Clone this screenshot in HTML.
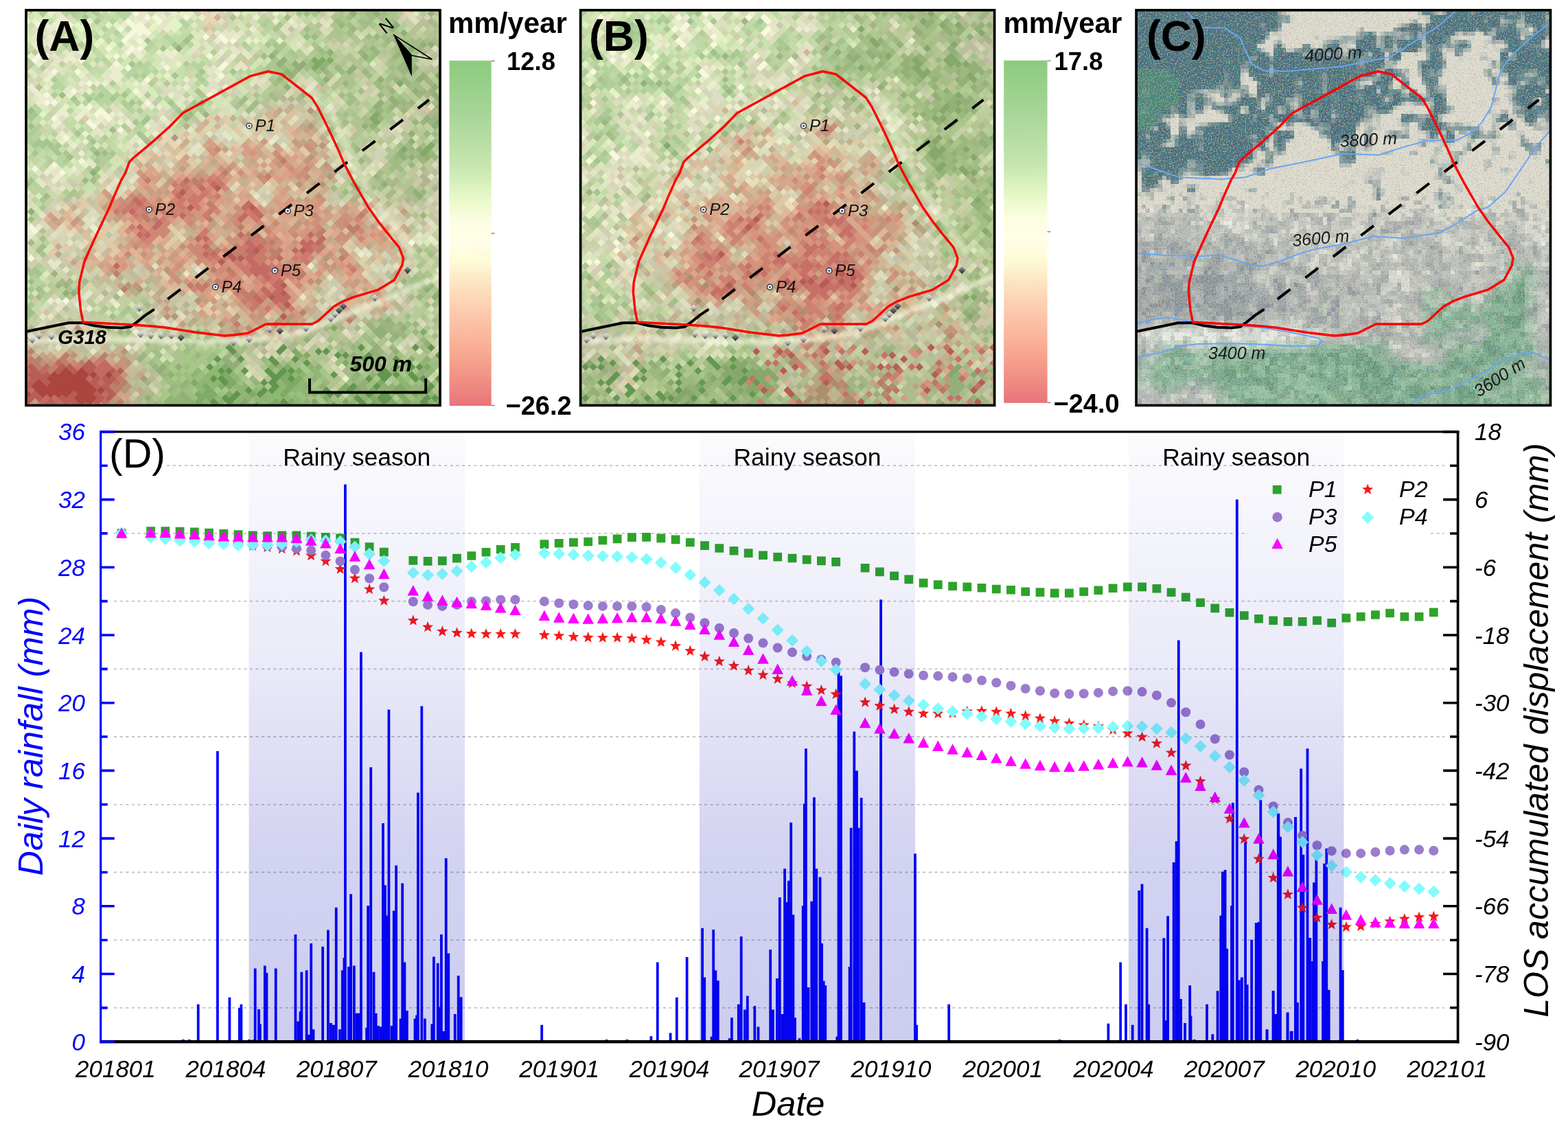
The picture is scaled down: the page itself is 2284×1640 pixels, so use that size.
<!DOCTYPE html><html><head><meta charset="utf-8"><title>Figure</title><style>html,body{margin:0;padding:0;background:#fff}svg{display:block}</style></head><body>
<svg xmlns="http://www.w3.org/2000/svg" width="2284" height="1640" viewBox="0 0 2284 1640">
<rect width="2284" height="1640" fill="#fff"/>
<defs>
<clipPath id="clipA"><rect x="39.9" y="16.6" width="599.3" height="571.9"/></clipPath>
<filter id="blurA" x="-40.1" y="-63.4" width="759.3" height="731.9" filterUnits="userSpaceOnUse"><feGaussianBlur stdDeviation="22"/></filter>
<clipPath id="clipB"><rect x="847.4" y="16.6" width="599.3" height="571.9"/></clipPath>
<filter id="blurB" x="767.4" y="-63.4" width="759.3" height="731.9" filterUnits="userSpaceOnUse"><feGaussianBlur stdDeviation="22"/></filter>
<clipPath id="clipC"><rect x="1657.1" y="16.6" width="601.4" height="571.9"/></clipPath>
<filter id="blurC" x="1577.1" y="-63.4" width="761.4" height="731.9" filterUnits="userSpaceOnUse"><feGaussianBlur stdDeviation="22"/></filter>
<filter id="grain" x="0" y="0" width="1" height="1" color-interpolation-filters="sRGB"><feTurbulence type="fractalNoise" baseFrequency="0.55" numOctaves="1" seed="7" result="n"/><feColorMatrix in="n" type="matrix" values="0 0 0 0 0.30  0 0 0 0 0.28  0 0 0 0 0.48  -12 0 0 0 4.7" result="a"/><feColorMatrix in="n" type="matrix" values="0 0 0 0 0.78  0 0 0 0 0.70  0 0 0 0 0.52  0 -12 0 0 4.9" result="b"/><feMerge><feMergeNode in="a"/><feMergeNode in="b"/></feMerge></filter>
<filter id="hlb" x="-0.1" y="-0.5" width="1.2" height="2"><feGaussianBlur stdDeviation="2.5"/></filter>
<filter id="grain2" x="0" y="0" width="1" height="1" color-interpolation-filters="sRGB"><feTurbulence type="fractalNoise" baseFrequency="0.5" numOctaves="1" seed="3" result="n"/><feColorMatrix in="n" type="matrix" values="0 0 0 0 0.36  0 0 0 0 0.30  0 0 0 0 0.55  -9 0 0 0 3.9" result="a"/><feColorMatrix in="n" type="matrix" values="0 0 0 0 0.80  0 0 0 0 0.72  0 0 0 0 0.55  0 -9 0 0 3.9" result="b"/><feColorMatrix in="n" type="matrix" values="0 0 0 0 0.30  0 0 0 0 0.62  0 0 0 0 0.60  0 0 -7 0 3.6" result="c"/><feMerge><feMergeNode in="c"/><feMergeNode in="a"/><feMergeNode in="b"/></feMerge></filter>
<linearGradient id="rc0" x1="0" y1="0" x2="0" y2="1"><stop offset="0" stop-color="#f0f0f0"/><stop offset="0.5" stop-color="#b8b8b8"/><stop offset="1" stop-color="#404040"/></linearGradient>
<linearGradient id="rc1" x1="0" y1="0" x2="0" y2="1"><stop offset="0" stop-color="#a0a0a0"/><stop offset="1" stop-color="#202020"/></linearGradient>
<linearGradient id="cbar" x1="0" y1="0" x2="0" y2="1"><stop offset="0" stop-color="#8ccb7e"/><stop offset="0.15" stop-color="#a6d597"/><stop offset="0.3" stop-color="#c5e6ae"/><stop offset="0.4" stop-color="#e8f8c8"/><stop offset="0.46" stop-color="#fcfde0"/><stop offset="0.52" stop-color="#fffee8"/><stop offset="0.58" stop-color="#fefbd8"/><stop offset="0.65" stop-color="#fde3c0"/><stop offset="0.75" stop-color="#fcc4a8"/><stop offset="0.85" stop-color="#f8a890"/><stop offset="0.95" stop-color="#ee8680"/><stop offset="1" stop-color="#e8747a"/></linearGradient>
</defs>
<g clip-path="url(#clipA)"><g filter="url(#blurA)">
<rect x="-20.6" y="-41" width="60.9" height="58.2" fill="#c3dcaa"/>
<rect x="39.4" y="-41" width="60.9" height="58.2" fill="#c3dcaa"/>
<rect x="99.3" y="-41" width="60.9" height="58.2" fill="#c8e1af"/>
<rect x="159.2" y="-41" width="60.9" height="58.2" fill="#d2e8b9"/>
<rect x="219.1" y="-41" width="60.9" height="58.2" fill="#dcebbe"/>
<rect x="279.1" y="-41" width="60.9" height="58.2" fill="#e1e1be"/>
<rect x="339" y="-41" width="60.9" height="58.2" fill="#c8daaa"/>
<rect x="398.9" y="-41" width="60.9" height="58.2" fill="#bed4a0"/>
<rect x="458.9" y="-41" width="60.9" height="58.2" fill="#afc891"/>
<rect x="518.8" y="-41" width="60.9" height="58.2" fill="#aac38c"/>
<rect x="578.7" y="-41" width="60.9" height="58.2" fill="#b4c396"/>
<rect x="638.6" y="-41" width="60.9" height="58.2" fill="#b4c396"/>
<rect x="-20.6" y="16.1" width="60.9" height="58.2" fill="#c3dcaa"/>
<rect x="39.4" y="16.1" width="60.9" height="58.2" fill="#c3dcaa"/>
<rect x="99.3" y="16.1" width="60.9" height="58.2" fill="#c8e1af"/>
<rect x="159.2" y="16.1" width="60.9" height="58.2" fill="#d2e8b9"/>
<rect x="219.1" y="16.1" width="60.9" height="58.2" fill="#dcebbe"/>
<rect x="279.1" y="16.1" width="60.9" height="58.2" fill="#e1e1be"/>
<rect x="339" y="16.1" width="60.9" height="58.2" fill="#c8daaa"/>
<rect x="398.9" y="16.1" width="60.9" height="58.2" fill="#bed4a0"/>
<rect x="458.9" y="16.1" width="60.9" height="58.2" fill="#afc891"/>
<rect x="518.8" y="16.1" width="60.9" height="58.2" fill="#aac38c"/>
<rect x="578.7" y="16.1" width="60.9" height="58.2" fill="#b4c396"/>
<rect x="638.6" y="16.1" width="60.9" height="58.2" fill="#b4c396"/>
<rect x="-20.6" y="73.3" width="60.9" height="58.2" fill="#c8dcaf"/>
<rect x="39.4" y="73.3" width="60.9" height="58.2" fill="#c8dcaf"/>
<rect x="99.3" y="73.3" width="60.9" height="58.2" fill="#cde1b4"/>
<rect x="159.2" y="73.3" width="60.9" height="58.2" fill="#cde4b4"/>
<rect x="219.1" y="73.3" width="60.9" height="58.2" fill="#c8deaf"/>
<rect x="279.1" y="73.3" width="60.9" height="58.2" fill="#cddeb4"/>
<rect x="339" y="73.3" width="60.9" height="58.2" fill="#c3d7a5"/>
<rect x="398.9" y="73.3" width="60.9" height="58.2" fill="#afc891"/>
<rect x="458.9" y="73.3" width="60.9" height="58.2" fill="#aac38c"/>
<rect x="518.8" y="73.3" width="60.9" height="58.2" fill="#a5c087"/>
<rect x="578.7" y="73.3" width="60.9" height="58.2" fill="#aac08c"/>
<rect x="638.6" y="73.3" width="60.9" height="58.2" fill="#aac08c"/>
<rect x="-20.6" y="130.5" width="60.9" height="58.2" fill="#cddeb2"/>
<rect x="39.4" y="130.5" width="60.9" height="58.2" fill="#cddeb2"/>
<rect x="99.3" y="130.5" width="60.9" height="58.2" fill="#d2e4b9"/>
<rect x="159.2" y="130.5" width="60.9" height="58.2" fill="#c8deaf"/>
<rect x="219.1" y="130.5" width="60.9" height="58.2" fill="#cddeb4"/>
<rect x="279.1" y="130.5" width="60.9" height="58.2" fill="#d2deb2"/>
<rect x="339" y="130.5" width="60.9" height="58.2" fill="#cdd2aa"/>
<rect x="398.9" y="130.5" width="60.9" height="58.2" fill="#cdc8a5"/>
<rect x="458.9" y="130.5" width="60.9" height="58.2" fill="#c3d2a0"/>
<rect x="518.8" y="130.5" width="60.9" height="58.2" fill="#a0bc82"/>
<rect x="578.7" y="130.5" width="60.9" height="58.2" fill="#a5be87"/>
<rect x="638.6" y="130.5" width="60.9" height="58.2" fill="#a5be87"/>
<rect x="-20.6" y="187.7" width="60.9" height="58.2" fill="#cddeb2"/>
<rect x="39.4" y="187.7" width="60.9" height="58.2" fill="#cddeb2"/>
<rect x="99.3" y="187.7" width="60.9" height="58.2" fill="#c8dcac"/>
<rect x="159.2" y="187.7" width="60.9" height="58.2" fill="#cddcb2"/>
<rect x="219.1" y="187.7" width="60.9" height="58.2" fill="#d7d7b4"/>
<rect x="279.1" y="187.7" width="60.9" height="58.2" fill="#d7b496"/>
<rect x="339" y="187.7" width="60.9" height="58.2" fill="#d7af91"/>
<rect x="398.9" y="187.7" width="60.9" height="58.2" fill="#d7aa8c"/>
<rect x="458.9" y="187.7" width="60.9" height="58.2" fill="#c8d2a5"/>
<rect x="518.8" y="187.7" width="60.9" height="58.2" fill="#aac38c"/>
<rect x="578.7" y="187.7" width="60.9" height="58.2" fill="#aac08c"/>
<rect x="638.6" y="187.7" width="60.9" height="58.2" fill="#aac08c"/>
<rect x="-20.6" y="244.9" width="60.9" height="58.2" fill="#d2deb4"/>
<rect x="39.4" y="244.9" width="60.9" height="58.2" fill="#d2deb4"/>
<rect x="99.3" y="244.9" width="60.9" height="58.2" fill="#cddcaf"/>
<rect x="159.2" y="244.9" width="60.9" height="58.2" fill="#dcc8a5"/>
<rect x="219.1" y="244.9" width="60.9" height="58.2" fill="#d7a082"/>
<rect x="279.1" y="244.9" width="60.9" height="58.2" fill="#d28c78"/>
<rect x="339" y="244.9" width="60.9" height="58.2" fill="#d7a087"/>
<rect x="398.9" y="244.9" width="60.9" height="58.2" fill="#d2967d"/>
<rect x="458.9" y="244.9" width="60.9" height="58.2" fill="#c8c8a0"/>
<rect x="518.8" y="244.9" width="60.9" height="58.2" fill="#b9c896"/>
<rect x="578.7" y="244.9" width="60.9" height="58.2" fill="#b9c396"/>
<rect x="638.6" y="244.9" width="60.9" height="58.2" fill="#b9c396"/>
<rect x="-20.6" y="302.1" width="60.9" height="58.2" fill="#d7e1b9"/>
<rect x="39.4" y="302.1" width="60.9" height="58.2" fill="#d7e1b9"/>
<rect x="99.3" y="302.1" width="60.9" height="58.2" fill="#d7c8a5"/>
<rect x="159.2" y="302.1" width="60.9" height="58.2" fill="#d7af91"/>
<rect x="219.1" y="302.1" width="60.9" height="58.2" fill="#d2967d"/>
<rect x="279.1" y="302.1" width="60.9" height="58.2" fill="#cd8c78"/>
<rect x="339" y="302.1" width="60.9" height="58.2" fill="#d7a087"/>
<rect x="398.9" y="302.1" width="60.9" height="58.2" fill="#d4a087"/>
<rect x="458.9" y="302.1" width="60.9" height="58.2" fill="#d29682"/>
<rect x="518.8" y="302.1" width="60.9" height="58.2" fill="#d7b99b"/>
<rect x="578.7" y="302.1" width="60.9" height="58.2" fill="#cdd2aa"/>
<rect x="638.6" y="302.1" width="60.9" height="58.2" fill="#cdd2aa"/>
<rect x="-20.6" y="359.3" width="60.9" height="58.2" fill="#cddaaf"/>
<rect x="39.4" y="359.3" width="60.9" height="58.2" fill="#cddaaf"/>
<rect x="99.3" y="359.3" width="60.9" height="58.2" fill="#d2cdaa"/>
<rect x="159.2" y="359.3" width="60.9" height="58.2" fill="#d4aa8c"/>
<rect x="219.1" y="359.3" width="60.9" height="58.2" fill="#d7af91"/>
<rect x="279.1" y="359.3" width="60.9" height="58.2" fill="#d2967d"/>
<rect x="339" y="359.3" width="60.9" height="58.2" fill="#cd7869"/>
<rect x="398.9" y="359.3" width="60.9" height="58.2" fill="#d28c78"/>
<rect x="458.9" y="359.3" width="60.9" height="58.2" fill="#d7af91"/>
<rect x="518.8" y="359.3" width="60.9" height="58.2" fill="#d7b99b"/>
<rect x="578.7" y="359.3" width="60.9" height="58.2" fill="#c3d2a0"/>
<rect x="638.6" y="359.3" width="60.9" height="58.2" fill="#c3d2a0"/>
<rect x="-20.6" y="416.5" width="60.9" height="58.2" fill="#c3d7a5"/>
<rect x="39.4" y="416.5" width="60.9" height="58.2" fill="#c3d7a5"/>
<rect x="99.3" y="416.5" width="60.9" height="58.2" fill="#bed2a0"/>
<rect x="159.2" y="416.5" width="60.9" height="58.2" fill="#afcd96"/>
<rect x="219.1" y="416.5" width="60.9" height="58.2" fill="#cdc3a0"/>
<rect x="279.1" y="416.5" width="60.9" height="58.2" fill="#d7aa8c"/>
<rect x="339" y="416.5" width="60.9" height="58.2" fill="#d28c78"/>
<rect x="398.9" y="416.5" width="60.9" height="58.2" fill="#d4a087"/>
<rect x="458.9" y="416.5" width="60.9" height="58.2" fill="#c8be9b"/>
<rect x="518.8" y="416.5" width="60.9" height="58.2" fill="#cdc3a0"/>
<rect x="578.7" y="416.5" width="60.9" height="58.2" fill="#b9cd96"/>
<rect x="638.6" y="416.5" width="60.9" height="58.2" fill="#b9cd96"/>
<rect x="-20.6" y="473.7" width="60.9" height="58.2" fill="#c8bea0"/>
<rect x="39.4" y="473.7" width="60.9" height="58.2" fill="#c8bea0"/>
<rect x="99.3" y="473.7" width="60.9" height="58.2" fill="#cdbea0"/>
<rect x="159.2" y="473.7" width="60.9" height="58.2" fill="#c8d2a5"/>
<rect x="219.1" y="473.7" width="60.9" height="58.2" fill="#b9cd9b"/>
<rect x="279.1" y="473.7" width="60.9" height="58.2" fill="#b9cd96"/>
<rect x="339" y="473.7" width="60.9" height="58.2" fill="#b9c89b"/>
<rect x="398.9" y="473.7" width="60.9" height="58.2" fill="#afc391"/>
<rect x="458.9" y="473.7" width="60.9" height="58.2" fill="#b4c896"/>
<rect x="518.8" y="473.7" width="60.9" height="58.2" fill="#afc391"/>
<rect x="578.7" y="473.7" width="60.9" height="58.2" fill="#b4c896"/>
<rect x="638.6" y="473.7" width="60.9" height="58.2" fill="#b4c896"/>
<rect x="-20.6" y="530.9" width="60.9" height="58.2" fill="#be645a"/>
<rect x="39.4" y="530.9" width="60.9" height="58.2" fill="#be645a"/>
<rect x="99.3" y="530.9" width="60.9" height="58.2" fill="#c86e5f"/>
<rect x="159.2" y="530.9" width="60.9" height="58.2" fill="#c3b491"/>
<rect x="219.1" y="530.9" width="60.9" height="58.2" fill="#96be78"/>
<rect x="279.1" y="530.9" width="60.9" height="58.2" fill="#8cb96e"/>
<rect x="339" y="530.9" width="60.9" height="58.2" fill="#96b978"/>
<rect x="398.9" y="530.9" width="60.9" height="58.2" fill="#8cb46e"/>
<rect x="458.9" y="530.9" width="60.9" height="58.2" fill="#a5be82"/>
<rect x="518.8" y="530.9" width="60.9" height="58.2" fill="#96b978"/>
<rect x="578.7" y="530.9" width="60.9" height="58.2" fill="#91b473"/>
<rect x="638.6" y="530.9" width="60.9" height="58.2" fill="#91b473"/>
<rect x="-20.6" y="588" width="60.9" height="58.2" fill="#be645a"/>
<rect x="39.4" y="588" width="60.9" height="58.2" fill="#be645a"/>
<rect x="99.3" y="588" width="60.9" height="58.2" fill="#c86e5f"/>
<rect x="159.2" y="588" width="60.9" height="58.2" fill="#c3b491"/>
<rect x="219.1" y="588" width="60.9" height="58.2" fill="#96be78"/>
<rect x="279.1" y="588" width="60.9" height="58.2" fill="#8cb96e"/>
<rect x="339" y="588" width="60.9" height="58.2" fill="#96b978"/>
<rect x="398.9" y="588" width="60.9" height="58.2" fill="#8cb46e"/>
<rect x="458.9" y="588" width="60.9" height="58.2" fill="#a5be82"/>
<rect x="518.8" y="588" width="60.9" height="58.2" fill="#96b978"/>
<rect x="578.7" y="588" width="60.9" height="58.2" fill="#91b473"/>
<rect x="638.6" y="588" width="60.9" height="58.2" fill="#91b473"/>
</g></g>
<g clip-path="url(#clipB)"><g filter="url(#blurB)">
<rect x="787" y="-41" width="60.9" height="58.2" fill="#c3dcaa"/>
<rect x="846.9" y="-41" width="60.9" height="58.2" fill="#c3dcaa"/>
<rect x="906.8" y="-41" width="60.9" height="58.2" fill="#cde4b4"/>
<rect x="966.8" y="-41" width="60.9" height="58.2" fill="#d2e6b9"/>
<rect x="1026.7" y="-41" width="60.9" height="58.2" fill="#d2e4b4"/>
<rect x="1086.6" y="-41" width="60.9" height="58.2" fill="#cddeb2"/>
<rect x="1146.5" y="-41" width="60.9" height="58.2" fill="#c3d7a5"/>
<rect x="1206.5" y="-41" width="60.9" height="58.2" fill="#afc894"/>
<rect x="1266.4" y="-41" width="60.9" height="58.2" fill="#aac38c"/>
<rect x="1326.3" y="-41" width="60.9" height="58.2" fill="#afc391"/>
<rect x="1386.3" y="-41" width="60.9" height="58.2" fill="#b9c39b"/>
<rect x="1446.2" y="-41" width="60.9" height="58.2" fill="#b9c39b"/>
<rect x="787" y="16.1" width="60.9" height="58.2" fill="#c3dcaa"/>
<rect x="846.9" y="16.1" width="60.9" height="58.2" fill="#c3dcaa"/>
<rect x="906.8" y="16.1" width="60.9" height="58.2" fill="#cde4b4"/>
<rect x="966.8" y="16.1" width="60.9" height="58.2" fill="#d2e6b9"/>
<rect x="1026.7" y="16.1" width="60.9" height="58.2" fill="#d2e4b4"/>
<rect x="1086.6" y="16.1" width="60.9" height="58.2" fill="#cddeb2"/>
<rect x="1146.5" y="16.1" width="60.9" height="58.2" fill="#c3d7a5"/>
<rect x="1206.5" y="16.1" width="60.9" height="58.2" fill="#afc894"/>
<rect x="1266.4" y="16.1" width="60.9" height="58.2" fill="#aac38c"/>
<rect x="1326.3" y="16.1" width="60.9" height="58.2" fill="#afc391"/>
<rect x="1386.3" y="16.1" width="60.9" height="58.2" fill="#b9c39b"/>
<rect x="1446.2" y="16.1" width="60.9" height="58.2" fill="#b9c39b"/>
<rect x="787" y="73.3" width="60.9" height="58.2" fill="#c3daa8"/>
<rect x="846.9" y="73.3" width="60.9" height="58.2" fill="#c3daa8"/>
<rect x="906.8" y="73.3" width="60.9" height="58.2" fill="#cde1b2"/>
<rect x="966.8" y="73.3" width="60.9" height="58.2" fill="#d2e4b6"/>
<rect x="1026.7" y="73.3" width="60.9" height="58.2" fill="#cddeb2"/>
<rect x="1086.6" y="73.3" width="60.9" height="58.2" fill="#c8daac"/>
<rect x="1146.5" y="73.3" width="60.9" height="58.2" fill="#c3d4a5"/>
<rect x="1206.5" y="73.3" width="60.9" height="58.2" fill="#aac38e"/>
<rect x="1266.4" y="73.3" width="60.9" height="58.2" fill="#a0be82"/>
<rect x="1326.3" y="73.3" width="60.9" height="58.2" fill="#a5be87"/>
<rect x="1386.3" y="73.3" width="60.9" height="58.2" fill="#afc091"/>
<rect x="1446.2" y="73.3" width="60.9" height="58.2" fill="#afc091"/>
<rect x="787" y="130.5" width="60.9" height="58.2" fill="#c3d7a8"/>
<rect x="846.9" y="130.5" width="60.9" height="58.2" fill="#c3d7a8"/>
<rect x="906.8" y="130.5" width="60.9" height="58.2" fill="#d2deb4"/>
<rect x="966.8" y="130.5" width="60.9" height="58.2" fill="#cddcb2"/>
<rect x="1026.7" y="130.5" width="60.9" height="58.2" fill="#cddaaf"/>
<rect x="1086.6" y="130.5" width="60.9" height="58.2" fill="#cddaaf"/>
<rect x="1146.5" y="130.5" width="60.9" height="58.2" fill="#cdd2aa"/>
<rect x="1206.5" y="130.5" width="60.9" height="58.2" fill="#c3cda0"/>
<rect x="1266.4" y="130.5" width="60.9" height="58.2" fill="#b9cd96"/>
<rect x="1326.3" y="130.5" width="60.9" height="58.2" fill="#a0bc80"/>
<rect x="1386.3" y="130.5" width="60.9" height="58.2" fill="#a0bc80"/>
<rect x="1446.2" y="130.5" width="60.9" height="58.2" fill="#a0bc80"/>
<rect x="787" y="187.7" width="60.9" height="58.2" fill="#c8daac"/>
<rect x="846.9" y="187.7" width="60.9" height="58.2" fill="#c8daac"/>
<rect x="906.8" y="187.7" width="60.9" height="58.2" fill="#cddcaf"/>
<rect x="966.8" y="187.7" width="60.9" height="58.2" fill="#d2dcb2"/>
<rect x="1026.7" y="187.7" width="60.9" height="58.2" fill="#d7d4b2"/>
<rect x="1086.6" y="187.7" width="60.9" height="58.2" fill="#dccdaa"/>
<rect x="1146.5" y="187.7" width="60.9" height="58.2" fill="#d7c8a5"/>
<rect x="1206.5" y="187.7" width="60.9" height="58.2" fill="#d2c3a0"/>
<rect x="1266.4" y="187.7" width="60.9" height="58.2" fill="#c3d4a0"/>
<rect x="1326.3" y="187.7" width="60.9" height="58.2" fill="#a5be82"/>
<rect x="1386.3" y="187.7" width="60.9" height="58.2" fill="#a5be84"/>
<rect x="1446.2" y="187.7" width="60.9" height="58.2" fill="#a5be84"/>
<rect x="787" y="244.9" width="60.9" height="58.2" fill="#cddaaf"/>
<rect x="846.9" y="244.9" width="60.9" height="58.2" fill="#cddaaf"/>
<rect x="906.8" y="244.9" width="60.9" height="58.2" fill="#d0daaf"/>
<rect x="966.8" y="244.9" width="60.9" height="58.2" fill="#d7d2af"/>
<rect x="1026.7" y="244.9" width="60.9" height="58.2" fill="#dabea0"/>
<rect x="1086.6" y="244.9" width="60.9" height="58.2" fill="#d7b496"/>
<rect x="1146.5" y="244.9" width="60.9" height="58.2" fill="#d7aa8c"/>
<rect x="1206.5" y="244.9" width="60.9" height="58.2" fill="#d4a58c"/>
<rect x="1266.4" y="244.9" width="60.9" height="58.2" fill="#c8cda5"/>
<rect x="1326.3" y="244.9" width="60.9" height="58.2" fill="#afc38c"/>
<rect x="1386.3" y="244.9" width="60.9" height="58.2" fill="#afc38c"/>
<rect x="1446.2" y="244.9" width="60.9" height="58.2" fill="#afc38c"/>
<rect x="787" y="302.1" width="60.9" height="58.2" fill="#d4deb4"/>
<rect x="846.9" y="302.1" width="60.9" height="58.2" fill="#d4deb4"/>
<rect x="906.8" y="302.1" width="60.9" height="58.2" fill="#d7d2ac"/>
<rect x="966.8" y="302.1" width="60.9" height="58.2" fill="#d7c3a0"/>
<rect x="1026.7" y="302.1" width="60.9" height="58.2" fill="#d2a082"/>
<rect x="1086.6" y="302.1" width="60.9" height="58.2" fill="#d4a087"/>
<rect x="1146.5" y="302.1" width="60.9" height="58.2" fill="#d49682"/>
<rect x="1206.5" y="302.1" width="60.9" height="58.2" fill="#d49b84"/>
<rect x="1266.4" y="302.1" width="60.9" height="58.2" fill="#d2b496"/>
<rect x="1326.3" y="302.1" width="60.9" height="58.2" fill="#c3cda0"/>
<rect x="1386.3" y="302.1" width="60.9" height="58.2" fill="#b9cd96"/>
<rect x="1446.2" y="302.1" width="60.9" height="58.2" fill="#b9cd96"/>
<rect x="787" y="359.3" width="60.9" height="58.2" fill="#c8d7aa"/>
<rect x="846.9" y="359.3" width="60.9" height="58.2" fill="#c8d7aa"/>
<rect x="906.8" y="359.3" width="60.9" height="58.2" fill="#cdcda8"/>
<rect x="966.8" y="359.3" width="60.9" height="58.2" fill="#d4af91"/>
<rect x="1026.7" y="359.3" width="60.9" height="58.2" fill="#d2a087"/>
<rect x="1086.6" y="359.3" width="60.9" height="58.2" fill="#d29682"/>
<rect x="1146.5" y="359.3" width="60.9" height="58.2" fill="#cd7d6e"/>
<rect x="1206.5" y="359.3" width="60.9" height="58.2" fill="#d2917d"/>
<rect x="1266.4" y="359.3" width="60.9" height="58.2" fill="#d2b99b"/>
<rect x="1326.3" y="359.3" width="60.9" height="58.2" fill="#c8c8a0"/>
<rect x="1386.3" y="359.3" width="60.9" height="58.2" fill="#becd9b"/>
<rect x="1446.2" y="359.3" width="60.9" height="58.2" fill="#becd9b"/>
<rect x="787" y="416.5" width="60.9" height="58.2" fill="#c3d4a5"/>
<rect x="846.9" y="416.5" width="60.9" height="58.2" fill="#c3d4a5"/>
<rect x="906.8" y="416.5" width="60.9" height="58.2" fill="#c3d2a0"/>
<rect x="966.8" y="416.5" width="60.9" height="58.2" fill="#cdbe9b"/>
<rect x="1026.7" y="416.5" width="60.9" height="58.2" fill="#cdb99b"/>
<rect x="1086.6" y="416.5" width="60.9" height="58.2" fill="#cdaa91"/>
<rect x="1146.5" y="416.5" width="60.9" height="58.2" fill="#d08c78"/>
<rect x="1206.5" y="416.5" width="60.9" height="58.2" fill="#d2a087"/>
<rect x="1266.4" y="416.5" width="60.9" height="58.2" fill="#cdb996"/>
<rect x="1326.3" y="416.5" width="60.9" height="58.2" fill="#c8c8a0"/>
<rect x="1386.3" y="416.5" width="60.9" height="58.2" fill="#c3c89b"/>
<rect x="1446.2" y="416.5" width="60.9" height="58.2" fill="#c3c89b"/>
<rect x="787" y="473.7" width="60.9" height="58.2" fill="#bec3a0"/>
<rect x="846.9" y="473.7" width="60.9" height="58.2" fill="#bec3a0"/>
<rect x="906.8" y="473.7" width="60.9" height="58.2" fill="#c8c3a0"/>
<rect x="966.8" y="473.7" width="60.9" height="58.2" fill="#c3d2a0"/>
<rect x="1026.7" y="473.7" width="60.9" height="58.2" fill="#b4cd96"/>
<rect x="1086.6" y="473.7" width="60.9" height="58.2" fill="#b9c896"/>
<rect x="1146.5" y="473.7" width="60.9" height="58.2" fill="#c8af91"/>
<rect x="1206.5" y="473.7" width="60.9" height="58.2" fill="#c3be96"/>
<rect x="1266.4" y="473.7" width="60.9" height="58.2" fill="#b4c391"/>
<rect x="1326.3" y="473.7" width="60.9" height="58.2" fill="#c3be96"/>
<rect x="1386.3" y="473.7" width="60.9" height="58.2" fill="#c3c396"/>
<rect x="1446.2" y="473.7" width="60.9" height="58.2" fill="#c3c396"/>
<rect x="787" y="530.9" width="60.9" height="58.2" fill="#afbe8c"/>
<rect x="846.9" y="530.9" width="60.9" height="58.2" fill="#afbe8c"/>
<rect x="906.8" y="530.9" width="60.9" height="58.2" fill="#a0be7d"/>
<rect x="966.8" y="530.9" width="60.9" height="58.2" fill="#96b973"/>
<rect x="1026.7" y="530.9" width="60.9" height="58.2" fill="#96b473"/>
<rect x="1086.6" y="530.9" width="60.9" height="58.2" fill="#96b673"/>
<rect x="1146.5" y="530.9" width="60.9" height="58.2" fill="#b4b487"/>
<rect x="1206.5" y="530.9" width="60.9" height="58.2" fill="#afaf82"/>
<rect x="1266.4" y="530.9" width="60.9" height="58.2" fill="#b4b284"/>
<rect x="1326.3" y="530.9" width="60.9" height="58.2" fill="#b4b487"/>
<rect x="1386.3" y="530.9" width="60.9" height="58.2" fill="#afb98c"/>
<rect x="1446.2" y="530.9" width="60.9" height="58.2" fill="#afb98c"/>
<rect x="787" y="588" width="60.9" height="58.2" fill="#afbe8c"/>
<rect x="846.9" y="588" width="60.9" height="58.2" fill="#afbe8c"/>
<rect x="906.8" y="588" width="60.9" height="58.2" fill="#a0be7d"/>
<rect x="966.8" y="588" width="60.9" height="58.2" fill="#96b973"/>
<rect x="1026.7" y="588" width="60.9" height="58.2" fill="#96b473"/>
<rect x="1086.6" y="588" width="60.9" height="58.2" fill="#96b673"/>
<rect x="1146.5" y="588" width="60.9" height="58.2" fill="#b4b487"/>
<rect x="1206.5" y="588" width="60.9" height="58.2" fill="#afaf82"/>
<rect x="1266.4" y="588" width="60.9" height="58.2" fill="#b4b284"/>
<rect x="1326.3" y="588" width="60.9" height="58.2" fill="#b4b487"/>
<rect x="1386.3" y="588" width="60.9" height="58.2" fill="#afb98c"/>
<rect x="1446.2" y="588" width="60.9" height="58.2" fill="#afb98c"/>
</g></g>
<g clip-path="url(#clipC)"><g filter="url(#blurC)">
<rect x="1596.5" y="-41" width="61.1" height="58.2" fill="#5f8282"/>
<rect x="1656.6" y="-41" width="61.1" height="58.2" fill="#5f8282"/>
<rect x="1716.7" y="-41" width="61.1" height="58.2" fill="#6e8c87"/>
<rect x="1776.9" y="-41" width="61.1" height="58.2" fill="#6e8c8c"/>
<rect x="1837" y="-41" width="61.1" height="58.2" fill="#829691"/>
<rect x="1897.2" y="-41" width="61.1" height="58.2" fill="#d2d0c3"/>
<rect x="1957.3" y="-41" width="61.1" height="58.2" fill="#d7d4c8"/>
<rect x="2017.4" y="-41" width="61.1" height="58.2" fill="#b4b9af"/>
<rect x="2077.6" y="-41" width="61.1" height="58.2" fill="#78918c"/>
<rect x="2137.7" y="-41" width="61.1" height="58.2" fill="#8c9b96"/>
<rect x="2197.9" y="-41" width="61.1" height="58.2" fill="#96a096"/>
<rect x="2258" y="-41" width="61.1" height="58.2" fill="#96a096"/>
<rect x="1596.5" y="16.1" width="61.1" height="58.2" fill="#5f8282"/>
<rect x="1656.6" y="16.1" width="61.1" height="58.2" fill="#5f8282"/>
<rect x="1716.7" y="16.1" width="61.1" height="58.2" fill="#6e8c87"/>
<rect x="1776.9" y="16.1" width="61.1" height="58.2" fill="#6e8c8c"/>
<rect x="1837" y="16.1" width="61.1" height="58.2" fill="#829691"/>
<rect x="1897.2" y="16.1" width="61.1" height="58.2" fill="#d2d0c3"/>
<rect x="1957.3" y="16.1" width="61.1" height="58.2" fill="#d7d4c8"/>
<rect x="2017.4" y="16.1" width="61.1" height="58.2" fill="#b4b9af"/>
<rect x="2077.6" y="16.1" width="61.1" height="58.2" fill="#78918c"/>
<rect x="2137.7" y="16.1" width="61.1" height="58.2" fill="#8c9b96"/>
<rect x="2197.9" y="16.1" width="61.1" height="58.2" fill="#96a096"/>
<rect x="2258" y="16.1" width="61.1" height="58.2" fill="#96a096"/>
<rect x="1596.5" y="73.3" width="61.1" height="58.2" fill="#648782"/>
<rect x="1656.6" y="73.3" width="61.1" height="58.2" fill="#648782"/>
<rect x="1716.7" y="73.3" width="61.1" height="58.2" fill="#6e8c87"/>
<rect x="1776.9" y="73.3" width="61.1" height="58.2" fill="#7d918c"/>
<rect x="1837" y="73.3" width="61.1" height="58.2" fill="#96a59b"/>
<rect x="1897.2" y="73.3" width="61.1" height="58.2" fill="#8c9b96"/>
<rect x="1957.3" y="73.3" width="61.1" height="58.2" fill="#789187"/>
<rect x="2017.4" y="73.3" width="61.1" height="58.2" fill="#96a59b"/>
<rect x="2077.6" y="73.3" width="61.1" height="58.2" fill="#c8c8bc"/>
<rect x="2137.7" y="73.3" width="61.1" height="58.2" fill="#c8c8be"/>
<rect x="2197.9" y="73.3" width="61.1" height="58.2" fill="#8c9b96"/>
<rect x="2258" y="73.3" width="61.1" height="58.2" fill="#8c9b96"/>
<rect x="1596.5" y="130.5" width="61.1" height="58.2" fill="#5f8c7d"/>
<rect x="1656.6" y="130.5" width="61.1" height="58.2" fill="#5f8c7d"/>
<rect x="1716.7" y="130.5" width="61.1" height="58.2" fill="#96a59b"/>
<rect x="1776.9" y="130.5" width="61.1" height="58.2" fill="#789187"/>
<rect x="1837" y="130.5" width="61.1" height="58.2" fill="#7d948c"/>
<rect x="1897.2" y="130.5" width="61.1" height="58.2" fill="#78918c"/>
<rect x="1957.3" y="130.5" width="61.1" height="58.2" fill="#6e8c87"/>
<rect x="2017.4" y="130.5" width="61.1" height="58.2" fill="#8c9b94"/>
<rect x="2077.6" y="130.5" width="61.1" height="58.2" fill="#d7d4c8"/>
<rect x="2137.7" y="130.5" width="61.1" height="58.2" fill="#b4b9af"/>
<rect x="2197.9" y="130.5" width="61.1" height="58.2" fill="#829691"/>
<rect x="2258" y="130.5" width="61.1" height="58.2" fill="#829691"/>
<rect x="1596.5" y="187.7" width="61.1" height="58.2" fill="#789187"/>
<rect x="1656.6" y="187.7" width="61.1" height="58.2" fill="#789187"/>
<rect x="1716.7" y="187.7" width="61.1" height="58.2" fill="#6e8c82"/>
<rect x="1776.9" y="187.7" width="61.1" height="58.2" fill="#789187"/>
<rect x="1837" y="187.7" width="61.1" height="58.2" fill="#8c9b91"/>
<rect x="1897.2" y="187.7" width="61.1" height="58.2" fill="#bec3b4"/>
<rect x="1957.3" y="187.7" width="61.1" height="58.2" fill="#bec3b4"/>
<rect x="2017.4" y="187.7" width="61.1" height="58.2" fill="#b9beb4"/>
<rect x="2077.6" y="187.7" width="61.1" height="58.2" fill="#c8c8be"/>
<rect x="2137.7" y="187.7" width="61.1" height="58.2" fill="#bec0b6"/>
<rect x="2197.9" y="187.7" width="61.1" height="58.2" fill="#aab4aa"/>
<rect x="2258" y="187.7" width="61.1" height="58.2" fill="#aab4aa"/>
<rect x="1596.5" y="244.9" width="61.1" height="58.2" fill="#bec3b4"/>
<rect x="1656.6" y="244.9" width="61.1" height="58.2" fill="#bec3b4"/>
<rect x="1716.7" y="244.9" width="61.1" height="58.2" fill="#b4b9aa"/>
<rect x="1776.9" y="244.9" width="61.1" height="58.2" fill="#bebeaf"/>
<rect x="1837" y="244.9" width="61.1" height="58.2" fill="#d2d0be"/>
<rect x="1897.2" y="244.9" width="61.1" height="58.2" fill="#d7d4c3"/>
<rect x="1957.3" y="244.9" width="61.1" height="58.2" fill="#c8c8be"/>
<rect x="2017.4" y="244.9" width="61.1" height="58.2" fill="#c8c8be"/>
<rect x="2077.6" y="244.9" width="61.1" height="58.2" fill="#c3c6bc"/>
<rect x="2137.7" y="244.9" width="61.1" height="58.2" fill="#cdcdc3"/>
<rect x="2197.9" y="244.9" width="61.1" height="58.2" fill="#c3c6bc"/>
<rect x="2258" y="244.9" width="61.1" height="58.2" fill="#c3c6bc"/>
<rect x="1596.5" y="302.1" width="61.1" height="58.2" fill="#b4b9af"/>
<rect x="1656.6" y="302.1" width="61.1" height="58.2" fill="#b4b9af"/>
<rect x="1716.7" y="302.1" width="61.1" height="58.2" fill="#c3c3b9"/>
<rect x="1776.9" y="302.1" width="61.1" height="58.2" fill="#bebeb4"/>
<rect x="1837" y="302.1" width="61.1" height="58.2" fill="#cdcdc3"/>
<rect x="1897.2" y="302.1" width="61.1" height="58.2" fill="#cdcdc3"/>
<rect x="1957.3" y="302.1" width="61.1" height="58.2" fill="#cdcdc3"/>
<rect x="2017.4" y="302.1" width="61.1" height="58.2" fill="#c8c8be"/>
<rect x="2077.6" y="302.1" width="61.1" height="58.2" fill="#cdcdc3"/>
<rect x="2137.7" y="302.1" width="61.1" height="58.2" fill="#c8cac0"/>
<rect x="2197.9" y="302.1" width="61.1" height="58.2" fill="#c8cdc3"/>
<rect x="2258" y="302.1" width="61.1" height="58.2" fill="#c8cdc3"/>
<rect x="1596.5" y="359.3" width="61.1" height="58.2" fill="#afb4af"/>
<rect x="1656.6" y="359.3" width="61.1" height="58.2" fill="#afb4af"/>
<rect x="1716.7" y="359.3" width="61.1" height="58.2" fill="#b9bcb4"/>
<rect x="1776.9" y="359.3" width="61.1" height="58.2" fill="#b9b9b2"/>
<rect x="1837" y="359.3" width="61.1" height="58.2" fill="#c3c3bc"/>
<rect x="1897.2" y="359.3" width="61.1" height="58.2" fill="#c8c8be"/>
<rect x="1957.3" y="359.3" width="61.1" height="58.2" fill="#c8c8be"/>
<rect x="2017.4" y="359.3" width="61.1" height="58.2" fill="#cdcdc3"/>
<rect x="2077.6" y="359.3" width="61.1" height="58.2" fill="#c3c6be"/>
<rect x="2137.7" y="359.3" width="61.1" height="58.2" fill="#c8c8c0"/>
<rect x="2197.9" y="359.3" width="61.1" height="58.2" fill="#c3cdc3"/>
<rect x="2258" y="359.3" width="61.1" height="58.2" fill="#c3cdc3"/>
<rect x="1596.5" y="416.5" width="61.1" height="58.2" fill="#a0a5aa"/>
<rect x="1656.6" y="416.5" width="61.1" height="58.2" fill="#a0a5aa"/>
<rect x="1716.7" y="416.5" width="61.1" height="58.2" fill="#a5aaaa"/>
<rect x="1776.9" y="416.5" width="61.1" height="58.2" fill="#aaacac"/>
<rect x="1837" y="416.5" width="61.1" height="58.2" fill="#afb2af"/>
<rect x="1897.2" y="416.5" width="61.1" height="58.2" fill="#b4b6b2"/>
<rect x="1957.3" y="416.5" width="61.1" height="58.2" fill="#c3c6bc"/>
<rect x="2017.4" y="416.5" width="61.1" height="58.2" fill="#cdcdc3"/>
<rect x="2077.6" y="416.5" width="61.1" height="58.2" fill="#b9c8b4"/>
<rect x="2137.7" y="416.5" width="61.1" height="58.2" fill="#afc3af"/>
<rect x="2197.9" y="416.5" width="61.1" height="58.2" fill="#96afa0"/>
<rect x="2258" y="416.5" width="61.1" height="58.2" fill="#96afa0"/>
<rect x="1596.5" y="473.7" width="61.1" height="58.2" fill="#c8cdc8"/>
<rect x="1656.6" y="473.7" width="61.1" height="58.2" fill="#c8cdc8"/>
<rect x="1716.7" y="473.7" width="61.1" height="58.2" fill="#d7dad4"/>
<rect x="1776.9" y="473.7" width="61.1" height="58.2" fill="#dcded7"/>
<rect x="1837" y="473.7" width="61.1" height="58.2" fill="#cdd4c8"/>
<rect x="1897.2" y="473.7" width="61.1" height="58.2" fill="#c8d2c3"/>
<rect x="1957.3" y="473.7" width="61.1" height="58.2" fill="#afc3aa"/>
<rect x="2017.4" y="473.7" width="61.1" height="58.2" fill="#c8cdc3"/>
<rect x="2077.6" y="473.7" width="61.1" height="58.2" fill="#bec8b9"/>
<rect x="2137.7" y="473.7" width="61.1" height="58.2" fill="#8caf96"/>
<rect x="2197.9" y="473.7" width="61.1" height="58.2" fill="#a5beaa"/>
<rect x="2258" y="473.7" width="61.1" height="58.2" fill="#a5beaa"/>
<rect x="1596.5" y="530.9" width="61.1" height="58.2" fill="#b4c8af"/>
<rect x="1656.6" y="530.9" width="61.1" height="58.2" fill="#b4c8af"/>
<rect x="1716.7" y="530.9" width="61.1" height="58.2" fill="#a5c3a5"/>
<rect x="1776.9" y="530.9" width="61.1" height="58.2" fill="#aac6a8"/>
<rect x="1837" y="530.9" width="61.1" height="58.2" fill="#a0c3a0"/>
<rect x="1897.2" y="530.9" width="61.1" height="58.2" fill="#96be96"/>
<rect x="1957.3" y="530.9" width="61.1" height="58.2" fill="#8cb496"/>
<rect x="2017.4" y="530.9" width="61.1" height="58.2" fill="#8cb496"/>
<rect x="2077.6" y="530.9" width="61.1" height="58.2" fill="#96b99b"/>
<rect x="2137.7" y="530.9" width="61.1" height="58.2" fill="#91b496"/>
<rect x="2197.9" y="530.9" width="61.1" height="58.2" fill="#a0bea5"/>
<rect x="2258" y="530.9" width="61.1" height="58.2" fill="#a0bea5"/>
<rect x="1596.5" y="588" width="61.1" height="58.2" fill="#b4c8af"/>
<rect x="1656.6" y="588" width="61.1" height="58.2" fill="#b4c8af"/>
<rect x="1716.7" y="588" width="61.1" height="58.2" fill="#a5c3a5"/>
<rect x="1776.9" y="588" width="61.1" height="58.2" fill="#aac6a8"/>
<rect x="1837" y="588" width="61.1" height="58.2" fill="#a0c3a0"/>
<rect x="1897.2" y="588" width="61.1" height="58.2" fill="#96be96"/>
<rect x="1957.3" y="588" width="61.1" height="58.2" fill="#8cb496"/>
<rect x="2017.4" y="588" width="61.1" height="58.2" fill="#8cb496"/>
<rect x="2077.6" y="588" width="61.1" height="58.2" fill="#96b99b"/>
<rect x="2137.7" y="588" width="61.1" height="58.2" fill="#91b496"/>
<rect x="2197.9" y="588" width="61.1" height="58.2" fill="#a0bea5"/>
<rect x="2258" y="588" width="61.1" height="58.2" fill="#a0bea5"/>
</g></g>
<g clip-path="url(#clipA)"><g transform="translate(339.5 302.6) rotate(45) scale(8)">
<path fill="#d3d4b7" d="M-2 -50h1v1h-1zM0 -50h1v1h-1zM-3 -47h1v1h-1zM7 -47h1v1h-1zM5 -45h1v1h-1zM4 -44h1v1h-1zM0 -37h1v1h-1zM22 -31h1v1h-1zM-21 -30h1v1h-1zM-15 -30h1v1h-1zM-22 -29h1v1h-1zM24 -29h1v1h-1zM-20 -27h1v1h-1zM11 -27h1v1h-1zM11 -26h2v1h-2zM-1 -25h1v1h-1zM-27 -24h1v1h-1zM3 -24h1v1h-1zM13 -24h1v1h-1zM23 -24h1v1h-1zM6 -21h1v1h-1zM10 -21h1v1h-1zM32 -21h1v1h-1zM-8 -20h1v1h-1zM23 -20h1v1h-1zM-12 -19h1v1h-1zM22 -19h1v1h-1zM-13 -18h1v1h-1zM-6 -18h1v1h-1zM19 -18h1v1h-1zM36 -18h1v1h-1zM-21 -17h1v1h-1zM-19 -17h1v1h-1zM-15 -16h1v1h-1zM-4 -16h1v1h-1zM-25 -15h1v1h-1zM-18 -15h1v1h-1zM-32 -14h1v1h-1zM25 -14h1v1h-1zM28 -13h1v1h-1zM26 -12h1v1h-1zM35 -11h1v1h-1zM23 -10h1v1h-1zM26 -9h1v1h-1zM-20 -8h1v1h-1zM-9 -8h1v1h-1zM1 -7h1v1h-1zM33 -7h1v1h-1zM40 -7h1v1h-1zM1 -6h1v1h-1zM-21 -5h1v1h-1zM39 -5h1v1h-1zM-21 -4h1v1h-1zM31 -4h1v1h-1zM-17 -3h1v1h-1zM30 -3h1v1h-1zM-45 -2h1v1h-1zM-20 -2h1v1h-1zM23 -1h1v1h-1zM-18 1h1v1h-1zM23 1h1v1h-1zM-15 2h1v1h-1zM-45 3h1v1h-1zM-19 3h1v1h-1zM-43 4h1v1h-1zM-43 5h1v1h-1zM-25 5h1v1h-1zM-21 6h1v1h-1zM27 6h1v1h-1zM-43 7h1v1h-1zM-18 8h1v1h-1zM-43 9h1v1h-1zM-18 9h1v1h-1zM-17 10h1v1h-1zM-32 11h1v1h-1zM2 12h1v1h-1zM25 12h1v1h-1zM-41 13h1v1h-1zM-35 13h1v1h-1zM-40 14h1v1h-1zM-24 15h1v1h-1zM-23 17h1v1h-1zM-19 18h1v1h-1zM-15 18h1v1h-1zM-28 19h1v1h-1zM-22 19h1v1h-1zM-16 19h1v1h-1zM-12 19h1v1h-1zM-12 21h1v1h-1zM-24 22h1v1h-1zM-12 22h1v1h-1zM7 23h1v1h-1zM4 24h1v1h-1zM-18 25h1v1h-1zM6 25h1v1h-1zM-19 26h1v1h-1zM4 26h1v1h-1zM-17 27h1v1h-1zM-11 27h1v1h-1zM1 27h1v1h-1zM2 28h1v1h-1zM-25 29h1v1h-1zM-17 29h1v1h-1zM-15 30h1v1h-1zM-9 30h1v1h-1zM-9 31h2v1h-2zM7 32h1v1h-1zM2 33h1v1h-1zM-12 34h1v1h-1zM-2 34h1v1h-1zM-11 35h1v1h-1zM0 35h1v1h-1zM-2 36h1v1h-1zM-8 37h1v1h-1zM-3 37h1v1h-1zM-10 38h1v1h-1zM-7 40h1v1h-1zM-6 41h1v1h-1zM-9 42h1v1h-1z"/>
<path fill="#bfa787" d="M0 -21h1v1h-1zM2 -21h1v1h-1zM-2 -20h1v1h-1zM25 -20h1v1h-1zM-7 -19h1v1h-1zM0 -18h1v1h-1zM8 -18h1v1h-1zM6 -17h2v1h-2zM14 -17h1v1h-1zM19 -15h1v1h-1zM-3 -14h1v1h-1zM12 -13h1v1h-1zM22 -13h1v1h-1zM29 -13h1v1h-1zM-4 -11h1v1h-1zM7 -10h1v1h-1zM-4 -9h1v1h-1zM16 -9h1v1h-1zM10 -8h1v1h-1zM-9 -7h1v1h-1zM27 -7h1v1h-1zM32 -7h1v1h-1zM-3 -6h1v1h-1zM21 -6h1v1h-1zM26 -5h1v1h-1zM-9 -4h1v1h-1zM-3 -2h1v1h-1zM28 -2h1v1h-1zM28 -1h1v1h-1zM22 3h1v1h-1zM23 5h1v1h-1zM-15 10h1v1h-1zM18 10h1v1h-1zM20 10h1v1h-1zM18 11h1v1h-1zM-5 14h1v1h-1zM-17 15h1v1h-1zM1 15h1v1h-1zM17 15h1v1h-1zM16 16h1v1h-1zM4 17h1v1h-1zM14 17h1v1h-1zM-3 18h1v1h-1zM1 19h1v1h-1zM9 19h1v1h-1zM1 20h1v1h-1zM3 20h1v1h-1zM2 21h1v1h-1zM-3 23h1v1h-1zM-21 24h1v1h-1zM-8 24h1v1h-1zM-5 24h1v1h-1zM-14 27h1v1h-1zM-17 28h1v1h-1zM4 33h1v1h-1zM9 33h1v1h-1zM-4 35h1v1h-1zM11 35h1v1h-1zM0 38h1v1h-1zM11 38h1v1h-1zM-3 39h1v1h-1zM-10 43h1v1h-1zM-6 43h1v1h-1zM-10 44h1v1h-1z"/>
<path fill="#9db481" d="M2 -52h1v1h-1zM0 -51h1v1h-1zM8 -46h1v1h-1zM3 -45h1v1h-1zM1 -44h1v1h-1zM10 -44h1v1h-1zM-1 -43h3v1h-3zM-2 -42h1v1h-1zM1 -42h1v1h-1zM8 -42h2v1h-2zM-4 -41h1v1h-1zM1 -41h1v1h-1zM3 -41h1v1h-1zM10 -41h1v1h-1zM13 -41h1v1h-1zM-12 -40h1v1h-1zM3 -40h2v1h-2zM9 -40h1v1h-1zM-8 -39h1v1h-1zM-3 -39h2v1h-2zM5 -39h2v1h-2zM9 -39h1v1h-1zM11 -39h1v1h-1zM14 -39h1v1h-1zM-10 -38h1v1h-1zM4 -38h1v1h-1zM14 -38h1v1h-1zM-4 -37h1v1h-1zM9 -37h1v1h-1zM14 -37h1v1h-1zM5 -36h1v1h-1zM8 -36h1v1h-1zM13 -36h1v1h-1zM-1 -35h1v1h-1zM9 -35h1v1h-1zM12 -35h1v1h-1zM15 -35h1v1h-1zM4 -34h1v1h-1zM7 -34h1v1h-1zM18 -33h2v1h-2zM-5 -32h1v1h-1zM6 -32h1v1h-1zM-2 -31h1v1h-1zM7 -31h1v1h-1zM15 -31h1v1h-1zM17 -31h2v1h-2zM-6 -30h1v1h-1zM17 -29h1v1h-1zM14 -28h1v1h-1zM22 -27h1v1h-1zM-10 -26h1v1h-1zM-6 -24h1v1h-1zM8 -24h1v1h-1zM25 -24h1v1h-1zM30 -24h1v1h-1zM-11 -23h1v1h-1zM2 -23h1v1h-1zM10 -23h1v1h-1zM14 -23h1v1h-1zM15 -21h1v1h-1zM15 -20h2v1h-2zM34 -17h1v1h-1zM31 -13h1v1h-1zM33 -13h1v1h-1zM35 -13h1v1h-1zM42 -12h1v1h-1zM32 -11h1v1h-1zM-16 -9h1v1h-1zM38 -9h1v1h-1zM39 -8h1v1h-1zM41 -8h1v1h-1zM46 -8h1v1h-1zM36 -7h1v1h-1zM46 -7h1v1h-1zM-18 -6h1v1h-1zM35 -6h1v1h-1zM37 -6h2v1h-2zM33 -5h4v1h-4zM37 -4h1v1h-1zM46 -4h1v1h-1zM32 -3h2v1h-2zM38 -3h1v1h-1zM35 -1h1v1h-1zM37 -1h1v1h-1zM46 -1h1v1h-1zM-52 0h1v1h-1zM38 0h1v1h-1zM37 1h1v1h-1zM33 2h1v1h-1zM38 2h1v1h-1zM27 3h1v1h-1zM35 3h1v1h-1zM32 4h1v1h-1zM38 6h1v1h-1zM-25 10h1v1h-1zM28 10h1v1h-1zM34 10h1v1h-1zM21 13h1v1h-1zM20 14h1v1h-1zM23 15h1v1h-1zM17 17h1v1h-1zM13 19h1v1h-1zM15 19h1v1h-1zM18 19h1v1h-1zM24 19h1v1h-1zM11 20h1v1h-1zM12 21h1v1h-1zM10 22h1v1h-1zM14 23h1v1h-1zM6 28h1v1h-1zM2 29h1v1h-1zM1 30h1v1h-1zM7 30h1v1h-1zM10 30h1v1h-1zM12 30h1v1h-1zM15 30h1v1h-1zM-15 31h1v1h-1zM-12 31h1v1h-1zM-1 31h1v1h-1zM7 31h1v1h-1zM15 31h1v1h-1zM-13 32h1v1h-1zM11 33h1v1h-1zM14 36h1v1h-1z"/>
<path fill="#c0d09f" d="M1 -51h1v1h-1zM1 -47h1v1h-1zM5 -43h1v1h-1zM8 -43h1v1h-1zM11 -43h1v1h-1zM-1 -42h1v1h-1zM11 -42h1v1h-1zM11 -40h1v1h-1zM0 -39h1v1h-1zM10 -39h1v1h-1zM15 -39h1v1h-1zM-5 -38h1v1h-1zM7 -38h1v1h-1zM10 -37h1v1h-1zM-5 -36h1v1h-1zM-2 -36h1v1h-1zM1 -36h1v1h-1zM11 -36h1v1h-1zM14 -36h2v1h-2zM-7 -35h1v1h-1zM1 -35h1v1h-1zM13 -35h1v1h-1zM-4 -34h1v1h-1zM-2 -34h1v1h-1zM9 -34h1v1h-1zM12 -34h1v1h-1zM-1 -33h1v1h-1zM4 -33h1v1h-1zM12 -33h1v1h-1zM3 -32h2v1h-2zM-18 -31h1v1h-1zM9 -31h1v1h-1zM-1 -30h1v1h-1zM3 -30h1v1h-1zM8 -30h1v1h-1zM-21 -29h1v1h-1zM-19 -29h1v1h-1zM-17 -29h1v1h-1zM-6 -29h1v1h-1zM-11 -28h1v1h-1zM8 -28h2v1h-2zM22 -28h1v1h-1zM-19 -27h1v1h-1zM3 -27h1v1h-1zM7 -27h1v1h-1zM18 -27h1v1h-1zM23 -27h1v1h-1zM-24 -26h1v1h-1zM-22 -26h1v1h-1zM10 -26h1v1h-1zM-9 -25h1v1h-1zM-3 -25h1v1h-1zM-17 -24h1v1h-1zM-7 -23h1v1h-1zM0 -23h1v1h-1zM9 -23h1v1h-1zM11 -23h1v1h-1zM17 -23h1v1h-1zM19 -23h1v1h-1zM23 -23h1v1h-1zM25 -23h1v1h-1zM29 -23h2v1h-2zM-17 -22h1v1h-1zM17 -22h1v1h-1zM-19 -21h1v1h-1zM16 -21h1v1h-1zM26 -21h1v1h-1zM-19 -20h1v1h-1zM12 -20h1v1h-1zM29 -20h1v1h-1zM-17 -19h1v1h-1zM-9 -19h1v1h-1zM31 -19h1v1h-1zM-11 -18h1v1h-1zM33 -18h2v1h-2zM-13 -17h1v1h-1zM37 -17h1v1h-1zM34 -16h1v1h-1zM-12 -15h1v1h-1zM-16 -14h1v1h-1zM39 -14h1v1h-1zM34 -13h1v1h-1zM41 -13h1v1h-1zM-21 -12h1v1h-1zM38 -12h1v1h-1zM36 -10h1v1h-1zM-21 -9h1v1h-1zM37 -9h1v1h-1zM42 -9h1v1h-1zM-27 -7h1v1h-1zM44 -7h1v1h-1zM-17 -6h1v1h-1zM-20 -5h1v1h-1zM-24 -4h1v1h-1zM-18 -4h1v1h-1zM36 -4h1v1h-1zM-35 -3h1v1h-1zM35 -2h1v1h-1zM37 -2h1v1h-1zM39 0h1v1h-1zM-34 2h1v1h-1zM-23 2h1v1h-1zM-41 3h1v1h-1zM-29 3h1v1h-1zM-31 8h1v1h-1zM-26 8h1v1h-1zM32 8h2v1h-2zM36 8h1v1h-1zM-44 9h1v1h-1zM-19 9h1v1h-1zM-31 10h1v1h-1zM-39 12h1v1h-1zM-30 13h1v1h-1zM-21 14h1v1h-1zM-23 16h1v1h-1zM-33 17h1v1h-1zM-33 19h1v1h-1zM11 19h1v1h-1zM17 19h1v1h-1zM17 20h1v1h-1zM-27 21h1v1h-1zM14 21h1v1h-1zM-25 22h1v1h-1zM-1 22h1v1h-1zM-29 23h2v1h-2zM-25 23h1v1h-1zM-27 24h1v1h-1zM-2 25h1v1h-1zM-28 26h1v1h-1zM-3 26h2v1h-2zM-2 27h1v1h-1zM0 28h2v1h-2zM-7 29h1v1h-1zM1 29h1v1h-1zM3 29h1v1h-1zM-11 30h1v1h-1zM-3 30h1v1h-1zM-4 31h1v1h-1zM-2 31h1v1h-1zM-15 32h2v1h-2zM-12 32h1v1h-1zM-20 33h1v1h-1zM-12 33h1v1h-1zM-20 34h1v1h-1zM-8 34h1v1h-1zM-16 35h1v1h-1zM-12 40h1v1h-1z"/>
<path fill="#d3e4b5" d="M5 -47h1v1h-1zM-6 -39h1v1h-1zM-14 -35h1v1h-1zM-11 -35h1v1h-1zM14 -33h1v1h-1zM-13 -31h1v1h-1zM-4 -31h1v1h-1zM-14 -30h1v1h-1zM-11 -30h1v1h-1zM-14 -29h2v1h-2zM-23 -28h1v1h-1zM-2 -28h1v1h-1zM-21 -27h1v1h-1zM-18 -27h1v1h-1zM-19 -26h1v1h-1zM-22 -25h1v1h-1zM4 -25h1v1h-1zM-18 -24h1v1h-1zM-15 -24h1v1h-1zM12 -24h1v1h-1zM28 -24h1v1h-1zM-16 -23h1v1h-1zM-16 -22h1v1h-1zM-13 -22h1v1h-1zM-16 -21h1v1h-1zM28 -21h1v1h-1zM-15 -20h1v1h-1zM35 -19h1v1h-1zM-22 -17h1v1h-1zM-18 -17h1v1h-1zM-15 -17h2v1h-2zM-36 -16h1v1h-1zM-30 -16h1v1h-1zM-12 -16h1v1h-1zM31 -16h1v1h-1zM-31 -15h1v1h-1zM-24 -15h1v1h-1zM-26 -14h2v1h-2zM-15 -14h1v1h-1zM-39 -13h1v1h-1zM-33 -13h1v1h-1zM-29 -13h1v1h-1zM-16 -13h1v1h-1zM-14 -13h1v1h-1zM38 -13h1v1h-1zM-22 -12h1v1h-1zM-17 -12h3v1h-3zM-39 -10h1v1h-1zM-30 -10h2v1h-2zM-26 -10h1v1h-1zM-24 -10h1v1h-1zM-21 -10h1v1h-1zM-29 -9h1v1h-1zM-22 -9h1v1h-1zM44 -9h1v1h-1zM-31 -8h1v1h-1zM-23 -8h1v1h-1zM-17 -8h1v1h-1zM-38 -7h1v1h-1zM-32 -7h1v1h-1zM-22 -7h1v1h-1zM-41 -6h1v1h-1zM-36 -6h2v1h-2zM-33 -6h1v1h-1zM47 -6h1v1h-1zM-33 -5h1v1h-1zM-45 -4h1v1h-1zM-42 -4h1v1h-1zM-40 -4h1v1h-1zM-38 -4h2v1h-2zM-35 -4h1v1h-1zM-30 -4h1v1h-1zM-48 -2h1v1h-1zM-42 -2h1v1h-1zM-38 -2h1v1h-1zM-30 -2h1v1h-1zM-28 -2h1v1h-1zM31 -2h1v1h-1zM-44 -1h1v1h-1zM-39 -1h1v1h-1zM-30 -1h1v1h-1zM-28 -1h1v1h-1zM-34 0h1v1h-1zM-32 0h1v1h-1zM-51 1h1v1h-1zM-44 1h1v1h-1zM-28 1h1v1h-1zM-50 3h2v1h-2zM-40 3h1v1h-1zM-37 4h1v1h-1zM-32 4h1v1h-1zM-27 6h1v1h-1zM-22 6h1v1h-1zM-36 7h1v1h-1zM-34 7h1v1h-1zM-41 8h1v1h-1zM-39 8h1v1h-1zM-33 8h1v1h-1zM-25 8h1v1h-1zM-21 8h1v1h-1zM-22 9h2v1h-2zM-21 10h1v1h-1zM-40 12h1v1h-1zM-35 12h1v1h-1zM-22 12h1v1h-1zM-33 14h1v1h-1zM-26 14h2v1h-2zM-34 15h1v1h-1zM-38 16h1v1h-1zM-26 17h1v1h-1zM-24 18h1v1h-1zM-18 18h1v1h-1zM-34 19h1v1h-1zM-32 20h1v1h-1zM-26 25h2v1h-2zM-1 25h1v1h-1zM1 25h1v1h-1zM10 25h1v1h-1zM9 27h1v1h-1zM-19 28h1v1h-1zM10 28h1v1h-1zM-19 29h1v1h-1zM-12 29h1v1h-1zM-3 29h1v1h-1zM0 29h1v1h-1zM0 30h1v1h-1zM-19 31h1v1h-1zM-16 33h1v1h-1zM-14 34h1v1h-1zM-15 36h1v1h-1zM-12 36h1v1h-1z"/>
<path fill="#bc7f6c" d="M17 -16h1v1h-1zM18 -14h1v1h-1zM0 -13h1v1h-1zM17 -13h2v1h-2zM14 -9h1v1h-1zM14 -8h1v1h-1zM20 -8h1v1h-1zM16 -7h1v1h-1zM16 -6h1v1h-1zM-6 -4h1v1h-1zM-5 -2h1v1h-1zM9 -1h1v1h-1zM11 -1h1v1h-1zM15 -1h1v1h-1zM17 -1h1v1h-1zM29 -1h1v1h-1zM6 0h1v1h-1zM8 0h1v1h-1zM10 0h2v1h-2zM17 0h1v1h-1zM-9 1h2v1h-2zM3 1h1v1h-1zM5 1h2v1h-2zM-4 2h1v1h-1zM10 2h1v1h-1zM-10 3h1v1h-1zM-3 3h1v1h-1zM-2 4h1v1h-1zM5 4h1v1h-1zM7 4h1v1h-1zM22 4h1v1h-1zM6 5h1v1h-1zM19 6h1v1h-1zM3 7h1v1h-1zM2 8h1v1h-1zM7 8h1v1h-1zM13 8h1v1h-1zM12 9h2v1h-2zM15 9h1v1h-1zM20 9h1v1h-1zM5 10h1v1h-1zM-9 11h1v1h-1zM7 11h1v1h-1zM-14 12h1v1h-1zM-11 12h2v1h-2zM6 13h1v1h-1zM-14 14h1v1h-1zM5 14h1v1h-1zM15 14h1v1h-1zM4 15h1v1h-1zM-7 23h1v1h-1zM-4 24h1v1h-1zM2 35h1v1h-1zM2 36h1v1h-1zM7 36h2v1h-2zM8 37h1v1h-1zM7 38h2v1h-2zM0 39h1v1h-1zM10 39h1v1h-1zM-3 40h1v1h-1zM10 40h1v1h-1zM-3 41h2v1h-2zM9 41h1v1h-1zM-8 44h1v1h-1zM-6 44h1v1h-1zM-3 44h1v1h-1zM-7 45h3v1h-3zM-7 46h1v1h-1zM0 50h1v1h-1z"/>
<path fill="#dadabd" d="M7 -46h1v1h-1zM7 -45h1v1h-1zM-13 -38h1v1h-1zM-12 -35h1v1h-1zM-16 -33h1v1h-1zM1 -33h1v1h-1zM9 -33h2v1h-2zM-15 -32h1v1h-1zM20 -32h1v1h-1zM-14 -31h1v1h-1zM10 -31h1v1h-1zM12 -31h1v1h-1zM23 -31h1v1h-1zM-12 -30h1v1h-1zM9 -29h1v1h-1zM25 -29h1v1h-1zM0 -28h1v1h-1zM-22 -27h1v1h-1zM-7 -27h1v1h-1zM24 -27h1v1h-1zM26 -27h2v1h-2zM-7 -26h1v1h-1zM-24 -25h1v1h-1zM-20 -25h1v1h-1zM26 -24h1v1h-1zM-24 -23h1v1h-1zM-18 -23h1v1h-1zM12 -23h1v1h-1zM28 -23h1v1h-1zM-20 -22h1v1h-1zM-8 -22h1v1h-1zM3 -22h1v1h-1zM12 -22h1v1h-1zM24 -22h1v1h-1zM26 -22h1v1h-1zM-22 -21h1v1h-1zM5 -21h1v1h-1zM21 -21h1v1h-1zM24 -21h1v1h-1zM-23 -20h1v1h-1zM-12 -20h1v1h-1zM34 -20h1v1h-1zM-24 -19h1v1h-1zM-6 -19h1v1h-1zM7 -19h1v1h-1zM16 -19h1v1h-1zM20 -19h1v1h-1zM-26 -18h1v1h-1zM9 -18h1v1h-1zM35 -18h1v1h-1zM-34 -17h1v1h-1zM-17 -17h1v1h-1zM-10 -17h1v1h-1zM-25 -16h1v1h-1zM-18 -16h2v1h-2zM-16 -15h1v1h-1zM-1 -15h1v1h-1zM13 -15h1v1h-1zM30 -15h1v1h-1zM-27 -14h1v1h-1zM-35 -13h1v1h-1zM27 -13h1v1h-1zM-14 -12h2v1h-2zM27 -12h1v1h-1zM-22 -11h1v1h-1zM25 -11h2v1h-2zM30 -11h1v1h-1zM-20 -10h1v1h-1zM-11 -10h1v1h-1zM-8 -10h1v1h-1zM33 -10h1v1h-1zM39 -10h1v1h-1zM-12 -9h1v1h-1zM-12 -8h2v1h-2zM-25 -7h2v1h-2zM2 -7h1v1h-1zM-24 -6h1v1h-1zM-16 -6h1v1h-1zM40 -6h1v1h-1zM-15 -5h1v1h-1zM-46 -4h1v1h-1zM-22 -4h1v1h-1zM-22 -3h1v1h-1zM-19 -3h1v1h-1zM-14 -3h1v1h-1zM-3 -3h1v1h-1zM25 -3h1v1h-1zM37 -3h1v1h-1zM-21 -2h1v1h-1zM-19 -2h2v1h-2zM23 -2h1v1h-1zM25 -1h1v1h-1zM-46 0h1v1h-1zM-25 0h1v1h-1zM24 0h1v1h-1zM-36 1h1v1h-1zM31 1h1v1h-1zM-47 2h1v1h-1zM-42 2h1v1h-1zM-40 2h1v1h-1zM-17 2h1v1h-1zM-44 3h1v1h-1zM-39 3h1v1h-1zM-27 3h1v1h-1zM-45 4h1v1h-1zM-36 4h1v1h-1zM-35 5h1v1h-1zM-31 5h1v1h-1zM-27 5h1v1h-1zM-19 7h1v1h-1zM-36 8h1v1h-1zM-22 8h1v1h-1zM27 8h1v1h-1zM-42 9h1v1h-1zM-43 10h1v1h-1zM-37 10h1v1h-1zM-41 11h1v1h-1zM-21 11h1v1h-1zM23 11h1v1h-1zM-41 12h1v1h-1zM-33 12h1v1h-1zM-17 12h1v1h-1zM23 12h1v1h-1zM22 13h1v1h-1zM23 14h1v1h-1zM-21 16h1v1h-1zM-21 17h1v1h-1zM-25 18h1v1h-1zM-17 18h1v1h-1zM-18 19h1v1h-1zM-27 20h1v1h-1zM-25 20h1v1h-1zM-20 20h1v1h-1zM6 20h1v1h-1zM-13 21h1v1h-1zM-30 24h1v1h-1zM-28 24h1v1h-1zM-16 24h1v1h-1zM-27 25h1v1h-1zM-20 25h1v1h-1zM-23 26h2v1h-2zM-15 26h1v1h-1zM-20 27h1v1h-1zM4 27h1v1h-1zM4 28h1v1h-1zM-22 29h1v1h-1zM-6 29h1v1h-1zM-5 30h1v1h-1zM-1 30h1v1h-1zM-22 31h1v1h-1zM-9 32h1v1h-1zM-1 33h1v1h-1zM-5 34h1v1h-1zM-6 35h1v1h-1zM-3 35h1v1h-1zM-7 36h2v1h-2zM-12 37h1v1h-1zM-4 38h1v1h-1zM-10 39h1v1h-1z"/>
<path fill="#d7c19e" d="M12 -38h1v1h-1zM-29 -23h1v1h-1zM-2 -22h1v1h-1zM-18 -21h1v1h-1zM-5 -21h1v1h-1zM1 -21h1v1h-1zM-27 -20h1v1h-1zM-5 -20h1v1h-1zM2 -20h1v1h-1zM-8 -19h1v1h-1zM-5 -19h1v1h-1zM-3 -19h1v1h-1zM21 -18h1v1h-1zM27 -18h1v1h-1zM-4 -17h3v1h-3zM23 -17h1v1h-1zM-1 -16h1v1h-1zM-7 -15h1v1h-1zM28 -15h1v1h-1zM-7 -14h1v1h-1zM10 -14h1v1h-1zM29 -14h1v1h-1zM-7 -13h1v1h-1zM13 -13h1v1h-1zM24 -13h2v1h-2zM-6 -12h1v1h-1zM17 -12h1v1h-1zM6 -10h1v1h-1zM22 -10h1v1h-1zM29 -10h1v1h-1zM-7 -9h1v1h-1zM-2 -9h1v1h-1zM1 -9h2v1h-2zM-7 -8h1v1h-1zM7 -8h1v1h-1zM-7 -7h1v1h-1zM3 -7h1v1h-1zM30 -7h2v1h-2zM19 -6h1v1h-1zM28 -6h1v1h-1zM32 -5h1v1h-1zM-16 -4h1v1h-1zM20 -4h1v1h-1zM28 -4h2v1h-2zM-2 -3h1v1h-1zM-12 -2h1v1h-1zM21 -2h1v1h-1zM-15 -1h1v1h-1zM7 -1h1v1h-1zM-17 0h3v1h-3zM-11 0h1v1h-1zM-14 1h1v1h-1zM20 1h1v1h-1zM-16 2h1v1h-1zM21 2h1v1h-1zM-18 3h1v1h-1zM-15 3h2v1h-2zM0 3h1v1h-1zM20 3h2v1h-2zM2 5h1v1h-1zM-17 6h1v1h-1zM2 6h1v1h-1zM-16 9h1v1h-1zM-3 11h1v1h-1zM22 11h1v1h-1zM-3 12h1v1h-1zM4 12h1v1h-1zM11 12h1v1h-1zM13 12h1v1h-1zM1 13h2v1h-2zM-19 15h1v1h-1zM-19 16h1v1h-1zM-4 16h1v1h-1zM12 16h1v1h-1zM-18 17h2v1h-2zM-14 17h1v1h-1zM3 17h1v1h-1zM0 18h1v1h-1zM2 18h1v1h-1zM12 18h1v1h-1zM-21 19h1v1h-1zM-11 19h1v1h-1zM-6 19h1v1h-1zM2 19h1v1h-1zM-3 20h1v1h-1zM-21 21h1v1h-1zM-14 21h1v1h-1zM9 21h1v1h-1zM-16 22h2v1h-2zM-13 26h1v1h-1zM-13 27h1v1h-1zM-11 37h1v1h-1zM-4 40h1v1h-1zM-4 41h1v1h-1z"/>
<path fill="#adc48f" d="M1 -52h1v1h-1zM3 -50h1v1h-1zM3 -49h1v1h-1zM3 -48h1v1h-1zM-4 -46h1v1h-1zM8 -45h1v1h-1zM-2 -44h1v1h-1zM8 -44h1v1h-1zM-9 -43h1v1h-1zM-3 -43h1v1h-1zM7 -43h1v1h-1zM-9 -42h2v1h-2zM3 -42h1v1h-1zM0 -41h1v1h-1zM6 -41h1v1h-1zM-7 -40h1v1h-1zM-4 -40h1v1h-1zM2 -40h1v1h-1zM5 -40h2v1h-2zM-10 -39h1v1h-1zM-4 -39h1v1h-1zM1 -39h1v1h-1zM3 -39h2v1h-2zM-12 -38h1v1h-1zM-7 -38h1v1h-1zM-9 -37h1v1h-1zM7 -37h2v1h-2zM16 -37h1v1h-1zM-10 -36h2v1h-2zM-3 -36h1v1h-1zM3 -36h1v1h-1zM6 -36h1v1h-1zM17 -36h2v1h-2zM-10 -35h1v1h-1zM-5 -35h2v1h-2zM5 -35h1v1h-1zM15 -34h1v1h-1zM-5 -33h1v1h-1zM8 -33h1v1h-1zM-11 -32h1v1h-1zM-6 -32h1v1h-1zM-3 -32h3v1h-3zM8 -32h2v1h-2zM-1 -31h1v1h-1zM-18 -30h1v1h-1zM-3 -30h1v1h-1zM2 -30h1v1h-1zM5 -30h1v1h-1zM-18 -29h1v1h-1zM-10 -29h1v1h-1zM-3 -29h1v1h-1zM13 -29h1v1h-1zM16 -29h1v1h-1zM-15 -28h1v1h-1zM-13 -28h2v1h-2zM-6 -28h1v1h-1zM3 -28h3v1h-3zM7 -28h1v1h-1zM12 -28h2v1h-2zM-15 -27h1v1h-1zM5 -27h1v1h-1zM13 -27h1v1h-1zM17 -27h1v1h-1zM-17 -26h1v1h-1zM-12 -26h1v1h-1zM-2 -26h1v1h-1zM14 -26h1v1h-1zM23 -26h1v1h-1zM-25 -25h1v1h-1zM0 -25h1v1h-1zM2 -25h1v1h-1zM15 -25h1v1h-1zM18 -25h1v1h-1zM-13 -24h1v1h-1zM1 -24h1v1h-1zM10 -24h1v1h-1zM3 -23h1v1h-1zM7 -23h2v1h-2zM-12 -22h1v1h-1zM5 -22h1v1h-1zM9 -22h1v1h-1zM14 -22h2v1h-2zM-9 -21h1v1h-1zM30 -20h1v1h-1zM-12 -18h1v1h-1zM31 -17h1v1h-1zM33 -17h1v1h-1zM32 -16h1v1h-1zM36 -16h1v1h-1zM39 -15h1v1h-1zM33 -14h1v1h-1zM36 -14h1v1h-1zM33 -12h1v1h-1zM-20 -11h2v1h-2zM38 -11h1v1h-1zM40 -10h1v1h-1zM-17 -9h1v1h-1zM34 -7h1v1h-1zM41 -7h1v1h-1zM33 -6h1v1h-1zM42 -5h1v1h-1zM49 -5h1v1h-1zM33 -4h1v1h-1zM36 -3h1v1h-1zM49 -3h1v1h-1zM34 -2h1v1h-1zM36 -2h1v1h-1zM41 -2h1v1h-1zM45 -1h1v1h-1zM33 0h1v1h-1zM35 1h1v1h-1zM-21 2h1v1h-1zM29 3h1v1h-1zM32 3h1v1h-1zM30 7h1v1h-1zM-23 8h1v1h-1zM30 8h1v1h-1zM29 9h1v1h-1zM33 9h2v1h-2zM35 10h1v1h-1zM38 10h1v1h-1zM-22 13h1v1h-1zM-31 15h1v1h-1zM-23 18h1v1h-1zM16 18h1v1h-1zM-23 19h1v1h-1zM14 19h1v1h-1zM11 22h1v1h-1zM14 22h1v1h-1zM0 23h1v1h-1zM11 25h1v1h-1zM7 26h1v1h-1zM9 26h1v1h-1zM11 26h3v1h-3zM-1 27h1v1h-1zM8 27h1v1h-1zM7 28h1v1h-1zM12 28h1v1h-1zM7 29h1v1h-1zM10 29h1v1h-1zM10 31h1v1h-1zM13 31h1v1h-1zM-10 32h1v1h-1zM1 32h2v1h-2zM14 34h1v1h-1zM-14 35h1v1h-1zM-15 37h1v1h-1zM-14 38h1v1h-1z"/>
<path fill="#8eb871" d="M9 -45h1v1h-1zM-7 -31h1v1h-1zM-11 -24h1v1h-1zM35 -16h1v1h-1zM44 -5h1v1h-1zM46 -5h1v1h-1zM51 -3h1v1h-1zM47 -2h1v1h-1zM47 -1h1v1h-1zM43 0h2v1h-2zM46 0h1v1h-1zM48 0h1v1h-1zM48 1h1v1h-1zM48 2h1v1h-1zM43 3h2v1h-2zM42 4h1v1h-1zM42 5h1v1h-1zM37 6h1v1h-1zM40 7h1v1h-1zM40 9h1v1h-1zM31 10h2v1h-2zM40 10h1v1h-1zM30 12h1v1h-1zM35 12h1v1h-1zM37 12h1v1h-1zM29 13h1v1h-1zM31 13h1v1h-1zM37 13h1v1h-1zM31 14h3v1h-3zM36 14h1v1h-1zM31 15h1v1h-1zM28 16h2v1h-2zM32 16h3v1h-3zM29 17h1v1h-1zM31 17h1v1h-1zM33 17h1v1h-1zM29 18h2v1h-2zM25 19h1v1h-1zM28 19h2v1h-2zM26 20h1v1h-1zM29 20h1v1h-1zM21 21h2v1h-2zM27 21h2v1h-2zM18 22h1v1h-1zM23 22h3v1h-3zM18 23h2v1h-2zM25 23h1v1h-1zM27 23h1v1h-1zM18 24h1v1h-1zM20 24h1v1h-1zM25 24h1v1h-1zM16 25h1v1h-1zM18 25h3v1h-3zM16 26h1v1h-1zM18 26h1v1h-1zM22 26h1v1h-1zM18 27h2v1h-2zM16 28h1v1h-1zM21 28h2v1h-2zM16 29h1v1h-1zM20 30h1v1h-1zM17 31h3v1h-3zM16 32h2v1h-2zM16 33h1v1h-1z"/>
<path fill="#bbc99a" d="M2 -51h1v1h-1zM2 -49h1v1h-1zM-4 -47h1v1h-1zM2 -47h1v1h-1zM1 -46h1v1h-1zM5 -46h1v1h-1zM-4 -43h1v1h-1zM-10 -42h1v1h-1zM-5 -42h2v1h-2zM12 -42h1v1h-1zM8 -41h2v1h-2zM-11 -40h1v1h-1zM-8 -40h1v1h-1zM0 -40h1v1h-1zM-1 -39h1v1h-1zM8 -38h2v1h-2zM-14 -37h1v1h-1zM-6 -37h1v1h-1zM4 -37h1v1h-1zM-14 -34h1v1h-1zM-10 -34h1v1h-1zM-7 -34h2v1h-2zM14 -34h1v1h-1zM18 -34h1v1h-1zM-19 -33h1v1h-1zM-6 -33h1v1h-1zM-4 -33h1v1h-1zM15 -33h1v1h-1zM-14 -32h1v1h-1zM19 -32h1v1h-1zM-6 -31h1v1h-1zM0 -31h1v1h-1zM3 -31h1v1h-1zM13 -31h1v1h-1zM19 -31h1v1h-1zM-2 -30h1v1h-1zM11 -30h1v1h-1zM-16 -29h1v1h-1zM-11 -29h1v1h-1zM2 -29h1v1h-1zM11 -29h1v1h-1zM18 -29h1v1h-1zM19 -28h1v1h-1zM23 -28h1v1h-1zM8 -27h2v1h-2zM-5 -26h1v1h-1zM16 -26h1v1h-1zM28 -26h1v1h-1zM-2 -25h1v1h-1zM8 -25h1v1h-1zM26 -25h1v1h-1zM28 -25h1v1h-1zM0 -24h1v1h-1zM15 -24h1v1h-1zM18 -24h1v1h-1zM-20 -23h1v1h-1zM-17 -23h1v1h-1zM5 -23h1v1h-1zM-10 -22h1v1h-1zM10 -22h1v1h-1zM19 -22h1v1h-1zM11 -21h1v1h-1zM13 -21h1v1h-1zM30 -21h1v1h-1zM33 -21h1v1h-1zM13 -20h2v1h-2zM32 -20h2v1h-2zM14 -19h1v1h-1zM33 -19h1v1h-1zM11 -18h1v1h-1zM11 -17h1v1h-1zM28 -17h1v1h-1zM-14 -14h1v1h-1zM39 -13h1v1h-1zM32 -12h1v1h-1zM37 -11h1v1h-1zM39 -11h1v1h-1zM35 -9h1v1h-1zM-25 -8h1v1h-1zM36 -8h1v1h-1zM38 -8h1v1h-1zM-17 -7h1v1h-1zM35 -7h1v1h-1zM41 -5h1v1h-1zM41 -4h1v1h-1zM49 -4h1v1h-1zM33 -2h1v1h-1zM34 0h1v1h-1zM27 1h1v1h-1zM30 2h1v1h-1zM-46 5h1v1h-1zM25 6h1v1h-1zM-20 7h1v1h-1zM-45 8h1v1h-1zM31 8h1v1h-1zM24 9h1v1h-1zM27 9h1v1h-1zM36 9h1v1h-1zM-23 10h1v1h-1zM26 12h1v1h-1zM25 13h1v1h-1zM-36 14h1v1h-1zM19 14h1v1h-1zM21 16h1v1h-1zM23 16h1v1h-1zM-30 17h1v1h-1zM-22 17h1v1h-1zM21 18h1v1h-1zM9 23h1v1h-1zM-1 24h1v1h-1zM1 24h2v1h-2zM8 26h1v1h-1zM10 26h1v1h-1zM-9 27h1v1h-1zM-11 28h1v1h-1zM-13 29h1v1h-1zM-7 30h2v1h-2zM-4 30h1v1h-1zM8 30h1v1h-1zM-5 31h1v1h-1zM1 31h2v1h-2zM9 31h1v1h-1zM14 31h1v1h-1zM-18 32h1v1h-1zM13 32h1v1h-1zM-13 33h1v1h-1zM-6 33h1v1h-1zM14 33h1v1h-1zM-17 34h1v1h-1zM-13 34h1v1h-1zM-13 35h1v1h-1zM-8 36h1v1h-1zM-12 39h1v1h-1z"/>
<path fill="#a4bd88" d="M2 -50h1v1h-1zM5 -49h1v1h-1zM5 -48h1v1h-1zM3 -47h1v1h-1zM2 -46h1v1h-1zM-4 -45h1v1h-1zM1 -45h2v1h-2zM4 -45h1v1h-1zM-5 -44h1v1h-1zM0 -44h1v1h-1zM3 -44h1v1h-1zM-7 -43h1v1h-1zM-2 -43h1v1h-1zM4 -43h1v1h-1zM-7 -42h1v1h-1zM-3 -42h1v1h-1zM0 -42h1v1h-1zM2 -42h1v1h-1zM4 -42h1v1h-1zM-11 -41h1v1h-1zM-8 -41h2v1h-2zM-2 -41h1v1h-1zM1 -40h1v1h-1zM8 -40h1v1h-1zM12 -40h1v1h-1zM-9 -39h1v1h-1zM7 -39h1v1h-1zM-8 -38h1v1h-1zM-4 -38h1v1h-1zM3 -38h1v1h-1zM3 -37h1v1h-1zM4 -36h1v1h-1zM-16 -35h1v1h-1zM0 -35h1v1h-1zM8 -35h1v1h-1zM-14 -33h1v1h-1zM16 -33h1v1h-1zM-18 -32h1v1h-1zM-10 -32h1v1h-1zM1 -32h1v1h-1zM5 -31h1v1h-1zM16 -31h1v1h-1zM-5 -30h1v1h-1zM0 -30h2v1h-2zM13 -30h1v1h-1zM15 -30h1v1h-1zM19 -30h1v1h-1zM24 -30h1v1h-1zM-7 -29h1v1h-1zM-1 -29h1v1h-1zM5 -29h2v1h-2zM8 -29h1v1h-1zM-9 -28h1v1h-1zM-5 -28h1v1h-1zM15 -28h1v1h-1zM2 -27h1v1h-1zM14 -27h1v1h-1zM1 -26h1v1h-1zM15 -26h1v1h-1zM20 -26h1v1h-1zM3 -25h1v1h-1zM20 -25h1v1h-1zM22 -25h1v1h-1zM-16 -24h1v1h-1zM2 -24h1v1h-1zM7 -24h1v1h-1zM14 -24h1v1h-1zM16 -24h1v1h-1zM15 -23h1v1h-1zM-11 -22h1v1h-1zM16 -22h1v1h-1zM14 -21h1v1h-1zM-9 -20h1v1h-1zM31 -20h1v1h-1zM29 -19h1v1h-1zM-11 -17h1v1h-1zM-28 -16h1v1h-1zM-13 -16h1v1h-1zM-11 -16h1v1h-1zM33 -16h1v1h-1zM-13 -15h1v1h-1zM-11 -15h1v1h-1zM32 -15h1v1h-1zM32 -14h1v1h-1zM34 -14h2v1h-2zM38 -14h1v1h-1zM37 -13h1v1h-1zM40 -12h1v1h-1zM43 -11h1v1h-1zM42 -10h1v1h-1zM36 -9h1v1h-1zM-45 -7h1v1h-1zM45 -7h1v1h-1zM-19 -6h1v1h-1zM36 -6h1v1h-1zM40 -3h1v1h-1zM39 -2h1v1h-1zM33 -1h1v1h-1zM38 -1h1v1h-1zM33 1h1v1h-1zM32 2h1v1h-1zM34 2h1v1h-1zM37 3h2v1h-2zM29 4h1v1h-1zM-26 5h1v1h-1zM30 5h1v1h-1zM33 5h1v1h-1zM35 5h1v1h-1zM-48 6h1v1h-1zM33 6h1v1h-1zM-37 7h1v1h-1zM-24 9h1v1h-1zM30 9h1v1h-1zM28 11h1v1h-1zM37 11h1v1h-1zM26 13h1v1h-1zM-28 14h1v1h-1zM-22 14h1v1h-1zM34 14h1v1h-1zM-37 15h1v1h-1zM19 16h1v1h-1zM18 17h2v1h-2zM22 20h1v1h-1zM-26 22h1v1h-1zM27 22h1v1h-1zM10 23h1v1h-1zM12 23h1v1h-1zM10 24h1v1h-1zM14 24h1v1h-1zM7 25h1v1h-1zM-25 27h1v1h-1zM7 27h1v1h-1zM-21 28h1v1h-1zM8 28h2v1h-2zM-20 29h1v1h-1zM-2 29h1v1h-1zM-20 30h1v1h-1zM-10 30h1v1h-1zM16 30h1v1h-1zM-13 31h1v1h-1zM-19 34h1v1h-1zM15 34h1v1h-1zM-17 35h1v1h-1zM-15 35h1v1h-1zM-14 36h1v1h-1zM-14 39h2v1h-2zM-11 41h1v1h-1z"/>
<path fill="#b1cd97" d="M-1 -50h1v1h-1zM-2 -46h1v1h-1zM-2 -45h1v1h-1zM-4 -44h1v1h-1zM-5 -43h1v1h-1zM9 -43h1v1h-1zM-9 -41h1v1h-1zM-3 -41h1v1h-1zM-1 -41h1v1h-1zM-2 -40h1v1h-1zM-9 -38h1v1h-1zM-8 -37h1v1h-1zM-16 -36h1v1h-1zM0 -36h1v1h-1zM14 -35h1v1h-1zM18 -35h1v1h-1zM-13 -34h1v1h-1zM-13 -33h1v1h-1zM-9 -33h1v1h-1zM-5 -31h1v1h-1zM4 -31h1v1h-1zM8 -31h1v1h-1zM-10 -30h1v1h-1zM17 -30h1v1h-1zM-20 -29h1v1h-1zM-12 -29h1v1h-1zM0 -29h1v1h-1zM3 -29h1v1h-1zM-20 -28h1v1h-1zM-8 -28h2v1h-2zM16 -28h1v1h-1zM-25 -27h1v1h-1zM-17 -27h1v1h-1zM-13 -27h2v1h-2zM-9 -27h1v1h-1zM-3 -27h1v1h-1zM1 -27h1v1h-1zM7 -26h1v1h-1zM18 -26h1v1h-1zM7 -25h1v1h-1zM-10 -24h1v1h-1zM5 -24h2v1h-2zM-13 -23h2v1h-2zM6 -23h1v1h-1zM-11 -21h1v1h-1zM-11 -20h1v1h-1zM-11 -19h1v1h-1zM-23 -18h1v1h-1zM29 -18h2v1h-2zM-28 -15h1v1h-1zM-14 -15h1v1h-1zM36 -15h1v1h-1zM-25 -13h1v1h-1zM-22 -13h2v1h-2zM36 -13h1v1h-1zM37 -12h1v1h-1zM36 -11h1v1h-1zM37 -10h1v1h-1zM41 -9h1v1h-1zM-43 -8h1v1h-1zM-19 -8h2v1h-2zM-31 -7h1v1h-1zM-46 -6h1v1h-1zM-29 -6h1v1h-1zM-27 -6h1v1h-1zM-21 -6h1v1h-1zM-47 -5h2v1h-2zM-30 -5h1v1h-1zM-18 -5h1v1h-1zM38 -5h1v1h-1zM-48 -4h1v1h-1zM-26 -4h1v1h-1zM-50 -2h1v1h-1zM-41 -2h1v1h-1zM-26 -2h1v1h-1zM-50 -1h1v1h-1zM-32 -1h1v1h-1zM-25 -1h1v1h-1zM-30 0h1v1h-1zM-28 0h2v1h-2zM-53 1h1v1h-1zM-32 3h1v1h-1zM-25 3h1v1h-1zM45 3h1v1h-1zM-34 4h1v1h-1zM37 4h1v1h-1zM-47 6h1v1h-1zM-43 6h1v1h-1zM-40 6h1v1h-1zM-34 6h1v1h-1zM-46 7h2v1h-2zM-26 7h1v1h-1zM-38 8h1v1h-1zM-28 9h1v1h-1zM-25 9h1v1h-1zM-23 9h1v1h-1zM-24 10h1v1h-1zM-23 11h1v1h-1zM-24 13h1v1h-1zM-36 15h1v1h-1zM-28 15h1v1h-1zM-36 16h1v1h-1zM-36 17h2v1h-2zM-24 19h1v1h-1zM16 19h1v1h-1zM19 19h1v1h-1zM14 20h2v1h-2zM24 20h1v1h-1zM13 21h1v1h-1zM13 22h1v1h-1zM17 22h1v1h-1zM0 26h1v1h-1zM6 27h1v1h-1zM-3 28h1v1h-1zM-1 28h1v1h-1zM-14 33h1v1h-1zM-11 33h1v1h-1zM-15 34h1v1h-1zM-14 40h1v1h-1z"/>
<path fill="#9cbe80" d="M-6 -45h1v1h-1zM-8 -44h1v1h-1zM-8 -43h1v1h-1zM-10 -40h1v1h-1zM-5 -40h1v1h-1zM7 -40h1v1h-1zM2 -39h1v1h-1zM-11 -38h1v1h-1zM-2 -38h1v1h-1zM-2 -37h1v1h-1zM7 -36h1v1h-1zM2 -35h2v1h-2zM17 -35h1v1h-1zM-12 -33h1v1h-1zM7 -33h1v1h-1zM-13 -32h1v1h-1zM-9 -32h1v1h-1zM-4 -32h1v1h-1zM14 -31h1v1h-1zM-9 -29h1v1h-1zM1 -29h1v1h-1zM15 -27h1v1h-1zM-15 -26h1v1h-1zM-3 -26h1v1h-1zM-12 -25h1v1h-1zM12 -17h1v1h-1zM33 -15h1v1h-1zM38 -15h1v1h-1zM-44 -8h1v1h-1zM37 -8h1v1h-1zM-18 -7h1v1h-1zM42 -7h1v1h-1zM45 -6h2v1h-2zM48 -4h1v1h-1zM50 -3h1v1h-1zM42 -2h1v1h-1zM46 -2h1v1h-1zM34 -1h1v1h-1zM40 -1h1v1h-1zM42 -1h1v1h-1zM44 -1h1v1h-1zM51 -1h1v1h-1zM40 0h1v1h-1zM46 1h2v1h-2zM35 2h1v1h-1zM37 2h1v1h-1zM39 2h1v1h-1zM36 3h1v1h-1zM46 3h1v1h-1zM34 4h2v1h-2zM40 4h1v1h-1zM36 5h1v1h-1zM38 5h1v1h-1zM40 5h1v1h-1zM36 6h1v1h-1zM37 7h1v1h-1zM42 7h1v1h-1zM39 9h1v1h-1zM33 10h1v1h-1zM31 11h1v1h-1zM38 11h1v1h-1zM-23 12h1v1h-1zM27 12h2v1h-2zM31 12h2v1h-2zM34 12h1v1h-1zM-39 13h1v1h-1zM33 13h1v1h-1zM-23 15h1v1h-1zM24 15h1v1h-1zM26 15h1v1h-1zM32 15h2v1h-2zM31 16h1v1h-1zM26 19h1v1h-1zM16 21h1v1h-1zM18 21h1v1h-1zM23 21h1v1h-1zM29 21h1v1h-1zM16 22h1v1h-1zM23 23h1v1h-1zM12 24h1v1h-1zM17 25h1v1h-1zM22 25h1v1h-1zM14 26h1v1h-1zM17 26h1v1h-1zM15 27h2v1h-2zM11 28h1v1h-1zM14 28h1v1h-1zM17 28h1v1h-1zM12 29h1v1h-1zM15 29h1v1h-1zM17 29h3v1h-3zM9 30h1v1h-1zM13 30h2v1h-2zM16 31h1v1h-1zM-13 40h1v1h-1z"/>
<path fill="#cea98c" d="M0 -20h1v1h-1zM24 -20h1v1h-1zM-2 -19h1v1h-1zM5 -19h1v1h-1zM-7 -18h1v1h-1zM5 -16h1v1h-1zM15 -16h1v1h-1zM18 -16h1v1h-1zM25 -16h1v1h-1zM3 -15h1v1h-1zM7 -15h1v1h-1zM9 -15h1v1h-1zM15 -15h1v1h-1zM1 -14h1v1h-1zM-5 -12h1v1h-1zM6 -12h1v1h-1zM-3 -11h1v1h-1zM0 -11h1v1h-1zM-5 -9h1v1h-1zM-3 -9h1v1h-1zM9 -9h1v1h-1zM17 -9h1v1h-1zM24 -9h1v1h-1zM-4 -8h1v1h-1zM16 -8h1v1h-1zM29 -7h1v1h-1zM22 -6h1v1h-1zM-12 -5h1v1h-1zM4 -5h1v1h-1zM8 -5h2v1h-2zM-8 -4h1v1h-1zM5 -4h1v1h-1zM18 -4h1v1h-1zM-3 -1h1v1h-1zM-12 0h1v1h-1zM-10 0h1v1h-1zM-2 0h1v1h-1zM22 1h1v1h-1zM23 2h1v1h-1zM2 3h1v1h-1zM23 3h1v1h-1zM21 4h1v1h-1zM-17 5h1v1h-1zM-18 6h1v1h-1zM-11 7h1v1h-1zM-2 7h1v1h-1zM19 7h1v1h-1zM-4 8h1v1h-1zM-13 9h1v1h-1zM-6 9h1v1h-1zM15 11h1v1h-1zM17 12h1v1h-1zM1 14h1v1h-1zM6 15h1v1h-1zM-16 16h2v1h-2zM11 16h1v1h-1zM-15 17h1v1h-1zM-10 17h1v1h-1zM10 17h1v1h-1zM7 19h1v1h-1zM-21 20h1v1h-1zM-6 20h1v1h-1zM4 22h1v1h-1zM-21 23h1v1h-1zM-10 23h1v1h-1zM-18 27h1v1h-1zM3 35h1v1h-1zM10 38h1v1h-1zM11 39h1v1h-1zM-5 42h1v1h-1zM-9 45h1v1h-1z"/>
<path fill="#c5c3a2" d="M6 -43h1v1h-1zM11 -37h2v1h-2zM-9 -35h1v1h-1zM-1 -34h1v1h-1zM1 -34h1v1h-1zM-16 -31h1v1h-1zM20 -31h1v1h-1zM22 -29h1v1h-1zM-4 -28h1v1h-1zM18 -28h1v1h-1zM-5 -27h1v1h-1zM25 -27h1v1h-1zM-5 -25h1v1h-1zM23 -25h2v1h-2zM27 -25h1v1h-1zM29 -25h1v1h-1zM-1 -24h1v1h-1zM-5 -22h2v1h-2zM0 -22h1v1h-1zM-13 -19h1v1h-1zM3 -19h1v1h-1zM6 -19h1v1h-1zM10 -19h1v1h-1zM21 -19h1v1h-1zM-4 -18h1v1h-1zM26 -17h1v1h-1zM-9 -16h1v1h-1zM9 -16h1v1h-1zM11 -16h1v1h-1zM-9 -15h1v1h-1zM-6 -15h1v1h-1zM10 -15h1v1h-1zM11 -14h1v1h-1zM27 -14h1v1h-1zM-11 -13h1v1h-1zM23 -13h1v1h-1zM19 -12h1v1h-1zM24 -11h1v1h-1zM5 -10h1v1h-1zM28 -9h1v1h-1zM35 -8h1v1h-1zM-16 -7h1v1h-1zM-12 -7h1v1h-1zM-13 -6h1v1h-1zM40 -5h1v1h-1zM28 -3h1v1h-1zM25 -2h1v1h-1zM30 -2h1v1h-1zM38 -2h1v1h-1zM22 -1h1v1h-1zM26 -1h1v1h-1zM30 0h1v1h-1zM25 2h1v1h-1zM-24 3h1v1h-1zM-16 3h1v1h-1zM28 4h1v1h-1zM19 8h1v1h-1zM22 8h1v1h-1zM-20 9h1v1h-1zM23 10h1v1h-1zM5 12h1v1h-1zM15 13h1v1h-1zM21 14h1v1h-1zM-5 15h1v1h-1zM18 15h2v1h-2zM3 16h1v1h-1zM22 16h1v1h-1zM-20 17h2v1h-2zM-16 18h1v1h-1zM4 18h1v1h-1zM-19 19h1v1h-1zM-13 19h1v1h-1zM-4 19h1v1h-1zM4 19h1v1h-1zM6 19h1v1h-1zM-22 20h1v1h-1zM-1 20h2v1h-2zM2 20h1v1h-1zM4 20h1v1h-1zM8 20h1v1h-1zM-16 21h1v1h-1zM-6 22h3v1h-3zM0 22h1v1h-1zM-1 23h1v1h-1zM2 23h1v1h-1zM4 23h1v1h-1zM-2 24h1v1h-1zM-6 25h2v1h-2zM-12 26h1v1h-1zM-5 26h1v1h-1zM2 26h1v1h-1zM5 26h1v1h-1zM-8 27h1v1h-1zM-14 28h1v1h-1zM-15 29h1v1h-1zM-11 29h1v1h-1zM-1 29h1v1h-1zM6 30h1v1h-1zM0 31h1v1h-1zM8 32h1v1h-1zM12 32h1v1h-1zM7 33h1v1h-1zM-1 34h2v1h-2zM4 34h1v1h-1zM1 35h1v1h-1zM-5 36h1v1h-1zM-3 36h1v1h-1zM0 37h1v1h-1zM11 37h1v1h-1zM-6 38h1v1h-1zM-1 38h1v1h-1zM-5 39h1v1h-1zM-8 40h1v1h-1zM-6 40h1v1h-1zM-11 42h1v1h-1zM-7 42h1v1h-1z"/>
<path fill="#d9d7b2" d="M-4 -48h1v1h-1zM5 -37h1v1h-1zM-11 -36h1v1h-1zM-7 -36h1v1h-1zM10 -35h1v1h-1zM-4 -30h1v1h-1zM19 -29h1v1h-1zM-1 -28h1v1h-1zM-8 -26h1v1h-1zM9 -26h1v1h-1zM-8 -25h1v1h-1zM-4 -25h1v1h-1zM5 -25h1v1h-1zM12 -25h1v1h-1zM-8 -23h1v1h-1zM-26 -22h1v1h-1zM1 -22h1v1h-1zM8 -22h1v1h-1zM-12 -21h1v1h-1zM7 -21h1v1h-1zM7 -20h1v1h-1zM20 -20h1v1h-1zM5 -18h1v1h-1zM-5 -17h1v1h-1zM5 -17h1v1h-1zM24 -17h1v1h-1zM36 -17h1v1h-1zM-8 -16h1v1h-1zM29 -16h1v1h-1zM37 -14h1v1h-1zM-4 -13h1v1h-1zM-10 -12h1v1h-1zM-8 -11h1v1h-1zM23 -11h1v1h-1zM29 -11h1v1h-1zM30 -10h1v1h-1zM-14 -9h1v1h-1zM-14 -8h1v1h-1zM34 -8h1v1h-1zM-14 -7h1v1h-1zM-5 -7h1v1h-1zM-14 -5h1v1h-1zM0 -5h1v1h-1zM2 -5h1v1h-1zM-17 -4h1v1h-1zM-11 -2h1v1h-1zM-17 -1h1v1h-1zM-14 -1h1v1h-1zM22 0h1v1h-1zM24 1h1v1h-1zM-16 4h1v1h-1zM30 4h1v1h-1zM-18 5h1v1h-1zM27 7h1v1h-1zM33 7h1v1h-1zM35 7h1v1h-1zM-20 8h2v1h-2zM-4 10h1v1h-1zM-20 11h1v1h-1zM10 12h1v1h-1zM22 12h1v1h-1zM-18 13h1v1h-1zM12 13h1v1h-1zM9 15h1v1h-1zM5 16h1v1h-1zM-13 17h1v1h-1zM8 17h1v1h-1zM-13 18h1v1h-1zM23 18h1v1h-1zM25 18h1v1h-1zM-28 20h1v1h-1zM0 21h1v1h-1zM8 23h1v1h-1zM-19 24h1v1h-1zM-7 24h1v1h-1zM5 24h1v1h-1zM-19 25h1v1h-1zM-18 26h1v1h-1zM-6 26h1v1h-1zM-9 28h1v1h-1zM5 29h1v1h-1zM-7 31h1v1h-1zM-3 33h1v1h-1zM13 33h1v1h-1zM-10 36h1v1h-1zM-11 43h1v1h-1z"/>
<path fill="#cf796e" d="M0 -9h1v1h-1zM23 -8h1v1h-1zM15 -6h1v1h-1zM15 -4h1v1h-1zM15 -3h2v1h-2zM-6 -2h1v1h-1zM2 -2h3v1h-3zM14 -2h1v1h-1zM-7 -1h1v1h-1zM-8 0h1v1h-1zM-4 0h1v1h-1zM7 0h1v1h-1zM-6 1h1v1h-1zM7 1h1v1h-1zM9 1h1v1h-1zM11 1h1v1h-1zM14 1h2v1h-2zM-6 2h1v1h-1zM-3 2h1v1h-1zM9 2h1v1h-1zM12 2h1v1h-1zM14 2h1v1h-1zM-9 3h1v1h-1zM-7 3h2v1h-2zM6 3h1v1h-1zM9 3h2v1h-2zM13 3h2v1h-2zM-11 4h1v1h-1zM-7 4h3v1h-3zM-3 4h1v1h-1zM6 4h1v1h-1zM14 4h1v1h-1zM-10 5h1v1h-1zM-8 5h1v1h-1zM5 5h1v1h-1zM9 5h1v1h-1zM13 5h1v1h-1zM20 5h1v1h-1zM-8 6h2v1h-2zM-1 6h1v1h-1zM7 6h4v1h-4zM18 6h1v1h-1zM-15 7h1v1h-1zM-9 7h1v1h-1zM-1 7h1v1h-1zM5 7h1v1h-1zM15 7h1v1h-1zM-8 8h2v1h-2zM4 8h1v1h-1zM8 8h1v1h-1zM17 8h1v1h-1zM-9 9h1v1h-1zM3 9h1v1h-1zM11 9h1v1h-1zM14 9h1v1h-1zM-13 10h1v1h-1zM-11 10h1v1h-1zM-8 10h1v1h-1zM8 10h1v1h-1zM11 10h1v1h-1zM13 10h1v1h-1zM15 10h1v1h-1zM-12 11h2v1h-2zM-13 12h1v1h-1zM-14 13h1v1h-1zM-12 13h1v1h-1zM-9 14h1v1h-1zM6 14h1v1h-1zM-15 15h1v1h-1zM-11 15h1v1h-1zM-8 15h1v1h-1zM2 37h1v1h-1zM0 40h1v1h-1zM-3 43h1v1h-1zM7 43h1v1h-1zM-7 47h1v1h-1z"/>
<path fill="#b65e56" d="M14 -4h1v1h-1zM2 -3h1v1h-1zM-5 -1h1v1h-1zM8 2h1v1h-1zM13 2h1v1h-1zM16 3h1v1h-1zM-9 4h1v1h-1zM17 4h1v1h-1zM-6 5h1v1h-1zM7 5h1v1h-1zM19 5h1v1h-1zM5 6h2v1h-2zM16 6h1v1h-1zM20 7h1v1h-1zM5 8h1v1h-1zM6 35h1v1h-1zM5 36h1v1h-1zM6 37h1v1h-1zM1 38h2v1h-2zM5 38h2v1h-2zM1 39h2v1h-2zM4 39h1v1h-1zM6 39h3v1h-3zM4 40h2v1h-2zM8 40h1v1h-1zM-1 41h2v1h-2zM6 41h2v1h-2zM-2 42h1v1h-1zM7 42h1v1h-1zM-2 43h1v1h-1zM3 44h1v1h-1zM6 44h1v1h-1zM-3 45h1v1h-1zM3 45h3v1h-3zM-6 46h5v1h-5zM2 46h2v1h-2zM-5 47h2v1h-2zM-6 48h1v1h-1zM-4 48h1v1h-1zM1 48h2v1h-2zM-5 49h2v1h-2zM-2 49h2v1h-2zM1 49h1v1h-1zM-4 50h1v1h-1zM-2 50h1v1h-1zM-3 51h2v1h-2z"/>
<path fill="#f6f7dc" d="M-22 -22h1v1h-1zM-24 -21h2v1h-2zM-31 -19h1v1h-1zM-26 -19h1v1h-1zM27 -19h1v1h-1zM-20 -18h1v1h-1zM-23 -17h1v1h-1zM-20 -17h1v1h-1zM-19 -16h1v1h-1zM-35 -15h2v1h-2zM-36 -14h1v1h-1zM40 -14h1v1h-1zM-38 -13h1v1h-1zM-36 -12h3v1h-3zM-18 -12h1v1h-1zM-38 -11h4v1h-4zM-42 -10h1v1h-1zM-36 -10h1v1h-1zM-34 -10h1v1h-1zM-27 -10h1v1h-1zM-38 -9h1v1h-1zM-36 -9h1v1h-1zM-33 -9h1v1h-1zM-36 -8h1v1h-1zM-34 -8h1v1h-1zM-34 -7h1v1h-1zM-28 -6h1v1h-1zM-37 -5h1v1h-1zM-35 -5h1v1h-1zM-32 -5h1v1h-1zM-34 -4h1v1h-1zM-45 -3h1v1h-1zM-28 -3h1v1h-1zM-25 -3h1v1h-1zM-46 -1h1v1h-1zM-39 0h1v1h-1zM-49 1h1v1h-1zM-45 1h1v1h-1zM-51 2h1v1h-1zM-38 2h1v1h-1zM-35 2h1v1h-1zM-46 4h1v1h-1zM-30 4h3v1h-3zM-25 4h1v1h-1zM-45 5h1v1h-1zM-41 5h1v1h-1zM-36 5h1v1h-1zM-32 5h1v1h-1zM-30 5h1v1h-1zM-45 6h1v1h-1zM-30 7h2v1h-2zM-39 9h1v1h-1zM-37 9h1v1h-1zM-38 10h1v1h-1zM-35 11h1v1h-1zM-31 12h1v1h-1zM-26 13h1v1h-1zM-29 17h1v1h-1zM-27 17h1v1h-1zM-31 20h1v1h-1zM-32 22h1v1h-1zM-29 25h1v1h-1zM-24 28h2v1h-2zM-20 32h1v1h-1zM-10 33h1v1h-1z"/>
<path fill="#a5c693" d="M-14 -23h1v1h-1zM-18 -18h1v1h-1zM12 -16h1v1h-1zM-29 -14h1v1h-1zM-22 -14h1v1h-1zM-13 -14h1v1h-1zM-30 -12h1v1h-1zM-33 -11h1v1h-1zM-25 -10h1v1h-1zM-19 -9h2v1h-2zM-42 -7h1v1h-1zM-19 -7h1v1h-1zM-44 -6h1v1h-1zM-32 -6h1v1h-1zM-22 -6h1v1h-1zM-20 -6h1v1h-1zM-29 -1h1v1h-1zM-27 -1h1v1h-1zM-23 -1h1v1h-1zM-43 0h1v1h-1zM-23 0h1v1h-1zM-30 1h1v1h-1zM-24 1h1v1h-1zM-32 2h1v1h-1zM-22 2h1v1h-1zM-51 3h1v1h-1zM-33 4h1v1h-1zM-35 6h1v1h-1zM-27 9h1v1h-1zM-30 10h1v1h-1zM-26 10h1v1h-1zM-24 11h1v1h-1zM-38 13h1v1h-1zM-39 14h2v1h-2zM-31 14h1v1h-1zM-29 14h1v1h-1zM-33 15h2v1h-2zM-30 15h1v1h-1zM-34 16h2v1h-2zM-34 17h1v1h-1zM-33 18h1v1h-1zM-35 19h1v1h-1zM-30 22h1v1h-1zM-26 23h1v1h-1zM-25 24h1v1h-1zM-1 26h1v1h-1zM-19 30h1v1h-1zM2 30h1v1h-1zM-11 31h1v1h-1zM-18 33h2v1h-2zM-18 34h1v1h-1zM-16 36h1v1h-1z"/>
<path fill="#e9d6b2" d="M-3 -48h1v1h-1zM-29 -22h3v1h-3zM-28 -21h1v1h-1zM-26 -20h1v1h-1zM-4 -19h1v1h-1zM23 -19h1v1h-1zM21 -17h1v1h-1zM-9 -14h1v1h-1zM5 -11h1v1h-1zM-12 -10h1v1h-1zM25 -9h1v1h-1zM1 -8h1v1h-1zM-15 -4h1v1h-1zM-12 -4h1v1h-1zM-3 -4h1v1h-1zM-20 -1h1v1h-1zM-18 -1h1v1h-1zM-16 -1h1v1h-1zM-18 0h1v1h-1zM-14 0h1v1h-1zM-16 1h1v1h-1zM-19 5h1v1h-1zM-16 10h1v1h-1zM-3 10h1v1h-1zM9 13h1v1h-1zM-22 21h1v1h-1zM-17 21h1v1h-1zM-15 21h1v1h-1zM-18 23h1v1h-1zM-15 23h1v1h-1zM-12 23h1v1h-1zM3 23h1v1h-1zM-20 24h1v1h-1z"/>
<path fill="#c26a63" d="M15 -8h1v1h-1zM13 -7h1v1h-1zM15 -7h1v1h-1zM14 -6h1v1h-1zM13 -5h3v1h-3zM1 -3h1v1h-1zM3 -3h2v1h-2zM13 -3h1v1h-1zM1 -2h1v1h-1zM-6 -1h1v1h-1zM2 -1h1v1h-1zM2 0h1v1h-1zM12 0h1v1h-1zM-7 1h1v1h-1zM8 1h1v1h-1zM-10 2h1v1h-1zM4 2h1v1h-1zM6 2h2v1h-2zM7 3h2v1h-2zM11 3h2v1h-2zM15 3h1v1h-1zM8 4h6v1h-6zM15 4h2v1h-2zM18 4h1v1h-1zM-9 5h1v1h-1zM10 5h2v1h-2zM16 5h3v1h-3zM14 6h2v1h-2zM17 6h1v1h-1zM-6 7h1v1h-1zM0 7h1v1h-1zM-1 8h1v1h-1zM1 8h1v1h-1zM3 8h1v1h-1zM14 8h2v1h-2zM2 9h1v1h-1zM-14 11h2v1h-2zM-8 11h1v1h-1zM-8 12h1v1h-1zM-13 13h1v1h-1zM-10 14h1v1h-1zM-8 14h1v1h-1zM-9 15h1v1h-1zM-8 22h1v1h-1zM3 36h2v1h-2zM6 36h1v1h-1zM3 37h2v1h-2zM7 37h1v1h-1zM3 38h2v1h-2zM5 39h1v1h-1zM3 40h1v1h-1zM7 40h1v1h-1zM8 41h1v1h-1zM-3 42h1v1h-1zM-4 44h1v1h-1zM-4 45h1v1h-1zM4 46h1v1h-1zM-6 47h1v1h-1zM1 47h3v1h-3zM-5 48h1v1h-1zM0 48h1v1h-1zM-3 49h1v1h-1zM0 49h1v1h-1zM-2 52h1v1h-1z"/>
<path fill="#ac4540" d="M5 37h1v1h-1zM3 39h1v1h-1zM1 40h2v1h-2zM6 40h1v1h-1zM1 41h5v1h-5zM-1 42h8v1h-8zM-1 43h8v1h-8zM-2 44h5v1h-5zM4 44h2v1h-2zM-2 45h5v1h-5zM-1 46h3v1h-3zM-3 47h4v1h-4zM-3 48h3v1h-3zM-3 50h1v1h-1z"/>
<path fill="#82aa67" d="M1 -53h1v1h-1zM2 -44h1v1h-1zM9 -44h1v1h-1zM5 -38h1v1h-1zM15 -38h1v1h-1zM17 -34h1v1h-1zM17 -33h1v1h-1zM-7 -32h1v1h-1zM17 -32h1v1h-1zM-8 -31h1v1h-1zM6 -31h1v1h-1zM-9 -30h2v1h-2zM6 -30h2v1h-2zM14 -30h1v1h-1zM-8 -29h1v1h-1zM40 -9h1v1h-1zM45 -5h1v1h-1zM42 -3h1v1h-1zM47 -3h1v1h-1zM51 -2h2v1h-2zM47 0h1v1h-1zM44 1h2v1h-2zM28 2h1v1h-1zM44 2h4v1h-4zM41 3h1v1h-1zM47 3h1v1h-1zM45 4h2v1h-2zM34 5h1v1h-1zM41 5h1v1h-1zM42 6h3v1h-3zM39 7h1v1h-1zM37 8h1v1h-1zM28 9h1v1h-1zM37 9h1v1h-1zM26 10h2v1h-2zM39 10h1v1h-1zM29 12h1v1h-1zM36 12h1v1h-1zM27 13h1v1h-1zM30 13h1v1h-1zM28 14h1v1h-1zM30 14h1v1h-1zM35 14h1v1h-1zM28 15h3v1h-3zM30 16h1v1h-1zM30 17h1v1h-1zM32 17h1v1h-1zM30 19h2v1h-2zM30 20h1v1h-1zM19 21h1v1h-1zM26 21h1v1h-1zM20 22h3v1h-3zM22 23h1v1h-1zM26 23h1v1h-1zM21 24h1v1h-1zM23 24h1v1h-1zM26 24h1v1h-1zM25 25h1v1h-1zM19 26h3v1h-3zM17 27h1v1h-1zM20 27h2v1h-2zM19 28h2v1h-2zM20 29h2v1h-2zM18 32h1v1h-1zM17 33h1v1h-1z"/>
<path fill="#cfceb1" d="M3 -51h1v1h-1zM-1 -49h1v1h-1zM-3 -46h1v1h-1zM2 -32h1v1h-1zM-21 -31h1v1h-1zM-20 -30h1v1h-1zM10 -30h1v1h-1zM24 -28h2v1h-2zM0 -27h1v1h-1zM0 -26h1v1h-1zM13 -26h1v1h-1zM24 -26h1v1h-1zM27 -26h1v1h-1zM-26 -25h1v1h-1zM11 -25h1v1h-1zM-26 -24h1v1h-1zM-8 -24h1v1h-1zM24 -24h1v1h-1zM29 -24h1v1h-1zM-25 -23h1v1h-1zM-4 -23h1v1h-1zM22 -23h1v1h-1zM-21 -22h1v1h-1zM-6 -22h1v1h-1zM-30 -21h1v1h-1zM-4 -21h1v1h-1zM8 -21h1v1h-1zM17 -21h1v1h-1zM-25 -20h1v1h-1zM8 -20h2v1h-2zM22 -20h1v1h-1zM15 -19h1v1h-1zM-21 -18h1v1h-1zM-16 -16h1v1h-1zM-3 -16h2v1h-2zM13 -16h1v1h-1zM-15 -15h1v1h-1zM-3 -15h1v1h-1zM26 -14h1v1h-1zM-24 -13h1v1h-1zM11 -13h1v1h-1zM14 -11h1v1h-1zM27 -11h2v1h-2zM40 -11h1v1h-1zM-9 -9h1v1h-1zM45 -9h1v1h-1zM-10 -8h1v1h-1zM-6 -8h1v1h-1zM44 -8h1v1h-1zM3 -6h1v1h-1zM-13 -5h1v1h-1zM-20 -4h1v1h-1zM-14 -4h1v1h-1zM23 -4h1v1h-1zM22 -3h1v1h-1zM-22 -2h1v1h-1zM-19 1h1v1h-1zM-17 1h1v1h-1zM25 1h1v1h-1zM-21 4h1v1h-1zM24 5h1v1h-1zM27 5h1v1h-1zM-28 6h1v1h-1zM24 7h1v1h-1zM-36 11h1v1h-1zM-28 12h1v1h-1zM23 13h1v1h-1zM6 16h1v1h-1zM-25 17h1v1h-1zM6 17h1v1h-1zM23 17h1v1h-1zM-12 18h1v1h-1zM7 18h1v1h-1zM-15 19h1v1h-1zM5 19h1v1h-1zM-29 20h1v1h-1zM-5 20h1v1h-1zM-24 21h1v1h-1zM-24 23h1v1h-1zM-17 23h2v1h-2zM-5 23h1v1h-1zM-16 25h1v1h-1zM-24 26h1v1h-1zM-21 26h1v1h-1zM-16 26h1v1h-1zM-10 26h1v1h-1zM-21 27h1v1h-1zM5 27h1v1h-1zM-7 28h1v1h-1zM-13 30h1v1h-1zM-18 31h1v1h-1zM-16 31h1v1h-1zM-19 32h1v1h-1zM-3 32h1v1h-1zM-21 33h1v1h-1zM-19 33h1v1h-1zM-8 33h2v1h-2zM-5 33h2v1h-2zM12 33h1v1h-1zM-9 35h1v1h-1zM-1 35h1v1h-1zM-11 36h1v1h-1zM-1 36h1v1h-1zM11 36h1v1h-1zM-6 37h1v1h-1zM-4 37h1v1h-1zM-11 39h1v1h-1zM-4 39h1v1h-1z"/>
<path fill="#e5e6c9" d="M-2 -49h1v1h-1zM-15 -33h1v1h-1zM-20 -32h1v1h-1zM-16 -32h1v1h-1zM10 -32h1v1h-1zM-13 -30h1v1h-1zM-24 -28h1v1h-1zM-27 -25h1v1h-1zM-22 -24h1v1h-1zM-23 -23h1v1h-1zM-30 -22h1v1h-1zM-24 -22h2v1h-2zM-19 -22h2v1h-2zM30 -22h1v1h-1zM-25 -21h1v1h-1zM-21 -21h2v1h-2zM9 -21h1v1h-1zM27 -21h1v1h-1zM-22 -20h1v1h-1zM-18 -20h2v1h-2zM28 -20h1v1h-1zM-29 -19h1v1h-1zM-20 -19h1v1h-1zM-18 -19h1v1h-1zM34 -19h1v1h-1zM-27 -18h1v1h-1zM-24 -18h1v1h-1zM-22 -18h1v1h-1zM20 -18h1v1h-1zM-33 -17h1v1h-1zM-35 -16h1v1h-1zM-26 -16h1v1h-1zM-21 -16h1v1h-1zM-33 -15h1v1h-1zM-21 -15h1v1h-1zM-4 -15h1v1h-1zM-2 -15h1v1h-1zM-37 -14h1v1h-1zM-20 -14h1v1h-1zM-37 -13h1v1h-1zM-38 -12h1v1h-1zM-27 -12h1v1h-1zM23 -12h1v1h-1zM-34 -11h1v1h-1zM-29 -11h1v1h-1zM-34 -9h1v1h-1zM-32 -9h1v1h-1zM-25 -9h1v1h-1zM-23 -9h1v1h-1zM-20 -9h1v1h-1zM-11 -9h2v1h-2zM-21 -8h1v1h-1zM-35 -7h1v1h-1zM-21 -7h1v1h-1zM-13 -7h1v1h-1zM-27 -5h1v1h-1zM-16 -5h1v1h-1zM1 -5h1v1h-1zM-27 -4h1v1h-1zM-13 -4h1v1h-1zM21 -4h1v1h-1zM-48 -3h1v1h-1zM-20 -3h1v1h-1zM-13 -3h1v1h-1zM-31 -2h1v1h-1zM-25 -2h1v1h-1zM-34 -1h2v1h-2zM-41 0h1v1h-1zM-48 1h1v1h-1zM-42 1h1v1h-1zM-37 1h1v1h-1zM-46 2h1v1h-1zM-44 2h1v1h-1zM-36 2h1v1h-1zM-24 2h1v1h-1zM-18 2h1v1h-1zM20 2h1v1h-1zM-48 3h3v1h-3zM-43 3h2v1h-2zM-22 3h1v1h-1zM-20 3h1v1h-1zM-42 4h1v1h-1zM-35 4h1v1h-1zM-22 4h1v1h-1zM-20 4h1v1h-1zM-44 5h1v1h-1zM-37 5h1v1h-1zM-28 5h1v1h-1zM-42 6h1v1h-1zM-37 6h1v1h-1zM-31 6h1v1h-1zM-40 7h1v1h-1zM-28 7h2v1h-2zM-44 8h1v1h-1zM-17 9h1v1h-1zM-40 11h1v1h-1zM-38 11h1v1h-1zM-19 11h1v1h-1zM-30 12h1v1h-1zM-25 12h2v1h-2zM3 12h1v1h-1zM-32 13h1v1h-1zM-19 13h1v1h-1zM2 14h1v1h-1zM-26 16h1v1h-1zM-28 17h1v1h-1zM-28 18h1v1h-1zM-25 19h1v1h-1zM-17 19h1v1h-1zM-32 21h1v1h-1zM-28 21h1v1h-1zM5 23h1v1h-1zM-29 24h1v1h-1zM-24 25h1v1h-1zM-17 25h1v1h-1zM-4 27h1v1h-1zM-25 28h1v1h-1zM-16 29h1v1h-1zM-14 29h1v1h-1zM-8 29h1v1h-1zM-23 30h1v1h-1zM-17 30h2v1h-2zM-8 30h1v1h-1zM-23 31h1v1h-1zM-21 32h1v1h-1zM-8 32h2v1h-2zM-10 35h1v1h-1zM0 36h1v1h-1zM-10 37h1v1h-1zM-11 38h1v1h-1zM-5 40h1v1h-1z"/>
<path fill="#e1b496" d="M-3 -18h1v1h-1zM2 -15h1v1h-1zM-1 -14h1v1h-1zM8 -14h1v1h-1zM-4 -12h1v1h-1zM-2 -12h1v1h-1zM11 -12h1v1h-1zM-6 -11h1v1h-1zM6 -11h1v1h-1zM10 -10h1v1h-1zM15 -10h1v1h-1zM15 -9h1v1h-1zM-8 -8h1v1h-1zM8 -8h1v1h-1zM17 -8h1v1h-1zM32 -8h1v1h-1zM-4 -7h2v1h-2zM-1 -7h1v1h-1zM9 -6h1v1h-1zM23 -6h1v1h-1zM26 -6h1v1h-1zM-8 -5h1v1h-1zM-4 -5h1v1h-1zM-1 -5h1v1h-1zM12 -5h1v1h-1zM-2 -4h1v1h-1zM2 -4h1v1h-1zM27 -4h1v1h-1zM-10 -3h1v1h-1zM-4 -3h1v1h-1zM5 -3h1v1h-1zM9 -3h1v1h-1zM27 -3h1v1h-1zM17 -2h1v1h-1zM6 -1h1v1h-1zM20 0h1v1h-1zM-11 1h1v1h-1zM-2 1h1v1h-1zM16 2h4v1h-4zM-17 3h1v1h-1zM3 3h1v1h-1zM20 4h1v1h-1zM-11 5h1v1h-1zM-2 5h1v1h-1zM3 5h1v1h-1zM-10 7h1v1h-1zM10 7h1v1h-1zM-5 8h1v1h-1zM18 8h1v1h-1zM-16 11h1v1h-1zM-1 12h1v1h-1zM1 12h1v1h-1zM-6 13h1v1h-1zM4 13h1v1h-1zM8 13h1v1h-1zM-6 14h1v1h-1zM-3 14h1v1h-1zM3 14h1v1h-1zM-18 15h1v1h-1zM-12 15h1v1h-1zM-4 15h1v1h-1zM-12 16h1v1h-1zM-2 16h1v1h-1zM4 16h1v1h-1zM-12 17h2v1h-2zM-4 17h1v1h-1zM2 17h1v1h-1zM-8 18h3v1h-3zM-2 18h1v1h-1zM1 18h1v1h-1zM-9 20h1v1h-1zM-21 22h2v1h-2zM-18 22h1v1h-1zM-9 22h1v1h-1zM-19 23h1v1h-1zM-23 25h1v1h-1zM-12 25h1v1h-1z"/>
<path fill="#ececd2" d="M-21 -26h1v1h-1zM-22 -23h1v1h-1zM29 -22h1v1h-1zM-29 -21h1v1h-1zM-24 -20h1v1h-1zM-20 -20h1v1h-1zM-22 -19h1v1h-1zM-34 -18h2v1h-2zM-35 -17h1v1h-1zM-34 -16h1v1h-1zM-32 -15h1v1h-1zM-19 -15h1v1h-1zM-17 -15h1v1h-1zM-4 -14h1v1h-1zM-36 -13h1v1h-1zM-28 -13h1v1h-1zM-18 -13h2v1h-2zM-37 -12h1v1h-1zM-28 -12h1v1h-1zM-30 -11h1v1h-1zM-23 -11h1v1h-1zM22 -11h1v1h-1zM-38 -10h1v1h-1zM-35 -10h1v1h-1zM-28 -10h1v1h-1zM-22 -10h1v1h-1zM-33 -8h1v1h-1zM-23 -7h1v1h-1zM-28 -5h1v1h-1zM-23 -4h1v1h-1zM-49 -3h1v1h-1zM-47 -3h2v1h-2zM-34 -3h3v1h-3zM-24 -3h1v1h-1zM-21 -3h1v1h-1zM17 -3h1v1h-1zM-47 -2h2v1h-2zM-33 -2h2v1h-2zM-48 0h2v1h-2zM-20 0h1v1h-1zM-46 1h1v1h-1zM-34 1h1v1h-1zM-48 2h1v1h-1zM-45 2h1v1h-1zM-41 2h1v1h-1zM-27 2h1v1h-1zM-25 2h1v1h-1zM-36 3h1v1h-1zM-28 3h1v1h-1zM-47 4h1v1h-1zM-44 4h1v1h-1zM-29 5h1v1h-1zM-46 6h1v1h-1zM-44 6h1v1h-1zM-41 6h1v1h-1zM-29 6h1v1h-1zM-32 7h1v1h-1zM-40 8h1v1h-1zM-32 8h1v1h-1zM-38 9h1v1h-1zM-35 9h2v1h-2zM-42 10h4v1h-4zM-35 10h1v1h-1zM-28 10h1v1h-1zM-39 11h1v1h-1zM-34 11h1v1h-1zM-42 12h1v1h-1zM-34 12h1v1h-1zM-32 12h1v1h-1zM-29 12h1v1h-1zM-27 12h1v1h-1zM-26 15h1v1h-1zM-29 18h1v1h-1zM-27 18h1v1h-1zM-29 19h1v1h-1zM-27 19h1v1h-1zM-16 20h2v1h-2zM-23 27h1v1h-1zM-3 27h1v1h-1zM3 28h1v1h-1zM-24 29h2v1h-2zM-24 30h1v1h-1zM-6 31h1v1h-1zM4 31h1v1h-1zM-11 34h1v1h-1zM-12 35h1v1h-1zM-17 37h1v1h-1z"/>
<path fill="#d39f85" d="M22 -18h1v1h-1zM22 -17h1v1h-1zM7 -16h1v1h-1zM16 -15h1v1h-1zM23 -15h1v1h-1zM-2 -14h1v1h-1zM0 -14h1v1h-1zM3 -14h1v1h-1zM14 -14h1v1h-1zM20 -14h1v1h-1zM5 -13h1v1h-1zM3 -12h1v1h-1zM9 -12h1v1h-1zM13 -12h1v1h-1zM-5 -11h1v1h-1zM9 -11h1v1h-1zM11 -11h1v1h-1zM13 -11h1v1h-1zM15 -11h1v1h-1zM-7 -10h2v1h-2zM-2 -10h1v1h-1zM2 -10h1v1h-1zM4 -10h1v1h-1zM13 -10h1v1h-1zM-6 -9h1v1h-1zM-1 -9h1v1h-1zM4 -9h1v1h-1zM8 -9h1v1h-1zM-2 -8h1v1h-1zM12 -8h1v1h-1zM26 -8h1v1h-1zM30 -8h1v1h-1zM4 -7h3v1h-3zM8 -7h1v1h-1zM14 -7h1v1h-1zM19 -7h2v1h-2zM-12 -6h2v1h-2zM6 -6h1v1h-1zM11 -6h1v1h-1zM24 -6h1v1h-1zM16 -5h1v1h-1zM24 -5h1v1h-1zM-5 -4h1v1h-1zM0 -4h1v1h-1zM6 -4h1v1h-1zM9 -4h1v1h-1zM13 -4h1v1h-1zM19 -4h1v1h-1zM12 -2h1v1h-1zM-13 -1h1v1h-1zM-2 -1h1v1h-1zM3 -1h1v1h-1zM13 -1h1v1h-1zM-3 0h1v1h-1zM3 0h1v1h-1zM5 0h1v1h-1zM13 0h1v1h-1zM-10 1h1v1h-1zM19 1h1v1h-1zM2 2h1v1h-1zM18 3h2v1h-2zM-14 5h1v1h-1zM-15 6h2v1h-2zM-12 6h1v1h-1zM-2 6h1v1h-1zM0 6h1v1h-1zM3 6h1v1h-1zM20 6h1v1h-1zM9 7h1v1h-1zM12 7h1v1h-1zM-15 8h1v1h-1zM-12 8h1v1h-1zM21 8h1v1h-1zM-12 9h1v1h-1zM-1 9h1v1h-1zM16 10h1v1h-1zM5 11h1v1h-1zM12 11h1v1h-1zM14 11h1v1h-1zM7 12h1v1h-1zM5 13h1v1h-1zM7 13h1v1h-1zM-19 14h1v1h-1zM-4 14h1v1h-1zM-1 14h1v1h-1zM4 14h1v1h-1zM7 14h1v1h-1zM16 14h1v1h-1zM-13 15h1v1h-1zM-3 15h1v1h-1zM10 15h1v1h-1zM-9 16h1v1h-1zM-5 16h1v1h-1zM-5 17h1v1h-1zM1 17h1v1h-1zM9 17h1v1h-1zM-9 18h1v1h-1zM-4 18h1v1h-1zM-10 19h1v1h-1zM-8 20h1v1h-1zM-9 21h2v1h-2zM-7 22h1v1h-1zM-9 23h1v1h-1zM-23 24h1v1h-1zM-10 24h1v1h-1zM4 35h1v1h-1zM10 37h1v1h-1zM9 38h1v1h-1z"/>
<path fill="#c9dead" d="M-5 -41h1v1h-1zM-14 -38h1v1h-1zM10 -38h1v1h-1zM6 -37h1v1h-1zM16 -35h1v1h-1zM-18 -34h1v1h-1zM-10 -33h1v1h-1zM-19 -31h1v1h-1zM-15 -31h1v1h-1zM-15 -29h1v1h-1zM-4 -29h1v1h-1zM-23 -26h1v1h-1zM4 -26h1v1h-1zM-18 -25h1v1h-1zM-24 -24h1v1h-1zM-21 -24h1v1h-1zM-19 -24h1v1h-1zM-21 -23h1v1h-1zM-15 -23h1v1h-1zM-29 -20h2v1h-2zM-21 -20h1v1h-1zM-28 -19h1v1h-1zM-16 -19h1v1h-1zM-29 -18h1v1h-1zM-19 -18h1v1h-1zM-15 -18h1v1h-1zM-14 -16h1v1h-1zM-36 -15h1v1h-1zM-27 -15h1v1h-1zM-21 -14h1v1h-1zM-32 -13h1v1h-1zM-23 -13h1v1h-1zM-12 -13h1v1h-1zM-31 -12h1v1h-1zM-25 -12h1v1h-1zM39 -12h1v1h-1zM-25 -11h2v1h-2zM-21 -11h1v1h-1zM-41 -10h1v1h-1zM-23 -10h1v1h-1zM-16 -10h1v1h-1zM41 -10h1v1h-1zM-31 -9h2v1h-2zM-27 -9h1v1h-1zM-41 -8h1v1h-1zM-26 -8h1v1h-1zM-43 -7h1v1h-1zM-41 -7h1v1h-1zM-37 -7h1v1h-1zM-42 -6h1v1h-1zM-26 -6h1v1h-1zM-44 -5h1v1h-1zM47 -4h1v1h-1zM-44 -3h1v1h-1zM-31 -3h1v1h-1zM-35 -2h1v1h-1zM-24 -2h2v1h-2zM-51 -1h1v1h-1zM-38 -1h1v1h-1zM-31 -1h1v1h-1zM-26 -1h1v1h-1zM-45 0h2v1h-2zM-35 0h1v1h-1zM-24 0h1v1h-1zM-29 1h1v1h-1zM-27 1h1v1h-1zM-25 1h1v1h-1zM-50 2h1v1h-1zM-38 3h2v1h-2zM-30 3h1v1h-1zM-39 4h1v1h-1zM-26 4h1v1h-1zM-48 5h1v1h-1zM-38 5h1v1h-1zM-23 5h1v1h-1zM-24 6h1v1h-1zM-44 7h1v1h-1zM-38 7h1v1h-1zM-35 7h1v1h-1zM-23 7h1v1h-1zM-46 8h1v1h-1zM-30 8h1v1h-1zM-27 8h1v1h-1zM-36 9h1v1h-1zM-33 9h1v1h-1zM-29 10h1v1h-1zM-30 11h1v1h-1zM-28 11h1v1h-1zM-26 11h1v1h-1zM-26 12h1v1h-1zM-18 12h1v1h-1zM-40 13h1v1h-1zM-30 14h1v1h-1zM-22 15h2v1h-2zM-30 16h1v1h-1zM-25 16h1v1h-1zM-22 16h1v1h-1zM-37 17h1v1h-1zM-31 18h1v1h-1zM22 18h1v1h-1zM-31 19h1v1h-1zM-33 20h1v1h-1zM-31 21h1v1h-1zM-25 21h1v1h-1zM11 27h1v1h-1zM-26 28h1v1h-1zM-2 28h1v1h-1zM8 29h1v1h-1zM-21 31h1v1h-1zM-18 35h1v1h-1zM-17 36h1v1h-1zM-16 37h1v1h-1zM-6 39h1v1h-1z"/>
<path fill="#d8ab8f" d="M-27 -23h1v1h-1zM-2 -18h1v1h-1zM25 -17h1v1h-1zM0 -16h1v1h-1zM2 -16h1v1h-1zM6 -16h1v1h-1zM14 -16h1v1h-1zM16 -16h1v1h-1zM24 -16h1v1h-1zM20 -15h1v1h-1zM24 -15h1v1h-1zM2 -14h1v1h-1zM21 -14h1v1h-1zM14 -13h1v1h-1zM1 -12h1v1h-1zM14 -12h1v1h-1zM20 -12h1v1h-1zM1 -11h1v1h-1zM3 -11h1v1h-1zM12 -11h1v1h-1zM16 -11h1v1h-1zM-14 -10h1v1h-1zM8 -10h1v1h-1zM16 -10h1v1h-1zM3 -9h1v1h-1zM5 -9h1v1h-1zM18 -9h1v1h-1zM22 -9h1v1h-1zM-15 -8h1v1h-1zM-3 -8h1v1h-1zM5 -8h1v1h-1zM24 -8h2v1h-2zM27 -8h2v1h-2zM-2 -7h1v1h-1zM11 -7h1v1h-1zM17 -7h1v1h-1zM24 -7h1v1h-1zM-5 -6h1v1h-1zM-2 -6h1v1h-1zM5 -6h1v1h-1zM8 -6h1v1h-1zM-7 -5h1v1h-1zM7 -5h1v1h-1zM21 -5h1v1h-1zM-10 -4h1v1h-1zM-1 -4h1v1h-1zM1 -4h1v1h-1zM11 -4h1v1h-1zM0 -3h1v1h-1zM6 -3h1v1h-1zM10 -3h1v1h-1zM-15 -2h1v1h-1zM-9 -2h1v1h-1zM-2 -2h1v1h-1zM0 -2h1v1h-1zM16 -2h1v1h-1zM18 -2h2v1h-2zM-4 -1h1v1h-1zM-1 -1h1v1h-1zM-1 0h2v1h-2zM4 0h1v1h-1zM-12 2h1v1h-1zM-1 2h1v1h-1zM-12 3h1v1h-1zM-2 3h1v1h-1zM1 4h1v1h-1zM-15 5h1v1h-1zM1 5h1v1h-1zM-14 7h2v1h-2zM11 7h1v1h-1zM-6 8h1v1h-1zM-15 9h2v1h-2zM-2 10h1v1h-1zM-1 11h1v1h-1zM1 11h1v1h-1zM11 11h1v1h-1zM-5 12h1v1h-1zM8 12h1v1h-1zM12 12h1v1h-1zM-5 13h1v1h-1zM-3 13h1v1h-1zM12 14h2v1h-2zM-1 15h1v1h-1zM-10 16h1v1h-1zM-2 17h1v1h-1zM-5 18h1v1h-1zM-9 19h1v1h-1zM-7 20h1v1h-1zM-3 21h1v1h-1zM-10 22h1v1h-1zM-12 24h1v1h-1zM-9 24h1v1h-1zM-21 25h1v1h-1z"/>
<path fill="#acb68c" d="M1 -50h1v1h-1zM4 -48h1v1h-1zM-6 -44h1v1h-1zM10 -40h1v1h-1zM13 -39h1v1h-1zM13 -38h1v1h-1zM9 -36h1v1h-1zM16 -36h1v1h-1zM19 -35h1v1h-1zM20 -29h2v1h-2zM23 -29h1v1h-1zM21 -28h1v1h-1zM16 -27h1v1h-1zM3 -26h1v1h-1zM17 -25h1v1h-1zM17 -24h1v1h-1zM21 -24h1v1h-1zM-6 -23h1v1h-1zM18 -23h1v1h-1zM-7 -22h1v1h-1zM18 -22h1v1h-1zM-10 -20h1v1h-1zM14 -18h1v1h-1zM10 -16h1v1h-1zM34 -12h1v1h-1zM43 -7h1v1h-1zM-17 -5h1v1h-1zM32 -4h1v1h-1zM31 -1h1v1h-1zM39 -1h1v1h-1zM28 1h2v1h-2zM-20 2h1v1h-1zM27 2h1v1h-1zM31 3h1v1h-1zM26 4h1v1h-1zM26 6h1v1h-1zM35 6h1v1h-1zM22 7h1v1h-1zM25 9h1v1h-1zM25 10h1v1h-1zM16 17h1v1h-1zM12 19h1v1h-1zM9 20h1v1h-1zM-30 23h1v1h-1zM-6 23h1v1h-1zM-2 23h1v1h-1zM1 23h1v1h-1zM3 25h1v1h-1zM-4 26h1v1h-1zM-10 28h1v1h-1zM-22 30h1v1h-1zM-12 30h1v1h-1zM13 34h1v1h-1zM12 35h1v1h-1zM14 35h1v1h-1zM12 36h1v1h-1z"/>
<path fill="#ccc9aa" d="M-3 -49h1v1h-1zM-2 -47h2v1h-2zM6 -47h1v1h-1zM11 -38h1v1h-1zM10 -34h2v1h-2zM2 -33h1v1h-1zM11 -33h1v1h-1zM21 -32h1v1h-1zM22 -30h1v1h-1zM10 -29h1v1h-1zM20 -28h1v1h-1zM26 -28h1v1h-1zM20 -27h1v1h-1zM5 -26h1v1h-1zM25 -26h2v1h-2zM-7 -25h1v1h-1zM-7 -24h1v1h-1zM21 -23h1v1h-1zM-3 -22h1v1h-1zM27 -22h1v1h-1zM-26 -21h1v1h-1zM-17 -21h1v1h-1zM-7 -21h1v1h-1zM-3 -21h1v1h-1zM22 -21h2v1h-2zM-7 -20h1v1h-1zM-3 -20h1v1h-1zM6 -20h1v1h-1zM26 -20h1v1h-1zM8 -19h2v1h-2zM19 -19h1v1h-1zM25 -18h2v1h-2zM28 -18h1v1h-1zM-9 -17h1v1h-1zM19 -17h1v1h-1zM29 -17h1v1h-1zM30 -16h1v1h-1zM-5 -15h1v1h-1zM11 -15h2v1h-2zM-17 -14h1v1h-1zM12 -14h1v1h-1zM-11 -11h1v1h-1zM7 -11h1v1h-1zM20 -11h1v1h-1zM33 -11h1v1h-1zM-13 -10h1v1h-1zM26 -10h2v1h-2zM34 -10h2v1h-2zM33 -8h1v1h-1zM28 -7h1v1h-1zM2 -6h1v1h-1zM-11 -4h1v1h-1zM17 -4h1v1h-1zM22 -4h1v1h-1zM24 -4h1v1h-1zM18 -3h1v1h-1zM21 -3h1v1h-1zM24 -3h1v1h-1zM22 -2h1v1h-1zM24 -2h1v1h-1zM30 -1h1v1h-1zM21 0h1v1h-1zM29 0h1v1h-1zM31 0h1v1h-1zM-20 1h1v1h-1zM26 1h1v1h-1zM32 1h1v1h-1zM-19 2h1v1h-1zM-19 4h1v1h-1zM24 4h1v1h-1zM-20 5h1v1h-1zM-13 5h1v1h-1zM28 6h1v1h-1zM31 6h1v1h-1zM-20 10h1v1h-1zM25 11h1v1h-1zM-20 12h1v1h-1zM20 12h1v1h-1zM3 13h1v1h-1zM-20 15h1v1h-1zM17 16h1v1h-1zM-24 17h1v1h-1zM-16 17h1v1h-1zM5 17h1v1h-1zM7 17h1v1h-1zM12 17h1v1h-1zM22 17h1v1h-1zM5 18h1v1h-1zM-5 19h1v1h-1zM-3 19h1v1h-1zM3 19h1v1h-1zM8 19h1v1h-1zM-4 20h1v1h-1zM3 22h1v1h-1zM6 22h1v1h-1zM-24 24h1v1h-1zM-17 24h1v1h-1zM-15 25h2v1h-2zM-3 25h1v1h-1zM9 25h1v1h-1zM-16 27h1v1h-1zM-12 27h1v1h-1zM-7 27h1v1h-1zM-5 27h1v1h-1zM3 27h1v1h-1zM-16 28h2v1h-2zM-13 28h1v1h-1zM-5 28h1v1h-1zM4 29h1v1h-1zM-18 30h1v1h-1zM-3 31h1v1h-1zM-5 32h2v1h-2zM-1 32h1v1h-1zM10 32h1v1h-1zM-6 34h1v1h-1zM-3 34h1v1h-1zM-2 35h1v1h-1zM-14 37h1v1h-1zM-9 37h1v1h-1zM-9 38h1v1h-1zM-7 39h1v1h-1zM-11 40h1v1h-1zM-13 41h2v1h-2zM-10 41h1v1h-1zM-5 41h1v1h-1zM-12 42h1v1h-1zM-6 42h1v1h-1zM-9 43h1v1h-1zM-7 43h1v1h-1z"/>
<path fill="#c8d2a5" d="M6 -48h1v1h-1zM6 -45h1v1h-1zM5 -44h2v1h-2zM-6 -41h1v1h-1zM1 -38h1v1h-1zM-7 -37h1v1h-1zM-14 -36h1v1h-1zM-6 -36h1v1h-1zM-4 -36h1v1h-1zM12 -36h1v1h-1zM-8 -35h1v1h-1zM-6 -35h1v1h-1zM-15 -34h1v1h-1zM-11 -34h1v1h-1zM-9 -34h2v1h-2zM0 -34h1v1h-1zM2 -34h1v1h-1zM5 -34h1v1h-1zM0 -33h1v1h-1zM20 -33h1v1h-1zM-12 -31h1v1h-1zM9 -30h1v1h-1zM18 -30h1v1h-1zM-2 -29h1v1h-1zM4 -29h1v1h-1zM-3 -28h1v1h-1zM1 -28h1v1h-1zM17 -28h1v1h-1zM-2 -27h1v1h-1zM-21 -25h1v1h-1zM1 -25h1v1h-1zM9 -25h1v1h-1zM16 -25h1v1h-1zM-23 -24h1v1h-1zM-5 -24h2v1h-2zM19 -24h1v1h-1zM13 -22h1v1h-1zM20 -22h1v1h-1zM25 -22h1v1h-1zM-31 -21h1v1h-1zM18 -21h1v1h-1zM18 -20h1v1h-1zM-15 -19h1v1h-1zM12 -18h1v1h-1zM32 -18h1v1h-1zM13 -17h1v1h-1zM32 -17h1v1h-1zM35 -17h1v1h-1zM-10 -16h1v1h-1zM35 -12h2v1h-2zM42 -11h1v1h-1zM32 -10h1v1h-1zM44 -10h1v1h-1zM43 -9h1v1h-1zM39 -7h1v1h-1zM47 -5h1v1h-1zM32 -2h1v1h-1zM-45 -1h1v1h-1zM32 0h1v1h-1zM29 5h1v1h-1zM31 5h1v1h-1zM29 6h1v1h-1zM-25 7h1v1h-1zM32 7h1v1h-1zM22 9h1v1h-1zM-19 10h1v1h-1zM36 10h1v1h-1zM-27 11h1v1h-1zM-22 11h1v1h-1zM-18 11h1v1h-1zM-35 14h1v1h-1zM-24 14h1v1h-1zM20 17h2v1h-2zM24 17h2v1h-2zM14 18h1v1h-1zM-32 19h1v1h-1zM-30 19h1v1h-1zM-34 20h1v1h-1zM-24 20h1v1h-1zM11 21h1v1h-1zM1 22h1v1h-1zM0 24h1v1h-1zM6 24h1v1h-1zM0 25h1v1h-1zM-7 26h1v1h-1zM-10 27h1v1h-1zM10 27h1v1h-1zM-22 28h1v1h-1zM-12 28h1v1h-1zM6 29h1v1h-1zM-21 30h1v1h-1zM-2 30h1v1h-1zM3 30h1v1h-1zM-17 31h1v1h-1zM-14 31h1v1h-1zM5 31h1v1h-1zM12 31h1v1h-1zM-6 32h1v1h-1zM0 32h1v1h-1zM-7 34h1v1h-1zM-18 36h1v1h-1zM-8 38h1v1h-1z"/>
<path fill="#cfb796" d="M21 -22h1v1h-1zM4 -20h1v1h-1zM-1 -19h2v1h-2zM18 -19h1v1h-1zM24 -19h1v1h-1zM-8 -18h1v1h-1zM-5 -18h1v1h-1zM-1 -18h1v1h-1zM4 -18h1v1h-1zM24 -18h1v1h-1zM-8 -17h2v1h-2zM18 -17h1v1h-1zM-6 -16h1v1h-1zM1 -16h1v1h-1zM8 -16h1v1h-1zM19 -16h1v1h-1zM5 -15h2v1h-2zM25 -15h3v1h-3zM13 -14h1v1h-1zM23 -14h1v1h-1zM30 -14h1v1h-1zM6 -13h3v1h-3zM-3 -12h1v1h-1zM8 -12h1v1h-1zM21 -12h1v1h-1zM24 -12h1v1h-1zM30 -12h1v1h-1zM3 -10h1v1h-1zM21 -10h1v1h-1zM28 -10h1v1h-1zM-13 -9h1v1h-1zM29 -9h2v1h-2zM3 -8h1v1h-1zM19 -8h1v1h-1zM-15 -7h1v1h-1zM-10 -7h1v1h-1zM-6 -7h1v1h-1zM0 -7h1v1h-1zM9 -7h1v1h-1zM26 -7h1v1h-1zM-15 -6h1v1h-1zM0 -6h1v1h-1zM-9 -5h1v1h-1zM17 -5h1v1h-1zM22 -5h2v1h-2zM25 -5h1v1h-1zM27 -5h2v1h-2zM-4 -4h1v1h-1zM25 -4h1v1h-1zM-8 -3h1v1h-1zM26 -3h1v1h-1zM-10 -2h1v1h-1zM-8 -2h1v1h-1zM20 -1h1v1h-1zM27 -1h1v1h-1zM19 0h1v1h-1zM-1 1h1v1h-1zM21 1h1v1h-1zM-13 2h1v1h-1zM22 2h1v1h-1zM-1 3h1v1h-1zM-17 4h1v1h-1zM23 4h1v1h-1zM0 5h1v1h-1zM-19 6h1v1h-1zM-3 6h1v1h-1zM23 6h1v1h-1zM-5 9h1v1h-1zM19 9h1v1h-1zM21 9h1v1h-1zM21 10h1v1h-1zM-5 11h1v1h-1zM4 11h1v1h-1zM19 11h1v1h-1zM9 12h1v1h-1zM14 12h3v1h-3zM18 12h1v1h-1zM10 13h1v1h-1zM16 13h1v1h-1zM10 14h2v1h-2zM17 14h1v1h-1zM-2 15h1v1h-1zM2 15h1v1h-1zM12 15h1v1h-1zM-18 16h1v1h-1zM-7 17h1v1h-1zM-11 18h2v1h-2zM3 18h1v1h-1zM10 18h1v1h-1zM0 19h1v1h-1zM-19 20h1v1h-1zM-11 21h1v1h-1zM-6 21h1v1h-1zM3 21h1v1h-1zM5 21h1v1h-1zM-17 22h1v1h-1zM-11 22h1v1h-1zM-14 23h2v1h-2zM-11 24h1v1h-1zM-6 24h1v1h-1zM-11 25h1v1h-1zM-8 25h1v1h-1zM-11 26h1v1h-1zM2 27h1v1h-1zM1 34h1v1h-1zM7 34h2v1h-2zM-2 38h1v1h-1zM-1 39h1v1h-1z"/>
<path fill="#dbeabd" d="M-1 -37h1v1h-1zM-12 -36h1v1h-1zM-19 -32h1v1h-1zM-11 -31h1v1h-1zM12 -30h1v1h-1zM-23 -29h1v1h-1zM-24 -27h1v1h-1zM-20 -26h1v1h-1zM-18 -26h1v1h-1zM-1 -26h1v1h-1zM-6 -25h1v1h-1zM13 -23h1v1h-1zM4 -22h1v1h-1zM4 -21h1v1h-1zM29 -21h1v1h-1zM-32 -20h1v1h-1zM-30 -20h1v1h-1zM11 -20h1v1h-1zM-27 -19h1v1h-1zM-14 -19h1v1h-1zM-32 -18h1v1h-1zM-28 -18h1v1h-1zM-25 -18h1v1h-1zM-27 -17h2v1h-2zM-24 -17h1v1h-1zM-33 -16h1v1h-1zM-37 -15h1v1h-1zM-26 -15h1v1h-1zM-38 -14h1v1h-1zM-35 -14h1v1h-1zM-33 -14h1v1h-1zM-27 -13h1v1h-1zM-33 -12h1v1h-1zM-20 -12h1v1h-1zM-27 -11h2v1h-2zM-37 -9h1v1h-1zM-35 -9h1v1h-1zM-28 -9h1v1h-1zM-27 -8h1v1h-1zM-28 -7h1v1h-1zM-20 -7h1v1h-1zM-40 -6h1v1h-1zM-42 -5h1v1h-1zM-38 -5h1v1h-1zM-36 -5h1v1h-1zM-26 -5h2v1h-2zM-23 -5h2v1h-2zM-28 -4h1v1h-1zM-19 -4h1v1h-1zM-43 -3h2v1h-2zM-30 -3h2v1h-2zM-26 -3h1v1h-1zM-44 -2h1v1h-1zM-39 -2h1v1h-1zM-34 -2h1v1h-1zM-49 -1h1v1h-1zM-37 -1h1v1h-1zM-51 0h2v1h-2zM-31 0h1v1h-1zM-47 1h1v1h-1zM-38 1h1v1h-1zM-35 1h1v1h-1zM-21 1h1v1h-1zM-49 4h2v1h-2zM-41 4h1v1h-1zM-31 4h1v1h-1zM-27 4h1v1h-1zM-24 4h1v1h-1zM-49 5h1v1h-1zM-34 5h1v1h-1zM-30 6h1v1h-1zM-26 6h1v1h-1zM-23 6h1v1h-1zM34 6h1v1h-1zM-33 7h1v1h-1zM-43 8h1v1h-1zM-37 8h1v1h-1zM-28 8h1v1h-1zM-45 9h1v1h-1zM-40 9h1v1h-1zM-31 9h1v1h-1zM-26 9h1v1h-1zM-44 10h1v1h-1zM-37 11h1v1h-1zM-31 11h1v1h-1zM-29 11h1v1h-1zM-36 13h1v1h-1zM-27 14h1v1h-1zM-27 16h1v1h-1zM23 19h1v1h-1zM-30 20h1v1h-1zM-29 21h1v1h-1zM-31 23h1v1h-1zM-27 23h1v1h-1zM-27 26h1v1h-1zM-27 27h2v1h-2zM-16 32h1v1h-1z"/>
<path fill="#dea187" d="M4 -17h1v1h-1zM21 -16h1v1h-1zM1 -15h1v1h-1zM22 -15h1v1h-1zM17 -14h1v1h-1zM21 -13h1v1h-1zM2 -12h1v1h-1zM-1 -11h1v1h-1zM2 -11h1v1h-1zM-4 -10h1v1h-1zM1 -10h1v1h-1zM7 -9h1v1h-1zM11 -9h1v1h-1zM21 -9h1v1h-1zM4 -8h1v1h-1zM9 -8h1v1h-1zM18 -8h1v1h-1zM21 -8h1v1h-1zM22 -7h1v1h-1zM7 -6h1v1h-1zM17 -6h1v1h-1zM8 -4h1v1h-1zM10 -4h1v1h-1zM-7 -3h1v1h-1zM-1 -3h1v1h-1zM8 -3h1v1h-1zM11 -3h1v1h-1zM11 -2h1v1h-1zM13 -2h1v1h-1zM4 -1h1v1h-1zM12 -1h1v1h-1zM18 -1h1v1h-1zM-13 0h1v1h-1zM18 0h1v1h-1zM-3 1h1v1h-1zM4 1h1v1h-1zM12 1h1v1h-1zM-11 2h1v1h-1zM-5 2h1v1h-1zM0 2h1v1h-1zM-4 3h1v1h-1zM-16 5h1v1h-1zM4 5h1v1h-1zM-16 6h1v1h-1zM-10 6h1v1h-1zM1 6h1v1h-1zM11 6h1v1h-1zM4 7h1v1h-1zM18 7h1v1h-1zM-16 8h1v1h-1zM-10 8h2v1h-2zM11 8h2v1h-2zM5 9h1v1h-1zM-9 10h1v1h-1zM6 11h1v1h-1zM-2 12h1v1h-1zM0 12h1v1h-1zM-1 13h1v1h-1zM-13 14h1v1h-1zM-11 14h1v1h-1zM8 14h1v1h-1zM-6 16h1v1h-1zM8 16h1v1h-1z"/>
<path fill="#62964e" d="M43 -8h1v1h-1zM45 -8h1v1h-1zM47 -7h1v1h-1zM41 -6h1v1h-1zM48 -6h1v1h-1zM48 -5h1v1h-1zM44 -4h1v1h-1zM50 -4h1v1h-1zM43 -3h1v1h-1zM46 -3h1v1h-1zM48 -3h1v1h-1zM40 -2h1v1h-1zM44 -2h2v1h-2zM48 -2h1v1h-1zM50 -2h1v1h-1zM41 -1h1v1h-1zM49 -1h1v1h-1zM42 0h1v1h-1zM49 0h2v1h-2zM34 1h1v1h-1zM36 1h1v1h-1zM40 1h2v1h-2zM36 2h1v1h-1zM40 2h2v1h-2zM33 4h1v1h-1zM36 4h1v1h-1zM39 4h1v1h-1zM41 4h1v1h-1zM43 4h2v1h-2zM32 5h1v1h-1zM43 5h2v1h-2zM30 6h1v1h-1zM41 6h1v1h-1zM29 7h1v1h-1zM38 7h1v1h-1zM43 7h1v1h-1zM34 8h1v1h-1zM38 8h1v1h-1zM40 8h3v1h-3zM29 10h1v1h-1zM37 10h1v1h-1zM24 11h1v1h-1zM27 11h1v1h-1zM35 11h2v1h-2zM24 12h1v1h-1zM38 12h1v1h-1zM28 13h1v1h-1zM24 14h2v1h-2zM27 14h1v1h-1zM29 14h1v1h-1zM27 15h1v1h-1zM25 16h3v1h-3zM27 17h2v1h-2zM17 18h2v1h-2zM20 18h1v1h-1zM26 18h1v1h-1zM28 18h1v1h-1zM31 18h2v1h-2zM22 19h1v1h-1zM27 19h1v1h-1zM27 20h1v1h-1zM17 21h1v1h-1zM20 21h1v1h-1zM25 21h1v1h-1zM19 22h1v1h-1zM28 22h1v1h-1zM17 23h1v1h-1zM20 23h2v1h-2zM24 23h1v1h-1zM19 24h1v1h-1zM24 24h1v1h-1zM23 25h2v1h-2zM22 27h2v1h-2z"/>
<path fill="#bab592" d="M21 -25h1v1h-1zM-2 -23h1v1h-1zM23 -22h1v1h-1zM-8 -21h1v1h-1zM-6 -21h1v1h-1zM-2 -21h1v1h-1zM19 -21h1v1h-1zM27 -17h1v1h-1zM28 -16h1v1h-1zM-10 -13h1v1h-1zM29 -12h1v1h-1zM32 -9h3v1h-3zM-2 -5h1v1h-1zM31 -5h1v1h-1zM31 -3h1v1h-1zM21 -1h1v1h-1zM28 0h1v1h-1zM25 3h1v1h-1zM26 5h1v1h-1zM24 8h1v1h-1zM19 10h1v1h-1zM21 12h1v1h-1zM22 14h1v1h-1zM14 16h1v1h-1zM15 17h1v1h-1zM6 18h1v1h-1zM-2 19h1v1h-1zM-2 20h1v1h-1zM5 20h1v1h-1zM-1 21h1v1h-1zM10 21h1v1h-1zM9 22h1v1h-1zM-6 27h1v1h-1zM6 31h1v1h-1zM5 32h1v1h-1zM9 32h1v1h-1zM11 32h1v1h-1zM9 34h1v1h-1zM12 34h1v1h-1zM8 35h1v1h-1zM10 35h1v1h-1zM-4 36h1v1h-1zM10 36h1v1h-1zM12 37h2v1h-2z"/>
<path fill="#b6d49f" d="M-6 -46h1v1h-1zM-6 -43h1v1h-1zM-9 -40h1v1h-1zM14 -40h1v1h-1zM2 -37h1v1h-1zM-17 -35h1v1h-1zM16 -34h1v1h-1zM-11 -33h1v1h-1zM-12 -32h1v1h-1zM0 -32h1v1h-1zM-21 -28h1v1h-1zM-19 -28h1v1h-1zM-14 -28h1v1h-1zM-14 -27h1v1h-1zM-8 -27h1v1h-1zM-19 -23h1v1h-1zM-15 -22h1v1h-1zM-15 -21h1v1h-1zM-16 -20h1v1h-1zM-31 -18h2v1h-2zM-16 -18h1v1h-1zM-27 -16h1v1h-1zM-23 -15h1v1h-1zM-31 -14h2v1h-2zM-24 -14h2v1h-2zM-20 -13h1v1h-1zM-40 -12h2v1h-2zM-41 -11h3v1h-3zM-32 -11h1v1h-1zM-18 -11h2v1h-2zM-32 -10h1v1h-1zM-40 -9h1v1h-1zM39 -9h1v1h-1zM-42 -8h1v1h-1zM-38 -8h1v1h-1zM-30 -8h1v1h-1zM-28 -8h1v1h-1zM-40 -7h1v1h-1zM-36 -7h1v1h-1zM-30 -7h2v1h-2zM-45 -6h1v1h-1zM-38 -6h1v1h-1zM-31 -6h1v1h-1zM-23 -6h1v1h-1zM-45 -5h1v1h-1zM-40 -5h1v1h-1zM-31 -5h1v1h-1zM-24 -5h1v1h-1zM-47 -4h1v1h-1zM-31 -4h1v1h-1zM38 -4h1v1h-1zM43 -4h1v1h-1zM-39 -3h1v1h-1zM-36 -3h1v1h-1zM-43 -2h1v1h-1zM-37 -2h1v1h-1zM-29 -2h1v1h-1zM-43 -1h2v1h-2zM-42 0h1v1h-1zM-38 0h2v1h-2zM-26 0h1v1h-1zM35 0h1v1h-1zM-33 1h3v1h-3zM-23 1h1v1h-1zM-31 2h2v1h-2zM42 2h1v1h-1zM-33 3h1v1h-1zM-31 3h1v1h-1zM-33 5h1v1h-1zM-39 6h2v1h-2zM-39 7h1v1h-1zM-34 8h1v1h-1zM-24 8h1v1h-1zM-30 9h1v1h-1zM-27 10h1v1h-1zM-22 10h1v1h-1zM-43 11h1v1h-1zM-25 11h1v1h-1zM-38 12h1v1h-1zM-33 13h1v1h-1zM-32 14h1v1h-1zM-39 15h2v1h-2zM-35 15h1v1h-1zM-29 15h1v1h-1zM-37 16h1v1h-1zM-35 16h1v1h-1zM-32 16h1v1h-1zM-29 16h2v1h-2zM-31 17h1v1h-1zM-36 18h1v1h-1zM-30 18h1v1h-1zM-29 22h3v1h-3zM11 24h1v1h-1zM16 24h1v1h-1zM-25 26h1v1h-1zM-20 28h1v1h-1zM-5 29h1v1h-1zM-17 32h1v1h-1zM-16 34h1v1h-1zM-19 35h1v1h-1zM-13 36h1v1h-1z"/>
<path fill="#c6b08f" d="M-1 -22h1v1h-1zM3 -21h1v1h-1zM-6 -20h1v1h-1zM4 -19h1v1h-1zM16 -18h2v1h-2zM9 -17h1v1h-1zM15 -17h1v1h-1zM20 -17h1v1h-1zM-8 -15h1v1h-1zM6 -14h1v1h-1zM9 -14h1v1h-1zM22 -14h1v1h-1zM24 -14h1v1h-1zM-12 -12h1v1h-1zM4 -12h1v1h-1zM-7 -11h1v1h-1zM14 -10h1v1h-1zM-5 -8h1v1h-1zM4 -6h1v1h-1zM29 -6h1v1h-1zM31 -6h2v1h-2zM-3 -5h1v1h-1zM-15 -3h1v1h-1zM-9 -3h1v1h-1zM20 -3h1v1h-1zM26 -2h1v1h-1zM-10 -1h1v1h-1zM-19 0h1v1h-1zM-13 1h1v1h-1zM-14 4h2v1h-2zM0 4h1v1h-1zM2 4h1v1h-1zM23 7h1v1h-1zM-3 8h2v1h-2zM20 11h1v1h-1zM14 15h1v1h-1zM15 16h1v1h-1zM-1 18h1v1h-1zM8 18h2v1h-2zM11 18h1v1h-1zM-1 19h1v1h-1zM-18 21h1v1h-1zM1 21h1v1h-1zM-14 24h2v1h-2zM-3 24h1v1h-1zM-22 25h1v1h-1zM3 32h1v1h-1zM6 32h1v1h-1zM3 33h1v1h-1zM1 36h1v1h-1zM-9 40h1v1h-1zM-9 44h1v1h-1zM-7 44h1v1h-1z"/>
<path fill="#a6c788" d="M-5 -46h1v1h-1zM-5 -45h1v1h-1zM0 -45h1v1h-1zM3 -43h1v1h-1zM10 -43h1v1h-1zM-6 -42h1v1h-1zM2 -41h1v1h-1zM-11 -39h1v1h-1zM-3 -38h1v1h-1zM-10 -37h1v1h-1zM-15 -36h1v1h-1zM-17 -34h1v1h-1zM6 -34h1v1h-1zM-7 -33h1v1h-1zM6 -33h1v1h-1zM-8 -32h1v1h-1zM7 -32h1v1h-1zM-9 -31h1v1h-1zM-16 -27h1v1h-1zM-11 -26h1v1h-1zM2 -26h1v1h-1zM-14 -25h1v1h-1zM-12 -24h1v1h-1zM-10 -23h1v1h-1zM31 -23h1v1h-1zM-28 -17h1v1h-1zM38 -7h1v1h-1zM43 -6h1v1h-1zM43 -5h1v1h-1zM41 -3h1v1h-1zM44 -3h1v1h-1zM43 -1h1v1h-1zM43 1h1v1h-1zM40 3h1v1h-1zM38 4h1v1h-1zM32 9h1v1h-1zM41 9h1v1h-1zM29 11h2v1h-2zM33 11h1v1h-1zM39 11h1v1h-1zM33 12h1v1h-1zM35 13h2v1h-2zM35 15h1v1h-1zM24 16h1v1h-1zM27 18h1v1h-1zM21 19h1v1h-1zM16 20h1v1h-1zM21 20h1v1h-1zM23 20h1v1h-1zM25 20h1v1h-1zM15 21h1v1h-1zM15 22h1v1h-1zM13 23h1v1h-1zM15 23h2v1h-2zM13 24h1v1h-1zM15 24h1v1h-1zM17 24h1v1h-1zM22 24h1v1h-1zM12 25h4v1h-4zM21 25h1v1h-1zM15 26h1v1h-1zM24 26h1v1h-1zM12 27h1v1h-1zM14 27h1v1h-1zM13 28h1v1h-1zM15 28h1v1h-1zM18 28h1v1h-1zM9 29h1v1h-1zM14 29h1v1h-1zM14 32h2v1h-2zM15 33h1v1h-1zM16 34h1v1h-1zM-15 39h1v1h-1z"/>
<path fill="#cfd6ac" d="M-1 -51h1v1h-1zM1 -48h1v1h-1zM-6 -40h1v1h-1zM-13 -39h1v1h-1zM-7 -39h1v1h-1zM-1 -38h2v1h-2zM6 -38h1v1h-1zM-13 -37h1v1h-1zM-5 -37h1v1h-1zM1 -37h1v1h-1zM10 -36h1v1h-1zM3 -34h1v1h-1zM8 -34h1v1h-1zM-18 -33h1v1h-1zM3 -33h1v1h-1zM15 -32h1v1h-1zM2 -31h1v1h-1zM11 -31h1v1h-1zM4 -30h1v1h-1zM12 -29h1v1h-1zM-23 -27h1v1h-1zM-1 -27h1v1h-1zM10 -27h1v1h-1zM12 -27h1v1h-1zM-9 -26h1v1h-1zM10 -25h1v1h-1zM25 -25h1v1h-1zM-25 -24h1v1h-1zM-9 -24h1v1h-1zM4 -24h1v1h-1zM9 -24h1v1h-1zM-25 -22h1v1h-1zM7 -22h1v1h-1zM31 -22h1v1h-1zM-14 -21h1v1h-1zM20 -21h1v1h-1zM-25 -19h1v1h-1zM-23 -19h1v1h-1zM-21 -19h1v1h-1zM-19 -19h1v1h-1zM30 -19h1v1h-1zM32 -19h1v1h-1zM-14 -18h1v1h-1zM15 -18h1v1h-1zM-25 -17h1v1h-1zM-16 -17h1v1h-1zM-12 -17h1v1h-1zM10 -17h1v1h-1zM30 -17h1v1h-1zM-24 -16h1v1h-1zM29 -15h1v1h-1zM31 -15h1v1h-1zM-12 -14h1v1h-1zM-10 -14h1v1h-1zM-6 -14h1v1h-1zM-8 -13h1v1h-1zM-23 -12h1v1h-1zM-11 -12h1v1h-1zM-15 -11h1v1h-1zM-12 -11h1v1h-1zM-15 -10h1v1h-1zM38 -10h1v1h-1zM43 -10h1v1h-1zM39 -6h1v1h-1zM30 -4h1v1h-1zM40 -4h1v1h-1zM29 -3h1v1h-1zM-41 -1h1v1h-1zM24 -1h1v1h-1zM-26 1h1v1h-1zM25 4h1v1h-1zM-47 5h1v1h-1zM-21 7h1v1h-1zM34 7h1v1h-1zM-42 8h1v1h-1zM26 9h1v1h-1zM38 9h1v1h-1zM-36 10h1v1h-1zM-18 10h1v1h-1zM26 11h1v1h-1zM19 12h1v1h-1zM-27 13h1v1h-1zM24 13h1v1h-1zM-34 14h1v1h-1zM-20 14h1v1h-1zM21 15h1v1h-1zM-24 16h1v1h-1zM-20 16h1v1h-1zM13 17h1v1h-1zM13 18h1v1h-1zM24 18h1v1h-1zM-26 19h1v1h-1zM10 20h1v1h-1zM12 20h1v1h-1zM-26 21h1v1h-1zM-23 21h1v1h-1zM-2 21h1v1h-1zM9 24h1v1h-1zM-10 25h1v1h-1zM8 25h1v1h-1zM3 26h1v1h-1zM-24 27h1v1h-1zM0 27h1v1h-1zM-8 28h1v1h-1zM-4 28h1v1h-1zM5 28h1v1h-1zM-9 29h1v1h-1zM-14 30h1v1h-1zM-20 31h1v1h-1zM-15 33h1v1h-1zM-9 33h1v1h-1zM0 33h1v1h-1zM-8 35h1v1h-1zM-12 38h1v1h-1zM-8 39h1v1h-1z"/>
<path fill="#93af78" d="M4 -50h1v1h-1zM4 -47h1v1h-1zM3 -46h1v1h-1zM-3 -45h1v1h-1zM-1 -45h1v1h-1zM-7 -44h1v1h-1zM-3 -44h1v1h-1zM2 -43h1v1h-1zM5 -42h1v1h-1zM7 -42h1v1h-1zM10 -42h1v1h-1zM-10 -41h1v1h-1zM4 -41h2v1h-2zM7 -41h1v1h-1zM11 -41h2v1h-2zM13 -40h1v1h-1zM8 -39h1v1h-1zM16 -38h1v1h-1zM-15 -37h1v1h-1zM-3 -37h1v1h-1zM13 -37h1v1h-1zM15 -37h1v1h-1zM2 -36h1v1h-1zM6 -35h2v1h-2zM-3 -34h1v1h-1zM-8 -33h1v1h-1zM-3 -33h1v1h-1zM5 -33h1v1h-1zM13 -33h1v1h-1zM21 -33h1v1h-1zM5 -32h1v1h-1zM14 -32h1v1h-1zM16 -32h1v1h-1zM18 -32h1v1h-1zM-7 -30h1v1h-1zM16 -30h1v1h-1zM-5 -29h1v1h-1zM7 -29h1v1h-1zM14 -29h2v1h-2zM-10 -28h1v1h-1zM6 -28h1v1h-1zM-11 -27h2v1h-2zM-13 -26h1v1h-1zM21 -26h2v1h-2zM-15 -25h1v1h-1zM-13 -25h1v1h-1zM-11 -25h2v1h-2zM-9 -23h1v1h-1zM16 -23h1v1h-1zM12 -19h2v1h-2zM37 -16h2v1h-2zM34 -15h2v1h-2zM37 -15h1v1h-1zM-28 -14h1v1h-1zM-18 -10h1v1h-1zM42 -8h1v1h-1zM37 -7h1v1h-1zM34 -6h1v1h-1zM44 -6h1v1h-1zM37 -5h1v1h-1zM34 -4h2v1h-2zM42 -4h1v1h-1zM45 -4h1v1h-1zM34 -3h2v1h-2zM39 -3h1v1h-1zM45 -3h1v1h-1zM43 -2h1v1h-1zM49 -2h1v1h-1zM36 -1h1v1h-1zM48 -1h1v1h-1zM50 -1h1v1h-1zM36 0h2v1h-2zM41 0h1v1h-1zM45 0h1v1h-1zM38 1h2v1h-2zM49 1h1v1h-1zM43 2h1v1h-1zM34 3h1v1h-1zM39 3h1v1h-1zM42 3h1v1h-1zM37 5h1v1h-1zM39 5h1v1h-1zM45 5h1v1h-1zM39 6h2v1h-2zM26 7h1v1h-1zM41 7h1v1h-1zM39 8h1v1h-1zM31 9h1v1h-1zM30 10h1v1h-1zM32 11h1v1h-1zM34 11h1v1h-1zM-23 13h1v1h-1zM32 13h1v1h-1zM34 13h1v1h-1zM26 14h1v1h-1zM25 15h1v1h-1zM34 15h1v1h-1zM19 18h1v1h-1zM20 19h1v1h-1zM13 20h1v1h-1zM18 20h3v1h-3zM28 20h1v1h-1zM24 21h1v1h-1zM12 22h1v1h-1zM26 22h1v1h-1zM11 23h1v1h-1zM-26 26h1v1h-1zM23 26h1v1h-1zM13 27h1v1h-1zM11 29h1v1h-1zM13 29h1v1h-1zM11 30h1v1h-1zM17 30h3v1h-3zM-10 31h1v1h-1zM-11 32h1v1h-1zM13 35h1v1h-1zM15 35h1v1h-1z"/>
<path fill="#da937c" d="M22 -16h1v1h-1zM18 -15h1v1h-1zM21 -15h1v1h-1zM1 -13h1v1h-1zM3 -13h1v1h-1zM19 -13h1v1h-1zM10 -12h1v1h-1zM10 -11h1v1h-1zM-5 -10h1v1h-1zM6 -8h1v1h-1zM7 -7h1v1h-1zM12 -7h1v1h-1zM21 -7h1v1h-1zM23 -7h1v1h-1zM12 -6h1v1h-1zM-11 -5h2v1h-2zM3 -4h1v1h-1zM-5 -3h1v1h-1zM19 -3h1v1h-1zM8 -2h1v1h-1zM-7 0h1v1h-1zM-5 0h1v1h-1zM17 1h1v1h-1zM-8 2h2v1h-2zM11 2h1v1h-1zM-11 3h1v1h-1zM-5 3h1v1h-1zM5 3h1v1h-1zM17 3h1v1h-1zM-4 4h1v1h-1zM19 4h1v1h-1zM-7 5h1v1h-1zM-5 5h1v1h-1zM-3 5h1v1h-1zM14 5h1v1h-1zM21 5h1v1h-1zM13 6h1v1h-1zM6 7h3v1h-3zM13 7h1v1h-1zM-14 8h1v1h-1zM0 8h1v1h-1zM16 8h1v1h-1zM-11 9h1v1h-1zM-7 9h1v1h-1zM7 9h1v1h-1zM9 9h2v1h-2zM4 10h1v1h-1zM7 10h1v1h-1zM10 10h1v1h-1zM-10 11h1v1h-1zM-10 13h2v1h-2zM0 13h1v1h-1zM-16 14h1v1h-1zM-12 14h1v1h-1zM-16 15h1v1h-1zM-10 15h1v1h-1zM0 15h1v1h-1zM3 15h1v1h-1zM-7 16h1v1h-1zM-7 21h1v1h-1zM-1 51h1v1h-1z"/>
<path fill="#bdbd9d" d="M0 -49h1v1h-1zM4 -46h1v1h-1zM6 -46h1v1h-1zM7 -44h1v1h-1zM-1 -40h1v1h-1zM21 -31h1v1h-1zM20 -30h1v1h-1zM-4 -26h1v1h-1zM11 -24h1v1h-1zM22 -24h1v1h-1zM-5 -23h1v1h-1zM20 -23h1v1h-1zM26 -23h1v1h-1zM6 -22h1v1h-1zM25 -21h1v1h-1zM19 -20h1v1h-1zM28 -19h1v1h-1zM-9 -18h1v1h-1zM13 -18h1v1h-1zM26 -16h1v1h-1zM26 -13h1v1h-1zM30 -13h1v1h-1zM28 -12h1v1h-1zM31 -11h1v1h-1zM34 -11h1v1h-1zM31 -9h1v1h-1zM30 -6h1v1h-1zM-11 -3h1v1h-1zM23 0h1v1h-1zM25 0h3v1h-3zM24 2h1v1h-1zM26 2h1v1h-1zM24 3h1v1h-1zM26 3h1v1h-1zM27 4h1v1h-1zM25 5h1v1h-1zM24 6h1v1h-1zM-3 9h1v1h-1zM23 9h1v1h-1zM24 10h1v1h-1zM19 13h1v1h-1zM20 15h1v1h-1zM11 17h1v1h-1zM-7 19h1v1h-1zM-23 20h1v1h-1zM-5 21h2v1h-2zM-22 22h1v1h-1zM-14 22h1v1h-1zM2 22h1v1h-1zM8 22h1v1h-1zM3 24h1v1h-1zM-7 25h1v1h-1zM2 25h1v1h-1zM5 25h1v1h-1zM-14 26h1v1h-1zM-9 26h2v1h-2zM4 30h1v1h-1zM11 31h1v1h-1zM-2 33h1v1h-1zM1 33h1v1h-1zM8 33h1v1h-1zM-9 34h1v1h-1zM2 34h1v1h-1zM-7 35h1v1h-1zM9 35h1v1h-1zM-7 37h1v1h-1zM-5 37h1v1h-1zM-2 37h2v1h-2zM-7 38h1v1h-1zM-5 38h1v1h-1zM-3 38h1v1h-1zM12 38h1v1h-1zM-9 39h1v1h-1zM-9 41h3v1h-3zM-8 42h1v1h-1zM-8 43h1v1h-1z"/>
<path fill="#e6f3c8" d="M-17 -32h1v1h-1zM-20 -31h1v1h-1zM-22 -30h1v1h-1zM-19 -30h1v1h-1zM-22 -28h1v1h-1zM-16 -28h1v1h-1zM-25 -26h1v1h-1zM-19 -25h1v1h-1zM-20 -24h1v1h-1zM-31 -20h1v1h-1zM-32 -19h1v1h-1zM-32 -17h2v1h-2zM-32 -16h2v1h-2zM-20 -16h1v1h-1zM-34 -14h1v1h-1zM-34 -13h1v1h-1zM-29 -12h1v1h-1zM-26 -12h1v1h-1zM-33 -10h1v1h-1zM-43 -9h1v1h-1zM-39 -9h1v1h-1zM-26 -9h1v1h-1zM-40 -8h1v1h-1zM-35 -8h1v1h-1zM-32 -8h1v1h-1zM-43 -6h1v1h-1zM-37 -6h1v1h-1zM-34 -6h1v1h-1zM-43 -5h1v1h-1zM-39 -5h1v1h-1zM-44 -4h2v1h-2zM-39 -4h1v1h-1zM-36 -4h1v1h-1zM-33 -4h1v1h-1zM-29 -4h1v1h-1zM-41 -3h1v1h-1zM-27 -3h1v1h-1zM-49 -2h1v1h-1zM-47 -1h1v1h-1zM-40 -1h1v1h-1zM-49 0h1v1h-1zM-33 0h1v1h-1zM-22 0h1v1h-1zM-50 1h1v1h-1zM-41 1h2v1h-2zM-37 2h1v1h-1zM-34 3h1v1h-1zM-26 3h1v1h-1zM-21 3h1v1h-1zM-36 6h1v1h-1zM-33 6h2v1h-2zM-41 7h1v1h-1zM36 7h1v1h-1zM-35 8h1v1h-1zM-29 9h1v1h-1zM-37 12h1v1h-1zM-31 13h1v1h-1zM-25 13h1v1h-1zM-4 25h1v1h-1z"/>
<path fill="#c1daa8" d="M-1 -46h1v1h-1zM-15 -35h1v1h-1zM-16 -34h1v1h-1zM19 -34h1v1h-1zM1 -31h1v1h-1zM-18 -28h2v1h-2zM-16 -26h1v1h-1zM-14 -26h1v1h-1zM-17 -25h2v1h-2zM4 -23h1v1h-1zM32 -22h1v1h-1zM-33 -19h1v1h-1zM-30 -19h1v1h-1zM-17 -18h1v1h-1zM-30 -17h2v1h-2zM-29 -16h1v1h-1zM-23 -16h2v1h-2zM-30 -15h2v1h-2zM-31 -13h2v1h-2zM-32 -12h1v1h-1zM-24 -12h1v1h-1zM-31 -11h1v1h-1zM-40 -10h1v1h-1zM-37 -10h1v1h-1zM-31 -10h1v1h-1zM-19 -10h1v1h-1zM-17 -10h1v1h-1zM-42 -9h2v1h-2zM-24 -9h1v1h-1zM-39 -8h1v1h-1zM-37 -8h1v1h-1zM-29 -8h1v1h-1zM-44 -7h1v1h-1zM-39 -7h1v1h-1zM-33 -7h1v1h-1zM-39 -6h1v1h-1zM-30 -6h1v1h-1zM-25 -6h1v1h-1zM-41 -5h1v1h-1zM-34 -5h1v1h-1zM-29 -5h1v1h-1zM-19 -5h1v1h-1zM-41 -4h1v1h-1zM-32 -4h1v1h-1zM-40 -3h1v1h-1zM-38 -3h2v1h-2zM-23 -3h1v1h-1zM-18 -3h1v1h-1zM-40 -2h1v1h-1zM-27 -2h1v1h-1zM-48 -1h1v1h-1zM-36 -1h2v1h-2zM-24 -1h1v1h-1zM-36 0h1v1h-1zM-29 0h1v1h-1zM-52 1h1v1h-1zM-43 1h1v1h-1zM-22 1h1v1h-1zM-52 2h1v1h-1zM-43 2h1v1h-1zM-39 2h1v1h-1zM-33 2h1v1h-1zM-23 3h1v1h-1zM-23 4h1v1h-1zM-40 5h2v1h-2zM-25 6h1v1h-1zM-47 7h1v1h-1zM-24 7h1v1h-1zM-22 7h1v1h-1zM-29 8h1v1h-1zM-32 9h1v1h-1zM-33 10h2v1h-2zM-36 12h1v1h-1zM-37 13h1v1h-1zM-34 13h1v1h-1zM-28 13h1v1h-1zM-37 14h1v1h-1zM-23 14h1v1h-1zM-27 15h1v1h-1zM-31 16h1v1h-1zM18 16h1v1h-1zM-32 17h1v1h-1zM-35 18h2v1h-2zM-32 18h1v1h-1zM-30 21h1v1h-1zM-31 22h1v1h-1zM-26 24h1v1h-1zM-21 29h1v1h-1zM-13 37h1v1h-1zM-16 38h2v1h-2zM-13 38h1v1h-1z"/>
<path fill="#b59778" d="M-3 -23h1v1h-1zM-1 -21h1v1h-1zM3 -20h1v1h-1zM17 -20h1v1h-1zM3 -17h1v1h-1zM8 -17h1v1h-1zM8 -15h1v1h-1zM5 -12h1v1h-1zM19 -9h1v1h-1zM-1 -8h1v1h-1zM18 -6h1v1h-1zM26 -4h1v1h-1zM-17 -2h1v1h-1zM20 -2h1v1h-1zM29 -2h1v1h-1zM21 6h1v1h-1zM21 7h1v1h-1zM20 8h1v1h-1zM23 8h1v1h-1zM22 10h1v1h-1zM-2 11h1v1h-1zM21 11h1v1h-1zM14 13h1v1h-1zM17 13h1v1h-1zM16 15h1v1h-1zM-1 16h1v1h-1zM7 16h1v1h-1zM13 16h1v1h-1zM6 21h1v1h-1zM-2 22h1v1h-1zM5 22h1v1h-1zM-4 23h1v1h-1zM4 32h1v1h-1zM6 33h1v1h-1zM10 33h1v1h-1zM-5 35h1v1h-1zM9 36h1v1h-1zM9 37h1v1h-1zM-2 39h1v1h-1zM9 40h1v1h-1zM-4 43h1v1h-1zM-5 44h1v1h-1z"/>
<path fill="#e0caa7" d="M27 -23h1v1h-1zM-27 -21h1v1h-1zM1 -20h1v1h-1zM5 -20h1v1h-1zM21 -20h1v1h-1zM25 -19h2v1h-2zM23 -18h1v1h-1zM-6 -17h1v1h-1zM1 -17h2v1h-2zM16 -17h1v1h-1zM-7 -16h1v1h-1zM-5 -16h1v1h-1zM27 -16h1v1h-1zM0 -15h1v1h-1zM-8 -14h1v1h-1zM-5 -14h1v1h-1zM-9 -13h1v1h-1zM-3 -13h1v1h-1zM-7 -12h1v1h-1zM7 -12h1v1h-1zM25 -12h1v1h-1zM-13 -11h1v1h-1zM-10 -11h2v1h-2zM-2 -11h1v1h-1zM4 -11h1v1h-1zM19 -11h1v1h-1zM-3 -10h1v1h-1zM-1 -10h1v1h-1zM19 -10h2v1h-2zM24 -10h2v1h-2zM-15 -9h1v1h-1zM-8 -9h1v1h-1zM10 -9h1v1h-1zM27 -9h1v1h-1zM-13 -8h1v1h-1zM2 -8h1v1h-1zM-11 -7h1v1h-1zM-14 -6h1v1h-1zM-9 -6h3v1h-3zM-1 -6h1v1h-1zM27 -6h1v1h-1zM-5 -5h1v1h-1zM6 -5h1v1h-1zM29 -5h2v1h-2zM-16 -3h1v1h-1zM-14 -2h1v1h-1zM-1 -2h1v1h-1zM-12 -1h2v1h-2zM-15 1h1v1h-1zM-13 3h1v1h-1zM-18 4h1v1h-1zM-15 4h1v1h-1zM-13 6h1v1h-1zM-31 7h1v1h-1zM-18 7h1v1h-1zM-4 9h1v1h-1zM18 9h1v1h-1zM-6 10h2v1h-2zM-4 11h1v1h-1zM3 11h1v1h-1zM10 11h1v1h-1zM-16 12h1v1h-1zM-4 12h1v1h-1zM-20 13h1v1h-1zM-17 13h1v1h-1zM-4 13h1v1h-1zM13 13h1v1h-1zM11 15h1v1h-1zM-13 16h1v1h-1zM9 16h2v1h-2zM-1 17h2v1h-2zM-21 18h2v1h-2zM-14 18h1v1h-1zM-20 19h1v1h-1zM-14 19h1v1h-1zM-14 20h5v1h-5zM-20 21h1v1h-1zM-10 21h1v1h-1zM7 21h1v1h-1zM-13 22h1v1h-1zM-23 23h2v1h-2zM-20 23h1v1h-1zM-11 23h1v1h-1zM-9 25h1v1h-1zM-17 26h1v1h-1zM-19 27h1v1h-1zM-15 27h1v1h-1zM-18 28h1v1h-1zM-18 29h1v1h-1zM-4 34h1v1h-1z"/>
<path fill="#e0e0c2" d="M-2 -48h2v1h-2zM12 -39h1v1h-1zM-12 -37h1v1h-1zM-13 -36h1v1h-1zM-17 -33h1v1h-1zM11 -32h1v1h-1zM22 -32h1v1h-1zM-17 -31h1v1h-1zM-17 -30h2v1h-2zM21 -30h1v1h-1zM11 -28h1v1h-1zM-6 -27h1v1h-1zM-26 -26h1v1h-1zM-6 -26h1v1h-1zM-23 -25h1v1h-1zM13 -25h1v1h-1zM-28 -24h1v1h-1zM-3 -24h1v1h-1zM27 -24h1v1h-1zM-28 -23h1v1h-1zM-26 -23h1v1h-1zM1 -23h1v1h-1zM28 -22h1v1h-1zM-13 -21h1v1h-1zM-14 -20h2v1h-2zM-4 -20h1v1h-1zM27 -20h1v1h-1zM10 -18h1v1h-1zM18 -18h1v1h-1zM-22 -15h1v1h-1zM-20 -15h1v1h-1zM-10 -15h1v1h-1zM-19 -14h2v1h-2zM-11 -14h1v1h-1zM28 -14h1v1h-1zM-26 -13h1v1h-1zM-19 -13h1v1h-1zM-15 -13h1v1h-1zM-13 -13h1v1h-1zM-6 -13h1v1h-1zM-19 -12h1v1h-1zM-9 -12h2v1h-2zM22 -12h1v1h-1zM31 -12h1v1h-1zM-28 -11h1v1h-1zM-16 -11h1v1h-1zM-14 -11h1v1h-1zM21 -11h1v1h-1zM-10 -10h2v1h-2zM-24 -8h1v1h-1zM-22 -8h1v1h-1zM-16 -8h1v1h-1zM-26 -7h1v1h-1zM-8 -7h1v1h-1zM42 -6h1v1h-1zM3 -5h1v1h-1zM-25 -4h1v1h-1zM39 -4h1v1h-1zM-12 -3h1v1h-1zM23 -3h1v1h-1zM-36 -2h1v1h-1zM-16 -2h1v1h-1zM-13 -2h1v1h-1zM-22 -1h2v1h-2zM-19 -1h1v1h-1zM32 -1h1v1h-1zM-40 0h1v1h-1zM-21 0h1v1h-1zM-39 1h1v1h-1zM30 1h1v1h-1zM-49 2h1v1h-1zM-29 2h2v1h-2zM-26 2h1v1h-1zM-14 2h1v1h-1zM-35 3h1v1h-1zM-40 4h1v1h-1zM-38 4h1v1h-1zM-42 5h1v1h-1zM-24 5h1v1h-1zM-22 5h2v1h-2zM28 5h1v1h-1zM-20 6h1v1h-1zM32 6h1v1h-1zM-42 7h1v1h-1zM-17 8h1v1h-1zM-34 10h1v1h-1zM-42 11h1v1h-1zM-33 11h1v1h-1zM-17 11h1v1h-1zM-21 12h1v1h-1zM-19 12h1v1h-1zM-29 13h1v1h-1zM-21 13h1v1h-1zM-25 15h1v1h-1zM22 15h1v1h-1zM-3 17h1v1h-1zM-26 18h1v1h-1zM-26 20h1v1h-1zM-18 20h2v1h-2zM7 20h1v1h-1zM-33 21h1v1h-1zM-23 22h1v1h-1zM7 22h1v1h-1zM6 23h1v1h-1zM-18 24h1v1h-1zM-15 24h1v1h-1zM-28 25h1v1h-1zM-20 26h1v1h-1zM6 26h1v1h-1zM-6 28h1v1h-1zM5 30h1v1h-1zM-22 32h1v1h-1zM-10 34h1v1h-1zM-10 40h1v1h-1zM-10 42h1v1h-1z"/>
<path fill="#c79d82" d="M22 -22h1v1h-1zM-1 -20h1v1h-1zM1 -19h2v1h-2zM17 -19h1v1h-1zM3 -18h1v1h-1zM7 -18h1v1h-1zM-1 -17h2v1h-2zM4 -16h1v1h-1zM20 -16h1v1h-1zM23 -16h1v1h-1zM14 -15h1v1h-1zM7 -14h1v1h-1zM-5 -13h1v1h-1zM-1 -12h1v1h-1zM12 -12h1v1h-1zM8 -11h1v1h-1zM0 -10h1v1h-1zM18 -10h1v1h-1zM6 -9h1v1h-1zM23 -9h1v1h-1zM29 -8h1v1h-1zM31 -8h1v1h-1zM25 -7h1v1h-1zM-6 -6h1v1h-1zM25 -6h1v1h-1zM5 -5h1v1h-1zM18 -5h1v1h-1zM20 -5h1v1h-1zM4 -4h1v1h-1zM7 -3h1v1h-1zM12 -3h1v1h-1zM27 -2h1v1h-1zM-9 -1h2v1h-2zM5 -1h1v1h-1zM-12 1h1v1h-1zM0 1h1v1h-1zM1 2h1v1h-1zM3 2h1v1h-1zM1 3h1v1h-1zM-1 4h1v1h-1zM-12 5h1v1h-1zM-4 5h1v1h-1zM-1 5h1v1h-1zM22 5h1v1h-1zM-11 6h1v1h-1zM22 6h1v1h-1zM-17 7h1v1h-1zM-12 7h1v1h-1zM-3 7h1v1h-1zM2 7h1v1h-1zM16 7h1v1h-1zM-13 8h1v1h-1zM-2 9h1v1h-1zM0 11h1v1h-1zM13 11h1v1h-1zM17 11h1v1h-1zM-2 13h1v1h-1zM11 13h1v1h-1zM18 13h1v1h-1zM-18 14h2v1h-2zM-2 14h1v1h-1zM9 14h1v1h-1zM-6 15h1v1h-1zM7 15h2v1h-2zM13 15h1v1h-1zM15 15h1v1h-1zM-17 16h1v1h-1zM-14 16h1v1h-1zM-3 16h1v1h-1zM-9 17h1v1h-1zM-19 21h1v1h-1zM8 21h1v1h-1zM-19 22h1v1h-1zM-22 24h1v1h-1zM-13 25h1v1h-1zM3 34h1v1h-1zM-2 40h1v1h-1zM-4 42h1v1h-1zM-5 43h1v1h-1zM-1 50h1v1h-1z"/>
<path fill="#c9937b" d="M1 -18h2v1h-2zM6 -18h1v1h-1zM3 -16h1v1h-1zM4 -14h1v1h-1zM15 -14h2v1h-2zM-2 -13h1v1h-1zM2 -13h1v1h-1zM4 -13h1v1h-1zM9 -13h2v1h-2zM15 -13h1v1h-1zM0 -12h1v1h-1zM15 -12h2v1h-2zM18 -12h1v1h-1zM17 -11h2v1h-2zM12 -10h1v1h-1zM17 -10h1v1h-1zM12 -9h1v1h-1zM0 -8h1v1h-1zM11 -8h1v1h-1zM13 -8h1v1h-1zM10 -7h1v1h-1zM18 -7h1v1h-1zM-4 -6h1v1h-1zM10 -6h1v1h-1zM20 -6h1v1h-1zM-6 -5h1v1h-1zM10 -5h1v1h-1zM19 -5h1v1h-1zM-7 -4h1v1h-1zM12 -4h1v1h-1zM6 -2h1v1h-1zM10 -2h1v1h-1zM0 -1h2v1h-2zM10 -1h1v1h-1zM14 -1h1v1h-1zM-9 0h1v1h-1zM15 0h1v1h-1zM-4 1h1v1h-1zM1 1h1v1h-1zM10 1h1v1h-1zM4 3h1v1h-1zM-12 4h1v1h-1zM3 4h2v1h-2zM-4 6h1v1h-1zM12 6h1v1h-1zM-16 7h1v1h-1zM-5 7h1v1h-1zM17 7h1v1h-1zM6 8h1v1h-1zM9 8h1v1h-1zM-10 9h1v1h-1zM16 9h2v1h-2zM3 10h1v1h-1zM6 10h1v1h-1zM17 10h1v1h-1zM9 11h1v1h-1zM16 11h1v1h-1zM-15 12h1v1h-1zM-9 12h1v1h-1zM6 12h1v1h-1zM-16 13h1v1h-1zM0 14h1v1h-1zM14 14h1v1h-1zM18 14h1v1h-1zM-14 15h1v1h-1zM-11 16h1v1h-1zM-8 16h1v1h-1zM0 16h3v1h-3zM-6 17h1v1h-1zM4 21h1v1h-1zM-3 22h1v1h-1zM-8 23h1v1h-1zM5 33h1v1h-1zM5 34h2v1h-2zM7 35h1v1h-1zM1 37h1v1h-1zM9 39h1v1h-1zM-8 45h1v1h-1zM-8 46h1v1h-1z"/>
<path fill="#b5c394" d="M0 -52h1v1h-1zM1 -49h1v1h-1zM4 -49h1v1h-1zM0 -48h1v1h-1zM2 -48h1v1h-1zM-5 -47h1v1h-1zM0 -47h1v1h-1zM0 -46h1v1h-1zM-7 -45h1v1h-1zM-1 -44h1v1h-1zM6 -42h1v1h-1zM-3 -40h1v1h-1zM-12 -39h1v1h-1zM-5 -39h1v1h-1zM-6 -38h1v1h-1zM2 -38h1v1h-1zM-11 -37h1v1h-1zM17 -37h1v1h-1zM-8 -36h1v1h-1zM-1 -36h1v1h-1zM-13 -35h1v1h-1zM-3 -35h2v1h-2zM4 -35h1v1h-1zM11 -35h1v1h-1zM-12 -34h1v1h-1zM-5 -34h1v1h-1zM13 -34h1v1h-1zM20 -34h1v1h-1zM-2 -33h1v1h-1zM12 -32h2v1h-2zM-10 -31h1v1h-1zM-3 -31h1v1h-1zM23 -30h1v1h-1zM2 -28h1v1h-1zM10 -28h1v1h-1zM-4 -27h1v1h-1zM4 -27h1v1h-1zM6 -27h1v1h-1zM19 -27h1v1h-1zM21 -27h1v1h-1zM6 -26h1v1h-1zM8 -26h1v1h-1zM17 -26h1v1h-1zM19 -26h1v1h-1zM6 -25h1v1h-1zM14 -25h1v1h-1zM19 -25h1v1h-1zM-14 -24h1v1h-1zM-2 -24h1v1h-1zM20 -24h1v1h-1zM-1 -23h1v1h-1zM24 -23h1v1h-1zM-14 -22h1v1h-1zM-9 -22h1v1h-1zM2 -22h1v1h-1zM11 -22h1v1h-1zM-10 -21h1v1h-1zM12 -21h1v1h-1zM31 -21h1v1h-1zM10 -20h1v1h-1zM-10 -19h1v1h-1zM11 -19h1v1h-1zM-10 -18h1v1h-1zM31 -18h1v1h-1zM31 -14h1v1h-1zM32 -13h1v1h-1zM40 -13h1v1h-1zM41 -12h1v1h-1zM41 -11h1v1h-1zM31 -10h1v1h-1zM40 -8h1v1h-1zM42 1h1v1h-1zM29 2h1v1h-1zM31 2h1v1h-1zM28 3h1v1h-1zM30 3h1v1h-1zM33 3h1v1h-1zM-50 4h1v1h-1zM31 4h1v1h-1zM25 7h1v1h-1zM28 7h1v1h-1zM31 7h1v1h-1zM25 8h2v1h-2zM28 8h2v1h-2zM35 8h1v1h-1zM-41 9h1v1h-1zM35 9h1v1h-1zM20 13h1v1h-1zM20 16h1v1h-1zM26 17h1v1h-1zM-22 18h1v1h-1zM15 18h1v1h-1zM10 19h1v1h-1zM7 24h2v1h-2zM4 25h1v1h-1zM1 26h1v1h-1zM-22 27h1v1h-1zM-10 29h1v1h-1zM-4 29h1v1h-1zM3 31h1v1h-1zM8 31h1v1h-1zM-2 32h1v1h-1zM10 34h2v1h-2zM-9 36h1v1h-1zM13 36h1v1h-1z"/>
<path fill="#ce8874" d="M17 -17h1v1h-1zM4 -15h1v1h-1zM17 -15h1v1h-1zM5 -14h1v1h-1zM19 -14h1v1h-1zM-1 -13h1v1h-1zM16 -13h1v1h-1zM20 -13h1v1h-1zM9 -10h1v1h-1zM11 -10h1v1h-1zM13 -9h1v1h-1zM20 -9h1v1h-1zM22 -8h1v1h-1zM-10 -6h1v1h-1zM13 -6h1v1h-1zM11 -5h1v1h-1zM7 -4h1v1h-1zM16 -4h1v1h-1zM-6 -3h1v1h-1zM14 -3h1v1h-1zM-7 -2h1v1h-1zM-4 -2h1v1h-1zM5 -2h1v1h-1zM7 -2h1v1h-1zM9 -2h1v1h-1zM15 -2h1v1h-1zM8 -1h1v1h-1zM16 -1h1v1h-1zM19 -1h1v1h-1zM-6 0h1v1h-1zM1 0h1v1h-1zM9 0h1v1h-1zM14 0h1v1h-1zM16 0h1v1h-1zM-5 1h1v1h-1zM2 1h1v1h-1zM13 1h1v1h-1zM16 1h1v1h-1zM18 1h1v1h-1zM-9 2h1v1h-1zM-2 2h1v1h-1zM5 2h1v1h-1zM15 2h1v1h-1zM-8 3h1v1h-1zM-10 4h1v1h-1zM-8 4h1v1h-1zM8 5h1v1h-1zM12 5h1v1h-1zM15 5h1v1h-1zM-9 6h1v1h-1zM-6 6h2v1h-2zM4 6h1v1h-1zM-8 7h2v1h-2zM-4 7h1v1h-1zM1 7h1v1h-1zM14 7h1v1h-1zM-11 8h1v1h-1zM10 8h1v1h-1zM-8 9h1v1h-1zM0 9h2v1h-2zM4 9h1v1h-1zM6 9h1v1h-1zM8 9h1v1h-1zM-14 10h1v1h-1zM-12 10h1v1h-1zM-10 10h1v1h-1zM-7 10h1v1h-1zM-1 10h4v1h-4zM9 10h1v1h-1zM12 10h1v1h-1zM14 10h1v1h-1zM-15 11h1v1h-1zM-7 11h2v1h-2zM2 11h1v1h-1zM8 11h1v1h-1zM-12 12h1v1h-1zM-7 12h2v1h-2zM-15 13h1v1h-1zM-11 13h1v1h-1zM-8 13h2v1h-2zM-15 14h1v1h-1zM-7 14h1v1h-1zM-7 15h1v1h-1zM5 15h1v1h-1zM-8 17h1v1h-1zM-8 19h1v1h-1zM5 35h1v1h-1zM-1 40h1v1h-1zM8 42h1v1h-1z"/>
</g></g>
<g clip-path="url(#clipB)"><g transform="translate(1147 302.6) rotate(45) scale(8)">
<path fill="#d8e8ba" d="M-13 -30h1v1h-1zM5 -29h1v1h-1zM-26 -26h1v1h-1zM2 -26h1v1h-1zM-24 -24h1v1h-1zM-27 -23h1v1h-1zM-20 -23h1v1h-1zM-30 -22h1v1h-1zM-31 -21h1v1h-1zM-31 -19h1v1h-1zM29 -19h1v1h-1zM-32 -18h1v1h-1zM-30 -18h1v1h-1zM-23 -18h1v1h-1zM-31 -17h1v1h-1zM-26 -17h1v1h-1zM-31 -16h1v1h-1zM-21 -16h1v1h-1zM-28 -15h2v1h-2zM-36 -14h1v1h-1zM-28 -14h1v1h-1zM-30 -13h2v1h-2zM-40 -12h1v1h-1zM-35 -11h1v1h-1zM-24 -11h1v1h-1zM-18 -11h1v1h-1zM-41 -10h1v1h-1zM-28 -10h1v1h-1zM-30 -9h1v1h-1zM-10 -9h1v1h-1zM-44 -8h1v1h-1zM-38 -8h1v1h-1zM-34 -8h1v1h-1zM-26 -8h1v1h-1zM-38 -7h1v1h-1zM-36 -7h1v1h-1zM-32 -7h1v1h-1zM-27 -7h1v1h-1zM-46 -6h1v1h-1zM-31 -6h1v1h-1zM-36 -5h1v1h-1zM-34 -5h1v1h-1zM-31 -5h1v1h-1zM-48 -4h2v1h-2zM-41 -4h1v1h-1zM-26 -4h1v1h-1zM-20 -4h1v1h-1zM-47 -3h1v1h-1zM-49 -2h1v1h-1zM-34 -2h1v1h-1zM-50 -1h1v1h-1zM-47 -1h2v1h-2zM-50 0h1v1h-1zM-40 0h1v1h-1zM-26 0h1v1h-1zM-53 1h1v1h-1zM-48 1h1v1h-1zM-37 1h1v1h-1zM-51 2h1v1h-1zM-19 2h1v1h-1zM-45 3h1v1h-1zM-41 3h3v1h-3zM-32 4h1v1h-1zM-30 4h1v1h-1zM-21 4h1v1h-1zM-43 5h1v1h-1zM-37 5h1v1h-1zM-29 5h1v1h-1zM-35 7h1v1h-1zM-42 8h1v1h-1zM-32 8h1v1h-1zM-23 8h1v1h-1zM-28 9h1v1h-1zM-22 9h1v1h-1zM-32 10h1v1h-1zM-25 10h1v1h-1zM-30 11h1v1h-1zM-42 12h1v1h-1zM-41 13h1v1h-1zM-38 13h1v1h-1zM-40 14h2v1h-2zM-32 15h1v1h-1zM-25 15h1v1h-1zM-34 16h1v1h-1zM-22 16h1v1h-1zM-34 17h1v1h-1zM-30 18h1v1h-1zM-35 19h2v1h-2zM-27 21h1v1h-1zM-28 22h1v1h-1zM-30 23h1v1h-1zM10 27h1v1h-1zM-22 28h1v1h-1zM-17 28h1v1h-1zM-19 31h1v1h-1zM-20 32h1v1h-1zM-13 32h1v1h-1zM-18 33h1v1h-1zM-12 35h1v1h-1zM-13 40h1v1h-1z"/>
<path fill="#c9e3b0" d="M-14 -30h1v1h-1zM-25 -26h1v1h-1zM-20 -24h1v1h-1zM-24 -23h1v1h-1zM-29 -22h1v1h-1zM23 -20h1v1h-1zM-27 -19h1v1h-1zM-25 -19h1v1h-1zM-28 -17h1v1h-1zM-37 -15h1v1h-1zM-35 -15h1v1h-1zM-29 -15h1v1h-1zM-29 -14h1v1h-1zM-37 -13h3v1h-3zM-39 -12h1v1h-1zM-31 -11h1v1h-1zM-22 -11h1v1h-1zM-20 -11h1v1h-1zM-42 -9h1v1h-1zM-33 -9h1v1h-1zM-43 -8h2v1h-2zM-40 -8h1v1h-1zM-33 -8h2v1h-2zM-44 -7h1v1h-1zM-41 -7h2v1h-2zM-37 -7h1v1h-1zM-24 -7h1v1h-1zM-42 -6h1v1h-1zM-40 -6h1v1h-1zM-36 -6h2v1h-2zM-33 -6h1v1h-1zM-44 -5h1v1h-1zM-41 -5h1v1h-1zM-46 -4h1v1h-1zM-39 -4h1v1h-1zM-37 -4h1v1h-1zM-34 -4h2v1h-2zM-31 -4h1v1h-1zM-46 -3h1v1h-1zM-38 -3h1v1h-1zM-36 -2h1v1h-1zM-32 -2h1v1h-1zM-42 0h1v1h-1zM-38 0h1v1h-1zM-34 0h1v1h-1zM-51 1h1v1h-1zM-38 1h1v1h-1zM-32 1h1v1h-1zM-32 2h1v1h-1zM-48 4h2v1h-2zM-42 4h1v1h-1zM-32 5h1v1h-1zM-26 6h1v1h-1zM-45 8h1v1h-1zM-39 8h1v1h-1zM-43 9h1v1h-1zM-30 12h1v1h-1zM-35 13h1v1h-1zM-31 15h1v1h-1zM-32 16h1v1h-1zM-29 17h1v1h-1zM-33 20h1v1h-1zM-33 21h1v1h-1zM-26 22h1v1h-1zM-27 23h1v1h-1zM-22 24h1v1h-1zM-27 25h1v1h-1zM-12 34h1v1h-1z"/>
<path fill="#cda086" d="M7 -20h1v1h-1zM4 -18h1v1h-1zM4 -16h1v1h-1zM5 -15h1v1h-1zM-6 -14h1v1h-1zM7 -14h1v1h-1zM10 -13h1v1h-1zM14 -13h1v1h-1zM8 -12h1v1h-1zM13 -12h1v1h-1zM15 -12h2v1h-2zM7 -11h1v1h-1zM12 -11h1v1h-1zM15 -11h2v1h-2zM-4 -10h1v1h-1zM8 -10h1v1h-1zM10 -10h2v1h-2zM13 -10h1v1h-1zM17 -10h1v1h-1zM13 -9h1v1h-1zM-13 -8h1v1h-1zM-1 -8h2v1h-2zM9 -8h1v1h-1zM24 -8h1v1h-1zM26 -8h1v1h-1zM-4 -7h1v1h-1zM2 -7h1v1h-1zM23 -7h1v1h-1zM1 -6h1v1h-1zM21 -6h1v1h-1zM-6 -5h1v1h-1zM-2 -5h1v1h-1zM14 -5h5v1h-5zM-14 -4h1v1h-1zM-5 -4h1v1h-1zM-2 -4h1v1h-1zM0 -3h2v1h-2zM13 -3h1v1h-1zM15 -3h1v1h-1zM18 -3h1v1h-1zM25 -3h1v1h-1zM28 -3h1v1h-1zM-4 -2h1v1h-1zM3 -2h1v1h-1zM5 -1h1v1h-1zM7 -1h1v1h-1zM-5 0h1v1h-1zM3 0h1v1h-1zM24 0h1v1h-1zM-6 1h1v1h-1zM4 1h1v1h-1zM20 1h1v1h-1zM25 1h1v1h-1zM-2 2h1v1h-1zM-9 3h1v1h-1zM-5 3h1v1h-1zM3 3h1v1h-1zM22 3h1v1h-1zM25 3h1v1h-1zM1 4h1v1h-1zM5 4h1v1h-1zM12 4h1v1h-1zM17 4h1v1h-1zM-2 5h1v1h-1zM1 5h1v1h-1zM-1 6h1v1h-1zM4 6h1v1h-1zM17 7h1v1h-1zM-9 8h1v1h-1zM-2 8h1v1h-1zM0 8h1v1h-1zM7 8h1v1h-1zM18 8h1v1h-1zM-11 9h1v1h-1zM1 9h1v1h-1zM7 9h1v1h-1zM12 9h1v1h-1zM39 9h1v1h-1zM6 10h1v1h-1zM14 10h1v1h-1zM11 11h1v1h-1zM19 11h1v1h-1zM22 11h1v1h-1zM33 11h1v1h-1zM-14 12h1v1h-1zM7 12h1v1h-1zM18 12h1v1h-1zM-9 13h3v1h-3zM-5 13h1v1h-1zM5 13h1v1h-1zM7 13h1v1h-1zM13 13h2v1h-2zM19 13h1v1h-1zM-9 14h1v1h-1zM-1 14h1v1h-1zM1 14h2v1h-2zM6 14h1v1h-1zM11 14h1v1h-1zM13 14h1v1h-1zM3 15h1v1h-1zM13 15h1v1h-1zM26 15h1v1h-1zM-15 16h1v1h-1zM3 16h2v1h-2zM7 16h1v1h-1zM4 17h1v1h-1zM7 17h1v1h-1zM-8 18h1v1h-1zM-1 18h1v1h-1zM-8 19h1v1h-1zM-5 19h1v1h-1zM-3 19h1v1h-1zM3 21h1v1h-1zM-7 22h1v1h-1zM-1 22h1v1h-1zM0 24h1v1h-1zM-2 37h1v1h-1z"/>
<path fill="#cc8271" d="M-5 -16h1v1h-1zM14 -12h1v1h-1zM-1 -10h1v1h-1zM0 -9h1v1h-1zM11 -9h1v1h-1zM12 -8h1v1h-1zM8 -7h1v1h-1zM17 -7h1v1h-1zM0 -6h1v1h-1zM5 -6h1v1h-1zM9 -6h1v1h-1zM11 -6h1v1h-1zM15 -6h2v1h-2zM0 -5h1v1h-1zM4 -5h1v1h-1zM9 -5h1v1h-1zM12 -5h1v1h-1zM41 -5h1v1h-1zM46 -5h1v1h-1zM3 -4h1v1h-1zM5 -4h1v1h-1zM12 -4h1v1h-1zM15 -4h1v1h-1zM17 -4h1v1h-1zM43 -4h1v1h-1zM-15 -3h1v1h-1zM4 -3h3v1h-3zM12 -3h1v1h-1zM7 -2h1v1h-1zM14 -2h2v1h-2zM17 -2h1v1h-1zM3 -1h1v1h-1zM8 -1h2v1h-2zM13 -1h1v1h-1zM15 -1h1v1h-1zM41 -1h1v1h-1zM2 0h1v1h-1zM6 0h2v1h-2zM10 0h2v1h-2zM14 0h3v1h-3zM18 0h1v1h-1zM9 1h2v1h-2zM19 1h1v1h-1zM35 1h1v1h-1zM48 1h1v1h-1zM-3 2h1v1h-1zM3 2h1v1h-1zM6 2h1v1h-1zM9 2h1v1h-1zM12 2h3v1h-3zM19 2h1v1h-1zM43 2h1v1h-1zM-4 3h1v1h-1zM10 3h1v1h-1zM12 3h2v1h-2zM15 3h1v1h-1zM17 3h1v1h-1zM19 3h1v1h-1zM42 3h1v1h-1zM8 4h1v1h-1zM11 4h1v1h-1zM13 4h1v1h-1zM18 4h1v1h-1zM20 4h1v1h-1zM7 5h2v1h-2zM13 5h1v1h-1zM20 5h1v1h-1zM40 5h1v1h-1zM-4 6h1v1h-1zM-2 6h1v1h-1zM6 6h2v1h-2zM9 6h1v1h-1zM18 6h1v1h-1zM20 6h1v1h-1zM1 7h2v1h-2zM15 7h1v1h-1zM18 7h2v1h-2zM35 7h1v1h-1zM-5 8h1v1h-1zM3 8h1v1h-1zM6 8h1v1h-1zM8 8h1v1h-1zM10 8h2v1h-2zM20 8h1v1h-1zM35 8h1v1h-1zM-6 9h2v1h-2zM-3 9h1v1h-1zM3 9h2v1h-2zM8 9h1v1h-1zM10 9h1v1h-1zM14 9h5v1h-5zM26 9h1v1h-1zM31 9h1v1h-1zM-5 10h3v1h-3zM4 10h2v1h-2zM8 10h2v1h-2zM15 10h2v1h-2zM-3 11h1v1h-1zM4 11h1v1h-1zM9 11h1v1h-1zM14 11h1v1h-1zM17 11h1v1h-1zM12 12h1v1h-1zM15 12h1v1h-1zM17 12h1v1h-1zM38 12h1v1h-1zM1 13h2v1h-2zM11 13h1v1h-1zM17 13h1v1h-1zM34 13h1v1h-1zM-10 14h1v1h-1zM-8 14h1v1h-1zM-4 14h1v1h-1zM3 14h1v1h-1zM23 14h1v1h-1zM-7 15h1v1h-1zM-4 15h1v1h-1zM4 15h2v1h-2zM20 15h1v1h-1zM25 15h1v1h-1zM29 15h1v1h-1zM-8 16h1v1h-1zM-3 16h1v1h-1zM1 16h1v1h-1zM-6 17h4v1h-4zM0 17h2v1h-2zM3 18h1v1h-1zM21 18h2v1h-2zM-4 19h1v1h-1zM-2 19h1v1h-1zM0 19h1v1h-1zM16 19h1v1h-1zM18 19h1v1h-1zM2 20h1v1h-1zM17 20h1v1h-1zM-1 21h1v1h-1zM-6 22h1v1h-1zM-4 22h1v1h-1zM21 25h1v1h-1zM19 26h1v1h-1zM17 27h1v1h-1zM21 28h2v1h-2zM20 30h1v1h-1z"/>
<path fill="#b6ca94" d="M0 -45h1v1h-1zM7 -44h1v1h-1zM-4 -43h1v1h-1zM10 -41h1v1h-1zM-12 -38h1v1h-1zM-9 -38h1v1h-1zM0 -38h1v1h-1zM5 -38h1v1h-1zM7 -38h1v1h-1zM-8 -37h1v1h-1zM0 -37h1v1h-1zM15 -37h2v1h-2zM4 -36h1v1h-1zM13 -36h1v1h-1zM1 -35h1v1h-1zM14 -35h1v1h-1zM-6 -34h1v1h-1zM-6 -33h1v1h-1zM13 -33h1v1h-1zM20 -33h1v1h-1zM-18 -32h1v1h-1zM-14 -32h1v1h-1zM-5 -32h1v1h-1zM20 -32h1v1h-1zM22 -32h1v1h-1zM-15 -31h1v1h-1zM-11 -31h1v1h-1zM-21 -30h1v1h-1zM-6 -30h1v1h-1zM-5 -29h1v1h-1zM1 -29h1v1h-1zM-3 -28h1v1h-1zM8 -28h1v1h-1zM24 -28h1v1h-1zM19 -27h2v1h-2zM19 -26h1v1h-1zM19 -25h1v1h-1zM-6 -24h1v1h-1zM3 -23h1v1h-1zM6 -23h1v1h-1zM20 -23h1v1h-1zM26 -23h1v1h-1zM13 -22h1v1h-1zM18 -22h1v1h-1zM19 -21h1v1h-1zM22 -21h1v1h-1zM24 -21h1v1h-1zM28 -21h1v1h-1zM-14 -19h1v1h-1zM33 -19h1v1h-1zM25 -18h1v1h-1zM26 -16h1v1h-1zM31 -15h1v1h-1zM47 0h1v1h-1zM-20 22h1v1h-1zM15 22h1v1h-1zM-8 27h1v1h-1zM-4 29h1v1h-1zM6 30h1v1h-1zM8 30h1v1h-1zM8 31h1v1h-1zM-8 33h1v1h-1zM5 34h1v1h-1zM-12 37h1v1h-1zM5 39h1v1h-1zM7 39h1v1h-1zM6 41h1v1h-1zM-1 46h1v1h-1zM4 46h1v1h-1zM-2 47h1v1h-1zM-1 50h1v1h-1z"/>
<path fill="#deb798" d="M5 -18h1v1h-1zM-13 -15h1v1h-1zM0 -14h1v1h-1zM-2 -13h1v1h-1zM13 -13h1v1h-1zM-4 -12h2v1h-2zM1 -11h1v1h-1zM5 -11h1v1h-1zM0 -10h1v1h-1zM5 -10h2v1h-2zM15 -10h1v1h-1zM18 -10h1v1h-1zM-3 -9h1v1h-1zM1 -9h1v1h-1zM7 -9h1v1h-1zM9 -9h1v1h-1zM15 -9h1v1h-1zM17 -9h1v1h-1zM-4 -8h1v1h-1zM6 -8h1v1h-1zM-1 -7h1v1h-1zM4 -7h1v1h-1zM16 -7h1v1h-1zM-8 -6h2v1h-2zM-4 -6h1v1h-1zM2 -6h1v1h-1zM41 -6h1v1h-1zM-15 -5h1v1h-1zM-7 -5h1v1h-1zM27 -4h1v1h-1zM-14 -3h1v1h-1zM-6 -3h1v1h-1zM-3 -3h1v1h-1zM11 -3h1v1h-1zM16 -3h1v1h-1zM-14 -2h1v1h-1zM1 -1h1v1h-1zM19 -1h1v1h-1zM-12 0h1v1h-1zM0 0h1v1h-1zM20 0h1v1h-1zM0 1h1v1h-1zM-13 2h2v1h-2zM-8 2h1v1h-1zM25 2h1v1h-1zM1 3h1v1h-1zM21 3h1v1h-1zM-17 4h1v1h-1zM-13 4h1v1h-1zM3 4h1v1h-1zM-6 5h1v1h-1zM0 5h1v1h-1zM3 5h1v1h-1zM5 5h1v1h-1zM-18 6h1v1h-1zM-10 6h1v1h-1zM-8 6h2v1h-2zM-9 7h1v1h-1zM-7 7h1v1h-1zM42 7h1v1h-1zM-17 8h1v1h-1zM-8 9h2v1h-2zM0 9h1v1h-1zM-1 10h1v1h-1zM22 10h1v1h-1zM-7 11h1v1h-1zM-16 12h2v1h-2zM-13 12h1v1h-1zM-7 12h1v1h-1zM10 12h1v1h-1zM21 12h1v1h-1zM9 13h1v1h-1zM17 14h1v1h-1zM-9 15h1v1h-1zM-16 16h1v1h-1zM-9 16h1v1h-1zM5 17h1v1h-1zM-9 18h1v1h-1zM-7 19h1v1h-1zM3 19h1v1h-1zM-19 20h1v1h-1zM-12 20h1v1h-1zM-9 20h1v1h-1zM2 21h1v1h-1zM-11 22h1v1h-1zM-10 23h1v1h-1zM-4 23h1v1h-1zM-2 23h1v1h-1zM-16 27h1v1h-1z"/>
<path fill="#aac894" d="M7 -42h1v1h-1zM-11 -34h1v1h-1zM-19 -31h1v1h-1zM-16 -31h1v1h-1zM-9 -30h1v1h-1zM-18 -28h1v1h-1zM-13 -28h1v1h-1zM-10 -28h1v1h-1zM-15 -25h1v1h-1zM-13 -25h1v1h-1zM-17 -24h1v1h-1zM-14 -23h1v1h-1zM-12 -22h1v1h-1zM-10 -22h1v1h-1zM-23 -21h2v1h-2zM-8 -19h1v1h-1zM22 -19h1v1h-1zM-22 -17h1v1h-1zM-34 -15h1v1h-1zM-27 -14h1v1h-1zM-27 -13h1v1h-1zM-18 -13h1v1h-1zM-29 -11h1v1h-1zM-9 -10h1v1h-1zM-40 -9h1v1h-1zM-31 -9h1v1h-1zM-23 -9h1v1h-1zM-41 -8h1v1h-1zM-39 -8h1v1h-1zM-30 -7h1v1h-1zM-43 -5h1v1h-1zM-30 -1h1v1h-1zM-21 -1h1v1h-1zM-52 0h1v1h-1zM-44 0h2v1h-2zM-37 0h1v1h-1zM-35 1h1v1h-1zM-19 1h1v1h-1zM-37 2h1v1h-1zM-38 3h1v1h-1zM-39 4h1v1h-1zM-37 4h1v1h-1zM-27 4h1v1h-1zM-38 5h1v1h-1zM-36 5h1v1h-1zM-24 5h2v1h-2zM-30 6h1v1h-1zM-46 7h1v1h-1zM-40 7h1v1h-1zM-25 7h1v1h-1zM-23 7h1v1h-1zM-46 8h1v1h-1zM-38 9h1v1h-1zM-36 10h1v1h-1zM-36 11h1v1h-1zM-33 12h1v1h-1zM-36 13h1v1h-1zM-34 14h1v1h-1zM-23 15h1v1h-1zM-31 16h1v1h-1zM-33 18h1v1h-1zM-24 20h1v1h-1zM-24 26h1v1h-1zM-25 27h1v1h-1zM-23 27h1v1h-1zM-16 29h1v1h-1zM-15 31h1v1h-1zM-18 34h1v1h-1zM-10 35h1v1h-1zM-13 36h1v1h-1zM-11 36h1v1h-1zM-10 37h1v1h-1zM-11 41h1v1h-1z"/>
<path fill="#c6d1a5" d="M2 -52h1v1h-1zM1 -47h1v1h-1zM-4 -38h1v1h-1zM-6 -35h1v1h-1zM12 -35h1v1h-1zM-2 -31h1v1h-1zM12 -31h1v1h-1zM-21 -29h1v1h-1zM-16 -29h1v1h-1zM-22 -28h1v1h-1zM-24 -27h1v1h-1zM-7 -27h2v1h-2zM-3 -27h1v1h-1zM2 -27h1v1h-1zM-6 -26h1v1h-1zM-7 -25h1v1h-1zM4 -25h1v1h-1zM5 -22h1v1h-1zM-16 -21h1v1h-1zM-8 -20h2v1h-2zM3 -20h2v1h-2zM-10 -19h1v1h-1zM-18 -18h2v1h-2zM-33 -17h1v1h-1zM21 -17h1v1h-1zM23 -17h1v1h-1zM26 -17h1v1h-1zM28 -16h1v1h-1zM-20 -15h1v1h-1zM35 -15h1v1h-1zM37 -15h1v1h-1zM25 -14h1v1h-1zM-22 -13h1v1h-1zM-20 -12h1v1h-1zM-14 -12h1v1h-1zM-34 -11h1v1h-1zM-21 -11h1v1h-1zM43 -11h1v1h-1zM-19 -10h1v1h-1zM-8 -10h1v1h-1zM43 -10h1v1h-1zM40 -8h2v1h-2zM-19 -4h1v1h-1zM32 -4h1v1h-1zM36 -4h1v1h-1zM39 -4h1v1h-1zM30 -3h1v1h-1zM34 -2h1v1h-1zM36 -2h1v1h-1zM-26 -1h1v1h-1zM-20 0h1v1h-1zM-39 1h1v1h-1zM-26 2h1v1h-1zM37 2h2v1h-2zM-46 3h1v1h-1zM-20 3h1v1h-1zM38 4h1v1h-1zM-25 5h1v1h-1zM-20 8h1v1h-1zM27 8h1v1h-1zM-25 9h1v1h-1zM27 9h1v1h-1zM38 9h1v1h-1zM-41 10h1v1h-1zM-38 10h1v1h-1zM-23 10h1v1h-1zM-20 10h1v1h-1zM33 10h1v1h-1zM-29 11h1v1h-1zM29 11h1v1h-1zM35 11h1v1h-1zM-22 12h1v1h-1zM-24 15h1v1h-1zM-22 18h1v1h-1zM12 18h1v1h-1zM14 20h1v1h-1zM7 22h1v1h-1zM-27 24h1v1h-1zM22 24h1v1h-1zM-28 26h1v1h-1zM-22 26h1v1h-1zM8 27h1v1h-1zM-21 29h1v1h-1zM-22 30h1v1h-1zM-10 30h1v1h-1zM-8 30h1v1h-1zM4 30h1v1h-1zM1 31h1v1h-1zM9 31h1v1h-1zM-4 33h1v1h-1zM-7 34h1v1h-1zM1 35h1v1h-1zM-17 37h1v1h-1zM-15 37h1v1h-1zM-13 41h2v1h-2zM-5 41h1v1h-1z"/>
<path fill="#bccd98" d="M11 -41h1v1h-1zM10 -40h1v1h-1zM13 -39h1v1h-1zM-1 -38h1v1h-1zM13 -38h1v1h-1zM-7 -37h1v1h-1zM12 -37h2v1h-2zM-6 -36h1v1h-1zM15 -36h1v1h-1zM-10 -35h1v1h-1zM12 -34h1v1h-1zM14 -34h1v1h-1zM20 -34h1v1h-1zM1 -30h1v1h-1zM8 -30h1v1h-1zM3 -29h1v1h-1zM-2 -28h1v1h-1zM26 -28h1v1h-1zM0 -27h1v1h-1zM-9 -26h1v1h-1zM5 -26h1v1h-1zM17 -26h2v1h-2zM8 -25h1v1h-1zM7 -24h1v1h-1zM5 -23h1v1h-1zM15 -23h1v1h-1zM19 -23h1v1h-1zM23 -23h1v1h-1zM25 -23h1v1h-1zM4 -22h1v1h-1zM23 -22h1v1h-1zM26 -22h1v1h-1zM14 -21h1v1h-1zM16 -21h1v1h-1zM26 -21h1v1h-1zM16 -20h2v1h-2zM20 -20h1v1h-1zM22 -20h1v1h-1zM32 -20h1v1h-1zM14 -19h2v1h-2zM-10 -18h1v1h-1zM26 -18h1v1h-1zM28 -18h1v1h-1zM35 -18h1v1h-1zM33 -17h1v1h-1zM34 -16h1v1h-1zM36 -9h1v1h-1zM34 12h1v1h-1zM11 20h1v1h-1zM23 20h1v1h-1zM17 21h1v1h-1zM16 22h1v1h-1zM12 25h1v1h-1zM3 27h1v1h-1zM-4 30h1v1h-1zM3 31h1v1h-1zM4 33h2v1h-2zM2 35h1v1h-1zM6 36h1v1h-1zM6 40h1v1h-1zM3 41h1v1h-1zM5 41h1v1h-1zM4 44h1v1h-1z"/>
<path fill="#cfb795" d="M-18 -23h1v1h-1zM7 -21h1v1h-1zM6 -17h1v1h-1zM-7 -16h1v1h-1zM5 -16h2v1h-2zM15 -16h1v1h-1zM-4 -15h1v1h-1zM-5 -14h1v1h-1zM-2 -14h2v1h-2zM3 -14h1v1h-1zM6 -14h1v1h-1zM17 -13h1v1h-1zM6 -12h1v1h-1zM17 -12h1v1h-1zM8 -11h1v1h-1zM8 -9h1v1h-1zM18 -9h1v1h-1zM20 -9h1v1h-1zM1 -8h1v1h-1zM4 -8h1v1h-1zM18 -8h1v1h-1zM25 -8h1v1h-1zM36 -8h1v1h-1zM45 -8h1v1h-1zM-5 -7h1v1h-1zM-3 -7h1v1h-1zM1 -7h1v1h-1zM21 -7h2v1h-2zM26 -7h1v1h-1zM34 -7h1v1h-1zM36 -7h2v1h-2zM39 -7h1v1h-1zM-12 -6h1v1h-1zM18 -6h2v1h-2zM27 -6h1v1h-1zM34 -6h1v1h-1zM-21 -5h1v1h-1zM-12 -5h1v1h-1zM19 -5h1v1h-1zM23 -5h1v1h-1zM27 -5h1v1h-1zM38 -5h1v1h-1zM-13 -4h1v1h-1zM-10 -4h3v1h-3zM26 -4h1v1h-1zM30 -4h1v1h-1zM35 -4h1v1h-1zM9 -3h1v1h-1zM37 -3h1v1h-1zM40 -3h1v1h-1zM-5 -2h1v1h-1zM24 -2h2v1h-2zM27 -2h1v1h-1zM-18 -1h2v1h-2zM-15 -1h1v1h-1zM-13 -1h1v1h-1zM-14 0h1v1h-1zM-6 0h1v1h-1zM-13 1h2v1h-2zM-7 1h1v1h-1zM-7 2h2v1h-2zM-1 2h2v1h-2zM29 2h1v1h-1zM31 2h1v1h-1zM-1 3h1v1h-1zM27 3h1v1h-1zM-15 4h1v1h-1zM-12 4h1v1h-1zM21 4h1v1h-1zM24 4h1v1h-1zM-10 5h1v1h-1zM-9 6h1v1h-1zM21 6h1v1h-1zM-11 7h1v1h-1zM24 7h1v1h-1zM27 7h1v1h-1zM-18 8h1v1h-1zM-10 8h1v1h-1zM24 8h1v1h-1zM-18 9h1v1h-1zM-12 9h1v1h-1zM23 9h1v1h-1zM0 10h1v1h-1zM23 10h1v1h-1zM-19 11h1v1h-1zM-8 11h1v1h-1zM-1 11h1v1h-1zM20 11h1v1h-1zM-12 12h1v1h-1zM-4 12h1v1h-1zM-6 13h1v1h-1zM0 13h1v1h-1zM18 13h1v1h-1zM-12 14h1v1h-1zM7 14h1v1h-1zM9 14h1v1h-1zM18 14h2v1h-2zM21 14h1v1h-1zM-10 16h1v1h-1zM11 16h1v1h-1zM-8 17h1v1h-1zM20 17h1v1h-1zM-19 18h1v1h-1zM-16 18h1v1h-1zM8 18h1v1h-1zM-19 19h1v1h-1zM8 20h1v1h-1zM-19 21h2v1h-2zM-15 21h1v1h-1zM1 21h1v1h-1zM-14 22h1v1h-1zM22 22h1v1h-1zM-11 23h1v1h-1zM-7 23h1v1h-1zM-3 23h1v1h-1zM-1 23h1v1h-1zM-15 24h1v1h-1zM-6 24h1v1h-1zM-1 24h1v1h-1zM3 25h1v1h-1zM-5 26h1v1h-1zM-15 27h1v1h-1zM-3 34h1v1h-1zM0 38h1v1h-1zM-2 39h1v1h-1zM0 41h1v1h-1z"/>
<path fill="#a2be85" d="M0 -52h1v1h-1zM-1 -47h1v1h-1zM-2 -45h1v1h-1zM-1 -44h1v1h-1zM4 -44h1v1h-1zM-7 -43h1v1h-1zM-5 -43h1v1h-1zM-2 -43h1v1h-1zM8 -43h1v1h-1zM11 -43h1v1h-1zM-10 -42h1v1h-1zM-8 -42h1v1h-1zM-5 -42h1v1h-1zM8 -42h1v1h-1zM10 -42h1v1h-1zM-10 -41h1v1h-1zM-7 -41h3v1h-3zM8 -41h1v1h-1zM-10 -40h1v1h-1zM-3 -40h1v1h-1zM-6 -39h1v1h-1zM-4 -39h1v1h-1zM-2 -38h1v1h-1zM6 -38h1v1h-1zM3 -37h2v1h-2zM-9 -36h1v1h-1zM-1 -36h1v1h-1zM4 -35h2v1h-2zM18 -35h1v1h-1zM-15 -34h1v1h-1zM-8 -34h1v1h-1zM6 -34h1v1h-1zM10 -34h1v1h-1zM-4 -33h1v1h-1zM-1 -33h1v1h-1zM9 -33h1v1h-1zM-12 -32h2v1h-2zM-2 -32h1v1h-1zM1 -32h1v1h-1zM7 -32h1v1h-1zM15 -32h3v1h-3zM-6 -31h1v1h-1zM2 -31h3v1h-3zM16 -31h1v1h-1zM18 -31h1v1h-1zM22 -31h1v1h-1zM-11 -30h1v1h-1zM3 -30h1v1h-1zM11 -30h1v1h-1zM18 -30h1v1h-1zM-18 -29h1v1h-1zM-13 -29h1v1h-1zM-10 -29h2v1h-2zM-7 -29h1v1h-1zM2 -29h1v1h-1zM13 -29h1v1h-1zM15 -29h3v1h-3zM21 -29h1v1h-1zM23 -29h1v1h-1zM-8 -28h1v1h-1zM2 -28h1v1h-1zM5 -28h1v1h-1zM9 -28h1v1h-1zM-16 -27h1v1h-1zM-12 -27h1v1h-1zM-10 -27h1v1h-1zM17 -27h1v1h-1zM22 -27h1v1h-1zM24 -27h1v1h-1zM-18 -26h1v1h-1zM-14 -26h1v1h-1zM16 -26h1v1h-1zM20 -26h2v1h-2zM27 -26h1v1h-1zM-11 -25h1v1h-1zM-9 -25h1v1h-1zM-6 -25h1v1h-1zM-11 -24h1v1h-1zM14 -24h1v1h-1zM20 -24h1v1h-1zM25 -24h3v1h-3zM-13 -23h1v1h-1zM-9 -23h1v1h-1zM27 -23h1v1h-1zM-15 -22h1v1h-1zM1 -22h1v1h-1zM14 -22h1v1h-1zM30 -21h1v1h-1zM13 -20h1v1h-1zM25 -20h1v1h-1zM9 -19h1v1h-1zM12 -19h1v1h-1zM26 -19h1v1h-1zM29 -18h1v1h-1zM22 -17h1v1h-1zM32 -16h1v1h-1zM34 -15h1v1h-1zM38 -15h1v1h-1zM-13 -12h1v1h-1zM36 -12h1v1h-1zM-30 -11h1v1h-1zM-25 -9h1v1h-1zM-18 -4h1v1h-1zM-45 4h1v1h-1zM-33 13h1v1h-1zM-34 15h1v1h-1zM12 22h1v1h-1zM9 23h1v1h-1zM12 23h1v1h-1zM17 23h1v1h-1zM10 25h1v1h-1zM-3 26h1v1h-1zM20 27h1v1h-1zM-8 28h1v1h-1zM9 30h1v1h-1zM11 30h2v1h-2zM18 30h1v1h-1zM10 31h1v1h-1zM5 32h2v1h-2zM-9 33h1v1h-1zM9 33h2v1h-2zM14 33h2v1h-2zM14 34h1v1h-1zM-13 35h1v1h-1zM4 35h1v1h-1zM14 35h1v1h-1zM-10 38h1v1h-1zM-14 40h1v1h-1zM-11 42h1v1h-1zM4 42h1v1h-1zM5 43h1v1h-1zM6 44h1v1h-1zM4 45h1v1h-1zM-3 46h1v1h-1zM-1 47h1v1h-1zM-3 48h1v1h-1zM-5 49h1v1h-1zM1 49h1v1h-1zM-3 51h1v1h-1z"/>
<path fill="#d0d4ac" d="M3 -43h1v1h-1zM-7 -39h1v1h-1zM11 -39h1v1h-1zM-10 -37h1v1h-1zM19 -32h1v1h-1zM-1 -24h1v1h-1zM10 -24h1v1h-1zM17 -24h1v1h-1zM-8 -23h1v1h-1zM9 -23h1v1h-1zM16 -23h1v1h-1zM-3 -22h1v1h-1zM2 -21h1v1h-1zM15 -20h1v1h-1zM2 -19h1v1h-1zM20 -18h1v1h-1zM37 -17h1v1h-1zM-27 -16h1v1h-1zM-15 -16h1v1h-1zM1 -16h1v1h-1zM17 -16h1v1h-1zM-1 -15h1v1h-1zM-15 -14h1v1h-1zM-13 -14h1v1h-1zM-8 -14h1v1h-1zM23 -13h1v1h-1zM27 -12h1v1h-1zM-10 -10h1v1h-1zM-6 -10h1v1h-1zM23 -10h1v1h-1zM-5 -9h1v1h-1zM30 -9h1v1h-1zM-9 -8h1v1h-1zM38 -8h1v1h-1zM27 -7h1v1h-1zM40 -5h1v1h-1zM-21 -2h1v1h-1zM-39 -1h1v1h-1zM37 -1h1v1h-1zM34 0h1v1h-1zM27 2h1v1h-1zM-23 4h1v1h-1zM-28 6h1v1h-1zM25 9h1v1h-1zM-19 13h1v1h-1zM-20 14h1v1h-1zM-16 14h1v1h-1zM17 16h1v1h-1zM-19 17h1v1h-1zM9 19h1v1h-1zM-31 20h1v1h-1zM-22 21h1v1h-1zM-12 21h1v1h-1zM22 23h1v1h-1zM-12 24h1v1h-1zM-2 24h1v1h-1zM11 24h1v1h-1zM1 26h1v1h-1zM24 26h1v1h-1zM-10 27h1v1h-1zM-4 27h1v1h-1zM0 27h1v1h-1zM5 27h1v1h-1zM-18 28h1v1h-1zM-3 28h1v1h-1zM1 28h1v1h-1zM1 29h1v1h-1zM5 29h2v1h-2zM8 29h1v1h-1zM-15 30h1v1h-1zM-21 31h1v1h-1zM-6 31h1v1h-1zM-7 32h1v1h-1zM1 34h2v1h-2zM4 34h1v1h-1zM-14 35h1v1h-1zM-4 35h1v1h-1zM-4 36h1v1h-1zM-1 36h1v1h-1zM-4 37h1v1h-1zM2 44h1v1h-1z"/>
<path fill="#dec9a5" d="M-3 -21h1v1h-1zM0 -18h1v1h-1zM19 -18h1v1h-1zM-6 -17h1v1h-1zM-13 -16h1v1h-1zM2 -16h1v1h-1zM-7 -15h1v1h-1zM0 -15h1v1h-1zM3 -15h1v1h-1zM15 -15h1v1h-1zM1 -14h1v1h-1zM8 -14h1v1h-1zM21 -14h1v1h-1zM-4 -13h2v1h-2zM5 -13h1v1h-1zM18 -13h1v1h-1zM-5 -12h1v1h-1zM1 -12h1v1h-1zM7 -12h1v1h-1zM21 -10h1v1h-1zM44 -10h1v1h-1zM-8 -9h1v1h-1zM-4 -9h1v1h-1zM-8 -8h1v1h-1zM5 -8h1v1h-1zM22 -8h1v1h-1zM34 -8h1v1h-1zM44 -8h1v1h-1zM-15 -7h1v1h-1zM-10 -7h1v1h-1zM15 -7h1v1h-1zM-13 -5h1v1h-1zM25 -5h1v1h-1zM25 -4h1v1h-1zM-7 -3h1v1h-1zM8 -3h1v1h-1zM10 -3h1v1h-1zM-2 -2h1v1h-1zM0 -2h1v1h-1zM-16 -1h1v1h-1zM-6 -1h1v1h-1zM-4 -1h1v1h-1zM-2 -1h1v1h-1zM24 -1h1v1h-1zM-9 0h1v1h-1zM-4 0h1v1h-1zM-2 0h1v1h-1zM-15 1h2v1h-2zM-2 1h2v1h-2zM22 1h1v1h-1zM-10 2h1v1h-1zM-7 4h1v1h-1zM-1 4h1v1h-1zM-11 5h1v1h-1zM17 5h1v1h-1zM-17 6h1v1h-1zM22 7h1v1h-1zM-13 9h1v1h-1zM13 9h1v1h-1zM-18 10h1v1h-1zM24 10h1v1h-1zM-13 11h1v1h-1zM-11 11h1v1h-1zM-18 12h2v1h-2zM-9 12h1v1h-1zM20 12h1v1h-1zM-10 13h1v1h-1zM-15 14h1v1h-1zM-13 14h1v1h-1zM-11 14h1v1h-1zM-14 15h1v1h-1zM-17 20h2v1h-2zM-6 20h1v1h-1zM-16 21h1v1h-1zM-9 21h1v1h-1zM-10 22h1v1h-1zM-18 23h1v1h-1zM-13 23h1v1h-1zM-14 24h1v1h-1zM5 24h1v1h-1zM-3 35h1v1h-1z"/>
<path fill="#c4c99f" d="M1 -52h1v1h-1zM-5 -46h1v1h-1zM-8 -44h1v1h-1zM9 -44h1v1h-1zM14 -38h1v1h-1zM-9 -37h1v1h-1zM-3 -30h2v1h-2zM-17 -29h1v1h-1zM7 -27h1v1h-1zM-2 -26h1v1h-1zM18 -23h1v1h-1zM-5 -22h1v1h-1zM20 -22h1v1h-1zM0 -21h1v1h-1zM20 -21h1v1h-1zM-4 -19h2v1h-2zM31 -19h1v1h-1zM-14 -18h1v1h-1zM-6 -18h1v1h-1zM12 -17h1v1h-1zM13 -16h1v1h-1zM-10 -15h1v1h-1zM24 -15h1v1h-1zM29 -13h1v1h-1zM30 -12h1v1h-1zM38 -12h1v1h-1zM24 -11h1v1h-1zM31 -10h1v1h-1zM34 -10h1v1h-1zM-13 -9h1v1h-1zM31 -9h1v1h-1zM43 -9h1v1h-1zM-17 -8h1v1h-1zM31 -8h1v1h-1zM-14 -7h1v1h-1zM42 -5h1v1h-1zM40 -4h1v1h-1zM42 -4h1v1h-1zM35 -3h1v1h-1zM35 -2h1v1h-1zM49 -2h1v1h-1zM34 -1h1v1h-1zM-19 0h1v1h-1zM28 0h1v1h-1zM27 1h2v1h-2zM32 1h1v1h-1zM41 1h1v1h-1zM32 2h1v1h-1zM28 5h1v1h-1zM34 5h1v1h-1zM43 5h1v1h-1zM-20 6h1v1h-1zM37 7h1v1h-1zM-22 8h1v1h-1zM25 8h1v1h-1zM-26 9h1v1h-1zM-21 9h1v1h-1zM28 9h1v1h-1zM27 10h1v1h-1zM40 10h1v1h-1zM-21 11h1v1h-1zM30 11h1v1h-1zM33 14h1v1h-1zM-22 15h1v1h-1zM23 17h2v1h-2zM10 18h1v1h-1zM14 18h1v1h-1zM22 19h1v1h-1zM25 19h1v1h-1zM16 20h1v1h-1zM20 20h1v1h-1zM14 21h2v1h-2zM25 21h1v1h-1zM21 23h1v1h-1zM3 24h2v1h-2zM-8 26h1v1h-1zM10 26h1v1h-1zM-23 28h1v1h-1zM0 28h1v1h-1zM5 28h1v1h-1zM0 29h1v1h-1zM2 29h1v1h-1zM4 29h1v1h-1zM0 30h2v1h-2zM5 30h1v1h-1zM-11 31h1v1h-1zM-5 32h1v1h-1zM-2 33h1v1h-1zM0 33h3v1h-3zM-5 36h1v1h-1zM0 36h1v1h-1zM-6 40h1v1h-1zM-4 41h1v1h-1zM-2 41h1v1h-1zM0 44h1v1h-1zM1 45h1v1h-1z"/>
<path fill="#b1ce99" d="M0 -46h1v1h-1zM8 -39h1v1h-1zM-12 -37h1v1h-1zM-16 -36h1v1h-1zM16 -36h1v1h-1zM-12 -35h1v1h-1zM-8 -35h1v1h-1zM2 -34h1v1h-1zM-18 -33h1v1h-1zM-13 -33h1v1h-1zM-5 -33h1v1h-1zM-20 -31h1v1h-1zM-14 -31h1v1h-1zM-20 -29h1v1h-1zM-14 -29h1v1h-1zM-14 -28h1v1h-1zM-19 -27h1v1h-1zM-15 -27h1v1h-1zM-13 -27h1v1h-1zM-24 -26h1v1h-1zM-15 -26h1v1h-1zM-7 -26h1v1h-1zM28 -25h1v1h-1zM4 -24h2v1h-2zM12 -24h1v1h-1zM-23 -22h1v1h-1zM31 -21h1v1h-1zM-28 -20h1v1h-1zM34 -17h1v1h-1zM-26 -14h1v1h-1zM-38 -13h1v1h-1zM-19 -12h1v1h-1zM-13 -11h1v1h-1zM-41 -9h1v1h-1zM-22 -8h1v1h-1zM-23 -7h1v1h-1zM-29 -6h1v1h-1zM-42 -5h1v1h-1zM-33 -5h1v1h-1zM-43 -4h1v1h-1zM-30 -4h1v1h-1zM-42 -3h2v1h-2zM-35 -3h1v1h-1zM-33 -3h1v1h-1zM-18 -3h1v1h-1zM-50 -2h1v1h-1zM-35 -2h1v1h-1zM-44 -1h1v1h-1zM-29 0h1v1h-1zM-52 1h1v1h-1zM-33 1h1v1h-1zM-52 2h1v1h-1zM-51 3h1v1h-1zM-47 3h1v1h-1zM-34 3h1v1h-1zM-25 3h1v1h-1zM-44 4h1v1h-1zM-44 5h1v1h-1zM-26 5h1v1h-1zM-47 6h1v1h-1zM-43 6h1v1h-1zM-41 6h3v1h-3zM-47 7h1v1h-1zM-39 7h1v1h-1zM-44 8h1v1h-1zM-40 8h1v1h-1zM-24 8h1v1h-1zM-45 9h2v1h-2zM-23 9h1v1h-1zM-44 10h1v1h-1zM-40 11h1v1h-1zM-33 11h1v1h-1zM-40 12h1v1h-1zM-32 12h1v1h-1zM-40 13h1v1h-1zM-30 13h1v1h-1zM-35 15h1v1h-1zM-31 17h2v1h-2zM-30 24h1v1h-1zM-23 25h1v1h-1zM-23 31h1v1h-1zM-16 31h1v1h-1zM-13 33h1v1h-1zM-20 34h1v1h-1zM-10 34h1v1h-1zM-16 37h1v1h-1zM-15 38h1v1h-1z"/>
<path fill="#c9c8ab" d="M4 -50h1v1h-1zM6 -47h1v1h-1zM6 -46h2v1h-2zM3 -44h1v1h-1zM2 -33h1v1h-1zM-5 -27h1v1h-1zM-3 -25h2v1h-2zM17 -25h1v1h-1zM18 -24h1v1h-1zM-25 -23h1v1h-1zM-16 -20h1v1h-1zM-4 -20h2v1h-2zM5 -20h1v1h-1zM0 -19h1v1h-1zM5 -19h1v1h-1zM20 -19h1v1h-1zM-13 -18h1v1h-1zM-1 -18h1v1h-1zM7 -18h1v1h-1zM31 -18h1v1h-1zM36 -18h1v1h-1zM14 -17h1v1h-1zM-3 -16h1v1h-1zM19 -16h1v1h-1zM21 -16h1v1h-1zM29 -16h2v1h-2zM2 -15h1v1h-1zM11 -15h1v1h-1zM16 -15h1v1h-1zM30 -15h1v1h-1zM-25 -14h1v1h-1zM12 -14h1v1h-1zM22 -14h1v1h-1zM-17 -13h1v1h-1zM21 -13h2v1h-2zM31 -13h1v1h-1zM38 -13h1v1h-1zM-7 -12h1v1h-1zM25 -12h1v1h-1zM40 -12h1v1h-1zM40 -11h1v1h-1zM39 -10h1v1h-1zM3 -9h1v1h-1zM26 -9h2v1h-2zM21 -8h1v1h-1zM37 -8h1v1h-1zM-7 -7h1v1h-1zM29 -6h1v1h-1zM31 -6h1v1h-1zM45 -6h1v1h-1zM31 -5h1v1h-1zM45 -5h1v1h-1zM31 -4h1v1h-1zM50 -4h1v1h-1zM22 -3h1v1h-1zM34 -3h1v1h-1zM21 -2h1v1h-1zM-45 1h1v1h-1zM-20 1h1v1h-1zM33 1h1v1h-1zM-16 2h1v1h-1zM-14 3h1v1h-1zM29 5h1v1h-1zM-32 6h1v1h-1zM-15 7h1v1h-1zM-14 9h1v1h-1zM25 10h1v1h-1zM-22 14h1v1h-1zM10 14h1v1h-1zM-27 16h1v1h-1zM18 16h1v1h-1zM-17 17h1v1h-1zM-14 17h1v1h-1zM14 17h1v1h-1zM17 17h1v1h-1zM-13 19h1v1h-1zM15 20h1v1h-1zM-14 21h2v1h-2zM8 22h1v1h-1zM4 23h1v1h-1zM-11 24h3v1h-3zM-12 25h1v1h-1zM-9 25h1v1h-1zM-7 26h1v1h-1zM-11 27h1v1h-1zM-2 27h1v1h-1zM2 27h1v1h-1zM-12 30h1v1h-1zM-5 31h1v1h-1zM-3 31h1v1h-1zM-8 35h1v1h-1zM-8 37h1v1h-1zM-3 37h1v1h-1zM-7 39h1v1h-1zM-3 39h1v1h-1zM-1 39h1v1h-1zM-12 40h1v1h-1zM-8 40h1v1h-1zM-6 41h1v1h-1zM-8 42h1v1h-1zM-10 44h1v1h-1zM-8 44h1v1h-1z"/>
<path fill="#d5d6ba" d="M6 -48h1v1h-1zM4 -46h1v1h-1zM-25 -25h1v1h-1zM-21 -25h1v1h-1zM-1 -25h1v1h-1zM6 -25h1v1h-1zM-3 -24h1v1h-1zM0 -23h1v1h-1zM7 -23h1v1h-1zM-24 -22h1v1h-1zM-10 -21h1v1h-1zM-32 -20h1v1h-1zM-16 -19h1v1h-1zM35 -19h1v1h-1zM-24 -18h1v1h-1zM13 -18h1v1h-1zM18 -18h1v1h-1zM0 -17h1v1h-1zM-19 -16h1v1h-1zM-14 -16h1v1h-1zM11 -16h1v1h-1zM-23 -15h1v1h-1zM-12 -15h2v1h-2zM10 -15h1v1h-1zM-23 -14h2v1h-2zM-11 -13h1v1h-1zM-10 -12h1v1h-1zM22 -12h1v1h-1zM-36 -11h1v1h-1zM-23 -11h1v1h-1zM-14 -11h1v1h-1zM-9 -11h1v1h-1zM27 -11h1v1h-1zM-17 -10h1v1h-1zM-11 -10h1v1h-1zM25 -10h1v1h-1zM29 -10h1v1h-1zM-12 -9h1v1h-1zM23 -9h1v1h-1zM-18 -8h1v1h-1zM-21 -7h1v1h-1zM-20 -6h1v1h-1zM-26 -5h2v1h-2zM-22 -5h1v1h-1zM-19 -5h1v1h-1zM-16 -5h1v1h-1zM-24 -4h2v1h-2zM-21 -4h1v1h-1zM-16 -4h1v1h-1zM-22 -3h1v1h-1zM-10 -3h1v1h-1zM36 -3h1v1h-1zM-23 -2h1v1h-1zM-10 -2h1v1h-1zM22 -2h1v1h-1zM30 -2h1v1h-1zM-24 -1h1v1h-1zM-10 -1h1v1h-1zM28 -1h1v1h-1zM30 -1h1v1h-1zM-22 0h1v1h-1zM-16 0h1v1h-1zM27 0h1v1h-1zM-10 1h1v1h-1zM-46 2h1v1h-1zM-29 2h1v1h-1zM-24 2h1v1h-1zM-22 2h1v1h-1zM29 3h1v1h-1zM-13 5h1v1h-1zM22 5h1v1h-1zM-29 6h1v1h-1zM-21 6h1v1h-1zM-16 6h2v1h-2zM-13 6h1v1h-1zM-36 7h1v1h-1zM-12 7h1v1h-1zM23 7h1v1h-1zM25 7h1v1h-1zM-13 8h1v1h-1zM-15 9h1v1h-1zM-29 10h1v1h-1zM-16 10h1v1h-1zM-38 11h1v1h-1zM-32 11h1v1h-1zM-24 11h1v1h-1zM-28 15h1v1h-1zM-12 15h1v1h-1zM-12 17h1v1h-1zM-35 18h1v1h-1zM-21 18h1v1h-1zM-13 18h1v1h-1zM5 18h1v1h-1zM-26 19h2v1h-2zM-21 19h1v1h-1zM-29 20h1v1h-1zM-11 20h1v1h-1zM-30 21h1v1h-1zM-19 22h1v1h-1zM-13 22h1v1h-1zM-8 22h1v1h-1zM3 22h1v1h-1zM-23 23h1v1h-1zM-12 23h1v1h-1zM8 24h1v1h-1zM8 25h1v1h-1zM-1 26h1v1h-1zM6 27h1v1h-1zM-21 28h1v1h-1zM-19 28h1v1h-1zM-9 29h1v1h-1zM-24 30h1v1h-1zM-1 30h1v1h-1zM-12 31h1v1h-1zM-10 31h1v1h-1zM2 31h1v1h-1zM-21 32h1v1h-1zM2 32h1v1h-1zM-6 33h1v1h-1zM-8 34h1v1h-1zM-15 39h1v1h-1zM-5 42h1v1h-1zM-7 43h1v1h-1zM-7 45h1v1h-1z"/>
<path fill="#d2deb2" d="M-6 -37h1v1h-1zM-14 -36h1v1h-1zM12 -36h1v1h-1zM13 -34h1v1h-1zM19 -33h1v1h-1zM-16 -32h1v1h-1zM-17 -31h1v1h-1zM-4 -30h1v1h-1zM-3 -29h1v1h-1zM-20 -28h2v1h-2zM-22 -27h1v1h-1zM3 -27h1v1h-1zM18 -27h1v1h-1zM1 -26h1v1h-1zM-24 -25h2v1h-2zM-20 -25h1v1h-1zM2 -25h1v1h-1zM-16 -24h1v1h-1zM-2 -24h1v1h-1zM8 -24h1v1h-1zM-1 -23h1v1h-1zM32 -22h1v1h-1zM-29 -21h1v1h-1zM-24 -21h1v1h-1zM-7 -21h1v1h-1zM3 -21h1v1h-1zM21 -21h1v1h-1zM-31 -20h1v1h-1zM28 -20h1v1h-1zM-24 -19h1v1h-1zM-19 -19h1v1h-1zM-13 -19h1v1h-1zM-19 -18h1v1h-1zM-16 -18h1v1h-1zM-9 -18h1v1h-1zM-29 -17h1v1h-1zM-25 -17h1v1h-1zM-19 -17h1v1h-1zM-11 -17h1v1h-1zM31 -16h1v1h-1zM-32 -15h1v1h-1zM-23 -13h1v1h-1zM-11 -12h1v1h-1zM-41 -11h1v1h-1zM-29 -10h1v1h-1zM-15 -10h1v1h-1zM-34 -9h1v1h-1zM-26 -9h1v1h-1zM-22 -9h1v1h-1zM-27 -8h1v1h-1zM-15 -8h1v1h-1zM-6 -8h1v1h-1zM35 -8h1v1h-1zM-34 -7h1v1h-1zM-31 -7h1v1h-1zM-22 -6h1v1h-1zM-20 -5h1v1h-1zM32 -5h1v1h-1zM-28 -3h1v1h-1zM-26 -3h1v1h-1zM-40 -2h1v1h-1zM-22 -2h1v1h-1zM-40 -1h1v1h-1zM-19 -1h1v1h-1zM-51 0h1v1h-1zM-49 0h1v1h-1zM-39 0h1v1h-1zM-50 1h1v1h-1zM-43 1h2v1h-2zM-45 2h1v1h-1zM-48 3h1v1h-1zM-44 3h1v1h-1zM-37 3h1v1h-1zM-31 3h1v1h-1zM-28 3h1v1h-1zM-26 3h1v1h-1zM-34 4h2v1h-2zM-48 5h1v1h-1zM-28 5h2v1h-2zM-35 6h1v1h-1zM-44 7h1v1h-1zM-32 7h1v1h-1zM-29 7h1v1h-1zM-38 8h1v1h-1zM-29 8h1v1h-1zM-25 8h1v1h-1zM-40 9h1v1h-1zM-35 9h1v1h-1zM-34 10h1v1h-1zM-29 12h1v1h-1zM-23 12h1v1h-1zM-39 13h1v1h-1zM-21 13h1v1h-1zM-38 14h1v1h-1zM-21 14h1v1h-1zM-37 15h1v1h-1zM-24 16h2v1h-2zM-28 21h1v1h-1zM-29 24h1v1h-1zM-21 24h1v1h-1zM-26 25h1v1h-1zM-21 25h1v1h-1zM-26 26h1v1h-1zM-26 28h1v1h-1zM-2 28h1v1h-1zM-17 29h1v1h-1zM-11 32h1v1h-1zM-16 33h1v1h-1zM-5 34h1v1h-1zM-8 36h1v1h-1zM-14 37h1v1h-1zM-3 40h1v1h-1z"/>
<path fill="#94b078" d="M2 -50h1v1h-1zM1 -49h1v1h-1zM1 -48h1v1h-1zM-1 -46h1v1h-1zM1 -46h1v1h-1zM-4 -45h1v1h-1zM-1 -45h1v1h-1zM-3 -44h2v1h-2zM-6 -43h1v1h-1zM5 -43h3v1h-3zM-6 -42h1v1h-1zM0 -42h2v1h-2zM5 -42h2v1h-2zM9 -42h1v1h-1zM11 -42h1v1h-1zM-9 -41h1v1h-1zM-7 -40h2v1h-2zM4 -40h1v1h-1zM6 -40h1v1h-1zM8 -40h1v1h-1zM13 -40h2v1h-2zM5 -39h2v1h-2zM9 -38h1v1h-1zM-3 -37h2v1h-2zM8 -37h2v1h-2zM11 -37h1v1h-1zM17 -37h1v1h-1zM-7 -36h1v1h-1zM2 -36h1v1h-1zM5 -36h1v1h-1zM7 -36h1v1h-1zM10 -36h1v1h-1zM-4 -35h1v1h-1zM3 -35h1v1h-1zM7 -35h2v1h-2zM-10 -34h1v1h-1zM-4 -34h2v1h-2zM0 -34h1v1h-1zM4 -34h2v1h-2zM8 -34h1v1h-1zM16 -34h2v1h-2zM-19 -33h1v1h-1zM-3 -33h2v1h-2zM-8 -32h1v1h-1zM6 -32h1v1h-1zM-10 -31h2v1h-2zM-7 -31h1v1h-1zM8 -31h1v1h-1zM23 -31h1v1h-1zM0 -30h1v1h-1zM5 -30h1v1h-1zM12 -30h1v1h-1zM-11 -29h1v1h-1zM4 -29h1v1h-1zM14 -29h1v1h-1zM-12 -28h2v1h-2zM-4 -28h1v1h-1zM15 -28h1v1h-1zM20 -28h1v1h-1zM23 -28h1v1h-1zM25 -28h1v1h-1zM-14 -27h1v1h-1zM10 -27h1v1h-1zM13 -27h1v1h-1zM16 -27h1v1h-1zM-16 -26h1v1h-1zM24 -26h1v1h-1zM-12 -25h1v1h-1zM13 -25h1v1h-1zM15 -25h1v1h-1zM23 -25h2v1h-2zM26 -25h2v1h-2zM-10 -24h1v1h-1zM-10 -23h1v1h-1zM-6 -23h1v1h-1zM29 -23h1v1h-1zM15 -21h1v1h-1zM25 -21h1v1h-1zM10 -20h2v1h-2zM11 -19h1v1h-1zM22 -18h1v1h-1zM33 -16h1v1h-1zM34 -14h1v1h-1zM37 -14h1v1h-1zM37 -11h1v1h-1zM36 -10h1v1h-1zM47 -7h1v1h-1zM47 -6h1v1h-1zM46 -4h1v1h-1zM51 -3h1v1h-1zM43 -1h1v1h-1zM46 -1h1v1h-1zM43 0h3v1h-3zM48 0h1v1h-1zM50 0h1v1h-1zM34 1h1v1h-1zM43 1h3v1h-3zM49 1h1v1h-1zM-35 2h1v1h-1zM-18 2h1v1h-1zM44 2h2v1h-2zM31 5h1v1h-1zM44 5h1v1h-1zM35 12h1v1h-1zM32 13h1v1h-1zM31 15h1v1h-1zM14 24h3v1h-3zM21 24h1v1h-1zM26 24h1v1h-1zM12 27h1v1h-1zM21 27h1v1h-1zM17 28h1v1h-1zM20 28h1v1h-1zM16 29h1v1h-1zM18 29h1v1h-1zM20 29h1v1h-1zM13 30h1v1h-1zM16 30h2v1h-2zM11 31h1v1h-1zM14 31h2v1h-2zM18 31h1v1h-1zM-1 32h1v1h-1zM12 32h1v1h-1zM17 32h2v1h-2zM12 33h1v1h-1zM13 34h1v1h-1zM10 35h3v1h-3zM15 35h1v1h-1zM5 36h1v1h-1zM2 37h2v1h-2zM5 37h1v1h-1zM11 37h1v1h-1zM13 37h1v1h-1zM9 38h1v1h-1zM11 38h1v1h-1zM1 39h1v1h-1zM8 41h1v1h-1zM5 42h1v1h-1zM-4 43h1v1h-1zM7 43h1v1h-1zM-3 44h1v1h-1zM-4 47h1v1h-1zM-6 48h1v1h-1zM-2 48h2v1h-2zM1 48h2v1h-2zM-2 49h1v1h-1zM0 49h1v1h-1zM-2 51h2v1h-2z"/>
<path fill="#c3c2a3" d="M-2 -48h1v1h-1zM4 -47h2v1h-2zM7 -47h1v1h-1zM2 -46h1v1h-1zM4 -45h1v1h-1zM7 -45h1v1h-1zM4 -33h1v1h-1zM2 -23h1v1h-1zM10 -23h1v1h-1zM-5 -21h1v1h-1zM-5 -20h1v1h-1zM0 -20h1v1h-1zM18 -20h1v1h-1zM16 -19h1v1h-1zM-3 -17h1v1h-1zM15 -17h1v1h-1zM20 -17h1v1h-1zM29 -17h1v1h-1zM36 -17h1v1h-1zM12 -16h1v1h-1zM35 -16h1v1h-1zM29 -14h1v1h-1zM-1 -13h1v1h-1zM28 -13h1v1h-1zM41 -13h1v1h-1zM-12 -11h1v1h-1zM20 -11h1v1h-1zM26 -11h1v1h-1zM38 -9h1v1h-1zM41 -9h1v1h-1zM-7 -8h1v1h-1zM20 -8h1v1h-1zM44 -7h1v1h-1zM-16 -6h1v1h-1zM32 -6h1v1h-1zM32 -3h1v1h-1zM49 -3h1v1h-1zM-16 -2h1v1h-1zM50 -2h2v1h-2zM23 -1h1v1h-1zM31 -1h1v1h-1zM36 0h1v1h-1zM30 3h1v1h-1zM33 3h2v1h-2zM22 4h2v1h-2zM35 4h1v1h-1zM-19 6h1v1h-1zM-14 6h1v1h-1zM22 6h1v1h-1zM24 6h1v1h-1zM29 6h1v1h-1zM31 7h1v1h-1zM-19 8h1v1h-1zM31 8h1v1h-1zM24 9h1v1h-1zM-14 13h1v1h-1zM24 13h1v1h-1zM-30 14h1v1h-1zM15 15h1v1h-1zM18 15h1v1h-1zM-35 16h1v1h-1zM14 16h1v1h-1zM16 16h1v1h-1zM-24 18h1v1h-1zM4 19h1v1h-1zM7 19h1v1h-1zM12 19h1v1h-1zM14 19h1v1h-1zM6 20h1v1h-1zM9 20h1v1h-1zM21 20h1v1h-1zM-7 21h1v1h-1zM4 21h1v1h-1zM6 21h1v1h-1zM22 21h2v1h-2zM6 22h1v1h-1zM-8 25h2v1h-2zM-13 26h1v1h-1zM3 29h1v1h-1zM-16 35h1v1h-1zM0 35h1v1h-1zM-5 38h1v1h-1zM-5 39h1v1h-1zM-9 42h1v1h-1zM-7 42h1v1h-1zM-8 43h1v1h-1zM-9 45h1v1h-1zM-7 47h1v1h-1z"/>
<path fill="#e3f0c4" d="M-6 -38h1v1h-1zM-3 -31h1v1h-1zM26 -27h1v1h-1zM-27 -25h1v1h-1zM1 -25h1v1h-1zM3 -24h1v1h-1zM-29 -23h1v1h-1zM-33 -19h1v1h-1zM-34 -17h1v1h-1zM-16 -15h1v1h-1zM-8 -15h1v1h-1zM-31 -14h2v1h-2zM-34 -13h1v1h-1zM-31 -13h1v1h-1zM-35 -12h1v1h-1zM-11 -11h1v1h-1zM-39 -10h1v1h-1zM-31 -10h1v1h-1zM-27 -10h1v1h-1zM-18 -10h1v1h-1zM-12 -10h1v1h-1zM-43 -9h1v1h-1zM-31 -8h1v1h-1zM-43 -7h1v1h-1zM-22 -7h1v1h-1zM-17 -7h1v1h-1zM31 -7h1v1h-1zM-37 -6h1v1h-1zM-32 -6h1v1h-1zM-46 -5h1v1h-1zM-39 -5h1v1h-1zM-29 -5h1v1h-1zM-38 -4h1v1h-1zM-25 -4h1v1h-1zM-48 -3h1v1h-1zM-39 -2h1v1h-1zM-37 -2h1v1h-1zM-36 -1h1v1h-1zM-41 0h1v1h-1zM-35 0h1v1h-1zM-47 1h1v1h-1zM-44 1h1v1h-1zM-31 1h1v1h-1zM-18 1h1v1h-1zM-50 2h1v1h-1zM-38 2h1v1h-1zM-21 2h1v1h-1zM-32 3h1v1h-1zM-30 3h1v1h-1zM-20 4h1v1h-1zM-45 7h1v1h-1zM-38 7h1v1h-1zM-34 7h1v1h-1zM-14 7h1v1h-1zM-42 9h1v1h-1zM-30 9h1v1h-1zM-38 12h1v1h-1zM-26 13h1v1h-1zM-32 14h1v1h-1zM-38 15h1v1h-1zM-18 15h1v1h-1zM-32 18h1v1h-1zM-28 19h1v1h-1zM-21 23h1v1h-1zM-25 25h1v1h-1zM9 25h1v1h-1zM-25 26h1v1h-1zM7 27h1v1h-1zM-24 29h1v1h-1zM-16 32h1v1h-1zM-14 32h1v1h-1zM-20 33h1v1h-1z"/>
<path fill="#e5e4c8" d="M-10 -38h1v1h-1zM-22 -29h1v1h-1zM-23 -28h1v1h-1zM-21 -27h2v1h-2zM5 -27h1v1h-1zM-23 -26h2v1h-2zM3 -25h1v1h-1zM-19 -24h2v1h-2zM2 -24h1v1h-1zM-26 -23h1v1h-1zM-26 -22h2v1h-2zM-18 -22h1v1h-1zM6 -22h1v1h-1zM-25 -20h1v1h-1zM-7 -19h2v1h-2zM-3 -18h1v1h-1zM-18 -17h1v1h-1zM-18 -16h1v1h-1zM-11 -16h1v1h-1zM-30 -15h1v1h-1zM-14 -15h1v1h-1zM-19 -14h1v1h-1zM-33 -13h1v1h-1zM-15 -13h1v1h-1zM24 -13h1v1h-1zM21 -12h1v1h-1zM-38 -11h1v1h-1zM-10 -11h1v1h-1zM-6 -11h1v1h-1zM32 -10h1v1h-1zM-35 -9h1v1h-1zM-20 -9h1v1h-1zM-16 -9h1v1h-1zM-9 -9h1v1h-1zM-28 -8h1v1h-1zM-21 -8h1v1h-1zM-25 -7h1v1h-1zM-38 -6h1v1h-1zM-11 -6h1v1h-1zM-12 -4h1v1h-1zM-29 -3h1v1h-1zM-26 -2h2v1h-2zM-20 -2h1v1h-1zM-48 -1h1v1h-1zM-23 -1h2v1h-2zM-46 0h1v1h-1zM-18 0h1v1h-1zM-30 1h1v1h-1zM-9 1h1v1h-1zM-47 2h1v1h-1zM-42 2h1v1h-1zM-43 3h1v1h-1zM-29 3h1v1h-1zM-18 3h1v1h-1zM-33 5h1v1h-1zM-20 5h1v1h-1zM-30 7h1v1h-1zM-19 7h1v1h-1zM-13 7h1v1h-1zM-34 8h2v1h-2zM-21 8h1v1h-1zM-31 9h1v1h-1zM-29 9h1v1h-1zM-27 9h1v1h-1zM-40 10h1v1h-1zM-24 10h1v1h-1zM-22 10h1v1h-1zM-17 10h1v1h-1zM-26 11h1v1h-1zM-17 11h1v1h-1zM-16 13h1v1h-1zM-31 14h1v1h-1zM-28 14h1v1h-1zM-19 14h1v1h-1zM-27 15h1v1h-1zM-37 16h2v1h-2zM-29 16h1v1h-1zM-25 16h1v1h-1zM-37 17h1v1h-1zM-27 17h1v1h-1zM-23 17h2v1h-2zM-36 18h1v1h-1zM-28 18h1v1h-1zM-25 18h1v1h-1zM-11 18h1v1h-1zM-27 19h1v1h-1zM-24 19h1v1h-1zM-30 20h1v1h-1zM-27 20h1v1h-1zM-21 20h1v1h-1zM-31 21h1v1h-1zM-21 21h1v1h-1zM-23 22h2v1h-2zM-22 23h1v1h-1zM-19 24h1v1h-1zM-16 25h1v1h-1zM-17 26h1v1h-1zM5 26h1v1h-1zM8 26h1v1h-1zM-22 27h1v1h-1zM-13 27h1v1h-1zM-5 27h1v1h-1zM-15 28h1v1h-1zM7 28h1v1h-1zM-11 29h2v1h-2zM-7 30h1v1h-1zM2 30h1v1h-1zM-20 31h1v1h-1zM-11 34h1v1h-1zM-15 35h1v1h-1z"/>
<path fill="#b6d39e" d="M-16 -33h1v1h-1zM-19 -32h1v1h-1zM-17 -32h1v1h-1zM0 -32h1v1h-1zM-8 -31h1v1h-1zM-16 -30h1v1h-1zM-19 -26h1v1h-1zM-17 -25h1v1h-1zM-10 -25h1v1h-1zM30 -24h1v1h-1zM-22 -22h1v1h-1zM28 -22h1v1h-1zM-27 -20h1v1h-1zM-23 -20h1v1h-1zM-20 -19h1v1h-1zM-29 -18h1v1h-1zM-25 -18h1v1h-1zM-22 -18h1v1h-1zM-20 -18h1v1h-1zM-27 -17h1v1h-1zM-21 -17h1v1h-1zM-15 -17h1v1h-1zM-38 -14h1v1h-1zM-24 -13h1v1h-1zM-27 -12h1v1h-1zM-18 -12h1v1h-1zM-32 -11h1v1h-1zM-25 -11h1v1h-1zM-30 -10h1v1h-1zM-32 -9h1v1h-1zM-42 -7h1v1h-1zM-18 -6h1v1h-1zM-47 -5h1v1h-1zM-45 -4h1v1h-1zM-40 -4h1v1h-1zM-36 -4h2v1h-2zM-31 -3h2v1h-2zM-33 -2h1v1h-1zM-43 -1h2v1h-2zM-34 -1h2v1h-2zM-31 -1h1v1h-1zM-36 0h1v1h-1zM-32 0h1v1h-1zM-28 0h1v1h-1zM-36 1h1v1h-1zM-48 2h1v1h-1zM-34 2h2v1h-2zM-36 3h1v1h-1zM-50 4h1v1h-1zM-46 4h1v1h-1zM-43 4h1v1h-1zM-41 4h1v1h-1zM-35 4h1v1h-1zM-31 4h1v1h-1zM-46 5h1v1h-1zM-42 5h2v1h-2zM-39 5h1v1h-1zM-46 6h1v1h-1zM-44 6h1v1h-1zM-38 6h2v1h-2zM-24 6h2v1h-2zM-42 7h1v1h-1zM-21 7h2v1h-2zM-41 8h1v1h-1zM-42 10h1v1h-1zM-37 10h1v1h-1zM-41 11h1v1h-1zM-28 11h1v1h-1zM-34 12h1v1h-1zM-37 13h1v1h-1zM-34 13h1v1h-1zM-37 14h1v1h-1zM-33 17h1v1h-1zM-33 19h1v1h-1zM-28 20h1v1h-1zM10 24h1v1h-1zM-7 27h1v1h-1zM-8 29h1v1h-1zM-15 33h1v1h-1zM-13 34h1v1h-1zM-10 36h1v1h-1zM4 36h1v1h-1zM-12 38h1v1h-1z"/>
<path fill="#ececcf" d="M-15 -32h1v1h-1zM-4 -27h1v1h-1zM-21 -26h1v1h-1zM3 -26h1v1h-1zM-22 -25h1v1h-1zM-17 -22h1v1h-1zM-30 -21h1v1h-1zM-25 -21h1v1h-1zM-18 -20h1v1h-1zM-32 -19h1v1h-1zM-17 -19h1v1h-1zM8 -19h1v1h-1zM19 -19h1v1h-1zM-35 -17h1v1h-1zM-30 -17h1v1h-1zM16 -17h1v1h-1zM-36 -16h3v1h-3zM-28 -16h1v1h-1zM-35 -14h1v1h-1zM-33 -14h2v1h-2zM-18 -14h1v1h-1zM-20 -13h1v1h-1zM-16 -13h1v1h-1zM12 -13h1v1h-1zM-38 -12h1v1h-1zM-25 -12h1v1h-1zM-15 -12h1v1h-1zM-8 -12h1v1h-1zM-38 -10h1v1h-1zM-36 -10h2v1h-2zM-36 -9h1v1h-1zM-28 -9h1v1h-1zM-21 -9h1v1h-1zM-18 -9h1v1h-1zM-15 -9h1v1h-1zM-29 -8h1v1h-1zM-10 -8h1v1h-1zM-45 -7h1v1h-1zM-26 -7h1v1h-1zM-20 -7h2v1h-2zM-39 -6h1v1h-1zM-28 -6h1v1h-1zM-26 -6h1v1h-1zM-21 -6h1v1h-1zM-40 -5h1v1h-1zM-38 -5h1v1h-1zM-25 -3h2v1h-2zM-48 -2h1v1h-1zM-38 -2h1v1h-1zM-1 -2h1v1h-1zM-38 -1h1v1h-1zM-25 0h1v1h-1zM-10 0h1v1h-1zM-40 1h1v1h-1zM-40 2h1v1h-1zM-23 2h1v1h-1zM-28 4h1v1h-1zM-16 5h1v1h-1zM-9 5h1v1h-1zM-34 6h2v1h-2zM-37 7h1v1h-1zM-31 7h1v1h-1zM-43 8h1v1h-1zM-17 9h2v1h-2zM-26 10h1v1h-1zM-21 10h1v1h-1zM-27 11h1v1h-1zM-27 12h4v1h-4zM-5 12h1v1h-1zM-29 13h1v1h-1zM-27 13h1v1h-1zM-39 15h1v1h-1zM-13 15h1v1h-1zM-38 16h1v1h-1zM-24 17h1v1h-1zM-18 17h1v1h-1zM-26 18h1v1h-1zM-14 19h1v1h-1zM-10 19h1v1h-1zM-22 20h1v1h-1zM-20 21h1v1h-1zM-31 22h2v1h-2zM-24 23h1v1h-1zM-25 24h1v1h-1zM-18 24h1v1h-1zM-22 25h1v1h-1zM-20 25h1v1h-1zM-14 27h1v1h-1zM-25 28h1v1h-1zM-20 28h1v1h-1zM-16 28h1v1h-1zM-21 33h1v1h-1z"/>
<path fill="#b5a680" d="M7 -17h1v1h-1zM14 -16h1v1h-1zM14 -15h1v1h-1zM19 -15h2v1h-2zM-4 -14h1v1h-1zM-8 -13h1v1h-1zM0 -13h1v1h-1zM3 -13h1v1h-1zM10 -11h1v1h-1zM18 -11h1v1h-1zM27 -8h1v1h-1zM32 -8h1v1h-1zM43 -8h1v1h-1zM25 -7h1v1h-1zM28 -6h1v1h-1zM39 -5h1v1h-1zM22 -4h1v1h-1zM37 -4h1v1h-1zM27 -3h1v1h-1zM29 -3h1v1h-1zM50 -3h1v1h-1zM32 -2h1v1h-1zM40 -2h1v1h-1zM26 0h1v1h-1zM40 0h1v1h-1zM39 1h1v1h-1zM-9 4h1v1h-1zM25 4h1v1h-1zM27 4h1v1h-1zM41 4h1v1h-1zM46 4h1v1h-1zM26 5h2v1h-2zM26 6h1v1h-1zM39 6h1v1h-1zM36 8h1v1h-1zM30 9h1v1h-1zM33 9h1v1h-1zM-19 10h1v1h-1zM21 10h1v1h-1zM29 10h1v1h-1zM31 10h1v1h-1zM34 11h1v1h-1zM39 11h1v1h-1zM36 13h1v1h-1zM15 14h1v1h-1zM25 14h1v1h-1zM28 14h1v1h-1zM8 15h1v1h-1zM23 15h1v1h-1zM27 15h2v1h-2zM15 16h1v1h-1zM23 16h2v1h-2zM8 17h1v1h-1zM12 17h1v1h-1zM25 17h1v1h-1zM31 17h1v1h-1zM13 18h1v1h-1zM23 18h1v1h-1zM25 18h2v1h-2zM31 18h2v1h-2zM23 19h1v1h-1zM26 19h1v1h-1zM30 19h1v1h-1zM25 20h1v1h-1zM27 20h1v1h-1zM29 20h1v1h-1zM26 21h1v1h-1zM28 21h1v1h-1zM28 22h1v1h-1zM1 23h1v1h-1zM-5 24h1v1h-1zM2 25h1v1h-1zM4 25h1v1h-1zM-12 26h1v1h-1zM3 26h1v1h-1zM-3 36h1v1h-1zM-1 37h1v1h-1z"/>
<path fill="#bbbc9e" d="M1 -51h1v1h-1zM5 -49h1v1h-1zM5 -48h1v1h-1zM2 -45h2v1h-2zM6 -45h1v1h-1zM2 -43h1v1h-1zM-9 -21h1v1h-1zM17 -19h1v1h-1zM6 -18h1v1h-1zM-7 -17h1v1h-1zM8 -17h1v1h-1zM-2 -16h1v1h-1zM20 -14h1v1h-1zM-8 -11h1v1h-1zM25 -11h1v1h-1zM-16 -10h1v1h-1zM28 -10h1v1h-1zM40 -10h1v1h-1zM21 -9h1v1h-1zM28 -9h1v1h-1zM30 -8h1v1h-1zM39 -8h1v1h-1zM46 -8h1v1h-1zM46 -3h1v1h-1zM48 -3h1v1h-1zM-12 -2h1v1h-1zM32 -1h1v1h-1zM38 -1h1v1h-1zM33 0h1v1h-1zM38 0h1v1h-1zM47 1h1v1h-1zM36 2h1v1h-1zM32 3h1v1h-1zM44 4h1v1h-1zM26 7h1v1h-1zM29 7h1v1h-1zM23 11h1v1h-1zM-1 12h1v1h-1zM23 12h2v1h-2zM-25 14h1v1h-1zM17 15h1v1h-1zM10 16h1v1h-1zM10 19h1v1h-1zM10 20h1v1h-1zM5 23h1v1h-1zM1 24h1v1h-1zM-5 25h1v1h-1zM-1 27h1v1h-1zM1 27h1v1h-1zM-14 30h1v1h-1zM0 34h1v1h-1zM1 36h1v1h-1zM-9 38h1v1h-1zM-2 38h1v1h-1zM-8 39h1v1h-1zM-10 40h1v1h-1zM-7 40h1v1h-1zM-9 41h1v1h-1zM-7 41h1v1h-1zM-3 41h1v1h-1zM-1 41h1v1h-1zM-10 42h1v1h-1zM-9 43h1v1h-1zM0 43h1v1h-1zM-9 44h1v1h-1zM-5 44h1v1h-1zM-4 45h1v1h-1zM2 45h1v1h-1zM-7 46h1v1h-1z"/>
<path fill="#b6b894" d="M-6 -46h1v1h-1zM-3 -41h1v1h-1zM1 -24h1v1h-1zM12 -22h1v1h-1zM-4 -18h1v1h-1zM16 -18h1v1h-1zM8 -16h1v1h-1zM16 -16h1v1h-1zM20 -16h1v1h-1zM10 -14h1v1h-1zM30 -13h1v1h-1zM29 -12h1v1h-1zM29 -9h1v1h-1zM34 -9h1v1h-1zM32 -7h2v1h-2zM35 -7h1v1h-1zM35 -5h1v1h-1zM45 -2h1v1h-1zM35 -1h1v1h-1zM40 -1h1v1h-1zM31 0h2v1h-2zM37 0h1v1h-1zM47 2h2v1h-2zM36 3h1v1h-1zM-11 4h1v1h-1zM26 4h1v1h-1zM28 4h1v1h-1zM45 4h1v1h-1zM39 5h1v1h-1zM27 6h1v1h-1zM30 6h1v1h-1zM33 6h1v1h-1zM28 7h1v1h-1zM40 7h1v1h-1zM26 8h1v1h-1zM28 10h1v1h-1zM26 11h1v1h-1zM29 12h1v1h-1zM36 12h1v1h-1zM25 13h1v1h-1zM19 16h1v1h-1zM19 17h1v1h-1zM21 17h1v1h-1zM29 17h1v1h-1zM17 18h1v1h-1zM30 18h1v1h-1zM8 19h1v1h-1zM-10 20h1v1h-1zM24 20h1v1h-1zM8 21h1v1h-1zM21 21h1v1h-1zM5 22h1v1h-1zM10 22h1v1h-1zM23 22h1v1h-1zM25 22h1v1h-1zM6 23h1v1h-1zM-23 24h1v1h-1zM6 24h1v1h-1zM-6 25h1v1h-1zM-1 29h1v1h-1zM-6 32h1v1h-1zM-5 33h1v1h-1zM-4 38h1v1h-1zM-9 39h1v1h-1zM-9 40h1v1h-1zM-1 42h1v1h-1zM-6 43h1v1h-1zM-8 45h1v1h-1z"/>
<path fill="#c0d29f" d="M-3 -46h1v1h-1zM5 -45h1v1h-1zM8 -45h1v1h-1zM10 -44h1v1h-1zM-2 -41h1v1h-1zM-11 -39h1v1h-1zM-9 -39h1v1h-1zM12 -39h1v1h-1zM-14 -38h1v1h-1zM-3 -38h1v1h-1zM12 -38h1v1h-1zM-15 -36h1v1h-1zM-16 -35h1v1h-1zM-13 -34h1v1h-1zM3 -34h1v1h-1zM12 -32h1v1h-1zM18 -32h1v1h-1zM-21 -31h1v1h-1zM-18 -31h1v1h-1zM19 -31h1v1h-1zM-18 -30h2v1h-2zM-15 -30h1v1h-1zM2 -30h1v1h-1zM-19 -29h1v1h-1zM-1 -29h1v1h-1zM25 -29h1v1h-1zM-1 -28h1v1h-1zM3 -28h2v1h-2zM0 -26h1v1h-1zM8 -26h1v1h-1zM10 -25h1v1h-1zM16 -25h1v1h-1zM18 -25h1v1h-1zM-28 -24h1v1h-1zM-4 -24h1v1h-1zM21 -24h1v1h-1zM23 -24h1v1h-1zM-23 -23h1v1h-1zM-3 -23h1v1h-1zM-13 -22h1v1h-1zM-2 -22h1v1h-1zM3 -22h1v1h-1zM10 -22h1v1h-1zM19 -22h1v1h-1zM22 -22h1v1h-1zM-20 -21h1v1h-1zM-8 -21h1v1h-1zM-14 -20h1v1h-1zM26 -20h1v1h-1zM29 -20h1v1h-1zM31 -20h1v1h-1zM30 -19h1v1h-1zM-21 -18h1v1h-1zM-12 -18h1v1h-1zM11 -18h1v1h-1zM24 -18h1v1h-1zM-8 -17h1v1h-1zM30 -17h1v1h-1zM-26 -15h1v1h-1zM31 -14h1v1h-1zM-13 -13h1v1h-1zM-33 -12h1v1h-1zM-17 -6h1v1h-1zM-28 -5h1v1h-1zM-18 -5h1v1h-1zM-39 -3h1v1h-1zM-35 -1h1v1h-1zM29 0h1v1h-1zM-46 1h1v1h-1zM-27 1h1v1h-1zM-27 3h1v1h-1zM-40 4h1v1h-1zM-31 5h1v1h-1zM-21 5h1v1h-1zM-36 6h1v1h-1zM41 7h1v1h-1zM-27 8h1v1h-1zM-24 9h1v1h-1zM-24 13h1v1h-1zM-22 13h1v1h-1zM-30 16h1v1h-1zM-21 17h1v1h-1zM-29 19h1v1h-1zM-32 20h1v1h-1zM-29 21h1v1h-1zM12 21h1v1h-1zM-31 23h1v1h-1zM-29 23h1v1h-1zM11 23h1v1h-1zM14 23h1v1h-1zM-28 24h1v1h-1zM9 26h1v1h-1zM-24 28h1v1h-1zM4 28h1v1h-1zM8 28h1v1h-1zM-23 29h1v1h-1zM-6 29h1v1h-1zM-3 29h1v1h-1zM-23 30h1v1h-1zM4 31h1v1h-1zM-14 33h1v1h-1zM-10 33h1v1h-1zM-6 35h1v1h-1zM5 35h1v1h-1zM-9 36h1v1h-1zM7 36h1v1h-1zM1 37h1v1h-1zM-11 40h1v1h-1z"/>
<path fill="#c5ae8d" d="M-5 -18h1v1h-1zM3 -18h1v1h-1zM-1 -17h1v1h-1zM3 -17h2v1h-2zM3 -16h1v1h-1zM7 -16h1v1h-1zM4 -15h1v1h-1zM13 -15h1v1h-1zM11 -14h1v1h-1zM13 -14h2v1h-2zM19 -14h1v1h-1zM7 -13h1v1h-1zM11 -13h1v1h-1zM4 -12h1v1h-1zM9 -12h1v1h-1zM11 -12h1v1h-1zM18 -12h1v1h-1zM4 -11h1v1h-1zM11 -11h1v1h-1zM19 -11h1v1h-1zM2 -10h1v1h-1zM6 -9h1v1h-1zM10 -9h1v1h-1zM29 -8h1v1h-1zM-13 -7h1v1h-1zM38 -7h1v1h-1zM-14 -6h1v1h-1zM-10 -6h1v1h-1zM-5 -6h1v1h-1zM24 -6h1v1h-1zM44 -6h1v1h-1zM-8 -5h1v1h-1zM-5 -5h1v1h-1zM20 -5h1v1h-1zM24 -5h1v1h-1zM26 -5h1v1h-1zM-7 -4h1v1h-1zM19 -4h1v1h-1zM33 -4h1v1h-1zM38 -4h1v1h-1zM-11 -3h1v1h-1zM-4 -3h1v1h-1zM24 -3h1v1h-1zM-15 -2h1v1h-1zM20 -2h1v1h-1zM29 -2h1v1h-1zM37 -2h1v1h-1zM39 -2h1v1h-1zM26 -1h1v1h-1zM39 -1h1v1h-1zM21 0h1v1h-1zM-15 2h1v1h-1zM26 2h1v1h-1zM-7 3h1v1h-1zM24 3h1v1h-1zM26 3h1v1h-1zM0 4h1v1h-1zM4 5h1v1h-1zM25 6h1v1h-1zM23 8h1v1h-1zM-19 9h1v1h-1zM-1 9h1v1h-1zM20 9h1v1h-1zM18 10h2v1h-2zM-15 11h1v1h-1zM-2 11h1v1h-1zM21 11h1v1h-1zM-3 12h1v1h-1zM8 12h1v1h-1zM26 12h1v1h-1zM10 13h1v1h-1zM20 13h2v1h-2zM28 13h1v1h-1zM26 14h1v1h-1zM-10 15h1v1h-1zM16 15h1v1h-1zM33 15h1v1h-1zM5 16h1v1h-1zM22 16h1v1h-1zM34 16h1v1h-1zM-16 17h2v1h-2zM10 17h2v1h-2zM30 17h1v1h-1zM-17 18h1v1h-1zM7 18h1v1h-1zM29 18h1v1h-1zM7 20h1v1h-1zM1 22h1v1h-1zM1 25h1v1h-1zM-10 26h1v1h-1zM-1 28h1v1h-1zM-1 34h1v1h-1zM-2 36h1v1h-1z"/>
<path fill="#bedaa6" d="M-7 -28h1v1h-1zM-19 -25h1v1h-1zM-27 -24h1v1h-1zM-22 -23h2v1h-2zM-15 -23h1v1h-1zM-27 -21h1v1h-1zM-29 -20h1v1h-1zM-29 -19h2v1h-2zM-23 -19h1v1h-1zM-33 -18h1v1h-1zM-25 -16h1v1h-1zM-39 -13h1v1h-1zM-28 -13h1v1h-1zM-26 -13h1v1h-1zM-36 -12h1v1h-1zM-30 -12h2v1h-2zM-26 -12h1v1h-1zM-33 -11h1v1h-1zM-40 -10h1v1h-1zM-34 -10h3v1h-3zM-24 -10h1v1h-1zM-21 -10h1v1h-1zM-27 -9h1v1h-1zM-24 -9h1v1h-1zM-25 -8h1v1h-1zM-44 -6h2v1h-2zM-34 -6h1v1h-1zM-45 -5h1v1h-1zM-35 -5h1v1h-1zM-30 -5h1v1h-1zM-49 -3h1v1h-1zM-40 -3h1v1h-1zM-36 -3h1v1h-1zM-46 -2h1v1h-1zM-44 -2h1v1h-1zM-41 -2h1v1h-1zM-31 -2h1v1h-1zM-29 -2h1v1h-1zM-41 -1h1v1h-1zM-29 -1h1v1h-1zM-28 1h1v1h-1zM-39 2h1v1h-1zM-36 2h1v1h-1zM-27 2h1v1h-1zM-25 2h1v1h-1zM-50 3h2v1h-2zM-35 3h1v1h-1zM-29 4h1v1h-1zM-25 4h1v1h-1zM-22 4h1v1h-1zM-47 5h1v1h-1zM-40 5h1v1h-1zM-42 6h1v1h-1zM-27 6h1v1h-1zM-22 6h1v1h-1zM-35 8h1v1h-1zM-37 9h2v1h-2zM-35 10h1v1h-1zM-37 11h1v1h-1zM-31 12h1v1h-1zM-28 12h1v1h-1zM-31 13h1v1h-1zM-35 14h1v1h-1zM-33 15h1v1h-1zM-20 15h1v1h-1zM-33 16h1v1h-1zM-32 17h1v1h-1zM-23 20h1v1h-1zM-26 21h1v1h-1zM-17 30h1v1h-1zM6 31h1v1h-1zM-19 34h1v1h-1zM-17 36h2v1h-2zM-14 38h2v1h-2z"/>
<path fill="#ddd5b0" d="M16 -24h1v1h-1zM7 -22h1v1h-1zM-17 -21h1v1h-1zM1 -20h2v1h-2zM1 -17h1v1h-1zM-8 -16h1v1h-1zM-1 -16h1v1h-1zM-2 -15h1v1h-1zM-7 -13h3v1h-3zM2 -13h1v1h-1zM19 -12h1v1h-1zM-5 -11h1v1h-1zM0 -11h1v1h-1zM-5 -10h1v1h-1zM-3 -10h1v1h-1zM-6 -9h1v1h-1zM-14 -8h1v1h-1zM2 -8h1v1h-1zM15 -8h1v1h-1zM-6 -7h1v1h-1zM44 -5h1v1h-1zM-22 -4h1v1h-1zM-1 -3h1v1h-1zM-11 -2h1v1h-1zM-11 -1h1v1h-1zM-15 0h1v1h-1zM-11 0h1v1h-1zM-16 1h1v1h-1zM-11 1h1v1h-1zM-11 2h1v1h-1zM-13 3h1v1h-1zM-10 3h1v1h-1zM-8 4h1v1h-1zM35 5h1v1h-1zM-17 7h1v1h-1zM32 7h1v1h-1zM-14 10h1v1h-1zM-6 12h1v1h-1zM-2 12h1v1h-1zM9 12h1v1h-1zM-15 13h1v1h-1zM-18 14h1v1h-1zM-17 15h1v1h-1zM-11 15h1v1h-1zM-18 19h1v1h-1zM6 19h1v1h-1zM-17 21h1v1h-1zM10 21h1v1h-1zM-9 22h1v1h-1zM-17 23h1v1h-1zM-15 23h1v1h-1zM-17 24h1v1h-1zM-13 24h1v1h-1zM23 24h1v1h-1zM-15 25h1v1h-1zM-11 25h2v1h-2zM-13 30h1v1h-1zM-2 34h1v1h-1zM-1 38h1v1h-1zM1 43h1v1h-1zM1 44h1v1h-1z"/>
<path fill="#a3c490" d="M-4 -46h1v1h-1zM3 -42h1v1h-1zM-20 -32h1v1h-1zM-10 -30h1v1h-1zM-15 -29h1v1h-1zM-17 -28h1v1h-1zM-15 -28h1v1h-1zM-10 -26h1v1h-1zM-14 -25h1v1h-1zM-28 -21h1v1h-1zM-21 -21h1v1h-1zM-22 -20h1v1h-1zM-15 -19h1v1h-1zM-9 -19h1v1h-1zM-37 -14h1v1h-1zM-25 -13h1v1h-1zM-37 -12h1v1h-1zM-24 -8h1v1h-1zM-19 -6h1v1h-1zM-44 -4h1v1h-1zM-42 -4h1v1h-1zM-44 -3h2v1h-2zM-43 -2h2v1h-2zM-30 -2h1v1h-1zM-45 -1h1v1h-1zM-32 -1h1v1h-1zM-28 -1h1v1h-1zM-45 0h1v1h-1zM-31 0h2v1h-2zM-34 1h1v1h-1zM-45 5h1v1h-1zM-30 5h1v1h-1zM-48 6h1v1h-1zM-41 7h1v1h-1zM-41 9h1v1h-1zM-43 10h1v1h-1zM-35 11h1v1h-1zM-41 12h1v1h-1zM-36 12h1v1h-1zM-31 18h1v1h-1zM-27 22h1v1h-1zM-23 26h1v1h-1zM-11 33h1v1h-1zM-15 34h1v1h-1zM-18 35h1v1h-1zM-13 37h1v1h-1zM-11 37h1v1h-1zM-9 37h1v1h-1z"/>
<path fill="#aac489" d="M-4 -47h1v1h-1zM-6 -45h1v1h-1zM-5 -44h1v1h-1zM-11 -41h1v1h-1zM-4 -41h1v1h-1zM-4 -40h1v1h-1zM7 -40h1v1h-1zM-12 -39h1v1h-1zM9 -39h2v1h-2zM2 -38h1v1h-1zM8 -38h1v1h-1zM-1 -37h1v1h-1zM-13 -36h1v1h-1zM3 -36h1v1h-1zM11 -36h1v1h-1zM-15 -35h1v1h-1zM-11 -35h1v1h-1zM-9 -35h1v1h-1zM11 -35h1v1h-1zM19 -35h1v1h-1zM9 -34h1v1h-1zM11 -34h1v1h-1zM18 -34h1v1h-1zM-9 -33h1v1h-1zM14 -33h1v1h-1zM18 -33h1v1h-1zM-6 -32h1v1h-1zM-3 -32h1v1h-1zM-1 -32h1v1h-1zM5 -32h1v1h-1zM-12 -31h1v1h-1zM-5 -31h1v1h-1zM9 -31h1v1h-1zM11 -31h1v1h-1zM13 -31h1v1h-1zM-8 -30h1v1h-1zM4 -30h1v1h-1zM13 -30h1v1h-1zM21 -30h1v1h-1zM-6 -29h1v1h-1zM0 -29h1v1h-1zM8 -29h1v1h-1zM22 -29h1v1h-1zM16 -28h1v1h-1zM-9 -27h1v1h-1zM25 -27h1v1h-1zM27 -27h1v1h-1zM-13 -26h2v1h-2zM7 -26h1v1h-1zM10 -26h1v1h-1zM22 -26h1v1h-1zM26 -26h1v1h-1zM-12 -24h1v1h-1zM24 -24h1v1h-1zM17 -23h1v1h-1zM21 -23h1v1h-1zM30 -23h1v1h-1zM9 -22h1v1h-1zM16 -22h1v1h-1zM27 -22h1v1h-1zM29 -22h1v1h-1zM27 -21h1v1h-1zM24 -20h1v1h-1zM27 -20h1v1h-1zM10 -17h1v1h-1zM24 -17h1v1h-1zM-10 -16h1v1h-1zM22 -16h1v1h-1zM27 -16h1v1h-1zM25 -15h1v1h-1zM33 -15h1v1h-1zM33 -14h1v1h-1zM42 -6h1v1h-1zM35 14h1v1h-1zM19 20h1v1h-1zM9 24h1v1h-1zM24 24h1v1h-1zM22 26h1v1h-1zM19 31h1v1h-1zM8 32h1v1h-1zM10 32h1v1h-1zM15 32h2v1h-2zM7 33h2v1h-2zM13 35h1v1h-1zM14 36h1v1h-1zM6 38h1v1h-1zM4 39h1v1h-1zM6 39h1v1h-1zM11 39h1v1h-1zM7 41h1v1h-1zM4 43h1v1h-1zM-3 49h1v1h-1z"/>
<path fill="#9bb97e" d="M-3 -45h1v1h-1zM-6 -44h1v1h-1zM-9 -43h1v1h-1zM-1 -43h1v1h-1zM2 -42h1v1h-1zM12 -42h1v1h-1zM5 -41h1v1h-1zM13 -41h1v1h-1zM-11 -40h1v1h-1zM3 -40h1v1h-1zM5 -40h1v1h-1zM9 -40h1v1h-1zM2 -39h2v1h-2zM15 -39h1v1h-1zM-13 -38h1v1h-1zM10 -38h1v1h-1zM-15 -37h2v1h-2zM1 -37h2v1h-2zM10 -37h1v1h-1zM-8 -36h1v1h-1zM-4 -36h1v1h-1zM1 -36h1v1h-1zM6 -36h1v1h-1zM9 -36h1v1h-1zM18 -36h1v1h-1zM-5 -35h1v1h-1zM-3 -35h1v1h-1zM2 -35h1v1h-1zM6 -35h1v1h-1zM10 -35h1v1h-1zM15 -35h3v1h-3zM-9 -34h1v1h-1zM-7 -34h1v1h-1zM-2 -34h2v1h-2zM-12 -33h1v1h-1zM-8 -33h1v1h-1zM0 -33h1v1h-1zM6 -33h1v1h-1zM8 -33h1v1h-1zM10 -33h1v1h-1zM16 -33h1v1h-1zM21 -33h1v1h-1zM-13 -32h1v1h-1zM-10 -32h2v1h-2zM-7 -32h1v1h-1zM-4 -32h1v1h-1zM4 -32h1v1h-1zM9 -32h2v1h-2zM14 -32h1v1h-1zM21 -32h1v1h-1zM1 -31h1v1h-1zM5 -31h2v1h-2zM14 -31h1v1h-1zM-7 -30h1v1h-1zM6 -30h1v1h-1zM9 -30h1v1h-1zM14 -30h3v1h-3zM19 -30h1v1h-1zM22 -30h1v1h-1zM-12 -29h1v1h-1zM-8 -29h1v1h-1zM12 -29h1v1h-1zM18 -29h1v1h-1zM-6 -28h1v1h-1zM11 -28h1v1h-1zM13 -28h2v1h-2zM-11 -27h1v1h-1zM14 -27h2v1h-2zM23 -27h1v1h-1zM-11 -26h1v1h-1zM9 -26h1v1h-1zM13 -26h1v1h-1zM15 -26h1v1h-1zM25 -26h1v1h-1zM11 -25h2v1h-2zM25 -25h1v1h-1zM15 -24h1v1h-1zM-12 -23h2v1h-2zM31 -23h1v1h-1zM9 -21h3v1h-3zM13 -21h1v1h-1zM29 -21h1v1h-1zM14 -20h1v1h-1zM-21 -19h1v1h-1zM10 -19h1v1h-1zM23 -19h1v1h-1zM23 -18h1v1h-1zM26 -15h1v1h-1zM32 -15h1v1h-1zM35 -14h1v1h-1zM-28 -12h1v1h-1zM36 -11h1v1h-1zM42 -9h1v1h-1zM-23 -8h1v1h-1zM48 -6h1v1h-1zM-45 -3h1v1h-1zM-45 -2h1v1h-1zM49 -1h1v1h-1zM-33 0h1v1h-1zM-38 4h1v1h-1zM-22 7h1v1h-1zM-35 12h1v1h-1zM19 22h1v1h-1zM15 23h1v1h-1zM20 24h1v1h-1zM11 25h1v1h-1zM13 25h1v1h-1zM15 25h1v1h-1zM22 27h2v1h-2zM11 28h1v1h-1zM12 29h1v1h-1zM19 29h1v1h-1zM21 29h1v1h-1zM10 30h1v1h-1zM15 30h1v1h-1zM19 30h1v1h-1zM7 31h1v1h-1zM13 31h1v1h-1zM11 32h1v1h-1zM13 32h1v1h-1zM13 33h1v1h-1zM-17 34h1v1h-1zM7 34h1v1h-1zM9 34h2v1h-2zM8 35h2v1h-2zM-12 36h1v1h-1zM9 36h1v1h-1zM13 36h1v1h-1zM4 37h1v1h-1zM-11 38h1v1h-1zM3 38h3v1h-3zM7 38h2v1h-2zM9 40h2v1h-2zM8 42h1v1h-1zM6 43h1v1h-1zM-3 45h1v1h-1zM-3 47h1v1h-1zM0 47h1v1h-1zM2 47h1v1h-1zM-4 48h1v1h-1z"/>
<path fill="#dedec2" d="M-3 -49h1v1h-1zM15 -38h1v1h-1zM2 -32h1v1h-1zM-23 -29h1v1h-1zM-21 -28h1v1h-1zM-23 -27h1v1h-1zM-5 -26h1v1h-1zM-26 -25h1v1h-1zM-25 -24h1v1h-1zM0 -24h1v1h-1zM-28 -23h1v1h-1zM-19 -23h1v1h-1zM-17 -23h1v1h-1zM12 -23h1v1h-1zM-19 -22h1v1h-1zM8 -22h1v1h-1zM-1 -21h1v1h-1zM-24 -20h1v1h-1zM-17 -20h1v1h-1zM-11 -20h1v1h-1zM3 -19h2v1h-2zM-26 -18h1v1h-1zM-15 -18h1v1h-1zM2 -18h1v1h-1zM33 -18h1v1h-1zM-24 -17h2v1h-2zM-17 -17h1v1h-1zM-12 -17h1v1h-1zM-33 -16h2v1h-2zM-26 -16h1v1h-1zM-17 -16h1v1h-1zM-12 -16h1v1h-1zM-33 -15h1v1h-1zM-24 -15h1v1h-1zM-19 -15h3v1h-3zM21 -15h1v1h-1zM23 -15h1v1h-1zM-24 -14h1v1h-1zM-21 -14h2v1h-2zM-10 -14h1v1h-1zM28 -14h1v1h-1zM-21 -13h1v1h-1zM-14 -13h1v1h-1zM19 -13h2v1h-2zM32 -13h1v1h-1zM-24 -12h1v1h-1zM-17 -12h1v1h-1zM-40 -11h1v1h-1zM-26 -11h1v1h-1zM-17 -11h2v1h-2zM-23 -10h1v1h-1zM-14 -10h1v1h-1zM-39 -9h1v1h-1zM-37 -9h1v1h-1zM-7 -9h1v1h-1zM-30 -8h1v1h-1zM-19 -8h1v1h-1zM-5 -8h1v1h-1zM19 -8h1v1h-1zM-27 -6h1v1h-1zM-25 -6h3v1h-3zM-37 -5h1v1h-1zM-27 -5h1v1h-1zM-24 -5h2v1h-2zM-11 -5h1v1h-1zM-28 -4h1v1h-1zM20 -4h1v1h-1zM-23 -3h1v1h-1zM-27 -2h1v1h-1zM-9 -2h1v1h-1zM-3 -2h1v1h-1zM-5 -1h1v1h-1zM-24 0h1v1h-1zM-49 1h1v1h-1zM-29 1h1v1h-1zM-24 1h3v1h-3zM-44 2h1v1h-1zM-41 2h1v1h-1zM-31 2h1v1h-1zM-33 3h1v1h-1zM-21 3h1v1h-1zM-19 5h1v1h-1zM-14 5h1v1h-1zM-8 5h1v1h-1zM-31 6h1v1h-1zM-28 7h1v1h-1zM-36 8h1v1h-1zM-31 8h1v1h-1zM-14 8h1v1h-1zM-33 9h1v1h-1zM-20 9h1v1h-1zM-33 10h1v1h-1zM-31 10h1v1h-1zM-27 10h1v1h-1zM-43 11h1v1h-1zM-22 11h1v1h-1zM-20 11h1v1h-1zM-18 11h1v1h-1zM-20 12h1v1h-1zM-25 13h1v1h-1zM-29 14h1v1h-1zM-27 14h2v1h-2zM-24 14h1v1h-1zM-17 14h1v1h-1zM-28 16h1v1h-1zM-13 16h1v1h-1zM-11 16h1v1h-1zM-35 17h1v1h-1zM-28 17h1v1h-1zM-34 18h1v1h-1zM-29 18h1v1h-1zM-20 18h1v1h-1zM-10 18h1v1h-1zM-30 19h1v1h-1zM-22 19h1v1h-1zM-20 19h1v1h-1zM-15 19h1v1h-1zM-14 20h1v1h-1zM2 22h1v1h-1zM-26 24h1v1h-1zM-19 25h1v1h-1zM-2 25h2v1h-2zM-19 26h1v1h-1zM-14 26h1v1h-1zM7 26h1v1h-1zM-21 27h2v1h-2zM4 27h1v1h-1zM-14 28h2v1h-2zM-11 28h1v1h-1zM-22 29h1v1h-1zM-19 30h1v1h-1zM-13 31h1v1h-1zM-8 31h2v1h-2zM-18 32h1v1h-1zM-8 32h1v1h-1zM-4 40h1v1h-1zM-1 40h1v1h-1zM-7 44h1v1h-1z"/>
<path fill="#649850" d="M12 26h1v1h-1zM15 26h1v1h-1zM18 26h1v1h-1zM13 27h1v1h-1zM16 27h1v1h-1zM16 28h1v1h-1zM19 28h1v1h-1zM9 29h3v1h-3zM14 29h1v1h-1zM14 30h1v1h-1zM17 31h1v1h-1zM7 32h1v1h-1zM9 32h1v1h-1zM11 33h1v1h-1zM17 33h1v1h-1zM6 34h1v1h-1zM12 34h1v1h-1zM15 34h1v1h-1zM3 35h1v1h-1zM7 35h1v1h-1zM8 36h1v1h-1zM12 36h1v1h-1zM9 37h1v1h-1zM12 38h1v1h-1zM0 39h1v1h-1zM2 39h1v1h-1zM9 39h1v1h-1zM3 40h1v1h-1zM7 40h2v1h-2zM2 41h1v1h-1zM-3 42h1v1h-1zM6 42h1v1h-1zM-5 43h1v1h-1zM-1 43h1v1h-1zM2 43h2v1h-2zM-4 44h1v1h-1zM-1 44h1v1h-1zM3 44h1v1h-1zM-5 45h1v1h-1zM-1 45h1v1h-1zM5 45h1v1h-1zM-6 46h1v1h-1zM-2 46h1v1h-1zM0 46h1v1h-1zM2 46h1v1h-1zM3 47h1v1h-1zM-2 50h1v1h-1z"/>
<path fill="#c67068" d="M43 -7h1v1h-1zM46 -7h1v1h-1zM8 -6h1v1h-1zM10 -6h1v1h-1zM3 -5h1v1h-1zM5 -5h1v1h-1zM7 -5h2v1h-2zM10 -5h2v1h-2zM4 -4h1v1h-1zM6 -4h2v1h-2zM10 -4h1v1h-1zM45 -4h1v1h-1zM3 -3h1v1h-1zM38 -3h1v1h-1zM41 -3h1v1h-1zM13 -2h1v1h-1zM47 -2h1v1h-1zM2 -1h1v1h-1zM6 -1h1v1h-1zM12 -1h1v1h-1zM14 -1h1v1h-1zM16 -1h3v1h-3zM44 -1h1v1h-1zM5 0h1v1h-1zM9 0h1v1h-1zM12 0h2v1h-2zM39 0h1v1h-1zM8 1h1v1h-1zM12 1h1v1h-1zM16 1h2v1h-2zM40 1h1v1h-1zM7 2h2v1h-2zM15 2h1v1h-1zM17 2h2v1h-2zM46 2h1v1h-1zM8 3h1v1h-1zM11 3h1v1h-1zM14 3h1v1h-1zM16 3h1v1h-1zM41 3h1v1h-1zM43 3h1v1h-1zM45 3h1v1h-1zM-3 4h1v1h-1zM9 4h2v1h-2zM15 4h2v1h-2zM36 4h1v1h-1zM9 5h2v1h-2zM12 5h1v1h-1zM15 5h1v1h-1zM19 5h1v1h-1zM45 5h1v1h-1zM-3 6h1v1h-1zM8 6h1v1h-1zM10 6h2v1h-2zM13 6h4v1h-4zM19 6h1v1h-1zM31 6h1v1h-1zM35 6h1v1h-1zM-5 7h1v1h-1zM0 7h1v1h-1zM4 7h3v1h-3zM12 7h3v1h-3zM20 7h1v1h-1zM33 7h1v1h-1zM-3 8h1v1h-1zM5 8h1v1h-1zM14 8h1v1h-1zM34 8h1v1h-1zM11 9h1v1h-1zM37 9h1v1h-1zM34 10h1v1h-1zM36 10h1v1h-1zM5 11h1v1h-1zM25 11h1v1h-1zM37 11h1v1h-1zM2 12h1v1h-1zM4 12h1v1h-1zM14 12h1v1h-1zM16 12h1v1h-1zM3 13h1v1h-1zM12 13h1v1h-1zM22 13h1v1h-1zM-8 15h1v1h-1zM-3 15h1v1h-1zM22 15h1v1h-1zM24 15h1v1h-1zM-5 16h2v1h-2zM2 16h1v1h-1zM26 16h2v1h-2zM31 16h1v1h-1zM3 17h1v1h-1zM26 17h1v1h-1zM-4 18h1v1h-1zM-2 18h1v1h-1zM2 18h1v1h-1zM18 18h1v1h-1zM1 19h2v1h-2zM1 20h1v1h-1zM18 21h1v1h-1zM29 21h1v1h-1zM17 22h1v1h-1zM26 23h1v1h-1zM17 26h1v1h-1z"/>
<path fill="#c4947a" d="M-5 -17h1v1h-1zM5 -17h1v1h-1zM-6 -16h1v1h-1zM-6 -15h2v1h-2zM15 -14h1v1h-1zM8 -13h2v1h-2zM-1 -12h1v1h-1zM3 -12h1v1h-1zM-3 -11h1v1h-1zM3 -11h1v1h-1zM6 -11h1v1h-1zM13 -11h2v1h-2zM14 -10h1v1h-1zM16 -10h1v1h-1zM14 -9h1v1h-1zM16 -9h1v1h-1zM19 -9h1v1h-1zM7 -8h1v1h-1zM10 -8h1v1h-1zM14 -8h1v1h-1zM17 -8h1v1h-1zM33 -8h1v1h-1zM-2 -7h1v1h-1zM0 -7h1v1h-1zM5 -7h1v1h-1zM17 -6h1v1h-1zM22 -6h1v1h-1zM26 -6h1v1h-1zM36 -6h2v1h-2zM-3 -5h1v1h-1zM36 -5h1v1h-1zM48 -5h1v1h-1zM0 -4h1v1h-1zM2 -4h1v1h-1zM14 -4h1v1h-1zM-13 -3h1v1h-1zM14 -3h1v1h-1zM8 -2h1v1h-1zM16 -2h1v1h-1zM10 -1h1v1h-1zM19 0h1v1h-1zM-4 1h1v1h-1zM1 1h1v1h-1zM3 1h1v1h-1zM21 1h1v1h-1zM29 1h1v1h-1zM42 1h1v1h-1zM4 2h1v1h-1zM21 2h1v1h-1zM-2 3h1v1h-1zM2 4h1v1h-1zM-5 5h1v1h-1zM6 5h1v1h-1zM21 7h1v1h-1zM12 8h1v1h-1zM16 8h1v1h-1zM22 8h1v1h-1zM-10 9h1v1h-1zM6 9h1v1h-1zM21 9h1v1h-1zM11 10h1v1h-1zM26 10h1v1h-1zM1 11h1v1h-1zM8 11h1v1h-1zM10 11h1v1h-1zM13 11h1v1h-1zM3 12h1v1h-1zM6 12h1v1h-1zM11 12h1v1h-1zM-11 13h1v1h-1zM-4 13h1v1h-1zM4 13h1v1h-1zM6 13h1v1h-1zM15 13h1v1h-1zM0 14h1v1h-1zM12 14h1v1h-1zM14 14h1v1h-1zM22 14h1v1h-1zM27 14h1v1h-1zM0 15h1v1h-1zM7 15h1v1h-1zM11 15h1v1h-1zM19 15h1v1h-1zM32 15h1v1h-1zM-6 16h1v1h-1zM-1 16h1v1h-1zM8 16h1v1h-1zM21 16h1v1h-1zM30 16h1v1h-1zM6 17h1v1h-1zM28 17h1v1h-1zM-1 19h1v1h-1zM3 20h1v1h-1zM26 20h1v1h-1zM-10 21h1v1h-1zM-5 21h1v1h-1zM-2 21h1v1h-1zM-16 23h1v1h-1zM-5 23h1v1h-1z"/>
<path fill="#dbdcba" d="M-3 -48h1v1h-1zM12 -40h1v1h-1zM-11 -38h1v1h-1zM16 -38h1v1h-1zM-24 -28h1v1h-1zM7 -28h1v1h-1zM-1 -27h1v1h-1zM1 -27h1v1h-1zM6 -27h1v1h-1zM-20 -26h1v1h-1zM-3 -26h1v1h-1zM-1 -26h1v1h-1zM0 -25h1v1h-1zM5 -25h1v1h-1zM11 -23h1v1h-1zM2 -22h1v1h-1zM-4 -21h1v1h-1zM8 -21h1v1h-1zM18 -21h1v1h-1zM6 -20h1v1h-1zM8 -20h1v1h-1zM19 -20h1v1h-1zM-5 -19h1v1h-1zM1 -19h1v1h-1zM6 -19h1v1h-1zM18 -19h1v1h-1zM-7 -18h1v1h-1zM-4 -17h1v1h-1zM2 -17h1v1h-1zM19 -17h1v1h-1zM31 -17h1v1h-1zM0 -16h1v1h-1zM36 -16h1v1h-1zM-15 -15h1v1h-1zM-3 -15h1v1h-1zM9 -15h1v1h-1zM-12 -14h2v1h-2zM2 -14h1v1h-1zM-19 -13h1v1h-1zM-10 -13h2v1h-2zM-21 -12h1v1h-1zM20 -12h1v1h-1zM32 -12h1v1h-1zM-7 -11h1v1h-1zM22 -11h1v1h-1zM26 -10h1v1h-1zM-29 -9h1v1h-1zM-19 -9h1v1h-1zM-14 -9h1v1h-1zM-11 -9h1v1h-1zM25 -9h1v1h-1zM-11 -8h1v1h-1zM-8 -7h1v1h-1zM30 -7h1v1h-1zM-13 -6h1v1h-1zM-10 -5h1v1h-1zM-11 -4h1v1h-1zM21 -4h1v1h-1zM-32 -3h1v1h-1zM-17 -3h1v1h-1zM-2 -3h1v1h-1zM20 -3h1v1h-1zM-24 -2h1v1h-1zM-20 -1h1v1h-1zM-48 0h1v1h-1zM23 0h1v1h-1zM-19 3h1v1h-1zM-18 4h1v1h-1zM23 6h1v1h-1zM-27 7h1v1h-1zM-25 11h1v1h-1zM-23 11h1v1h-1zM-14 11h1v1h-1zM0 11h1v1h-1zM-21 12h1v1h-1zM-28 13h1v1h-1zM-18 13h2v1h-2zM-13 13h1v1h-1zM-14 14h1v1h-1zM-26 16h1v1h-1zM-18 16h2v1h-2zM-25 17h1v1h-1zM-13 17h1v1h-1zM-27 18h1v1h-1zM-18 18h1v1h-1zM-15 18h2v1h-2zM15 18h1v1h-1zM-23 19h1v1h-1zM-12 19h2v1h-2zM-26 20h2v1h-2zM5 20h1v1h-1zM-32 21h1v1h-1zM-25 21h2v1h-2zM-8 21h1v1h-1zM3 23h1v1h-1zM7 23h1v1h-1zM-4 24h1v1h-1zM-4 25h1v1h-1zM0 25h1v1h-1zM7 25h1v1h-1zM-16 26h1v1h-1zM2 26h1v1h-1zM4 26h1v1h-1zM-6 27h1v1h-1zM9 27h1v1h-1zM-10 28h1v1h-1zM9 28h1v1h-1zM-19 29h1v1h-1zM-12 29h1v1h-1zM7 29h1v1h-1zM-9 30h1v1h-1zM-6 30h1v1h-1zM7 30h1v1h-1zM-9 31h1v1h-1zM-3 33h1v1h-1zM-9 34h1v1h-1zM-4 39h1v1h-1zM-2 40h1v1h-1zM1 40h1v1h-1zM1 41h1v1h-1zM3 42h1v1h-1z"/>
<path fill="#f7f8dc" d="M-28 -22h2v1h-2zM-26 -21h1v1h-1zM-30 -20h1v1h-1zM-26 -20h1v1h-1zM-19 -20h1v1h-1zM-34 -18h1v1h-1zM-24 -16h1v1h-1zM-22 -16h1v1h-1zM-36 -15h1v1h-1zM-22 -15h1v1h-1zM-34 -14h1v1h-1zM-32 -13h1v1h-1zM-31 -12h1v1h-1zM-39 -11h1v1h-1zM-37 -11h1v1h-1zM-42 -10h1v1h-1zM-37 -10h1v1h-1zM-22 -10h1v1h-1zM-38 -9h1v1h-1zM-36 -8h2v1h-2zM-29 -7h2v1h-2zM-27 -4h1v1h-1zM-37 -3h1v1h-1zM-21 -3h1v1h-1zM-49 -1h1v1h-1zM-37 -1h1v1h-1zM-25 -1h1v1h-1zM-41 1h1v1h-1zM-43 2h1v1h-1zM-30 2h1v1h-1zM-42 3h1v1h-1zM-34 5h1v1h-1zM-43 7h1v1h-1zM-28 8h1v1h-1zM-39 11h1v1h-1zM-30 15h2v1h-2zM-36 17h1v1h-1zM-12 18h1v1h-1zM-32 19h1v1h-1zM-27 26h1v1h-1zM-18 26h1v1h-1zM-17 27h1v1h-1zM-18 31h1v1h-1zM-19 32h1v1h-1z"/>
<path fill="#eadcb7" d="M6 -21h1v1h-1zM-3 -14h1v1h-1zM-12 -7h2v1h-2zM-9 -3h1v1h-1zM-14 -1h1v1h-1zM-12 -1h1v1h-1zM-9 -1h1v1h-1zM-7 -1h1v1h-1zM-1 -1h2v1h-2zM-8 0h1v1h-1zM-8 1h1v1h-1zM-12 5h1v1h-1zM-12 8h1v1h-1zM-12 10h1v1h-1zM-19 16h1v1h-1zM-12 16h1v1h-1zM-17 19h2v1h-2zM-20 20h1v1h-1zM-13 29h1v1h-1z"/>
<path fill="#d1cfb3" d="M3 -46h1v1h-1zM8 -46h1v1h-1zM1 -44h1v1h-1zM-1 -41h1v1h-1zM-5 -37h1v1h-1zM-5 -28h1v1h-1zM-8 -25h1v1h-1zM-4 -25h1v1h-1zM-5 -24h1v1h-1zM1 -23h1v1h-1zM-1 -22h1v1h-1zM-18 -21h1v1h-1zM-15 -21h1v1h-1zM-11 -21h1v1h-1zM-2 -21h1v1h-1zM1 -21h1v1h-1zM-6 -20h1v1h-1zM-1 -20h1v1h-1zM-18 -19h1v1h-1zM-1 -19h1v1h-1zM13 -17h1v1h-1zM17 -17h1v1h-1zM-23 -16h1v1h-1zM-20 -16h1v1h-1zM-21 -15h1v1h-1zM22 -15h1v1h-1zM-17 -14h1v1h-1zM-14 -14h1v1h-1zM5 -14h1v1h-1zM17 -14h1v1h-1zM24 -14h1v1h-1zM30 -14h1v1h-1zM39 -14h1v1h-1zM-16 -12h1v1h-1zM-9 -12h1v1h-1zM28 -12h1v1h-1zM-15 -11h1v1h-1zM-7 -10h1v1h-1zM20 -10h1v1h-1zM32 -9h1v1h-1zM35 -9h1v1h-1zM45 -9h1v1h-1zM18 -7h3v1h-3zM45 -7h1v1h-1zM44 -4h1v1h-1zM21 -3h1v1h-1zM-47 -2h1v1h-1zM-8 -2h1v1h-1zM23 -2h1v1h-1zM21 -1h1v1h-1zM-23 0h1v1h-1zM22 0h1v1h-1zM-15 3h1v1h-1zM0 3h1v1h-1zM-14 4h1v1h-1zM4 4h1v1h-1zM-15 5h1v1h-1zM-12 6h1v1h-1zM-30 8h1v1h-1zM-15 8h1v1h-1zM-32 9h1v1h-1zM19 9h1v1h-1zM-30 10h1v1h-1zM-28 10h1v1h-1zM-15 10h1v1h-1zM-13 10h1v1h-1zM-37 12h1v1h-1zM-20 13h1v1h-1zM-12 13h1v1h-1zM-19 15h1v1h-1zM9 15h2v1h-2zM15 17h1v1h-1zM6 18h1v1h-1zM5 19h1v1h-1zM4 20h1v1h-1zM16 21h1v1h-1zM-24 22h1v1h-1zM4 22h1v1h-1zM9 22h1v1h-1zM-3 24h1v1h-1zM-13 25h1v1h-1zM6 25h1v1h-1zM-21 26h2v1h-2zM-15 26h1v1h-1zM-2 26h1v1h-1zM-18 27h1v1h-1zM-12 28h1v1h-1zM-20 29h1v1h-1zM-14 29h1v1h-1zM-21 30h1v1h-1zM-11 30h1v1h-1zM-5 30h1v1h-1zM-17 31h1v1h-1zM-17 32h1v1h-1zM-17 33h1v1h-1zM3 33h1v1h-1zM-4 34h1v1h-1zM-1 35h1v1h-1zM-5 37h1v1h-1zM-3 38h1v1h-1zM-11 39h1v1h-1zM-8 41h1v1h-1zM-6 47h1v1h-1z"/>
<path fill="#cdceac" d="M9 -45h1v1h-1zM-7 -38h1v1h-1zM3 -33h1v1h-1zM12 -33h1v1h-1zM0 -28h1v1h-1zM6 -28h1v1h-1zM4 -26h1v1h-1zM22 -24h1v1h-1zM8 -23h1v1h-1zM22 -23h1v1h-1zM0 -22h1v1h-1zM-15 -20h1v1h-1zM-26 -19h1v1h-1zM-2 -19h1v1h-1zM-2 -18h1v1h-1zM14 -18h1v1h-1zM32 -18h1v1h-1zM-13 -17h1v1h-1zM-2 -17h1v1h-1zM-29 -16h1v1h-1zM9 -16h2v1h-2zM-9 -15h1v1h-1zM7 -15h2v1h-2zM17 -15h1v1h-1zM28 -15h1v1h-1zM18 -14h1v1h-1zM32 -14h1v1h-1zM40 -14h1v1h-1zM26 -13h1v1h-1zM33 -13h1v1h-1zM37 -13h1v1h-1zM-6 -12h1v1h-1zM23 -12h1v1h-1zM21 -11h1v1h-1zM31 -11h1v1h-1zM19 -10h1v1h-1zM22 -10h1v1h-1zM24 -10h1v1h-1zM-17 -9h1v1h-1zM24 -9h1v1h-1zM23 -8h1v1h-1zM28 -8h1v1h-1zM-9 -7h1v1h-1zM29 -7h1v1h-1zM30 -6h1v1h-1zM-14 -5h1v1h-1zM30 -5h1v1h-1zM34 -4h1v1h-1zM-8 -3h1v1h-1zM31 -3h1v1h-1zM22 -1h1v1h-1zM33 -1h1v1h-1zM-17 0h1v1h-1zM-7 0h1v1h-1zM35 0h1v1h-1zM31 1h1v1h-1zM-17 2h1v1h-1zM-17 3h1v1h-1zM33 4h1v1h-1zM23 5h1v1h-1zM-18 7h1v1h-1zM-8 8h1v1h-1zM25 12h1v1h-1zM14 15h1v1h-1zM-14 16h1v1h-1zM9 16h1v1h-1zM-11 17h1v1h-1zM18 17h1v1h-1zM11 18h1v1h-1zM13 19h1v1h-1zM15 19h1v1h-1zM-11 21h1v1h-1zM5 21h1v1h-1zM-20 23h1v1h-1zM-14 23h1v1h-1zM2 24h1v1h-1zM7 24h1v1h-1zM-17 25h1v1h-1zM5 25h1v1h-1zM-9 26h1v1h-1zM-4 26h1v1h-1zM0 26h1v1h-1zM-19 27h1v1h-1zM-9 27h1v1h-1zM-4 28h1v1h-1zM-5 29h1v1h-1zM-2 29h1v1h-1zM-14 31h1v1h-1zM0 31h1v1h-1zM-3 32h2v1h-2zM3 32h1v1h-1zM-1 33h1v1h-1zM-7 35h1v1h-1zM-12 39h1v1h-1zM-6 42h1v1h-1zM0 42h2v1h-2z"/>
<path fill="#c8daa9" d="M-4 -48h1v1h-1zM-5 -47h1v1h-1zM-5 -45h1v1h-1zM-5 -36h1v1h-1zM-17 -35h1v1h-1zM19 -34h1v1h-1zM-17 -33h1v1h-1zM-15 -33h1v1h-1zM-13 -31h1v1h-1zM-1 -31h1v1h-1zM-22 -30h1v1h-1zM-20 -30h1v1h-1zM20 -30h1v1h-1zM-16 -28h1v1h-1zM-25 -27h1v1h-1zM-2 -27h1v1h-1zM-18 -25h1v1h-1zM7 -25h1v1h-1zM22 -25h1v1h-1zM-26 -24h1v1h-1zM-22 -24h1v1h-1zM-16 -23h1v1h-1zM-7 -23h1v1h-1zM4 -23h1v1h-1zM-21 -22h2v1h-2zM-16 -22h1v1h-1zM17 -22h1v1h-1zM21 -20h1v1h-1zM30 -20h1v1h-1zM-22 -19h1v1h-1zM-12 -19h1v1h-1zM28 -19h1v1h-1zM-31 -18h1v1h-1zM-27 -18h1v1h-1zM-32 -17h1v1h-1zM-14 -17h1v1h-1zM25 -17h1v1h-1zM-30 -16h1v1h-1zM23 -16h1v1h-1zM37 -16h1v1h-1zM-31 -15h1v1h-1zM-25 -15h1v1h-1zM29 -15h1v1h-1zM-16 -14h1v1h-1zM-12 -13h1v1h-1zM-32 -12h1v1h-1zM-22 -12h1v1h-1zM-28 -11h2v1h-2zM-19 -11h1v1h-1zM-25 -10h1v1h-1zM-39 -7h1v1h-1zM-33 -7h1v1h-1zM-18 -7h1v1h-1zM-45 -6h1v1h-1zM-41 -6h1v1h-1zM-30 -6h1v1h-1zM-29 -4h1v1h-1zM-27 -3h1v1h-1zM-20 -3h1v1h-1zM-28 -2h1v1h-1zM-51 -1h1v1h-1zM-47 0h1v1h-1zM-27 0h1v1h-1zM-21 0h1v1h-1zM-26 1h2v1h-2zM-49 2h1v1h-1zM-24 3h1v1h-1zM-22 3h1v1h-1zM-36 4h1v1h-1zM-24 4h1v1h-1zM-35 5h1v1h-1zM-45 6h1v1h-1zM-33 7h1v1h-1zM-26 7h1v1h-1zM-37 8h1v1h-1zM-26 8h1v1h-1zM-16 8h1v1h-1zM37 8h1v1h-1zM-39 9h1v1h-1zM-39 10h1v1h-1zM-42 11h1v1h-1zM-34 11h1v1h-1zM-31 11h1v1h-1zM-23 13h1v1h-1zM-36 14h1v1h-1zM-33 14h1v1h-1zM-23 14h1v1h-1zM-36 15h1v1h-1zM-26 15h1v1h-1zM-34 20h1v1h-1zM-26 23h1v1h-1zM16 23h1v1h-1zM-24 24h1v1h-1zM13 24h1v1h-1zM-24 25h1v1h-1zM-3 25h1v1h-1zM11 26h1v1h-1zM-26 27h1v1h-1zM-25 29h1v1h-1zM-18 29h1v1h-1zM-20 30h1v1h-1zM-18 30h1v1h-1zM-22 32h1v1h-1zM-12 32h1v1h-1zM-4 32h1v1h-1zM6 33h1v1h-1zM-17 35h1v1h-1zM-15 36h1v1h-1zM2 36h1v1h-1zM-10 39h1v1h-1zM1 46h1v1h-1zM-4 49h1v1h-1z"/>
<path fill="#86a86b" d="M2 -48h1v1h-1zM-2 -46h1v1h-1zM-7 -44h1v1h-1zM-4 -44h1v1h-1zM0 -43h1v1h-1zM-7 -42h1v1h-1zM4 -42h1v1h-1zM1 -41h3v1h-3zM6 -41h2v1h-2zM1 -40h2v1h-2zM-3 -39h1v1h-1zM7 -37h1v1h-1zM-3 -36h2v1h-2zM0 -36h1v1h-1zM8 -36h1v1h-1zM17 -36h1v1h-1zM-2 -35h3v1h-3zM9 -35h1v1h-1zM7 -34h1v1h-1zM-14 -33h1v1h-1zM-11 -33h2v1h-2zM-7 -33h1v1h-1zM7 -33h1v1h-1zM8 -32h1v1h-1zM7 -31h1v1h-1zM15 -31h1v1h-1zM17 -31h1v1h-1zM23 -30h1v1h-1zM10 -29h1v1h-1zM19 -29h1v1h-1zM-9 -28h1v1h-1zM10 -28h1v1h-1zM12 -28h1v1h-1zM17 -28h2v1h-2zM9 -27h1v1h-1zM11 -27h2v1h-2zM11 -26h2v1h-2zM14 -26h1v1h-1zM23 -26h1v1h-1zM14 -25h1v1h-1zM28 -23h1v1h-1zM21 -18h1v1h-1zM35 -13h1v1h-1zM34 -12h1v1h-1zM42 -11h1v1h-1zM37 -10h1v1h-1zM45 -3h1v1h-1zM42 -2h1v1h-1zM42 -1h1v1h-1zM42 0h1v1h-1zM-24 7h1v1h-1zM18 23h3v1h-3zM25 23h1v1h-1zM27 23h1v1h-1zM17 24h2v1h-2zM14 25h1v1h-1zM16 25h5v1h-5zM13 26h2v1h-2zM16 26h1v1h-1zM21 26h1v1h-1zM14 27h2v1h-2zM18 27h2v1h-2zM12 28h4v1h-4zM18 28h1v1h-1zM13 29h1v1h-1zM15 29h1v1h-1zM17 29h1v1h-1zM12 31h1v1h-1zM16 31h1v1h-1zM11 34h1v1h-1zM16 34h1v1h-1zM10 36h2v1h-2zM7 37h1v1h-1zM10 37h1v1h-1zM12 37h1v1h-1zM10 38h1v1h-1zM8 39h1v1h-1zM10 39h1v1h-1zM9 41h1v1h-1zM7 42h1v1h-1zM5 44h1v1h-1zM-6 45h1v1h-1zM-4 50h1v1h-1zM-2 52h1v1h-1z"/>
<path fill="#b9c99c" d="M3 -51h1v1h-1zM-2 -50h1v1h-1zM1 -50h1v1h-1zM-1 -49h1v1h-1zM4 -49h1v1h-1zM-1 -48h1v1h-1zM0 -47h1v1h-1zM-7 -45h1v1h-1zM1 -43h1v1h-1zM-1 -42h1v1h-1zM-8 -38h1v1h-1zM-14 -35h1v1h-1zM-17 -34h1v1h-1zM-14 -34h1v1h-1zM-19 -30h1v1h-1zM-17 -26h1v1h-1zM-23 -24h1v1h-1zM-21 -24h1v1h-1zM-14 -24h2v1h-2zM-8 -24h2v1h-2zM-5 -23h1v1h-1zM-8 -22h1v1h-1zM-14 -21h1v1h-1zM-12 -21h1v1h-1zM-21 -20h2v1h-2zM-13 -20h2v1h-2zM-28 -18h1v1h-1zM8 -18h2v1h-2zM-16 -17h1v1h-1zM27 -15h1v1h-1zM23 -14h1v1h-1zM-34 -12h1v1h-1zM-23 -12h1v1h-1zM-12 -12h1v1h-1zM-20 -10h1v1h-1zM27 -10h1v1h-1zM-37 -8h1v1h-1zM-20 -8h1v1h-1zM-16 -8h1v1h-1zM-35 -7h1v1h-1zM40 -7h1v1h-1zM39 -6h1v1h-1zM-32 -5h1v1h-1zM-32 -4h1v1h-1zM-19 -3h1v1h-1zM30 0h1v1h-1zM-21 1h1v1h-1zM-20 2h1v1h-1zM38 3h1v1h-1zM-49 4h1v1h-1zM-19 4h1v1h-1zM-22 5h1v1h-1zM37 5h1v1h-1zM44 6h1v1h-1zM37 10h1v1h-1zM31 11h1v1h-1zM30 12h1v1h-1zM29 13h1v1h-1zM31 13h1v1h-1zM35 13h1v1h-1zM-21 15h1v1h-1zM35 15h1v1h-1zM-21 16h1v1h-1zM16 18h1v1h-1zM-31 19h1v1h-1zM-23 21h1v1h-1zM-32 22h1v1h-1zM-29 22h1v1h-1zM-25 23h1v1h-1zM-29 25h1v1h-1zM-27 27h1v1h-1zM-12 27h1v1h-1zM-15 29h1v1h-1zM-22 31h1v1h-1zM-15 32h1v1h-1zM-10 32h2v1h-2zM-12 33h1v1h-1zM-16 34h1v1h-1zM-14 34h1v1h-1zM-11 35h1v1h-1zM-16 38h1v1h-1zM-7 38h1v1h-1zM-13 39h1v1h-1zM-5 46h1v1h-1z"/>
<path fill="#b4c295" d="M-1 -51h1v1h-1zM2 -51h1v1h-1zM-1 -50h1v1h-1zM0 -49h1v1h-1zM2 -49h1v1h-1zM2 -47h1v1h-1zM5 -46h1v1h-1zM1 -45h1v1h-1zM2 -44h1v1h-1zM5 -44h1v1h-1zM4 -43h1v1h-1zM9 -43h2v1h-2zM-4 -42h1v1h-1zM-8 -41h1v1h-1zM12 -41h1v1h-1zM-1 -40h1v1h-1zM11 -40h1v1h-1zM-1 -39h1v1h-1zM4 -39h1v1h-1zM-5 -38h1v1h-1zM-11 -37h1v1h-1zM14 -37h1v1h-1zM-4 -31h1v1h-1zM10 -30h1v1h-1zM20 -29h1v1h-1zM-17 -27h1v1h-1zM6 -26h1v1h-1zM-15 -24h1v1h-1zM-9 -24h1v1h-1zM13 -23h1v1h-1zM-14 -22h1v1h-1zM-9 -22h1v1h-1zM21 -22h1v1h-1zM5 -21h1v1h-1zM-10 -20h2v1h-2zM34 -20h1v1h-1zM21 -19h1v1h-1zM34 -19h1v1h-1zM34 -18h1v1h-1zM-20 -17h1v1h-1zM28 -17h1v1h-1zM-16 -16h1v1h-1zM26 -14h2v1h-2zM35 -11h1v1h-1zM-26 -10h1v1h-1zM48 -4h1v1h-1zM-19 -2h1v1h-1zM31 -2h1v1h-1zM-27 -1h1v1h-1zM48 -1h1v1h-1zM37 1h2v1h-2zM-28 2h1v1h-1zM-23 3h1v1h-1zM39 3h2v1h-2zM-26 4h1v1h-1zM30 4h1v1h-1zM32 4h1v1h-1zM-25 6h1v1h-1zM40 6h1v1h-1zM43 6h1v1h-1zM-16 7h1v1h-1zM41 8h1v1h-1zM-34 9h1v1h-1zM41 9h1v1h-1zM30 10h1v1h-1zM38 10h2v1h-2zM32 11h1v1h-1zM-39 12h1v1h-1zM37 12h1v1h-1zM33 13h1v1h-1zM36 14h1v1h-1zM16 17h1v1h-1zM-23 18h1v1h-1zM13 20h1v1h-1zM-25 22h1v1h-1zM-21 22h1v1h-1zM10 23h1v1h-1zM-20 24h1v1h-1zM-28 25h1v1h-1zM6 26h1v1h-1zM-24 27h1v1h-1zM6 28h1v1h-1zM-7 29h1v1h-1zM-4 31h1v1h-1zM4 32h1v1h-1zM-19 33h1v1h-1zM-19 35h1v1h-1zM-5 35h1v1h-1zM-14 36h1v1h-1zM-6 36h1v1h-1zM-7 37h2v1h-2zM-8 38h1v1h-1zM-14 39h1v1h-1zM-10 41h1v1h-1zM-4 42h1v1h-1zM-2 45h1v1h-1zM3 46h1v1h-1zM1 47h1v1h-1zM-1 49h1v1h-1zM0 50h1v1h-1z"/>
<path fill="#a3b484" d="M1 -53h1v1h-1zM0 -51h1v1h-1zM0 -50h1v1h-1zM0 -48h1v1h-1zM3 -48h2v1h-2zM-3 -47h1v1h-1zM0 -44h1v1h-1zM8 -44h1v1h-1zM-8 -43h1v1h-1zM-3 -43h1v1h-1zM4 -41h1v1h-1zM9 -41h1v1h-1zM-12 -40h1v1h-1zM-5 -40h1v1h-1zM0 -39h1v1h-1zM1 -38h1v1h-1zM-13 -35h1v1h-1zM-16 -34h1v1h-1zM5 -33h1v1h-1zM15 -33h1v1h-1zM13 -32h1v1h-1zM20 -31h1v1h-1zM-4 -29h1v1h-1zM24 -29h1v1h-1zM19 -28h1v1h-1zM-18 -27h1v1h-1zM-4 -26h1v1h-1zM28 -26h1v1h-1zM-4 -23h1v1h-1zM-7 -22h1v1h-1zM11 -22h1v1h-1zM15 -22h1v1h-1zM31 -22h1v1h-1zM-13 -21h1v1h-1zM17 -21h1v1h-1zM-2 -20h1v1h-1zM9 -20h1v1h-1zM33 -20h1v1h-1zM-30 -19h1v1h-1zM-11 -19h1v1h-1zM13 -19h1v1h-1zM25 -19h1v1h-1zM27 -19h1v1h-1zM32 -19h1v1h-1zM-8 -18h1v1h-1zM32 -17h1v1h-1zM36 -15h1v1h-1zM39 -15h1v1h-1zM36 -14h1v1h-1zM36 -13h1v1h-1zM37 -12h1v1h-1zM42 -12h1v1h-1zM28 -11h1v1h-1zM30 -11h1v1h-1zM34 -11h1v1h-1zM38 -11h1v1h-1zM30 -10h1v1h-1zM38 -10h1v1h-1zM41 -10h1v1h-1zM37 -9h1v1h-1zM39 -9h1v1h-1zM-16 -7h1v1h-1zM47 -4h1v1h-1zM49 -4h1v1h-1zM43 -3h1v1h-1zM-18 -2h1v1h-1zM46 -2h1v1h-1zM52 -2h1v1h-1zM50 -1h1v1h-1zM39 2h1v1h-1zM42 2h1v1h-1zM46 3h1v1h-1zM31 4h1v1h-1zM42 4h1v1h-1zM-49 5h1v1h-1zM30 5h1v1h-1zM42 6h1v1h-1zM30 7h1v1h-1zM34 7h1v1h-1zM43 7h1v1h-1zM32 10h1v1h-1zM31 12h2v1h-2zM30 13h1v1h-1zM30 14h2v1h-2zM34 14h1v1h-1zM-20 16h1v1h-1zM19 19h1v1h-1zM12 20h1v1h-1zM11 21h1v1h-1zM19 21h1v1h-1zM24 21h1v1h-1zM-28 23h1v1h-1zM23 25h1v1h-1zM25 25h1v1h-1zM-7 28h1v1h-1zM3 28h1v1h-1zM-16 30h1v1h-1zM-1 31h1v1h-1zM0 32h1v1h-1zM-7 33h1v1h-1zM16 33h1v1h-1zM-6 34h1v1h-1zM3 36h1v1h-1zM-6 39h1v1h-1zM-5 40h1v1h-1zM2 40h1v1h-1zM-12 42h1v1h-1zM-2 42h1v1h-1zM-11 43h1v1h-1zM-3 43h2v1h-2zM-3 50h1v1h-1z"/>
<path fill="#d2c29f" d="M7 -19h1v1h-1zM17 -18h1v1h-1zM-4 -16h1v1h-1zM1 -15h1v1h-1zM6 -15h1v1h-1zM-9 -14h1v1h-1zM-7 -14h1v1h-1zM4 -14h1v1h-1zM9 -14h1v1h-1zM16 -14h1v1h-1zM1 -13h1v1h-1zM4 -13h1v1h-1zM6 -13h1v1h-1zM39 -13h2v1h-2zM10 -12h1v1h-1zM12 -12h1v1h-1zM31 -12h1v1h-1zM39 -11h1v1h-1zM9 -10h1v1h-1zM2 -9h1v1h-1zM22 -9h1v1h-1zM-12 -8h1v1h-1zM3 -8h1v1h-1zM16 -8h1v1h-1zM42 -8h1v1h-1zM24 -7h1v1h-1zM-15 -6h1v1h-1zM-9 -6h1v1h-1zM20 -6h1v1h-1zM23 -6h1v1h-1zM25 -6h1v1h-1zM38 -6h1v1h-1zM21 -5h1v1h-1zM28 -5h2v1h-2zM-15 -4h1v1h-1zM-6 -4h1v1h-1zM-1 -4h1v1h-1zM28 -4h2v1h-2zM19 -3h1v1h-1zM23 -3h1v1h-1zM26 -3h1v1h-1zM-17 -2h1v1h-1zM-7 -2h1v1h-1zM26 -2h1v1h-1zM33 -2h1v1h-1zM-8 -1h1v1h-1zM-3 -1h1v1h-1zM-3 0h1v1h-1zM-1 0h1v1h-1zM25 0h1v1h-1zM-17 1h1v1h-1zM23 1h1v1h-1zM26 1h1v1h-1zM30 1h1v1h-1zM-14 2h1v1h-1zM30 2h1v1h-1zM-16 3h1v1h-1zM23 3h1v1h-1zM-16 4h1v1h-1zM-18 5h2v1h-2zM21 5h1v1h-1zM24 5h1v1h-1zM-11 6h1v1h-1zM-8 7h1v1h-1zM35 9h1v1h-1zM-10 10h1v1h-1zM12 10h1v1h-1zM-16 11h1v1h-1zM-19 12h1v1h-1zM-11 12h2v1h-2zM0 12h1v1h-1zM19 12h1v1h-1zM-1 13h1v1h-1zM8 13h1v1h-1zM8 14h1v1h-1zM-16 15h2v1h-2zM21 15h1v1h-1zM13 16h1v1h-1zM20 16h1v1h-1zM-26 17h1v1h-1zM-10 17h1v1h-1zM9 18h1v1h-1zM-9 19h1v1h-1zM-18 20h1v1h-1zM-15 20h1v1h-1zM-13 20h1v1h-1zM-8 20h1v1h-1zM-2 20h1v1h-1zM7 21h1v1h-1zM9 21h1v1h-1zM-18 22h2v1h-2zM-15 22h1v1h-1zM-12 22h1v1h-1zM-19 23h1v1h-1zM-9 23h2v1h-2zM2 23h1v1h-1zM-8 24h2v1h-2zM0 40h1v1h-1zM2 42h1v1h-1z"/>
<path fill="#bfc197" d="M5 -37h1v1h-1zM4 -27h1v1h-1zM-2 -23h1v1h-1zM12 -21h1v1h-1zM1 -18h1v1h-1zM15 -18h1v1h-1zM-9 -17h1v1h-1zM18 -17h1v1h-1zM35 -17h1v1h-1zM-9 -16h1v1h-1zM18 -16h1v1h-1zM12 -15h1v1h-1zM38 -14h1v1h-1zM25 -13h1v1h-1zM27 -13h1v1h-1zM24 -12h1v1h-1zM26 -12h1v1h-1zM33 -12h1v1h-1zM39 -12h1v1h-1zM41 -12h1v1h-1zM23 -11h1v1h-1zM29 -11h1v1h-1zM32 -11h1v1h-1zM33 -10h1v1h-1zM33 -9h1v1h-1zM28 -7h1v1h-1zM33 -6h1v1h-1zM35 -6h1v1h-1zM40 -6h1v1h-1zM43 -6h1v1h-1zM43 -5h1v1h-1zM-17 -4h1v1h-1zM23 -4h1v1h-1zM33 -3h1v1h-1zM42 -3h1v1h-1zM28 -2h1v1h-1zM38 -2h1v1h-1zM41 -2h1v1h-1zM27 -1h1v1h-1zM36 1h1v1h-1zM33 2h1v1h-1zM28 3h1v1h-1zM31 3h1v1h-1zM35 3h1v1h-1zM47 3h1v1h-1zM29 4h1v1h-1zM37 4h1v1h-1zM39 4h1v1h-1zM43 4h1v1h-1zM33 5h1v1h-1zM36 5h1v1h-1zM32 6h1v1h-1zM36 6h1v1h-1zM29 8h2v1h-2zM29 9h1v1h-1zM27 11h1v1h-1zM24 14h1v1h-1zM29 14h1v1h-1zM13 17h1v1h-1zM22 17h1v1h-1zM24 18h1v1h-1zM18 20h1v1h-1zM13 21h1v1h-1zM24 22h1v1h-1zM26 22h1v1h-1zM-14 25h1v1h-1zM-11 26h1v1h-1zM-6 26h1v1h-1zM-6 28h2v1h-2zM3 30h1v1h-1zM1 32h1v1h-1zM3 34h1v1h-1zM-2 35h1v1h-1zM0 37h1v1h-1zM0 45h1v1h-1z"/>
<path fill="#b0c88f" d="M-9 -40h2v1h-2zM-2 -40h1v1h-1zM0 -40h1v1h-1zM-13 -39h1v1h-1zM-10 -39h1v1h-1zM-8 -39h1v1h-1zM1 -39h1v1h-1zM7 -39h1v1h-1zM14 -39h1v1h-1zM11 -38h1v1h-1zM-13 -37h1v1h-1zM-4 -37h1v1h-1zM6 -37h1v1h-1zM-12 -36h2v1h-2zM-7 -35h1v1h-1zM13 -35h1v1h-1zM-18 -34h1v1h-1zM-12 -34h1v1h-1zM-5 -34h1v1h-1zM1 -33h1v1h-1zM11 -33h1v1h-1zM3 -32h1v1h-1zM11 -32h1v1h-1zM0 -31h1v1h-1zM10 -31h1v1h-1zM21 -31h1v1h-1zM-5 -30h1v1h-1zM-1 -30h1v1h-1zM7 -30h1v1h-1zM17 -30h1v1h-1zM24 -30h1v1h-1zM-2 -29h1v1h-1zM6 -29h1v1h-1zM9 -29h1v1h-1zM11 -29h1v1h-1zM1 -28h1v1h-1zM22 -28h1v1h-1zM8 -27h1v1h-1zM21 -27h1v1h-1zM-8 -26h1v1h-1zM9 -25h1v1h-1zM20 -25h1v1h-1zM29 -25h1v1h-1zM6 -24h1v1h-1zM9 -24h1v1h-1zM11 -24h1v1h-1zM13 -24h1v1h-1zM28 -24h2v1h-2zM24 -23h1v1h-1zM12 -20h1v1h-1zM10 -18h1v1h-1zM27 -18h1v1h-1zM30 -18h1v1h-1zM9 -17h1v1h-1zM27 -17h1v1h-1zM25 -16h1v1h-1zM34 -13h1v1h-1zM35 -12h1v1h-1zM42 -10h1v1h-1zM29 -1h1v1h-1zM13 23h1v1h-1zM12 24h1v1h-1zM22 25h1v1h-1zM23 26h1v1h-1zM11 27h1v1h-1zM10 28h1v1h-1zM5 31h1v1h-1zM14 32h1v1h-1zM8 34h1v1h-1zM6 35h1v1h-1zM6 37h1v1h-1zM8 37h1v1h-1zM2 38h1v1h-1zM4 40h2v1h-2zM4 41h1v1h-1zM3 45h1v1h-1zM0 48h1v1h-1z"/>
<path fill="#b65c56" d="M44 -9h1v1h-1zM4 -6h1v1h-1zM39 -3h1v1h-1zM47 -3h1v1h-1zM36 -1h1v1h-1zM47 -1h1v1h-1zM17 0h1v1h-1zM49 0h1v1h-1zM14 1h2v1h-2zM18 1h1v1h-1zM16 2h1v1h-1zM40 2h1v1h-1zM37 3h1v1h-1zM14 4h1v1h-1zM34 4h1v1h-1zM-3 5h1v1h-1zM14 5h1v1h-1zM32 5h1v1h-1zM41 5h1v1h-1zM12 6h1v1h-1zM34 6h1v1h-1zM-3 7h1v1h-1zM11 7h1v1h-1zM28 8h1v1h-1zM32 8h1v1h-1zM9 9h1v1h-1zM28 12h1v1h-1zM23 13h1v1h-1zM26 13h2v1h-2zM37 13h1v1h-1zM-3 14h1v1h-1zM34 15h1v1h-1zM2 17h1v1h-1zM27 17h1v1h-1zM19 18h1v1h-1zM17 19h1v1h-1zM21 19h1v1h-1zM30 20h1v1h-1zM20 21h1v1h-1zM14 22h1v1h-1zM23 23h2v1h-2zM20 26h1v1h-1z"/>
<path fill="#adbb8d" d="M3 -50h1v1h-1zM-2 -49h1v1h-1zM3 -49h1v1h-1zM-2 -47h1v1h-1zM3 -47h1v1h-1zM6 -44h1v1h-1zM-9 -42h1v1h-1zM-3 -42h2v1h-2zM0 -41h1v1h-1zM-5 -39h1v1h-1zM-2 -39h1v1h-1zM3 -38h2v1h-2zM-10 -36h1v1h-1zM14 -36h1v1h-1zM1 -34h1v1h-1zM15 -34h1v1h-1zM17 -33h1v1h-1zM-12 -30h1v1h-1zM7 -29h1v1h-1zM21 -28h1v1h-1zM-8 -27h1v1h-1zM-16 -25h1v1h-1zM-5 -25h1v1h-1zM21 -25h1v1h-1zM19 -24h1v1h-1zM14 -23h1v1h-1zM-11 -22h1v1h-1zM-6 -22h1v1h-1zM-4 -22h1v1h-1zM24 -22h2v1h-2zM30 -22h1v1h-1zM-19 -21h1v1h-1zM-6 -21h1v1h-1zM4 -21h1v1h-1zM23 -21h1v1h-1zM32 -21h2v1h-2zM24 -19h1v1h-1zM-11 -18h1v1h-1zM12 -18h1v1h-1zM-10 -17h1v1h-1zM11 -17h1v1h-1zM24 -16h1v1h-1zM38 -16h1v1h-1zM33 -11h1v1h-1zM41 -11h1v1h-1zM-13 -10h1v1h-1zM35 -10h1v1h-1zM40 -9h1v1h-1zM41 -7h1v1h-1zM46 -6h1v1h-1zM-17 -5h1v1h-1zM33 -5h1v1h-1zM47 -5h1v1h-1zM41 -4h1v1h-1zM-34 -3h1v1h-1zM44 -3h1v1h-1zM48 -2h1v1h-1zM45 -1h1v1h-1zM51 -1h1v1h-1zM46 0h1v1h-1zM46 1h1v1h-1zM41 2h1v1h-1zM44 3h1v1h-1zM38 5h1v1h-1zM42 5h1v1h-1zM28 6h1v1h-1zM37 6h2v1h-2zM38 7h2v1h-2zM33 8h1v1h-1zM38 8h3v1h-3zM32 9h1v1h-1zM40 9h1v1h-1zM33 12h1v1h-1zM-32 13h1v1h-1zM32 14h1v1h-1zM-20 17h1v1h-1zM11 19h1v1h-1zM24 19h1v1h-1zM22 20h1v1h-1zM11 22h1v1h-1zM13 22h1v1h-1zM18 22h1v1h-1zM21 22h1v1h-1zM8 23h1v1h-1zM-18 25h1v1h-1zM24 25h1v1h-1zM-3 27h1v1h-1zM-9 28h1v1h-1zM2 28h1v1h-1zM-3 30h2v1h-2zM-2 31h1v1h-1zM-9 35h1v1h-1zM-18 36h1v1h-1zM-7 36h1v1h-1zM-6 38h1v1h-1zM1 38h1v1h-1zM3 39h1v1h-1zM-10 43h1v1h-1zM-6 44h1v1h-1zM-2 44h1v1h-1zM-8 46h1v1h-1zM-4 46h1v1h-1zM-5 47h1v1h-1zM-5 48h1v1h-1z"/>
<path fill="#d7927c" d="M15 -13h1v1h-1zM0 -12h1v1h-1zM-4 -11h1v1h-1zM-2 -11h1v1h-1zM2 -11h1v1h-1zM-2 -10h1v1h-1zM4 -10h1v1h-1zM12 -10h1v1h-1zM-1 -9h1v1h-1zM5 -9h1v1h-1zM12 -9h1v1h-1zM11 -8h1v1h-1zM13 -8h1v1h-1zM6 -7h2v1h-2zM42 -7h1v1h-1zM-1 -6h1v1h-1zM3 -6h1v1h-1zM12 -6h3v1h-3zM-1 -5h1v1h-1zM1 -5h1v1h-1zM6 -5h1v1h-1zM13 -5h1v1h-1zM22 -5h1v1h-1zM49 -5h1v1h-1zM8 -4h2v1h-2zM11 -4h1v1h-1zM2 -3h1v1h-1zM17 -3h1v1h-1zM-13 -2h1v1h-1zM1 -2h2v1h-2zM4 -2h3v1h-3zM10 -2h3v1h-3zM18 -2h1v1h-1zM44 -2h1v1h-1zM4 -1h1v1h-1zM11 -1h1v1h-1zM4 0h1v1h-1zM8 0h1v1h-1zM5 1h3v1h-3zM11 1h1v1h-1zM13 1h1v1h-1zM-4 2h1v1h-1zM1 2h2v1h-2zM5 2h1v1h-1zM11 2h1v1h-1zM23 2h1v1h-1zM34 2h2v1h-2zM-3 3h1v1h-1zM6 3h2v1h-2zM9 3h1v1h-1zM18 3h1v1h-1zM-5 4h1v1h-1zM7 4h1v1h-1zM19 4h1v1h-1zM40 4h1v1h-1zM2 5h1v1h-1zM11 5h1v1h-1zM16 5h1v1h-1zM0 6h4v1h-4zM5 6h1v1h-1zM41 6h1v1h-1zM-6 7h1v1h-1zM-4 7h1v1h-1zM-2 7h2v1h-2zM3 7h1v1h-1zM8 7h3v1h-3zM16 7h1v1h-1zM-6 8h1v1h-1zM-4 8h1v1h-1zM-1 8h1v1h-1zM1 8h2v1h-2zM4 8h1v1h-1zM9 8h1v1h-1zM15 8h1v1h-1zM17 8h1v1h-1zM2 9h1v1h-1zM5 9h1v1h-1zM-6 10h1v1h-1zM-2 10h1v1h-1zM3 10h1v1h-1zM10 10h1v1h-1zM17 10h1v1h-1zM-10 11h2v1h-2zM-5 11h1v1h-1zM2 11h2v1h-2zM6 11h1v1h-1zM12 11h1v1h-1zM16 11h1v1h-1zM18 11h1v1h-1zM24 11h1v1h-1zM28 11h1v1h-1zM38 11h1v1h-1zM5 12h1v1h-1zM13 12h1v1h-1zM-3 13h1v1h-1zM-7 14h2v1h-2zM-2 14h1v1h-1zM4 14h2v1h-2zM-6 15h2v1h-2zM-2 15h2v1h-2zM-7 16h1v1h-1zM-2 17h1v1h-1zM9 17h1v1h-1zM-6 18h2v1h-2zM-3 18h1v1h-1zM1 18h1v1h-1zM-5 20h1v1h-1zM-3 20h1v1h-1zM0 20h1v1h-1zM-3 21h1v1h-1zM0 21h1v1h-1zM-5 22h1v1h-1zM-3 22h1v1h-1zM19 24h1v1h-1zM25 24h1v1h-1z"/>
<path fill="#daa68b" d="M16 -13h1v1h-1zM-2 -12h1v1h-1zM2 -12h1v1h-1zM5 -12h1v1h-1zM-1 -11h1v1h-1zM9 -11h1v1h-1zM17 -11h1v1h-1zM1 -10h1v1h-1zM3 -10h1v1h-1zM7 -10h1v1h-1zM-2 -9h1v1h-1zM4 -9h1v1h-1zM-3 -8h2v1h-2zM8 -8h1v1h-1zM3 -7h1v1h-1zM9 -7h6v1h-6zM-6 -6h1v1h-1zM-3 -6h2v1h-2zM6 -6h2v1h-2zM-9 -5h1v1h-1zM-4 -5h1v1h-1zM2 -5h1v1h-1zM-4 -4h2v1h-2zM1 -4h1v1h-1zM13 -4h1v1h-1zM16 -4h1v1h-1zM18 -4h1v1h-1zM-16 -3h1v1h-1zM-12 -3h1v1h-1zM-5 -3h1v1h-1zM7 -3h1v1h-1zM-6 -2h1v1h-1zM9 -2h1v1h-1zM19 -2h1v1h-1zM43 -2h1v1h-1zM20 -1h1v1h-1zM25 -1h1v1h-1zM-13 0h1v1h-1zM1 0h1v1h-1zM41 0h1v1h-1zM-5 1h1v1h-1zM-3 1h1v1h-1zM2 1h1v1h-1zM24 1h1v1h-1zM-9 2h1v1h-1zM-5 2h1v1h-1zM10 2h1v1h-1zM20 2h1v1h-1zM22 2h1v1h-1zM24 2h1v1h-1zM28 2h1v1h-1zM-12 3h2v1h-2zM-8 3h1v1h-1zM-6 3h1v1h-1zM2 3h1v1h-1zM4 3h2v1h-2zM20 3h1v1h-1zM-10 4h1v1h-1zM-6 4h1v1h-1zM-4 4h1v1h-1zM-2 4h1v1h-1zM6 4h1v1h-1zM-7 5h1v1h-1zM-4 5h1v1h-1zM-1 5h1v1h-1zM18 5h1v1h-1zM25 5h1v1h-1zM-6 6h2v1h-2zM17 6h1v1h-1zM-10 7h1v1h-1zM7 7h1v1h-1zM36 7h1v1h-1zM-11 8h1v1h-1zM-7 8h1v1h-1zM13 8h1v1h-1zM21 8h1v1h-1zM42 8h1v1h-1zM-9 9h1v1h-1zM-4 9h1v1h-1zM-2 9h1v1h-1zM-11 10h1v1h-1zM-9 10h3v1h-3zM1 10h2v1h-2zM7 10h1v1h-1zM13 10h1v1h-1zM-12 11h1v1h-1zM-6 11h1v1h-1zM-4 11h1v1h-1zM7 11h1v1h-1zM-8 12h1v1h-1zM1 12h1v1h-1zM-2 13h1v1h-1zM16 13h1v1h-1zM-5 14h1v1h-1zM1 15h2v1h-2zM12 15h1v1h-1zM-2 16h1v1h-1zM0 16h1v1h-1zM6 16h1v1h-1zM12 16h1v1h-1zM-9 17h1v1h-1zM-7 17h1v1h-1zM-1 17h1v1h-1zM-7 18h1v1h-1zM0 18h1v1h-1zM4 18h1v1h-1zM-6 19h1v1h-1zM-7 20h1v1h-1zM-4 20h1v1h-1zM-6 21h1v1h-1zM-16 22h1v1h-1zM-2 22h1v1h-1zM0 22h1v1h-1zM20 22h1v1h-1zM-6 23h1v1h-1zM-16 24h1v1h-1z"/>
<path fill="#ab8e6c" d="M18 -15h1v1h-1zM34 -5h1v1h-1zM37 -5h1v1h-1zM24 -4h1v1h-1zM19 8h1v1h-1zM22 9h1v1h-1zM34 9h1v1h-1zM36 9h1v1h-1zM20 10h1v1h-1zM35 10h1v1h-1zM15 11h1v1h-1zM36 11h1v1h-1zM22 12h1v1h-1zM27 12h1v1h-1zM16 14h1v1h-1zM20 14h1v1h-1zM6 15h1v1h-1zM30 15h1v1h-1zM25 16h1v1h-1zM28 16h2v1h-2zM32 16h2v1h-2zM32 17h2v1h-2zM20 18h1v1h-1zM27 18h2v1h-2zM20 19h1v1h-1zM27 19h3v1h-3zM31 19h1v1h-1zM-1 20h1v1h-1zM28 20h1v1h-1zM-4 21h1v1h-1zM27 21h1v1h-1zM27 22h1v1h-1zM0 23h1v1h-1z"/>
</g></g>
<g clip-path="url(#clipC)"><g id="cmos" transform="translate(1657 16) scale(6)">
<path fill="#e2dfd2" d="M37 0h31v1h-31zM38 1h30v1h-30zM38 2h28v1h-28zM68 2h2v1h-2zM35 3h28v1h-28zM35 4h18v1h-18zM55 4h7v1h-7zM95 4h1v1h-1zM35 5h18v1h-18zM58 5h1v1h-1zM82 5h1v1h-1zM32 6h2v1h-2zM35 6h8v1h-8zM44 6h2v1h-2zM78 6h7v1h-7zM31 7h2v1h-2zM35 7h10v1h-10zM81 7h3v1h-3zM99 7h1v1h-1zM30 8h3v1h-3zM36 8h4v1h-4zM43 8h1v1h-1zM52 8h1v1h-1zM81 8h3v1h-3zM85 8h1v1h-1zM87 8h2v1h-2zM99 8h1v1h-1zM31 9h2v1h-2zM81 9h6v1h-6zM65 10h2v1h-2zM68 10h2v1h-2zM75 10h2v1h-2zM79 10h4v1h-4zM85 10h3v1h-3zM64 11h6v1h-6zM75 11h3v1h-3zM79 11h4v1h-4zM86 11h2v1h-2zM64 12h4v1h-4zM75 12h10v1h-10zM63 13h5v1h-5zM75 13h10v1h-10zM66 14h2v1h-2zM75 14h9v1h-9zM86 14h1v1h-1zM26 15h1v1h-1zM66 15h2v1h-2zM74 15h10v1h-10zM26 16h1v1h-1zM66 16h3v1h-3zM74 16h11v1h-11zM88 16h1v1h-1zM26 17h3v1h-3zM56 17h1v1h-1zM62 17h2v1h-2zM66 17h3v1h-3zM74 17h12v1h-12zM27 18h2v1h-2zM62 18h1v1h-1zM67 18h3v1h-3zM75 18h11v1h-11zM87 18h2v1h-2zM27 19h2v1h-2zM68 19h2v1h-2zM75 19h15v1h-15zM19 20h1v1h-1zM75 20h14v1h-14zM19 21h2v1h-2zM75 21h11v1h-11zM88 21h2v1h-2zM76 22h10v1h-10zM88 22h2v1h-2zM63 23h8v1h-8zM77 23h14v1h-14zM17 24h2v1h-2zM62 24h4v1h-4zM67 24h4v1h-4zM77 24h8v1h-8zM87 24h1v1h-1zM90 24h1v1h-1zM14 25h7v1h-7zM59 25h5v1h-5zM75 25h11v1h-11zM8 26h2v1h-2zM14 26h8v1h-8zM59 26h4v1h-4zM74 26h12v1h-12zM92 26h1v1h-1zM8 27h2v1h-2zM12 27h2v1h-2zM59 27h4v1h-4zM66 27h2v1h-2zM81 27h5v1h-5zM88 27h2v1h-2zM92 27h2v1h-2zM8 28h2v1h-2zM12 28h2v1h-2zM34 28h2v1h-2zM38 28h4v1h-4zM54 28h1v1h-1zM59 28h5v1h-5zM66 28h2v1h-2zM84 28h2v1h-2zM88 28h2v1h-2zM92 28h4v1h-4zM8 29h2v1h-2zM38 29h1v1h-1zM40 29h4v1h-4zM53 29h2v1h-2zM57 29h3v1h-3zM66 29h2v1h-2zM77 29h1v1h-1zM88 29h4v1h-4zM94 29h4v1h-4zM38 30h6v1h-6zM53 30h2v1h-2zM57 30h3v1h-3zM66 30h4v1h-4zM78 30h2v1h-2zM89 30h3v1h-3zM94 30h7v1h-7zM38 31h8v1h-8zM54 31h1v1h-1zM57 31h11v1h-11zM78 31h2v1h-2zM82 31h2v1h-2zM87 31h6v1h-6zM95 31h6v1h-6zM32 32h1v1h-1zM36 32h11v1h-11zM49 32h2v1h-2zM57 32h11v1h-11zM71 32h2v1h-2zM77 32h2v1h-2zM81 32h5v1h-5zM87 32h5v1h-5zM99 32h2v1h-2zM36 33h10v1h-10zM57 33h15v1h-15zM74 33h1v1h-1zM76 33h3v1h-3zM82 33h4v1h-4zM88 33h6v1h-6zM98 33h3v1h-3zM29 34h1v1h-1zM36 34h11v1h-11zM54 34h5v1h-5zM62 34h4v1h-4zM68 34h4v1h-4zM74 34h1v1h-1zM80 34h6v1h-6zM88 34h2v1h-2zM92 34h3v1h-3zM98 34h3v1h-3zM29 35h2v1h-2zM34 35h15v1h-15zM53 35h18v1h-18zM73 35h3v1h-3zM79 35h7v1h-7zM87 35h3v1h-3zM92 35h4v1h-4zM97 35h4v1h-4zM33 36h16v1h-16zM53 36h18v1h-18zM73 36h1v1h-1zM79 36h5v1h-5zM86 36h13v1h-13zM27 37h1v1h-1zM33 37h16v1h-16zM52 37h19v1h-19zM78 37h6v1h-6zM86 37h13v1h-13zM100 37h1v1h-1zM23 38h1v1h-1zM26 38h1v1h-1zM31 38h25v1h-25zM60 38h4v1h-4zM65 38h8v1h-8zM75 38h9v1h-9zM85 38h3v1h-3zM91 38h10v1h-10zM23 39h5v1h-5zM31 39h24v1h-24zM60 39h4v1h-4zM66 39h6v1h-6zM75 39h14v1h-14zM90 39h11v1h-11zM0 40h1v1h-1zM11 40h5v1h-5zM18 40h15v1h-15zM34 40h21v1h-21zM59 40h13v1h-13zM77 40h24v1h-24zM0 41h1v1h-1zM6 41h1v1h-1zM11 41h40v1h-40zM53 41h2v1h-2zM59 41h15v1h-15zM77 41h18v1h-18zM96 41h5v1h-5zM0 42h1v1h-1zM6 42h2v1h-2zM9 42h2v1h-2zM15 42h35v1h-35zM51 42h6v1h-6zM59 42h14v1h-14zM74 42h3v1h-3zM79 42h22v1h-22zM0 43h1v1h-1zM7 43h5v1h-5zM15 43h11v1h-11zM29 43h25v1h-25zM55 43h2v1h-2zM60 43h13v1h-13zM74 43h3v1h-3zM79 43h22v1h-22zM4 44h4v1h-4zM9 44h1v1h-1zM11 44h1v1h-1zM14 44h1v1h-1zM16 44h4v1h-4zM21 44h10v1h-10zM32 44h5v1h-5zM38 44h19v1h-19zM60 44h3v1h-3zM64 44h3v1h-3zM68 44h4v1h-4zM76 44h15v1h-15zM93 44h8v1h-8zM0 45h3v1h-3zM4 45h3v1h-3zM9 45h2v1h-2zM14 45h1v1h-1zM17 45h2v1h-2zM24 45h3v1h-3zM28 45h2v1h-2zM31 45h6v1h-6zM38 45h1v1h-1zM40 45h3v1h-3zM46 45h1v1h-1zM48 45h3v1h-3zM53 45h4v1h-4zM59 45h4v1h-4zM66 45h3v1h-3zM70 45h2v1h-2zM77 45h6v1h-6zM84 45h1v1h-1zM87 45h6v1h-6zM94 45h7v1h-7zM0 46h7v1h-7zM9 46h2v1h-2zM14 46h5v1h-5zM20 46h2v1h-2zM26 46h2v1h-2zM29 46h2v1h-2zM32 46h2v1h-2zM38 46h1v1h-1zM40 46h1v1h-1zM42 46h1v1h-1zM47 46h1v1h-1zM49 46h2v1h-2zM53 46h4v1h-4zM58 46h2v1h-2zM61 46h6v1h-6zM69 46h1v1h-1zM71 46h1v1h-1zM77 46h4v1h-4zM82 46h1v1h-1zM84 46h1v1h-1zM87 46h3v1h-3zM92 46h1v1h-1zM96 46h3v1h-3zM100 46h1v1h-1zM0 47h1v1h-1zM2 47h2v1h-2zM8 47h3v1h-3zM13 47h1v1h-1zM15 47h1v1h-1zM20 47h1v1h-1zM24 47h1v1h-1zM27 47h3v1h-3zM31 47h4v1h-4zM36 47h4v1h-4zM45 47h2v1h-2zM49 47h1v1h-1zM53 47h1v1h-1zM55 47h1v1h-1zM57 47h2v1h-2zM60 47h4v1h-4zM65 47h4v1h-4zM79 47h1v1h-1zM84 47h1v1h-1zM86 47h1v1h-1zM88 47h3v1h-3zM92 47h1v1h-1zM94 47h1v1h-1zM98 47h1v1h-1zM100 47h1v1h-1zM0 48h2v1h-2zM9 48h1v1h-1zM11 48h1v1h-1zM16 48h1v1h-1zM22 48h1v1h-1zM26 48h1v1h-1zM33 48h1v1h-1zM35 48h2v1h-2zM38 48h7v1h-7zM46 48h3v1h-3zM53 48h1v1h-1zM58 48h1v1h-1zM62 48h1v1h-1zM64 48h2v1h-2zM75 48h1v1h-1zM77 48h3v1h-3zM81 48h1v1h-1zM84 48h1v1h-1zM90 48h1v1h-1zM94 48h3v1h-3zM99 48h2v1h-2zM15 49h1v1h-1zM17 49h1v1h-1zM26 49h1v1h-1zM34 49h1v1h-1zM44 49h1v1h-1zM49 49h3v1h-3zM62 49h2v1h-2zM65 49h2v1h-2zM71 49h1v1h-1zM75 49h4v1h-4zM80 49h1v1h-1zM87 49h1v1h-1zM95 49h1v1h-1zM98 49h1v1h-1zM17 50h1v1h-1zM34 50h1v1h-1zM41 50h1v1h-1zM45 50h1v1h-1zM72 50h3v1h-3zM76 50h1v1h-1zM88 50h1v1h-1zM95 50h1v1h-1zM13 51h1v1h-1zM15 51h1v1h-1zM20 51h1v1h-1zM45 51h1v1h-1zM52 51h1v1h-1zM59 51h1v1h-1zM75 51h1v1h-1zM96 51h1v1h-1z"/>
<path fill="#d6d7cc" d="M36 0h1v1h-1zM37 1h1v1h-1zM68 1h2v1h-2zM37 2h1v1h-1zM53 4h1v1h-1zM32 5h1v1h-1zM34 5h1v1h-1zM83 5h1v1h-1zM34 6h1v1h-1zM46 6h2v1h-2zM77 6h1v1h-1zM85 6h1v1h-1zM93 6h1v1h-1zM84 7h1v1h-1zM29 8h1v1h-1zM42 8h1v1h-1zM44 8h1v1h-1zM51 8h1v1h-1zM84 8h1v1h-1zM86 8h1v1h-1zM74 9h1v1h-1zM87 9h1v1h-1zM32 10h1v1h-1zM60 10h1v1h-1zM64 10h1v1h-1zM67 10h1v1h-1zM83 10h2v1h-2zM78 11h1v1h-1zM85 11h1v1h-1zM63 12h1v1h-1zM85 12h1v1h-1zM85 13h1v1h-1zM74 14h1v1h-1zM87 14h1v1h-1zM25 15h1v1h-1zM25 16h1v1h-1zM27 16h1v1h-1zM73 16h1v1h-1zM89 16h1v1h-1zM25 17h1v1h-1zM55 17h1v1h-1zM73 17h1v1h-1zM88 17h1v1h-1zM63 18h1v1h-1zM66 18h1v1h-1zM86 18h1v1h-1zM89 18h1v1h-1zM65 19h1v1h-1zM90 19h1v1h-1zM18 20h1v1h-1zM23 20h1v1h-1zM89 20h1v1h-1zM97 21h1v1h-1zM65 22h1v1h-1zM75 22h1v1h-1zM87 22h1v1h-1zM90 22h1v1h-1zM17 23h1v1h-1zM30 23h1v1h-1zM16 24h1v1h-1zM25 24h1v1h-1zM66 24h1v1h-1zM76 24h1v1h-1zM86 24h1v1h-1zM9 25h1v1h-1zM21 25h1v1h-1zM74 25h1v1h-1zM90 25h2v1h-2zM7 26h1v1h-1zM12 26h2v1h-2zM57 26h1v1h-1zM63 26h1v1h-1zM97 26h1v1h-1zM14 27h1v1h-1zM34 27h1v1h-1zM38 27h2v1h-2zM54 27h1v1h-1zM57 27h1v1h-1zM63 27h1v1h-1zM79 27h1v1h-1zM98 27h1v1h-1zM58 28h1v1h-1zM64 28h1v1h-1zM87 28h1v1h-1zM12 29h1v1h-1zM39 29h1v1h-1zM68 29h1v1h-1zM84 29h1v1h-1zM92 29h2v1h-2zM98 29h3v1h-3zM73 30h1v1h-1zM77 30h1v1h-1zM88 30h1v1h-1zM92 30h1v1h-1zM32 31h1v1h-1zM37 31h1v1h-1zM53 31h1v1h-1zM73 31h1v1h-1zM77 31h1v1h-1zM84 31h3v1h-3zM70 32h1v1h-1zM73 32h1v1h-1zM76 32h1v1h-1zM79 32h1v1h-1zM92 32h1v1h-1zM98 32h1v1h-1zM32 33h1v1h-1zM46 33h1v1h-1zM53 33h2v1h-2zM75 33h1v1h-1zM81 33h1v1h-1zM30 34h1v1h-1zM47 34h1v1h-1zM53 34h1v1h-1zM59 34h1v1h-1zM73 34h1v1h-1zM90 34h2v1h-2zM33 35h1v1h-1zM71 35h2v1h-2zM78 35h1v1h-1zM86 35h1v1h-1zM91 35h1v1h-1zM96 35h1v1h-1zM28 36h2v1h-2zM74 36h2v1h-2zM78 36h1v1h-1zM28 37h1v1h-1zM71 37h2v1h-2zM99 37h1v1h-1zM27 38h1v1h-1zM56 38h2v1h-2zM64 38h1v1h-1zM90 38h1v1h-1zM0 39h1v1h-1zM55 39h2v1h-2zM59 39h1v1h-1zM64 39h2v1h-2zM72 39h1v1h-1zM89 39h1v1h-1zM17 40h1v1h-1zM33 40h1v1h-1zM55 40h1v1h-1zM57 40h1v1h-1zM76 40h1v1h-1zM7 41h1v1h-1zM10 41h1v1h-1zM51 41h2v1h-2zM95 41h1v1h-1zM11 42h1v1h-1zM50 42h1v1h-1zM73 42h1v1h-1zM78 42h1v1h-1zM4 43h1v1h-1zM6 43h1v1h-1zM14 43h1v1h-1zM26 43h1v1h-1zM54 43h1v1h-1zM77 43h1v1h-1zM1 44h1v1h-1zM8 44h1v1h-1zM12 44h1v1h-1zM13 45h1v1h-1zM16 45h1v1h-1zM19 45h1v1h-1zM30 45h1v1h-1zM52 45h1v1h-1zM13 46h1v1h-1zM22 46h1v1h-1zM72 46h1v1h-1zM75 46h1v1h-1zM86 46h1v1h-1zM5 47h1v1h-1zM11 47h1v1h-1zM17 47h1v1h-1zM50 47h1v1h-1zM56 47h1v1h-1zM69 47h1v1h-1zM52 48h1v1h-1zM70 48h1v1h-1zM24 49h1v1h-1zM29 49h1v1h-1zM54 49h1v1h-1z"/>
<path fill="#cbcec5" d="M73 0h1v1h-1zM70 1h1v1h-1zM66 2h1v1h-1zM70 2h1v1h-1zM63 3h1v1h-1zM69 3h1v1h-1zM33 5h1v1h-1zM78 5h1v1h-1zM43 6h1v1h-1zM48 6h1v1h-1zM76 6h1v1h-1zM33 7h1v1h-1zM85 7h1v1h-1zM50 8h1v1h-1zM36 9h2v1h-2zM50 9h1v1h-1zM69 9h1v1h-1zM76 9h1v1h-1zM74 10h1v1h-1zM90 10h1v1h-1zM60 11h1v1h-1zM83 11h1v1h-1zM87 12h1v1h-1zM62 13h1v1h-1zM65 15h1v1h-1zM86 15h2v1h-2zM62 16h2v1h-2zM85 16h1v1h-1zM54 17h1v1h-1zM99 19h1v1h-1zM17 20h1v1h-1zM24 20h1v1h-1zM28 20h1v1h-1zM69 20h1v1h-1zM18 21h1v1h-1zM22 21h2v1h-2zM30 22h1v1h-1zM38 22h1v1h-1zM66 22h1v1h-1zM70 22h1v1h-1zM86 22h1v1h-1zM19 24h1v1h-1zM86 25h1v1h-1zM11 26h1v1h-1zM58 26h1v1h-1zM86 26h1v1h-1zM91 26h1v1h-1zM93 26h1v1h-1zM98 26h1v1h-1zM35 27h1v1h-1zM40 27h1v1h-1zM55 27h2v1h-2zM58 27h1v1h-1zM76 27h1v1h-1zM80 27h1v1h-1zM87 27h1v1h-1zM36 28h2v1h-2zM53 28h1v1h-1zM55 28h1v1h-1zM83 28h1v1h-1zM60 29h1v1h-1zM69 29h1v1h-1zM87 29h1v1h-1zM32 30h1v1h-1zM68 31h1v1h-1zM70 31h1v1h-1zM72 31h1v1h-1zM80 31h1v1h-1zM7 32h2v1h-2zM31 32h1v1h-1zM54 32h1v1h-1zM68 32h1v1h-1zM75 32h1v1h-1zM86 32h1v1h-1zM49 33h1v1h-1zM56 33h1v1h-1zM73 33h1v1h-1zM61 34h1v1h-1zM75 34h1v1h-1zM79 34h1v1h-1zM86 34h2v1h-2zM97 34h1v1h-1zM72 36h1v1h-1zM84 36h1v1h-1zM100 36h1v1h-1zM26 37h1v1h-1zM30 37h1v1h-1zM32 37h1v1h-1zM73 37h1v1h-1zM75 37h1v1h-1zM77 37h1v1h-1zM84 37h1v1h-1zM58 38h2v1h-2zM84 38h1v1h-1zM88 38h1v1h-1zM12 39h1v1h-1zM22 39h1v1h-1zM28 39h1v1h-1zM57 39h2v1h-2zM16 40h1v1h-1zM58 40h1v1h-1zM72 40h1v1h-1zM55 41h1v1h-1zM8 42h1v1h-1zM14 42h1v1h-1zM77 42h1v1h-1zM57 43h1v1h-1zM59 43h1v1h-1zM78 43h1v1h-1zM13 44h1v1h-1zM12 45h1v1h-1zM15 45h1v1h-1zM57 45h1v1h-1zM72 45h1v1h-1zM76 45h1v1h-1zM8 46h1v1h-1zM12 47h1v1h-1zM71 48h1v1h-1zM9 49h2v1h-2z"/>
<path fill="#bfc6bf" d="M35 0h1v1h-1zM68 0h1v1h-1zM92 3h2v1h-2zM59 5h1v1h-1zM45 7h1v1h-1zM51 7h1v1h-1zM58 7h1v1h-1zM69 7h1v1h-1zM76 7h1v1h-1zM80 7h1v1h-1zM35 8h1v1h-1zM49 8h1v1h-1zM89 8h1v1h-1zM30 9h1v1h-1zM49 9h1v1h-1zM75 9h1v1h-1zM80 9h1v1h-1zM74 11h1v1h-1zM84 11h1v1h-1zM87 13h1v1h-1zM64 14h1v1h-1zM68 15h1v1h-1zM84 15h1v1h-1zM93 17h1v1h-1zM74 18h1v1h-1zM16 19h1v1h-1zM58 19h1v1h-1zM90 20h1v1h-1zM30 21h1v1h-1zM60 21h1v1h-1zM87 21h1v1h-1zM90 21h1v1h-1zM20 22h1v1h-1zM97 22h1v1h-1zM16 23h1v1h-1zM25 23h1v1h-1zM38 23h1v1h-1zM62 23h1v1h-1zM13 24h1v1h-1zM38 24h1v1h-1zM85 24h1v1h-1zM88 24h1v1h-1zM57 25h2v1h-2zM87 25h1v1h-1zM6 26h1v1h-1zM10 26h1v1h-1zM11 27h1v1h-1zM15 27h2v1h-2zM78 27h1v1h-1zM86 27h1v1h-1zM94 27h1v1h-1zM97 27h1v1h-1zM99 27h1v1h-1zM42 28h1v1h-1zM57 28h1v1h-1zM65 28h1v1h-1zM86 28h1v1h-1zM96 28h1v1h-1zM98 28h2v1h-2zM13 29h1v1h-1zM64 29h1v1h-1zM74 29h1v1h-1zM80 29h1v1h-1zM8 30h1v1h-1zM44 30h1v1h-1zM60 30h1v1h-1zM80 30h1v1h-1zM87 30h1v1h-1zM8 31h1v1h-1zM46 31h1v1h-1zM71 31h1v1h-1zM53 32h1v1h-1zM74 32h1v1h-1zM96 32h1v1h-1zM28 33h1v1h-1zM72 33h1v1h-1zM79 33h1v1h-1zM35 34h1v1h-1zM60 34h1v1h-1zM66 34h1v1h-1zM72 34h1v1h-1zM76 34h1v1h-1zM76 35h1v1h-1zM90 35h1v1h-1zM85 36h1v1h-1zM1 37h1v1h-1zM29 37h1v1h-1zM49 37h3v1h-3zM74 37h1v1h-1zM76 37h1v1h-1zM85 37h1v1h-1zM24 38h2v1h-2zM74 38h1v1h-1zM89 38h1v1h-1zM74 39h1v1h-1zM56 40h1v1h-1zM5 41h1v1h-1zM74 41h1v1h-1zM76 41h1v1h-1zM3 43h1v1h-1zM5 43h1v1h-1zM2 44h1v1h-1zM57 44h1v1h-1zM59 44h1v1h-1zM72 44h1v1h-1zM74 44h1v1h-1zM21 45h1v1h-1zM86 45h1v1h-1zM7 47h1v1h-1zM70 47h1v1h-1zM74 47h1v1h-1zM5 48h1v1h-1zM56 49h1v1h-1zM1 50h1v1h-1z"/>
<path fill="#b3bdb8" d="M88 2h1v1h-1zM54 4h1v1h-1zM94 4h1v1h-1zM53 5h1v1h-1zM63 5h1v1h-1zM77 5h1v1h-1zM80 5h2v1h-2zM86 5h1v1h-1zM93 5h3v1h-3zM49 6h1v1h-1zM52 6h1v1h-1zM58 6h1v1h-1zM65 6h1v1h-1zM52 7h1v1h-1zM87 7h2v1h-2zM62 8h1v1h-1zM69 8h1v1h-1zM98 8h1v1h-1zM62 9h1v1h-1zM68 9h1v1h-1zM79 9h1v1h-1zM50 10h1v1h-1zM56 10h1v1h-1zM60 12h2v1h-2zM60 13h2v1h-2zM26 14h1v1h-1zM32 14h1v1h-1zM65 14h1v1h-1zM68 14h1v1h-1zM84 14h1v1h-1zM58 15h1v1h-1zM88 15h2v1h-2zM95 15h1v1h-1zM56 16h1v1h-1zM87 16h1v1h-1zM25 18h1v1h-1zM54 18h1v1h-1zM73 18h1v1h-1zM90 18h1v1h-1zM17 19h1v1h-1zM19 19h1v1h-1zM64 19h1v1h-1zM91 19h1v1h-1zM27 20h1v1h-1zM68 20h1v1h-1zM31 21h1v1h-1zM38 21h1v1h-1zM19 22h1v1h-1zM37 22h1v1h-1zM64 22h1v1h-1zM71 22h1v1h-1zM13 23h1v1h-1zM26 23h1v1h-1zM76 23h1v1h-1zM91 23h1v1h-1zM34 24h1v1h-1zM89 24h1v1h-1zM8 25h1v1h-1zM13 25h1v1h-1zM47 25h1v1h-1zM73 25h1v1h-1zM56 26h1v1h-1zM7 27h1v1h-1zM64 27h1v1h-1zM75 27h1v1h-1zM4 28h1v1h-1zM91 28h1v1h-1zM97 28h1v1h-1zM100 28h1v1h-1zM32 29h1v1h-1zM55 29h1v1h-1zM65 29h1v1h-1zM85 29h1v1h-1zM45 30h1v1h-1zM70 30h1v1h-1zM69 31h1v1h-1zM81 31h1v1h-1zM94 31h1v1h-1zM55 33h1v1h-1zM86 33h2v1h-2zM28 34h1v1h-1zM33 34h1v1h-1zM67 34h1v1h-1zM77 34h1v1h-1zM28 35h1v1h-1zM1 36h2v1h-2zM30 36h1v1h-1zM11 39h1v1h-1zM6 40h1v1h-1zM73 40h2v1h-2zM57 41h2v1h-2zM12 42h1v1h-1zM57 42h2v1h-2zM27 43h2v1h-2zM73 43h1v1h-1zM74 46h1v1h-1zM6 48h1v1h-1zM2 50h1v1h-1z"/>
<path fill="#a8b5b2" d="M72 0h1v1h-1zM99 1h1v1h-1zM35 2h1v1h-1zM67 2h1v1h-1zM93 2h1v1h-1zM64 3h1v1h-1zM34 4h1v1h-1zM93 4h1v1h-1zM60 5h3v1h-3zM85 5h1v1h-1zM31 6h1v1h-1zM51 6h1v1h-1zM69 6h1v1h-1zM99 6h1v1h-1zM34 7h1v1h-1zM46 7h1v1h-1zM49 7h2v1h-2zM77 7h1v1h-1zM98 7h1v1h-1zM58 8h1v1h-1zM74 8h1v1h-1zM88 9h1v1h-1zM49 10h1v1h-1zM78 10h1v1h-1zM70 11h1v1h-1zM74 13h1v1h-1zM86 13h1v1h-1zM25 14h1v1h-1zM58 14h2v1h-2zM94 15h1v1h-1zM65 16h1v1h-1zM39 17h1v1h-1zM87 17h1v1h-1zM89 17h1v1h-1zM26 18h1v1h-1zM15 19h1v1h-1zM18 19h1v1h-1zM23 19h2v1h-2zM74 19h1v1h-1zM16 20h1v1h-1zM20 20h1v1h-1zM22 20h1v1h-1zM65 20h1v1h-1zM21 21h1v1h-1zM86 21h1v1h-1zM12 22h2v1h-2zM17 22h1v1h-1zM67 22h1v1h-1zM69 22h1v1h-1zM12 23h1v1h-1zM34 23h1v1h-1zM92 23h1v1h-1zM20 24h1v1h-1zM26 24h1v1h-1zM39 24h1v1h-1zM42 24h1v1h-1zM56 24h2v1h-2zM61 24h1v1h-1zM75 24h1v1h-1zM91 24h1v1h-1zM12 25h1v1h-1zM68 25h2v1h-2zM92 25h2v1h-2zM55 26h1v1h-1zM73 26h1v1h-1zM90 26h1v1h-1zM10 27h1v1h-1zM33 27h1v1h-1zM65 27h1v1h-1zM77 27h1v1h-1zM91 27h1v1h-1zM96 27h1v1h-1zM44 28h1v1h-1zM56 28h1v1h-1zM68 28h1v1h-1zM90 28h1v1h-1zM56 29h1v1h-1zM61 29h1v1h-1zM63 29h1v1h-1zM70 29h1v1h-1zM73 29h1v1h-1zM78 29h2v1h-2zM83 29h1v1h-1zM12 30h1v1h-1zM84 30h1v1h-1zM93 30h1v1h-1zM36 31h1v1h-1zM6 32h1v1h-1zM29 33h1v1h-1zM33 33h1v1h-1zM48 34h1v1h-1zM96 34h1v1h-1zM77 35h1v1h-1zM76 36h2v1h-2zM0 37h1v1h-1zM2 37h1v1h-1zM13 37h1v1h-1zM25 37h1v1h-1zM31 37h1v1h-1zM0 38h1v1h-1zM13 39h1v1h-1zM75 40h1v1h-1zM5 42h1v1h-1zM13 42h1v1h-1zM75 45h1v1h-1zM52 46h1v1h-1z"/>
<path fill="#9cadab" d="M34 0h1v1h-1zM74 0h1v1h-1zM100 0h1v1h-1zM93 1h1v1h-1zM89 2h1v1h-1zM92 2h1v1h-1zM62 4h1v1h-1zM86 4h1v1h-1zM57 5h1v1h-1zM65 5h1v1h-1zM68 5h1v1h-1zM79 5h1v1h-1zM50 6h1v1h-1zM63 6h1v1h-1zM68 6h1v1h-1zM86 7h1v1h-1zM45 8h1v1h-1zM59 8h1v1h-1zM70 8h1v1h-1zM76 8h1v1h-1zM100 8h1v1h-1zM51 9h2v1h-2zM40 10h2v1h-2zM46 10h1v1h-1zM70 10h1v1h-1zM54 12h1v1h-1zM62 12h1v1h-1zM68 12h1v1h-1zM68 13h1v1h-1zM85 14h1v1h-1zM96 15h1v1h-1zM55 16h1v1h-1zM57 16h1v1h-1zM53 17h1v1h-1zM69 17h1v1h-1zM97 17h1v1h-1zM61 18h1v1h-1zM91 18h1v1h-1zM20 19h1v1h-1zM26 19h1v1h-1zM73 19h1v1h-1zM13 20h1v1h-1zM31 20h1v1h-1zM70 20h1v1h-1zM17 21h1v1h-1zM36 21h1v1h-1zM71 21h1v1h-1zM21 22h2v1h-2zM91 22h1v1h-1zM37 23h1v1h-1zM12 24h1v1h-1zM35 24h1v1h-1zM32 25h1v1h-1zM39 25h1v1h-1zM42 25h1v1h-1zM32 26h1v1h-1zM37 27h1v1h-1zM41 27h1v1h-1zM15 29h1v1h-1zM86 29h1v1h-1zM2 30h1v1h-1zM9 30h1v1h-1zM28 30h1v1h-1zM56 30h1v1h-1zM61 30h1v1h-1zM63 30h1v1h-1zM74 30h1v1h-1zM83 30h1v1h-1zM85 30h1v1h-1zM7 31h1v1h-1zM48 32h1v1h-1zM50 33h1v1h-1zM94 33h1v1h-1zM96 33h2v1h-2zM31 34h1v1h-1zM78 34h1v1h-1zM95 34h1v1h-1zM1 35h1v1h-1zM31 35h1v1h-1zM0 36h1v1h-1zM71 36h1v1h-1zM12 37h1v1h-1zM28 38h1v1h-1zM73 38h1v1h-1zM14 39h1v1h-1zM10 40h1v1h-1zM56 41h1v1h-1zM8 45h1v1h-1zM73 45h1v1h-1z"/>
<path fill="#90a4a5" d="M35 1h2v1h-2zM100 1h1v1h-1zM36 2h1v1h-1zM65 3h1v1h-1zM88 3h1v1h-1zM69 4h1v1h-1zM92 4h1v1h-1zM96 4h1v1h-1zM54 5h1v1h-1zM64 5h1v1h-1zM69 5h1v1h-1zM53 6h1v1h-1zM59 6h1v1h-1zM62 6h1v1h-1zM64 6h1v1h-1zM30 7h1v1h-1zM59 7h1v1h-1zM78 7h1v1h-1zM33 8h1v1h-1zM38 9h1v1h-1zM42 9h1v1h-1zM59 9h1v1h-1zM63 9h1v1h-1zM73 9h1v1h-1zM31 10h1v1h-1zM45 10h1v1h-1zM47 10h1v1h-1zM28 11h1v1h-1zM32 11h1v1h-1zM90 11h1v1h-1zM86 12h1v1h-1zM32 13h1v1h-1zM63 14h1v1h-1zM73 14h1v1h-1zM96 14h1v1h-1zM32 15h1v1h-1zM64 15h1v1h-1zM73 15h1v1h-1zM85 15h1v1h-1zM94 17h1v1h-1zM20 18h1v1h-1zM45 18h1v1h-1zM53 18h1v1h-1zM65 18h1v1h-1zM72 18h1v1h-1zM14 19h1v1h-1zM22 19h1v1h-1zM45 19h1v1h-1zM70 19h1v1h-1zM38 20h1v1h-1zM64 20h1v1h-1zM74 20h1v1h-1zM24 21h1v1h-1zM37 21h1v1h-1zM39 21h1v1h-1zM96 21h1v1h-1zM16 22h1v1h-1zM68 22h1v1h-1zM96 22h1v1h-1zM71 23h1v1h-1zM75 23h1v1h-1zM14 24h2v1h-2zM43 24h1v1h-1zM10 25h1v1h-1zM43 25h1v1h-1zM56 25h1v1h-1zM70 25h1v1h-1zM97 25h2v1h-2zM22 26h1v1h-1zM99 26h1v1h-1zM68 27h1v1h-1zM100 27h1v1h-1zM43 28h1v1h-1zM45 28h1v1h-1zM76 28h1v1h-1zM79 28h1v1h-1zM81 28h2v1h-2zM14 29h1v1h-1zM44 29h1v1h-1zM62 29h1v1h-1zM65 30h1v1h-1zM72 30h1v1h-1zM31 31h1v1h-1zM50 31h2v1h-2zM74 31h1v1h-1zM93 31h1v1h-1zM28 32h1v1h-1zM51 32h1v1h-1zM56 32h1v1h-1zM69 32h1v1h-1zM80 32h1v1h-1zM93 32h1v1h-1zM95 32h1v1h-1zM31 33h1v1h-1zM48 33h1v1h-1zM52 33h1v1h-1zM80 33h1v1h-1zM95 33h1v1h-1zM32 34h1v1h-1zM34 34h1v1h-1zM12 36h2v1h-2zM27 36h1v1h-1zM32 36h1v1h-1zM49 36h1v1h-1zM52 36h1v1h-1zM99 36h1v1h-1zM12 38h1v1h-1zM29 39h1v1h-1zM73 39h1v1h-1zM4 42h1v1h-1zM58 43h1v1h-1zM73 44h1v1h-1zM6 47h1v1h-1zM73 47h1v1h-1zM57 49h1v1h-1z"/>
<path fill="#849c9e" d="M88 1h1v1h-1zM34 2h1v1h-1zM90 2h1v1h-1zM99 2h1v1h-1zM30 3h1v1h-1zM68 3h1v1h-1zM94 3h2v1h-2zM82 4h1v1h-1zM55 5h1v1h-1zM66 6h1v1h-1zM94 6h1v1h-1zM47 7h1v1h-1zM62 7h1v1h-1zM75 7h1v1h-1zM79 7h1v1h-1zM75 8h1v1h-1zM77 8h1v1h-1zM80 8h1v1h-1zM39 9h1v1h-1zM43 9h3v1h-3zM60 9h2v1h-2zM70 9h1v1h-1zM100 9h1v1h-1zM51 10h1v1h-1zM55 10h1v1h-1zM61 10h1v1h-1zM91 10h1v1h-1zM27 11h1v1h-1zM49 11h1v1h-1zM54 11h1v1h-1zM91 11h1v1h-1zM74 12h1v1h-1zM26 13h1v1h-1zM71 14h1v1h-1zM45 15h1v1h-1zM71 15h1v1h-1zM45 16h1v1h-1zM54 16h1v1h-1zM58 16h1v1h-1zM64 16h1v1h-1zM94 16h1v1h-1zM98 16h1v1h-1zM29 17h1v1h-1zM45 17h1v1h-1zM61 17h1v1h-1zM92 17h1v1h-1zM64 18h1v1h-1zM92 18h1v1h-1zM21 19h1v1h-1zM25 19h1v1h-1zM67 19h1v1h-1zM12 20h1v1h-1zM25 20h1v1h-1zM91 20h1v1h-1zM12 21h2v1h-2zM61 21h1v1h-1zM70 21h1v1h-1zM18 22h1v1h-1zM29 22h1v1h-1zM36 22h1v1h-1zM39 22h1v1h-1zM8 23h1v1h-1zM29 23h1v1h-1zM35 23h1v1h-1zM39 23h1v1h-1zM56 23h1v1h-1zM8 24h1v1h-1zM47 24h1v1h-1zM55 24h1v1h-1zM99 24h1v1h-1zM6 25h1v1h-1zM22 25h1v1h-1zM28 25h1v1h-1zM55 25h1v1h-1zM54 26h1v1h-1zM67 26h3v1h-3zM87 26h1v1h-1zM17 27h1v1h-1zM44 27h1v1h-1zM53 27h1v1h-1zM90 27h1v1h-1zM3 28h1v1h-1zM11 28h1v1h-1zM14 28h1v1h-1zM31 28h1v1h-1zM75 28h1v1h-1zM77 28h1v1h-1zM31 29h1v1h-1zM76 29h1v1h-1zM52 30h1v1h-1zM62 30h1v1h-1zM64 30h1v1h-1zM86 30h1v1h-1zM56 31h1v1h-1zM97 32h1v1h-1zM15 33h1v1h-1zM2 35h1v1h-1zM32 35h1v1h-1zM49 35h1v1h-1zM50 36h1v1h-1zM13 38h1v1h-1zM22 38h1v1h-1zM10 39h1v1h-1zM20 39h2v1h-2zM30 39h1v1h-1zM75 41h1v1h-1zM1 43h2v1h-2z"/>
<path fill="#799498" d="M81 0h1v1h-1zM90 0h1v1h-1zM93 0h1v1h-1zM34 1h1v1h-1zM84 2h1v1h-1zM100 2h1v1h-1zM34 3h1v1h-1zM89 3h1v1h-1zM99 3h1v1h-1zM99 4h1v1h-1zM31 5h1v1h-1zM84 5h1v1h-1zM54 6h1v1h-1zM86 6h1v1h-1zM100 6h1v1h-1zM48 7h1v1h-1zM89 7h1v1h-1zM100 7h1v1h-1zM40 8h2v1h-2zM73 8h1v1h-1zM29 9h1v1h-1zM77 9h2v1h-2zM89 9h1v1h-1zM99 9h1v1h-1zM48 10h1v1h-1zM77 10h1v1h-1zM50 11h2v1h-2zM55 11h2v1h-2zM61 11h1v1h-1zM26 12h1v1h-1zM69 12h1v1h-1zM25 13h1v1h-1zM54 13h1v1h-1zM59 13h1v1h-1zM88 13h1v1h-1zM62 14h1v1h-1zM88 14h1v1h-1zM95 14h1v1h-1zM21 15h1v1h-1zM72 15h1v1h-1zM93 15h1v1h-1zM28 16h1v1h-1zM93 16h1v1h-1zM21 17h1v1h-1zM38 17h1v1h-1zM52 17h1v1h-1zM86 17h1v1h-1zM98 17h1v1h-1zM19 18h1v1h-1zM22 18h1v1h-1zM58 18h1v1h-1zM70 18h1v1h-1zM99 18h1v1h-1zM13 19h1v1h-1zM66 19h1v1h-1zM72 19h1v1h-1zM100 19h1v1h-1zM39 20h1v1h-1zM61 20h1v1h-1zM16 21h1v1h-1zM98 21h1v1h-1zM23 22h1v1h-1zM31 22h1v1h-1zM18 23h1v1h-1zM43 23h1v1h-1zM55 23h1v1h-1zM57 23h1v1h-1zM93 23h1v1h-1zM9 24h1v1h-1zM71 24h1v1h-1zM92 24h2v1h-2zM7 25h1v1h-1zM38 25h1v1h-1zM40 25h1v1h-1zM48 25h1v1h-1zM67 25h1v1h-1zM99 25h1v1h-1zM28 26h1v1h-1zM33 26h1v1h-1zM43 26h1v1h-1zM47 26h1v1h-1zM89 26h1v1h-1zM96 26h1v1h-1zM18 27h1v1h-1zM32 27h1v1h-1zM36 27h1v1h-1zM74 27h1v1h-1zM95 27h1v1h-1zM10 28h1v1h-1zM46 28h1v1h-1zM74 28h1v1h-1zM78 28h1v1h-1zM80 28h1v1h-1zM37 29h1v1h-1zM81 29h1v1h-1zM15 30h1v1h-1zM27 30h1v1h-1zM33 30h1v1h-1zM51 30h1v1h-1zM82 30h1v1h-1zM49 31h1v1h-1zM52 31h1v1h-1zM76 31h1v1h-1zM9 32h1v1h-1zM15 32h1v1h-1zM52 32h1v1h-1zM94 32h1v1h-1zM35 33h1v1h-1zM47 33h1v1h-1zM51 33h1v1h-1zM31 36h1v1h-1zM51 36h1v1h-1zM14 37h1v1h-1zM10 38h2v1h-2zM15 38h1v1h-1zM30 38h1v1h-1zM15 39h1v1h-1zM9 41h1v1h-1zM1 42h1v1h-1zM12 43h1v1h-1zM58 44h1v1h-1zM58 45h1v1h-1z"/>
<path fill="#6d8b91" d="M69 0h1v1h-1zM71 0h1v1h-1zM91 0h1v1h-1zM99 0h1v1h-1zM91 2h1v1h-1zM98 3h1v1h-1zM30 4h1v1h-1zM63 4h1v1h-1zM87 4h2v1h-2zM66 5h1v1h-1zM92 5h1v1h-1zM99 5h1v1h-1zM61 6h1v1h-1zM75 6h1v1h-1zM92 6h1v1h-1zM93 7h2v1h-2zM96 8h2v1h-2zM41 9h1v1h-1zM71 9h1v1h-1zM52 11h1v1h-1zM27 12h1v1h-1zM53 12h1v1h-1zM55 12h1v1h-1zM88 12h1v1h-1zM53 13h1v1h-1zM70 14h1v1h-1zM57 15h1v1h-1zM63 15h1v1h-1zM70 15h1v1h-1zM21 16h1v1h-1zM39 16h1v1h-1zM53 16h1v1h-1zM69 16h1v1h-1zM72 16h1v1h-1zM86 16h1v1h-1zM95 16h1v1h-1zM97 16h1v1h-1zM51 17h1v1h-1zM57 17h1v1h-1zM70 17h1v1h-1zM21 18h1v1h-1zM24 18h1v1h-1zM39 18h1v1h-1zM93 18h1v1h-1zM100 18h1v1h-1zM44 19h1v1h-1zM61 19h2v1h-2zM14 20h1v1h-1zM53 20h1v1h-1zM60 20h1v1h-1zM32 21h1v1h-1zM54 21h1v1h-1zM65 21h1v1h-1zM59 22h2v1h-2zM63 22h1v1h-1zM74 22h1v1h-1zM20 23h1v1h-1zM96 23h1v1h-1zM24 24h1v1h-1zM30 24h1v1h-1zM37 24h1v1h-1zM58 24h1v1h-1zM60 24h1v1h-1zM98 24h1v1h-1zM100 24h1v1h-1zM11 25h1v1h-1zM64 25h1v1h-1zM5 26h1v1h-1zM66 26h1v1h-1zM19 27h1v1h-1zM45 27h1v1h-1zM7 28h1v1h-1zM15 28h1v1h-1zM32 28h2v1h-2zM2 29h1v1h-1zM10 29h2v1h-2zM35 29h1v1h-1zM82 29h1v1h-1zM13 30h2v1h-2zM46 30h1v1h-1zM55 30h1v1h-1zM9 31h1v1h-1zM28 31h1v1h-1zM33 31h1v1h-1zM35 31h1v1h-1zM33 32h1v1h-1zM35 32h1v1h-1zM55 32h1v1h-1zM1 34h1v1h-1zM49 34h2v1h-2zM50 35h1v1h-1zM3 36h1v1h-1zM15 37h1v1h-1zM23 37h2v1h-2zM1 38h1v1h-1zM14 38h1v1h-1zM29 38h1v1h-1zM4 39h1v1h-1zM7 40h1v1h-1zM8 41h1v1h-1z"/>
<path fill="#61838b" d="M70 0h1v1h-1zM84 1h1v1h-1zM92 1h1v1h-1zM70 3h1v1h-1zM91 3h1v1h-1zM78 4h1v1h-1zM89 4h1v1h-1zM56 5h1v1h-1zM29 7h1v1h-1zM70 7h1v1h-1zM57 8h1v1h-1zM61 8h1v1h-1zM63 8h1v1h-1zM71 8h2v1h-2zM95 8h1v1h-1zM33 9h1v1h-1zM35 9h1v1h-1zM40 9h1v1h-1zM46 9h1v1h-1zM64 9h1v1h-1zM98 9h1v1h-1zM28 10h1v1h-1zM52 10h1v1h-1zM97 10h1v1h-1zM53 11h1v1h-1zM73 11h1v1h-1zM32 12h1v1h-1zM70 12h1v1h-1zM73 13h1v1h-1zM45 14h1v1h-1zM53 14h1v1h-1zM72 14h1v1h-1zM89 14h1v1h-1zM93 14h2v1h-2zM27 15h1v1h-1zM31 15h1v1h-1zM36 15h1v1h-1zM44 15h1v1h-1zM59 15h1v1h-1zM69 15h1v1h-1zM92 15h1v1h-1zM97 15h1v1h-1zM100 15h1v1h-1zM44 16h1v1h-1zM51 16h2v1h-2zM92 16h1v1h-1zM22 17h1v1h-1zM64 17h2v1h-2zM72 17h1v1h-1zM90 17h1v1h-1zM96 17h1v1h-1zM38 18h1v1h-1zM44 18h1v1h-1zM55 18h1v1h-1zM59 18h1v1h-1zM71 18h1v1h-1zM34 19h1v1h-1zM43 19h1v1h-1zM53 19h1v1h-1zM63 19h1v1h-1zM71 19h1v1h-1zM15 20h1v1h-1zM21 20h1v1h-1zM26 20h1v1h-1zM32 20h1v1h-1zM45 20h1v1h-1zM47 20h2v1h-2zM54 20h1v1h-1zM58 20h1v1h-1zM71 20h1v1h-1zM29 21h1v1h-1zM47 21h2v1h-2zM51 21h1v1h-1zM53 21h1v1h-1zM59 21h1v1h-1zM91 21h1v1h-1zM95 21h1v1h-1zM9 22h1v1h-1zM48 22h1v1h-1zM54 22h1v1h-1zM92 22h1v1h-1zM98 22h1v1h-1zM9 23h1v1h-1zM19 23h1v1h-1zM42 23h1v1h-1zM47 23h1v1h-1zM97 23h1v1h-1zM21 24h1v1h-1zM48 24h1v1h-1zM59 24h1v1h-1zM74 24h1v1h-1zM96 24h2v1h-2zM5 25h1v1h-1zM23 25h1v1h-1zM31 25h1v1h-1zM88 25h1v1h-1zM100 25h1v1h-1zM38 26h1v1h-1zM88 26h1v1h-1zM100 26h1v1h-1zM4 27h1v1h-1zM43 27h1v1h-1zM69 27h1v1h-1zM33 29h1v1h-1zM81 30h1v1h-1zM2 31h1v1h-1zM6 31h1v1h-1zM55 31h1v1h-1zM75 31h1v1h-1zM14 32h1v1h-1zM34 33h1v1h-1zM2 34h1v1h-1zM51 35h1v1h-1zM14 36h1v1h-1zM26 36h1v1h-1zM19 39h1v1h-1zM5 40h1v1h-1zM1 41h1v1h-1zM3 42h1v1h-1zM13 43h1v1h-1z"/>
<path fill="#567a84" d="M80 0h1v1h-1zM82 0h1v1h-1zM86 0h1v1h-1zM92 0h1v1h-1zM98 0h1v1h-1zM71 1h2v1h-2zM80 1h1v1h-1zM85 1h1v1h-1zM87 1h1v1h-1zM89 1h3v1h-3zM71 2h1v1h-1zM80 2h1v1h-1zM29 3h1v1h-1zM66 3h1v1h-1zM85 3h1v1h-1zM90 3h1v1h-1zM100 3h1v1h-1zM33 4h1v1h-1zM73 4h1v1h-1zM85 4h1v1h-1zM98 4h1v1h-1zM67 5h1v1h-1zM76 5h1v1h-1zM87 5h1v1h-1zM100 5h1v1h-1zM26 6h1v1h-1zM60 6h1v1h-1zM67 6h1v1h-1zM74 6h1v1h-1zM95 6h1v1h-1zM26 7h1v1h-1zM53 7h1v1h-1zM57 7h1v1h-1zM61 7h1v1h-1zM68 7h1v1h-1zM74 7h1v1h-1zM24 8h1v1h-1zM28 8h1v1h-1zM46 8h1v1h-1zM68 8h1v1h-1zM78 8h1v1h-1zM94 8h1v1h-1zM23 9h2v1h-2zM28 9h1v1h-1zM48 9h1v1h-1zM65 9h1v1h-1zM72 9h1v1h-1zM90 9h1v1h-1zM96 9h2v1h-2zM33 10h1v1h-1zM39 10h1v1h-1zM53 10h2v1h-2zM59 10h1v1h-1zM73 10h1v1h-1zM48 11h1v1h-1zM57 11h1v1h-1zM72 11h1v1h-1zM25 12h1v1h-1zM28 12h1v1h-1zM31 12h1v1h-1zM44 12h1v1h-1zM49 12h1v1h-1zM73 12h1v1h-1zM95 12h1v1h-1zM27 13h1v1h-1zM43 13h2v1h-2zM55 13h1v1h-1zM21 14h1v1h-1zM31 14h1v1h-1zM33 14h1v1h-1zM52 14h1v1h-1zM54 14h1v1h-1zM57 14h1v1h-1zM92 14h1v1h-1zM97 14h1v1h-1zM22 15h1v1h-1zM53 15h2v1h-2zM62 15h1v1h-1zM38 16h1v1h-1zM70 16h2v1h-2zM90 16h1v1h-1zM96 16h1v1h-1zM99 16h2v1h-2zM10 17h1v1h-1zM20 17h1v1h-1zM40 17h1v1h-1zM44 17h1v1h-1zM71 17h1v1h-1zM95 17h1v1h-1zM100 17h1v1h-1zM23 18h1v1h-1zM29 18h1v1h-1zM98 18h1v1h-1zM12 19h1v1h-1zM32 19h2v1h-2zM38 19h2v1h-2zM42 19h1v1h-1zM46 19h1v1h-1zM54 19h1v1h-1zM57 19h1v1h-1zM59 19h1v1h-1zM92 19h1v1h-1zM98 19h1v1h-1zM29 20h2v1h-2zM35 20h1v1h-1zM44 20h1v1h-1zM46 20h1v1h-1zM94 20h1v1h-1zM98 20h2v1h-2zM35 21h1v1h-1zM50 21h1v1h-1zM52 21h1v1h-1zM64 21h1v1h-1zM66 21h1v1h-1zM74 21h1v1h-1zM32 22h1v1h-1zM47 22h1v1h-1zM56 22h1v1h-1zM21 23h1v1h-1zM24 23h1v1h-1zM33 23h1v1h-1zM36 23h1v1h-1zM44 23h1v1h-1zM48 23h1v1h-1zM74 23h1v1h-1zM98 23h2v1h-2zM31 24h1v1h-1zM33 24h1v1h-1zM73 24h1v1h-1zM94 24h2v1h-2zM24 25h1v1h-1zM41 25h1v1h-1zM49 25h1v1h-1zM65 25h2v1h-2zM71 25h1v1h-1zM89 25h1v1h-1zM27 26h1v1h-1zM37 26h1v1h-1zM39 26h2v1h-2zM42 26h1v1h-1zM64 26h2v1h-2zM6 27h1v1h-1zM21 27h1v1h-1zM42 27h1v1h-1zM46 27h1v1h-1zM16 28h1v1h-1zM30 28h1v1h-1zM69 28h1v1h-1zM1 29h1v1h-1zM28 29h1v1h-1zM34 29h1v1h-1zM36 29h1v1h-1zM45 29h2v1h-2zM71 29h2v1h-2zM75 29h1v1h-1zM26 30h1v1h-1zM71 30h1v1h-1zM76 30h1v1h-1zM14 31h2v1h-2zM27 31h1v1h-1zM5 32h1v1h-1zM20 32h1v1h-1zM29 32h1v1h-1zM14 33h1v1h-1zM30 33h1v1h-1zM51 34h1v1h-1zM15 36h1v1h-1zM25 36h1v1h-1zM3 37h1v1h-1zM11 37h1v1h-1zM4 38h1v1h-1zM1 39h1v1h-1zM3 39h1v1h-1zM17 39h2v1h-2zM1 40h1v1h-1z"/>
<path fill="#4a727e" d="M0 0h34v1h-34zM75 0h5v1h-5zM83 0h3v1h-3zM87 0h3v1h-3zM94 0h4v1h-4zM0 1h34v1h-34zM73 1h7v1h-7zM81 1h3v1h-3zM86 1h1v1h-1zM94 1h5v1h-5zM0 2h34v1h-34zM72 2h8v1h-8zM81 2h3v1h-3zM85 2h3v1h-3zM94 2h5v1h-5zM0 3h29v1h-29zM31 3h3v1h-3zM67 3h1v1h-1zM71 3h14v1h-14zM86 3h2v1h-2zM96 3h2v1h-2zM0 4h30v1h-30zM31 4h2v1h-2zM64 4h5v1h-5zM70 4h3v1h-3zM74 4h4v1h-4zM79 4h3v1h-3zM83 4h2v1h-2zM90 4h2v1h-2zM97 4h1v1h-1zM100 4h1v1h-1zM0 5h31v1h-31zM70 5h6v1h-6zM88 5h4v1h-4zM96 5h3v1h-3zM0 6h26v1h-26zM27 6h4v1h-4zM55 6h3v1h-3zM70 6h4v1h-4zM87 6h5v1h-5zM96 6h3v1h-3zM0 7h26v1h-26zM27 7h2v1h-2zM54 7h3v1h-3zM60 7h1v1h-1zM63 7h5v1h-5zM71 7h3v1h-3zM90 7h3v1h-3zM95 7h3v1h-3zM0 8h24v1h-24zM25 8h3v1h-3zM34 8h1v1h-1zM47 8h2v1h-2zM53 8h4v1h-4zM60 8h1v1h-1zM64 8h4v1h-4zM79 8h1v1h-1zM90 8h4v1h-4zM0 9h23v1h-23zM25 9h3v1h-3zM34 9h1v1h-1zM47 9h1v1h-1zM53 9h6v1h-6zM66 9h2v1h-2zM91 9h5v1h-5zM0 10h28v1h-28zM29 10h2v1h-2zM34 10h5v1h-5zM42 10h3v1h-3zM57 10h2v1h-2zM62 10h2v1h-2zM71 10h2v1h-2zM88 10h2v1h-2zM92 10h5v1h-5zM98 10h3v1h-3zM0 11h27v1h-27zM29 11h3v1h-3zM33 11h15v1h-15zM58 11h2v1h-2zM62 11h2v1h-2zM71 11h1v1h-1zM88 11h2v1h-2zM92 11h9v1h-9zM0 12h25v1h-25zM29 12h2v1h-2zM33 12h11v1h-11zM45 12h4v1h-4zM50 12h3v1h-3zM56 12h4v1h-4zM71 12h2v1h-2zM89 12h6v1h-6zM96 12h5v1h-5zM0 13h25v1h-25zM28 13h4v1h-4zM33 13h10v1h-10zM45 13h8v1h-8zM56 13h3v1h-3zM69 13h4v1h-4zM89 13h12v1h-12zM8 14h13v1h-13zM22 14h3v1h-3zM27 14h4v1h-4zM34 14h11v1h-11zM46 14h6v1h-6zM55 14h2v1h-2zM60 14h2v1h-2zM69 14h1v1h-1zM90 14h2v1h-2zM98 14h3v1h-3zM9 15h12v1h-12zM23 15h2v1h-2zM28 15h3v1h-3zM33 15h3v1h-3zM37 15h7v1h-7zM46 15h7v1h-7zM55 15h2v1h-2zM60 15h2v1h-2zM90 15h2v1h-2zM98 15h2v1h-2zM10 16h11v1h-11zM22 16h3v1h-3zM29 16h9v1h-9zM40 16h4v1h-4zM46 16h5v1h-5zM59 16h3v1h-3zM91 16h1v1h-1zM11 17h9v1h-9zM23 17h2v1h-2zM30 17h8v1h-8zM41 17h3v1h-3zM46 17h5v1h-5zM58 17h3v1h-3zM91 17h1v1h-1zM99 17h1v1h-1zM10 18h9v1h-9zM30 18h8v1h-8zM40 18h4v1h-4zM46 18h7v1h-7zM56 18h2v1h-2zM60 18h1v1h-1zM94 18h4v1h-4zM10 19h2v1h-2zM29 19h3v1h-3zM35 19h3v1h-3zM40 19h2v1h-2zM47 19h6v1h-6zM55 19h2v1h-2zM60 19h1v1h-1zM93 19h5v1h-5zM10 20h2v1h-2zM33 20h2v1h-2zM36 20h2v1h-2zM40 20h4v1h-4zM49 20h4v1h-4zM55 20h3v1h-3zM59 20h1v1h-1zM62 20h2v1h-2zM66 20h2v1h-2zM72 20h2v1h-2zM92 20h2v1h-2zM95 20h3v1h-3zM100 20h1v1h-1zM10 21h2v1h-2zM14 21h2v1h-2zM25 21h4v1h-4zM33 21h2v1h-2zM40 21h7v1h-7zM49 21h1v1h-1zM55 21h4v1h-4zM62 21h2v1h-2zM67 21h3v1h-3zM72 21h2v1h-2zM92 21h3v1h-3zM99 21h2v1h-2zM10 22h2v1h-2zM14 22h2v1h-2zM24 22h5v1h-5zM33 22h3v1h-3zM40 22h7v1h-7zM49 22h5v1h-5zM55 22h1v1h-1zM57 22h2v1h-2zM61 22h2v1h-2zM72 22h2v1h-2zM93 22h3v1h-3zM99 22h2v1h-2zM10 23h2v1h-2zM14 23h2v1h-2zM22 23h2v1h-2zM27 23h2v1h-2zM31 23h2v1h-2zM40 23h2v1h-2zM45 23h2v1h-2zM49 23h6v1h-6zM58 23h4v1h-4zM72 23h2v1h-2zM94 23h2v1h-2zM100 23h1v1h-1zM6 24h2v1h-2zM10 24h2v1h-2zM22 24h2v1h-2zM27 24h3v1h-3zM32 24h1v1h-1zM36 24h1v1h-1zM40 24h2v1h-2zM44 24h3v1h-3zM49 24h6v1h-6zM72 24h1v1h-1zM25 25h3v1h-3zM29 25h2v1h-2zM33 25h5v1h-5zM44 25h3v1h-3zM50 25h5v1h-5zM72 25h1v1h-1zM94 25h3v1h-3zM23 26h4v1h-4zM29 26h3v1h-3zM34 26h3v1h-3zM41 26h1v1h-1zM44 26h3v1h-3zM48 26h6v1h-6zM70 26h3v1h-3zM94 26h2v1h-2zM5 27h1v1h-1zM20 27h1v1h-1zM22 27h10v1h-10zM47 27h6v1h-6zM70 27h4v1h-4zM5 28h2v1h-2zM17 28h13v1h-13zM47 28h6v1h-6zM70 28h4v1h-4zM0 29h1v1h-1zM3 29h5v1h-5zM16 29h12v1h-12zM29 29h2v1h-2zM47 29h6v1h-6zM0 30h2v1h-2zM3 30h5v1h-5zM10 30h2v1h-2zM16 30h10v1h-10zM29 30h3v1h-3zM34 30h4v1h-4zM47 30h4v1h-4zM75 30h1v1h-1zM0 31h2v1h-2zM3 31h3v1h-3zM10 31h4v1h-4zM16 31h11v1h-11zM29 31h2v1h-2zM34 31h1v1h-1zM47 31h2v1h-2zM0 32h5v1h-5zM10 32h4v1h-4zM16 32h4v1h-4zM21 32h7v1h-7zM30 32h1v1h-1zM34 32h1v1h-1zM47 32h1v1h-1zM0 33h14v1h-14zM16 33h12v1h-12zM0 34h1v1h-1zM3 34h25v1h-25zM52 34h1v1h-1zM0 35h1v1h-1zM3 35h25v1h-25zM52 35h1v1h-1zM4 36h8v1h-8zM16 36h9v1h-9zM4 37h7v1h-7zM16 37h7v1h-7zM2 38h2v1h-2zM5 38h5v1h-5zM16 38h6v1h-6zM2 39h1v1h-1zM5 39h5v1h-5zM16 39h1v1h-1zM2 40h3v1h-3zM8 40h2v1h-2zM2 41h3v1h-3zM2 42h1v1h-1z"/>
<path fill="#709f8d" d="M1 19h1v1h-1zM1 24h1v1h-1z"/>
<path fill="#659986" d="M3 27h1v1h-1z"/>
<path fill="#59927f" d="M0 19h1v1h-1zM2 19h1v1h-1zM2 20h1v1h-1zM1 23h2v1h-2zM0 24h1v1h-1zM2 24h1v1h-1z"/>
<path fill="#4e8c78" d="M0 14h8v1h-8zM0 15h9v1h-9zM0 16h10v1h-10zM0 17h10v1h-10zM0 18h10v1h-10zM3 19h7v1h-7zM0 20h2v1h-2zM3 20h7v1h-7zM0 21h10v1h-10zM0 22h9v1h-9zM0 23h1v1h-1zM3 23h5v1h-5zM3 24h3v1h-3zM0 25h5v1h-5zM0 26h5v1h-5zM0 27h3v1h-3zM0 28h3v1h-3z"/>
<path fill="#e1e1d6" d="M7 46h1v1h-1zM23 46h1v1h-1zM28 46h1v1h-1zM31 46h1v1h-1zM34 46h1v1h-1zM57 46h1v1h-1zM70 46h1v1h-1zM21 47h1v1h-1zM71 47h2v1h-2zM80 47h1v1h-1zM8 48h1v1h-1zM21 48h1v1h-1zM32 48h1v1h-1zM34 48h1v1h-1zM54 48h2v1h-2zM73 48h1v1h-1zM82 48h1v1h-1zM87 48h2v1h-2zM21 49h3v1h-3zM72 49h1v1h-1zM79 49h1v1h-1zM82 49h1v1h-1zM99 49h2v1h-2zM21 50h2v1h-2zM63 50h1v1h-1zM99 50h2v1h-2zM24 51h1v1h-1zM26 51h1v1h-1zM38 51h1v1h-1zM87 51h1v1h-1zM94 51h2v1h-2zM22 52h1v1h-1zM24 52h1v1h-1zM38 52h1v1h-1zM41 52h1v1h-1zM53 52h2v1h-2zM94 52h1v1h-1zM23 53h2v1h-2zM35 53h1v1h-1zM37 53h2v1h-2zM50 53h3v1h-3zM54 53h1v1h-1zM95 53h1v1h-1zM3 54h1v1h-1zM28 54h1v1h-1zM44 54h1v1h-1zM50 54h1v1h-1zM74 54h1v1h-1zM88 54h1v1h-1zM96 54h2v1h-2zM99 54h1v1h-1zM33 55h1v1h-1zM39 55h2v1h-2zM44 55h3v1h-3zM62 55h1v1h-1zM74 55h2v1h-2zM83 55h1v1h-1zM88 55h1v1h-1zM96 55h1v1h-1zM98 55h1v1h-1zM33 56h1v1h-1zM40 56h1v1h-1zM61 56h1v1h-1zM74 56h2v1h-2zM77 56h2v1h-2zM82 57h1v1h-1zM84 57h1v1h-1zM44 58h2v1h-2zM54 58h1v1h-1zM83 58h1v1h-1zM43 59h1v1h-1zM53 59h1v1h-1zM43 60h1v1h-1zM51 60h1v1h-1zM62 60h1v1h-1zM42 61h1v1h-1zM49 61h1v1h-1zM51 61h1v1h-1zM83 61h1v1h-1zM49 62h1v1h-1zM62 63h1v1h-1zM76 63h1v1h-1zM61 64h4v1h-4zM62 65h1v1h-1zM64 65h2v1h-2zM65 66h1v1h-1zM64 67h2v1h-2zM63 71h1v1h-1zM63 74h1v1h-1zM62 75h1v1h-1zM16 76h1v1h-1zM63 76h1v1h-1zM6 77h1v1h-1zM12 77h1v1h-1zM1 78h1v1h-1zM8 78h1v1h-1zM62 81h2v1h-2zM69 83h1v1h-1zM17 93h1v1h-1z"/>
<path fill="#aec2b1" d="M91 60h1v1h-1zM90 61h3v1h-3zM94 61h2v1h-2zM93 62h1v1h-1zM95 62h2v1h-2zM89 63h1v1h-1zM96 63h1v1h-1zM95 64h1v1h-1zM100 64h1v1h-1zM87 65h1v1h-1zM72 66h1v1h-1zM87 66h3v1h-3zM95 66h1v1h-1zM98 66h1v1h-1zM73 67h3v1h-3zM94 67h1v1h-1zM96 67h1v1h-1zM69 68h4v1h-4zM74 68h1v1h-1zM85 68h1v1h-1zM71 69h1v1h-1zM74 69h2v1h-2zM95 69h2v1h-2zM69 70h1v1h-1zM76 70h1v1h-1zM79 70h2v1h-2zM96 70h1v1h-1zM84 71h1v1h-1zM94 71h1v1h-1zM82 72h1v1h-1zM70 73h1v1h-1zM69 74h1v1h-1zM95 74h2v1h-2zM96 75h1v1h-1zM70 76h1v1h-1zM77 76h1v1h-1zM81 76h3v1h-3zM69 77h3v1h-3zM81 77h2v1h-2zM84 77h1v1h-1zM62 78h1v1h-1zM69 78h1v1h-1zM76 78h2v1h-2zM81 78h1v1h-1zM84 78h1v1h-1zM96 78h1v1h-1zM55 79h2v1h-2zM60 79h1v1h-1zM64 79h1v1h-1zM71 79h1v1h-1zM74 79h3v1h-3zM81 79h1v1h-1zM83 79h1v1h-1zM95 79h2v1h-2zM11 80h1v1h-1zM44 80h6v1h-6zM53 80h1v1h-1zM55 80h2v1h-2zM58 80h1v1h-1zM71 80h2v1h-2zM74 80h1v1h-1zM77 80h1v1h-1zM11 81h1v1h-1zM20 81h1v1h-1zM32 81h1v1h-1zM60 81h1v1h-1zM71 81h2v1h-2zM76 81h2v1h-2zM82 81h1v1h-1zM96 81h1v1h-1zM4 82h4v1h-4zM12 82h1v1h-1zM61 82h1v1h-1zM74 82h1v1h-1zM61 83h2v1h-2zM96 83h1v1h-1zM1 84h1v1h-1zM4 84h1v1h-1zM63 84h1v1h-1zM73 84h1v1h-1zM96 84h2v1h-2zM1 85h2v1h-2zM66 85h2v1h-2zM71 85h2v1h-2zM95 85h2v1h-2zM1 86h2v1h-2zM72 86h1v1h-1zM94 86h3v1h-3zM0 87h1v1h-1zM96 87h1v1h-1zM99 87h1v1h-1zM96 88h2v1h-2zM99 88h2v1h-2zM0 89h2v1h-2zM13 89h1v1h-1zM99 89h2v1h-2zM3 90h1v1h-1zM18 90h1v1h-1zM99 90h1v1h-1zM5 91h1v1h-1zM8 91h1v1h-1zM10 91h3v1h-3zM14 91h2v1h-2zM17 91h2v1h-2zM7 92h4v1h-4zM18 92h2v1h-2zM98 92h1v1h-1zM5 93h1v1h-1zM7 93h1v1h-1zM19 93h1v1h-1zM21 93h1v1h-1zM19 94h1v1h-1zM19 95h2v1h-2z"/>
<path fill="#cbd4ca" d="M99 57h1v1h-1zM99 58h1v1h-1zM98 59h1v1h-1zM98 60h1v1h-1zM15 61h1v1h-1zM97 61h1v1h-1zM88 64h2v1h-2zM70 66h1v1h-1zM69 67h1v1h-1zM96 68h3v1h-3zM78 69h1v1h-1zM98 69h1v1h-1zM100 69h1v1h-1zM78 70h1v1h-1zM81 70h2v1h-2zM76 71h1v1h-1zM81 72h1v1h-1zM57 73h1v1h-1zM98 73h1v1h-1zM100 73h1v1h-1zM4 75h1v1h-1zM32 75h1v1h-1zM34 75h1v1h-1zM38 75h1v1h-1zM40 75h1v1h-1zM98 75h1v1h-1zM5 76h1v1h-1zM30 76h1v1h-1zM34 76h2v1h-2zM96 76h1v1h-1zM1 77h1v1h-1zM22 77h1v1h-1zM25 77h1v1h-1zM42 77h1v1h-1zM46 77h1v1h-1zM68 77h1v1h-1zM96 77h1v1h-1zM4 78h1v1h-1zM15 78h1v1h-1zM55 78h1v1h-1zM65 78h1v1h-1zM68 78h1v1h-1zM0 79h1v1h-1zM5 79h1v1h-1zM8 79h1v1h-1zM38 79h2v1h-2zM44 79h1v1h-1zM50 79h2v1h-2zM0 80h1v1h-1zM2 80h1v1h-1zM4 80h1v1h-1zM12 80h1v1h-1zM19 80h1v1h-1zM26 80h1v1h-1zM37 80h1v1h-1zM8 81h1v1h-1zM13 81h1v1h-1zM17 81h1v1h-1zM30 81h1v1h-1zM40 81h1v1h-1zM61 81h1v1h-1zM2 82h1v1h-1zM13 82h1v1h-1zM62 82h1v1h-1zM3 84h1v1h-1zM2 90h1v1h-1zM13 90h1v1h-1zM1 91h1v1h-1zM2 92h1v1h-1zM16 92h1v1h-1zM9 93h1v1h-1zM6 94h1v1h-1zM18 94h1v1h-1zM1 95h1v1h-1z"/>
<path fill="#9a9da4" d="M8 57h1v1h-1zM1 58h1v1h-1zM31 58h1v1h-1zM1 59h1v1h-1zM13 59h1v1h-1zM19 59h1v1h-1zM1 60h1v1h-1zM19 60h1v1h-1zM3 61h1v1h-1zM8 61h1v1h-1zM26 61h1v1h-1zM28 61h1v1h-1zM17 62h1v1h-1zM25 62h1v1h-1zM27 62h1v1h-1zM16 63h1v1h-1zM18 63h1v1h-1zM95 63h1v1h-1zM3 64h1v1h-1zM6 64h2v1h-2zM11 64h1v1h-1zM15 64h3v1h-3zM19 64h2v1h-2zM2 65h1v1h-1zM6 65h2v1h-2zM12 65h1v1h-1zM14 65h7v1h-7zM33 65h1v1h-1zM5 66h6v1h-6zM16 66h3v1h-3zM34 66h1v1h-1zM38 66h1v1h-1zM1 67h1v1h-1zM5 67h2v1h-2zM8 67h3v1h-3zM12 67h1v1h-1zM16 67h3v1h-3zM21 67h1v1h-1zM27 67h1v1h-1zM34 67h1v1h-1zM51 67h1v1h-1zM1 68h1v1h-1zM9 68h4v1h-4zM16 68h3v1h-3zM23 68h1v1h-1zM35 68h1v1h-1zM52 68h1v1h-1zM9 69h4v1h-4zM16 69h1v1h-1zM22 69h4v1h-4zM6 70h2v1h-2zM9 70h3v1h-3zM16 70h1v1h-1zM21 70h1v1h-1zM23 70h1v1h-1zM25 70h1v1h-1zM48 70h1v1h-1zM3 71h3v1h-3zM7 71h1v1h-1zM9 71h4v1h-4zM14 71h1v1h-1zM17 71h5v1h-5zM29 71h4v1h-4zM48 71h1v1h-1zM2 72h1v1h-1zM9 72h2v1h-2zM20 72h3v1h-3zM29 72h2v1h-2zM35 72h1v1h-1zM47 72h1v1h-1zM96 72h1v1h-1zM1 73h1v1h-1zM9 73h1v1h-1zM19 73h1v1h-1zM21 73h2v1h-2zM24 73h2v1h-2zM27 73h1v1h-1zM46 73h1v1h-1zM95 73h1v1h-1zM18 74h1v1h-1zM21 74h2v1h-2zM73 81h1v1h-1z"/>
<path fill="#c8cbc3" d="M0 44h1v1h-1zM37 44h1v1h-1zM75 44h1v1h-1zM20 45h1v1h-1zM37 45h1v1h-1zM39 45h1v1h-1zM69 45h1v1h-1zM85 45h1v1h-1zM83 46h1v1h-1zM43 47h1v1h-1zM75 47h1v1h-1zM82 47h1v1h-1zM18 48h2v1h-2zM24 48h1v1h-1zM30 48h1v1h-1zM85 48h1v1h-1zM6 49h1v1h-1zM12 49h2v1h-2zM20 49h1v1h-1zM39 49h1v1h-1zM96 49h1v1h-1zM7 50h1v1h-1zM31 50h1v1h-1zM60 50h1v1h-1zM69 50h2v1h-2zM96 50h1v1h-1zM2 51h1v1h-1zM14 51h1v1h-1zM16 51h1v1h-1zM27 51h1v1h-1zM32 51h2v1h-2zM42 51h1v1h-1zM54 51h2v1h-2zM69 51h1v1h-1zM73 51h1v1h-1zM82 51h2v1h-2zM91 51h1v1h-1zM8 52h1v1h-1zM18 52h1v1h-1zM37 52h1v1h-1zM40 52h1v1h-1zM44 52h1v1h-1zM66 52h1v1h-1zM71 52h1v1h-1zM75 52h1v1h-1zM85 52h1v1h-1zM2 53h1v1h-1zM15 53h2v1h-2zM26 53h2v1h-2zM44 53h1v1h-1zM77 53h1v1h-1zM88 53h3v1h-3zM6 54h2v1h-2zM15 54h1v1h-1zM29 54h1v1h-1zM31 54h1v1h-1zM34 54h1v1h-1zM38 54h1v1h-1zM40 54h1v1h-1zM42 54h1v1h-1zM76 54h1v1h-1zM87 54h1v1h-1zM19 55h1v1h-1zM78 55h1v1h-1zM84 55h1v1h-1zM87 55h1v1h-1zM94 55h2v1h-2zM13 56h1v1h-1zM52 56h2v1h-2zM56 56h1v1h-1zM79 56h1v1h-1zM14 57h1v1h-1zM20 57h1v1h-1zM33 57h2v1h-2zM40 57h2v1h-2zM46 57h1v1h-1zM52 57h1v1h-1zM58 57h1v1h-1zM74 57h1v1h-1zM94 57h1v1h-1zM98 57h1v1h-1zM17 58h1v1h-1zM24 58h1v1h-1zM34 58h1v1h-1zM61 58h1v1h-1zM94 58h2v1h-2zM5 59h1v1h-1zM24 59h2v1h-2zM31 59h1v1h-1zM35 59h1v1h-1zM39 59h1v1h-1zM42 59h1v1h-1zM50 59h1v1h-1zM64 59h1v1h-1zM76 59h1v1h-1zM85 59h1v1h-1zM91 59h1v1h-1zM95 59h1v1h-1zM22 60h1v1h-1zM25 60h1v1h-1zM31 60h4v1h-4zM40 60h1v1h-1zM49 60h1v1h-1zM54 60h1v1h-1zM77 60h1v1h-1zM86 60h2v1h-2zM96 60h1v1h-1zM31 61h1v1h-1zM44 61h1v1h-1zM68 61h1v1h-1zM72 61h1v1h-1zM77 61h1v1h-1zM100 61h1v1h-1zM44 62h1v1h-1zM56 62h1v1h-1zM61 62h1v1h-1zM87 62h1v1h-1zM97 62h2v1h-2zM13 63h2v1h-2zM21 63h1v1h-1zM29 63h1v1h-1zM31 63h1v1h-1zM37 63h1v1h-1zM41 63h1v1h-1zM44 63h1v1h-1zM71 63h1v1h-1zM74 63h1v1h-1zM38 64h2v1h-2zM68 64h1v1h-1zM74 64h1v1h-1zM78 64h1v1h-1zM83 64h2v1h-2zM40 65h1v1h-1zM66 65h1v1h-1zM69 65h1v1h-1zM78 65h1v1h-1zM85 65h1v1h-1zM36 66h1v1h-1zM49 66h1v1h-1zM59 66h1v1h-1zM67 66h1v1h-1zM83 66h1v1h-1zM67 67h1v1h-1zM82 67h2v1h-2zM97 67h1v1h-1zM48 68h1v1h-1zM63 68h1v1h-1zM82 68h1v1h-1zM84 68h1v1h-1zM37 69h1v1h-1zM50 69h1v1h-1zM56 69h2v1h-2zM97 69h1v1h-1zM99 69h1v1h-1zM38 70h1v1h-1zM52 70h1v1h-1zM97 70h1v1h-1zM42 71h1v1h-1zM49 71h1v1h-1zM53 71h2v1h-2zM58 71h2v1h-2zM65 71h1v1h-1zM99 71h1v1h-1zM45 72h1v1h-1zM50 72h1v1h-1zM59 72h1v1h-1zM67 72h1v1h-1zM40 73h1v1h-1zM45 73h1v1h-1zM49 73h2v1h-2zM53 73h1v1h-1zM55 73h1v1h-1zM63 73h1v1h-1zM65 73h1v1h-1zM46 74h1v1h-1zM50 74h1v1h-1zM56 74h1v1h-1zM97 74h1v1h-1zM27 75h1v1h-1zM36 75h1v1h-1zM50 75h2v1h-2zM64 75h1v1h-1zM68 75h1v1h-1zM97 75h1v1h-1zM99 75h1v1h-1zM8 76h1v1h-1zM12 76h1v1h-1zM19 76h1v1h-1zM44 76h2v1h-2zM56 76h1v1h-1zM59 76h1v1h-1zM67 76h1v1h-1zM97 76h1v1h-1zM19 77h2v1h-2zM30 77h1v1h-1zM47 77h1v1h-1zM62 77h1v1h-1zM64 77h1v1h-1zM98 77h1v1h-1zM100 77h1v1h-1zM0 78h1v1h-1zM51 78h1v1h-1zM53 78h2v1h-2zM64 78h1v1h-1zM83 78h1v1h-1zM97 78h1v1h-1zM100 78h1v1h-1zM11 79h1v1h-1zM20 79h2v1h-2zM40 79h1v1h-1zM45 79h1v1h-1zM57 79h1v1h-1zM21 80h1v1h-1zM63 80h1v1h-1zM65 80h1v1h-1zM2 81h1v1h-1zM64 81h1v1h-1zM100 81h1v1h-1zM71 82h1v1h-1zM67 83h1v1h-1zM98 83h1v1h-1zM69 84h1v1h-1zM98 87h1v1h-1zM98 88h1v1h-1zM3 92h1v1h-1zM11 92h1v1h-1zM15 92h1v1h-1zM10 93h1v1h-1zM6 95h2v1h-2zM13 95h1v1h-1z"/>
<path fill="#cdcec6" d="M10 44h1v1h-1zM20 44h1v1h-1zM67 44h1v1h-1zM19 46h1v1h-1zM46 46h1v1h-1zM90 46h1v1h-1zM94 46h1v1h-1zM30 47h1v1h-1zM44 47h1v1h-1zM83 47h1v1h-1zM95 47h1v1h-1zM23 48h1v1h-1zM29 48h1v1h-1zM31 48h1v1h-1zM68 48h1v1h-1zM89 48h1v1h-1zM7 49h2v1h-2zM35 49h1v1h-1zM43 49h1v1h-1zM48 49h1v1h-1zM64 49h1v1h-1zM69 49h1v1h-1zM74 49h1v1h-1zM81 49h1v1h-1zM25 50h1v1h-1zM28 50h2v1h-2zM35 50h1v1h-1zM39 50h1v1h-1zM49 50h1v1h-1zM52 50h1v1h-1zM57 50h1v1h-1zM83 50h1v1h-1zM92 50h1v1h-1zM9 51h1v1h-1zM18 51h1v1h-1zM31 51h1v1h-1zM39 51h2v1h-2zM72 51h1v1h-1zM85 51h1v1h-1zM1 52h1v1h-1zM3 52h1v1h-1zM21 52h1v1h-1zM30 52h1v1h-1zM42 52h1v1h-1zM50 52h2v1h-2zM55 52h1v1h-1zM74 52h1v1h-1zM78 52h1v1h-1zM84 52h1v1h-1zM88 52h2v1h-2zM92 52h1v1h-1zM19 53h1v1h-1zM29 53h1v1h-1zM34 53h1v1h-1zM48 53h1v1h-1zM70 53h1v1h-1zM74 53h1v1h-1zM84 53h1v1h-1zM97 53h1v1h-1zM100 53h1v1h-1zM13 54h1v1h-1zM19 54h1v1h-1zM25 54h1v1h-1zM46 54h1v1h-1zM55 54h1v1h-1zM58 54h1v1h-1zM71 54h1v1h-1zM77 54h1v1h-1zM82 54h1v1h-1zM94 54h1v1h-1zM12 55h1v1h-1zM27 55h1v1h-1zM32 55h1v1h-1zM34 55h1v1h-1zM55 55h1v1h-1zM80 55h1v1h-1zM19 56h1v1h-1zM29 56h1v1h-1zM46 56h1v1h-1zM49 56h1v1h-1zM68 56h1v1h-1zM99 56h1v1h-1zM29 57h1v1h-1zM42 57h1v1h-1zM47 57h1v1h-1zM51 57h1v1h-1zM60 57h1v1h-1zM68 57h1v1h-1zM86 57h1v1h-1zM97 57h1v1h-1zM6 58h1v1h-1zM43 58h1v1h-1zM65 58h1v1h-1zM79 58h1v1h-1zM90 58h2v1h-2zM4 59h1v1h-1zM15 59h1v1h-1zM60 59h1v1h-1zM67 59h2v1h-2zM77 59h1v1h-1zM90 59h1v1h-1zM61 60h1v1h-1zM74 60h2v1h-2zM85 60h1v1h-1zM37 61h2v1h-2zM87 61h1v1h-1zM1 62h1v1h-1zM54 62h2v1h-2zM68 62h1v1h-1zM77 62h1v1h-1zM84 62h1v1h-1zM30 63h1v1h-1zM33 63h1v1h-1zM35 63h1v1h-1zM47 63h1v1h-1zM49 63h2v1h-2zM55 63h1v1h-1zM66 63h1v1h-1zM77 63h1v1h-1zM28 64h1v1h-1zM54 64h3v1h-3zM66 64h1v1h-1zM76 64h2v1h-2zM82 64h1v1h-1zM87 64h1v1h-1zM30 65h1v1h-1zM39 65h1v1h-1zM84 65h1v1h-1zM47 66h1v1h-1zM60 66h1v1h-1zM68 66h1v1h-1zM79 66h1v1h-1zM82 66h1v1h-1zM32 67h1v1h-1zM36 67h1v1h-1zM54 67h1v1h-1zM79 67h2v1h-2zM32 68h1v1h-1zM41 68h1v1h-1zM47 68h1v1h-1zM42 69h1v1h-1zM51 69h1v1h-1zM55 69h1v1h-1zM61 69h2v1h-2zM56 70h3v1h-3zM45 71h1v1h-1zM50 71h2v1h-2zM64 71h1v1h-1zM51 72h1v1h-1zM56 72h1v1h-1zM60 73h2v1h-2zM39 74h1v1h-1zM67 74h1v1h-1zM5 75h1v1h-1zM12 75h1v1h-1zM16 75h1v1h-1zM59 75h2v1h-2zM14 76h1v1h-1zM24 76h1v1h-1zM29 76h1v1h-1zM50 76h1v1h-1zM9 77h1v1h-1zM18 77h1v1h-1zM67 77h1v1h-1zM45 78h1v1h-1zM64 82h1v1h-1zM66 82h1v1h-1zM69 82h1v1h-1zM1 94h1v1h-1z"/>
<path fill="#84b392" d="M94 63h1v1h-1zM93 65h1v1h-1zM93 67h1v1h-1zM91 68h1v1h-1zM88 69h1v1h-1zM86 70h1v1h-1zM88 70h2v1h-2zM74 71h1v1h-1zM89 71h1v1h-1zM91 71h3v1h-3zM74 72h1v1h-1zM79 72h1v1h-1zM90 72h2v1h-2zM93 72h1v1h-1zM71 73h1v1h-1zM78 73h1v1h-1zM84 73h5v1h-5zM92 73h1v1h-1zM73 74h1v1h-1zM77 74h3v1h-3zM81 74h2v1h-2zM85 74h1v1h-1zM87 74h2v1h-2zM74 75h1v1h-1zM82 75h1v1h-1zM87 75h2v1h-2zM93 75h1v1h-1zM74 76h2v1h-2zM79 76h1v1h-1zM85 76h1v1h-1zM89 76h2v1h-2zM86 77h1v1h-1zM88 77h3v1h-3zM72 78h2v1h-2zM86 78h1v1h-1zM89 78h1v1h-1zM85 79h3v1h-3zM86 80h1v1h-1zM91 80h1v1h-1zM50 81h1v1h-1zM58 81h1v1h-1zM87 81h1v1h-1zM90 81h1v1h-1zM92 81h1v1h-1zM94 81h2v1h-2zM9 82h2v1h-2zM21 82h1v1h-1zM43 82h1v1h-1zM47 82h4v1h-4zM52 82h3v1h-3zM57 82h2v1h-2zM78 82h1v1h-1zM82 82h1v1h-1zM84 82h1v1h-1zM88 82h3v1h-3zM94 82h2v1h-2zM6 83h7v1h-7zM21 83h1v1h-1zM26 83h1v1h-1zM28 83h1v1h-1zM33 83h3v1h-3zM39 83h1v1h-1zM41 83h1v1h-1zM44 83h1v1h-1zM51 83h2v1h-2zM57 83h2v1h-2zM75 83h2v1h-2zM81 83h1v1h-1zM83 83h2v1h-2zM87 83h1v1h-1zM92 83h3v1h-3zM8 84h1v1h-1zM18 84h1v1h-1zM21 84h1v1h-1zM26 84h2v1h-2zM29 84h2v1h-2zM35 84h4v1h-4zM42 84h2v1h-2zM47 84h1v1h-1zM49 84h4v1h-4zM55 84h1v1h-1zM78 84h1v1h-1zM81 84h2v1h-2zM84 84h9v1h-9zM8 85h1v1h-1zM11 85h2v1h-2zM18 85h1v1h-1zM21 85h1v1h-1zM25 85h4v1h-4zM33 85h1v1h-1zM36 85h2v1h-2zM42 85h2v1h-2zM45 85h1v1h-1zM49 85h3v1h-3zM54 85h1v1h-1zM58 85h1v1h-1zM61 85h1v1h-1zM75 85h1v1h-1zM79 85h3v1h-3zM84 85h1v1h-1zM86 85h2v1h-2zM89 85h1v1h-1zM92 85h1v1h-1zM7 86h1v1h-1zM10 86h1v1h-1zM16 86h3v1h-3zM21 86h3v1h-3zM25 86h1v1h-1zM27 86h1v1h-1zM34 86h2v1h-2zM37 86h3v1h-3zM44 86h2v1h-2zM48 86h1v1h-1zM54 86h2v1h-2zM59 86h1v1h-1zM61 86h1v1h-1zM63 86h1v1h-1zM65 86h1v1h-1zM77 86h2v1h-2zM81 86h2v1h-2zM93 86h1v1h-1zM8 87h4v1h-4zM13 87h1v1h-1zM18 87h3v1h-3zM25 87h1v1h-1zM27 87h2v1h-2zM32 87h3v1h-3zM39 87h2v1h-2zM44 87h1v1h-1zM50 87h1v1h-1zM52 87h1v1h-1zM54 87h1v1h-1zM59 87h1v1h-1zM61 87h1v1h-1zM63 87h2v1h-2zM67 87h2v1h-2zM70 87h3v1h-3zM75 87h1v1h-1zM78 87h1v1h-1zM80 87h1v1h-1zM82 87h1v1h-1zM84 87h1v1h-1zM86 87h2v1h-2zM91 87h1v1h-1zM4 88h2v1h-2zM11 88h1v1h-1zM18 88h3v1h-3zM28 88h1v1h-1zM31 88h2v1h-2zM37 88h2v1h-2zM41 88h1v1h-1zM43 88h1v1h-1zM45 88h1v1h-1zM49 88h2v1h-2zM52 88h1v1h-1zM59 88h1v1h-1zM62 88h4v1h-4zM67 88h1v1h-1zM69 88h2v1h-2zM73 88h3v1h-3zM82 88h1v1h-1zM85 88h3v1h-3zM90 88h1v1h-1zM6 89h1v1h-1zM15 89h1v1h-1zM17 89h5v1h-5zM23 89h3v1h-3zM27 89h1v1h-1zM30 89h1v1h-1zM32 89h1v1h-1zM44 89h6v1h-6zM55 89h1v1h-1zM57 89h2v1h-2zM68 89h1v1h-1zM77 89h2v1h-2zM82 89h1v1h-1zM87 89h4v1h-4zM96 89h1v1h-1zM6 90h1v1h-1zM21 90h10v1h-10zM33 90h1v1h-1zM46 90h5v1h-5zM56 90h3v1h-3zM67 90h2v1h-2zM77 90h2v1h-2zM82 90h1v1h-1zM85 90h1v1h-1zM88 90h3v1h-3zM94 90h4v1h-4zM6 91h1v1h-1zM20 91h3v1h-3zM31 91h1v1h-1zM33 91h1v1h-1zM36 91h2v1h-2zM47 91h2v1h-2zM56 91h1v1h-1zM59 91h3v1h-3zM63 91h1v1h-1zM65 91h1v1h-1zM69 91h1v1h-1zM72 91h2v1h-2zM80 91h1v1h-1zM86 91h2v1h-2zM95 91h2v1h-2zM99 91h1v1h-1zM32 92h2v1h-2zM35 92h2v1h-2zM38 92h1v1h-1zM47 92h3v1h-3zM51 92h5v1h-5zM57 92h1v1h-1zM59 92h3v1h-3zM64 92h3v1h-3zM70 92h1v1h-1zM72 92h4v1h-4zM77 92h1v1h-1zM79 92h1v1h-1zM90 92h1v1h-1zM92 92h2v1h-2zM96 92h1v1h-1zM22 93h2v1h-2zM25 93h1v1h-1zM34 93h2v1h-2zM38 93h1v1h-1zM41 93h1v1h-1zM48 93h5v1h-5zM54 93h1v1h-1zM56 93h2v1h-2zM59 93h2v1h-2zM65 93h1v1h-1zM70 93h1v1h-1zM74 93h2v1h-2zM77 93h1v1h-1zM82 93h1v1h-1zM88 93h3v1h-3zM92 93h2v1h-2zM25 94h2v1h-2zM28 94h1v1h-1zM32 94h2v1h-2zM39 94h1v1h-1zM42 94h1v1h-1zM44 94h1v1h-1zM49 94h2v1h-2zM57 94h3v1h-3zM61 94h1v1h-1zM63 94h2v1h-2zM67 94h2v1h-2zM74 94h2v1h-2zM77 94h1v1h-1zM79 94h4v1h-4zM85 94h1v1h-1zM92 94h1v1h-1zM100 94h1v1h-1zM28 95h1v1h-1zM31 95h1v1h-1zM33 95h1v1h-1zM42 95h1v1h-1zM45 95h1v1h-1zM50 95h1v1h-1zM58 95h1v1h-1zM62 95h1v1h-1zM68 95h1v1h-1zM74 95h2v1h-2zM77 95h1v1h-1zM80 95h1v1h-1zM82 95h1v1h-1zM85 95h1v1h-1zM90 95h1v1h-1zM92 95h1v1h-1zM96 95h1v1h-1z"/>
<path fill="#9ab6a2" d="M92 62h1v1h-1zM94 62h1v1h-1zM93 63h1v1h-1zM93 64h1v1h-1zM91 65h1v1h-1zM90 66h1v1h-1zM72 67h1v1h-1zM86 67h2v1h-2zM90 67h1v1h-1zM86 68h4v1h-4zM76 69h1v1h-1zM84 69h3v1h-3zM94 69h1v1h-1zM84 70h2v1h-2zM69 71h2v1h-2zM75 71h1v1h-1zM79 71h2v1h-2zM83 71h1v1h-1zM86 71h1v1h-1zM69 72h3v1h-3zM78 72h1v1h-1zM80 72h1v1h-1zM83 72h1v1h-1zM85 72h1v1h-1zM94 72h2v1h-2zM80 73h1v1h-1zM83 73h1v1h-1zM94 73h1v1h-1zM71 74h1v1h-1zM83 74h1v1h-1zM94 74h1v1h-1zM78 75h1v1h-1zM80 75h2v1h-2zM83 75h2v1h-2zM76 76h1v1h-1zM80 76h1v1h-1zM84 76h1v1h-1zM74 77h7v1h-7zM85 77h1v1h-1zM70 78h2v1h-2zM74 78h1v1h-1zM69 79h2v1h-2zM72 79h2v1h-2zM77 79h4v1h-4zM84 79h1v1h-1zM54 80h1v1h-1zM59 80h1v1h-1zM70 80h1v1h-1zM73 80h1v1h-1zM78 80h6v1h-6zM94 80h1v1h-1zM9 81h2v1h-2zM21 81h1v1h-1zM42 81h4v1h-4zM49 81h1v1h-1zM51 81h2v1h-2zM56 81h2v1h-2zM59 81h1v1h-1zM83 81h1v1h-1zM8 82h1v1h-1zM11 82h1v1h-1zM59 82h2v1h-2zM75 82h3v1h-3zM60 83h1v1h-1zM95 83h1v1h-1zM5 84h1v1h-1zM60 84h3v1h-3zM74 84h2v1h-2zM94 84h2v1h-2zM0 85h1v1h-1zM62 85h4v1h-4zM68 85h1v1h-1zM73 85h2v1h-2zM0 86h1v1h-1zM3 86h1v1h-1zM70 86h2v1h-2zM97 86h1v1h-1zM99 86h1v1h-1zM93 87h1v1h-1zM17 88h1v1h-1zM4 89h1v1h-1zM14 89h1v1h-1zM16 89h1v1h-1zM94 89h2v1h-2zM97 89h2v1h-2zM11 90h1v1h-1zM14 90h4v1h-4zM19 90h1v1h-1zM98 90h1v1h-1zM100 90h1v1h-1zM4 91h1v1h-1zM9 91h1v1h-1zM19 91h1v1h-1zM97 91h1v1h-1zM100 91h1v1h-1zM5 92h2v1h-2zM20 92h1v1h-1zM100 92h1v1h-1z"/>
<path fill="#bfc3bb" d="M3 45h1v1h-1zM45 45h1v1h-1zM74 45h1v1h-1zM93 45h1v1h-1zM67 46h1v1h-1zM19 47h1v1h-1zM40 47h1v1h-1zM52 47h1v1h-1zM64 47h1v1h-1zM96 47h1v1h-1zM91 48h1v1h-1zM11 49h1v1h-1zM30 49h1v1h-1zM47 49h1v1h-1zM58 49h1v1h-1zM68 49h1v1h-1zM84 49h1v1h-1zM8 50h1v1h-1zM12 50h2v1h-2zM15 50h1v1h-1zM37 50h1v1h-1zM43 50h1v1h-1zM50 50h2v1h-2zM71 50h1v1h-1zM85 50h2v1h-2zM93 50h2v1h-2zM11 51h1v1h-1zM50 51h1v1h-1zM57 51h1v1h-1zM61 51h1v1h-1zM63 51h1v1h-1zM81 51h1v1h-1zM86 51h1v1h-1zM0 52h1v1h-1zM4 52h1v1h-1zM6 52h2v1h-2zM10 52h2v1h-2zM13 52h1v1h-1zM19 52h1v1h-1zM29 52h1v1h-1zM46 52h1v1h-1zM60 52h2v1h-2zM64 52h1v1h-1zM79 52h2v1h-2zM4 53h1v1h-1zM7 53h1v1h-1zM9 53h1v1h-1zM11 53h2v1h-2zM22 53h1v1h-1zM46 53h1v1h-1zM85 53h1v1h-1zM87 53h1v1h-1zM99 53h1v1h-1zM8 54h2v1h-2zM16 54h1v1h-1zM20 54h1v1h-1zM22 54h1v1h-1zM37 54h1v1h-1zM41 54h1v1h-1zM57 54h1v1h-1zM68 54h1v1h-1zM72 54h1v1h-1zM86 54h1v1h-1zM92 54h2v1h-2zM11 55h1v1h-1zM13 55h1v1h-1zM15 55h1v1h-1zM17 55h1v1h-1zM36 55h1v1h-1zM43 55h1v1h-1zM64 55h1v1h-1zM68 55h1v1h-1zM89 55h1v1h-1zM20 56h1v1h-1zM28 56h1v1h-1zM32 56h1v1h-1zM34 56h2v1h-2zM42 56h1v1h-1zM58 56h1v1h-1zM69 56h1v1h-1zM80 56h1v1h-1zM87 56h1v1h-1zM13 57h1v1h-1zM17 57h1v1h-1zM22 57h1v1h-1zM31 57h1v1h-1zM50 57h1v1h-1zM53 57h1v1h-1zM56 57h1v1h-1zM62 57h1v1h-1zM70 57h1v1h-1zM92 57h2v1h-2zM95 57h1v1h-1zM100 57h1v1h-1zM0 58h1v1h-1zM18 58h1v1h-1zM37 58h1v1h-1zM50 58h2v1h-2zM59 58h2v1h-2zM67 58h1v1h-1zM72 58h1v1h-1zM87 58h1v1h-1zM0 59h1v1h-1zM9 59h1v1h-1zM14 59h1v1h-1zM22 59h2v1h-2zM27 59h1v1h-1zM32 59h1v1h-1zM37 59h1v1h-1zM40 59h1v1h-1zM45 59h1v1h-1zM48 59h2v1h-2zM55 59h2v1h-2zM78 59h2v1h-2zM87 59h1v1h-1zM93 59h1v1h-1zM99 59h2v1h-2zM0 60h1v1h-1zM5 60h1v1h-1zM14 60h2v1h-2zM23 60h2v1h-2zM36 60h2v1h-2zM44 60h1v1h-1zM48 60h1v1h-1zM55 60h3v1h-3zM59 60h1v1h-1zM67 60h1v1h-1zM72 60h1v1h-1zM81 60h1v1h-1zM92 60h1v1h-1zM99 60h1v1h-1zM2 61h1v1h-1zM9 61h2v1h-2zM30 61h1v1h-1zM40 61h1v1h-1zM52 61h1v1h-1zM57 61h1v1h-1zM60 61h3v1h-3zM65 61h1v1h-1zM67 61h1v1h-1zM69 61h1v1h-1zM80 61h1v1h-1zM30 62h1v1h-1zM43 62h1v1h-1zM47 62h2v1h-2zM53 62h1v1h-1zM67 62h1v1h-1zM73 62h1v1h-1zM83 62h1v1h-1zM89 62h1v1h-1zM99 62h1v1h-1zM10 63h1v1h-1zM12 63h1v1h-1zM36 63h1v1h-1zM51 63h1v1h-1zM56 63h1v1h-1zM60 63h1v1h-1zM73 63h1v1h-1zM79 63h1v1h-1zM87 63h1v1h-1zM1 64h1v1h-1zM40 64h1v1h-1zM57 64h1v1h-1zM80 64h1v1h-1zM86 64h1v1h-1zM98 64h2v1h-2zM24 65h1v1h-1zM32 65h1v1h-1zM37 65h2v1h-2zM47 65h1v1h-1zM49 65h1v1h-1zM71 65h1v1h-1zM75 65h1v1h-1zM77 65h1v1h-1zM79 65h1v1h-1zM86 65h1v1h-1zM97 65h2v1h-2zM100 65h1v1h-1zM12 66h1v1h-1zM29 66h1v1h-1zM32 66h1v1h-1zM45 66h1v1h-1zM52 66h1v1h-1zM77 66h1v1h-1zM84 66h1v1h-1zM86 66h1v1h-1zM31 67h1v1h-1zM43 67h1v1h-1zM48 67h1v1h-1zM56 67h2v1h-2zM68 67h1v1h-1zM76 67h1v1h-1zM85 67h1v1h-1zM98 67h1v1h-1zM100 67h1v1h-1zM46 68h1v1h-1zM49 68h2v1h-2zM55 68h2v1h-2zM66 68h1v1h-1zM76 68h1v1h-1zM79 68h2v1h-2zM38 69h1v1h-1zM43 69h1v1h-1zM49 69h1v1h-1zM54 69h1v1h-1zM59 69h1v1h-1zM63 69h2v1h-2zM66 69h1v1h-1zM80 69h1v1h-1zM36 70h2v1h-2zM49 70h1v1h-1zM51 70h1v1h-1zM53 70h1v1h-1zM55 70h1v1h-1zM77 70h1v1h-1zM43 71h1v1h-1zM46 71h1v1h-1zM98 71h1v1h-1zM100 71h1v1h-1zM39 72h1v1h-1zM44 72h1v1h-1zM49 72h1v1h-1zM64 72h3v1h-3zM68 72h1v1h-1zM97 72h1v1h-1zM32 73h1v1h-1zM36 73h1v1h-1zM39 73h1v1h-1zM41 73h1v1h-1zM64 73h1v1h-1zM67 73h1v1h-1zM32 74h1v1h-1zM34 74h1v1h-1zM36 74h1v1h-1zM53 74h1v1h-1zM64 74h2v1h-2zM68 74h1v1h-1zM29 75h1v1h-1zM49 75h1v1h-1zM100 75h1v1h-1zM11 76h1v1h-1zM46 76h1v1h-1zM49 76h1v1h-1zM54 76h1v1h-1zM60 76h1v1h-1zM68 76h1v1h-1zM45 77h1v1h-1zM48 77h1v1h-1zM52 77h2v1h-2zM55 77h2v1h-2zM48 78h1v1h-1zM57 78h1v1h-1zM78 78h1v1h-1zM46 79h4v1h-4zM61 79h1v1h-1zM63 79h1v1h-1zM65 79h1v1h-1zM82 79h1v1h-1zM97 79h1v1h-1zM5 80h1v1h-1zM16 80h1v1h-1zM64 80h1v1h-1zM66 80h1v1h-1zM98 80h1v1h-1zM66 81h1v1h-1zM68 81h3v1h-3zM0 82h1v1h-1zM3 82h1v1h-1zM63 82h1v1h-1zM73 82h1v1h-1zM100 82h1v1h-1zM0 83h1v1h-1zM64 83h1v1h-1zM72 83h2v1h-2zM99 83h1v1h-1zM66 84h1v1h-1zM71 84h1v1h-1zM97 87h1v1h-1zM0 92h2v1h-2zM4 92h1v1h-1zM12 92h1v1h-1zM17 92h1v1h-1zM0 93h1v1h-1zM3 93h2v1h-2zM6 93h1v1h-1zM18 93h1v1h-1zM2 94h1v1h-1zM5 94h1v1h-1zM7 94h1v1h-1zM12 94h3v1h-3zM3 95h1v1h-1zM5 95h1v1h-1zM9 95h1v1h-1zM12 95h1v1h-1zM14 95h1v1h-1z"/>
<path fill="#c2c4c4" d="M12 57h1v1h-1zM21 58h1v1h-1zM3 59h1v1h-1zM6 59h1v1h-1zM16 59h2v1h-2zM21 60h1v1h-1zM13 62h2v1h-2zM22 62h2v1h-2zM72 62h1v1h-1zM7 63h3v1h-3zM11 63h1v1h-1zM15 63h1v1h-1zM20 63h1v1h-1zM28 63h1v1h-1zM71 64h2v1h-2zM75 64h1v1h-1zM28 65h1v1h-1zM13 68h1v1h-1zM14 69h1v1h-1zM46 70h1v1h-1zM27 71h1v1h-1zM33 71h1v1h-1zM37 71h1v1h-1zM27 72h2v1h-2zM32 72h1v1h-1zM7 73h1v1h-1zM14 73h1v1h-1zM31 73h1v1h-1zM33 73h1v1h-1zM8 74h1v1h-1zM14 74h2v1h-2zM20 74h1v1h-1zM31 74h1v1h-1zM33 74h1v1h-1zM38 74h1v1h-1zM40 74h1v1h-1zM8 75h1v1h-1zM10 75h2v1h-2zM13 75h3v1h-3zM19 75h1v1h-1zM23 75h3v1h-3zM31 75h1v1h-1zM35 75h1v1h-1zM1 76h3v1h-3zM9 76h1v1h-1zM13 76h1v1h-1zM17 76h1v1h-1zM25 76h3v1h-3zM31 76h1v1h-1zM42 76h1v1h-1zM0 77h1v1h-1zM21 77h1v1h-1zM27 77h1v1h-1zM40 77h1v1h-1zM98 78h2v1h-2zM1 79h1v1h-1zM36 79h1v1h-1zM98 79h1v1h-1z"/>
<path fill="#a8acac" d="M11 45h1v1h-1zM48 46h1v1h-1zM47 47h1v1h-1zM51 47h1v1h-1zM12 48h2v1h-2zM92 48h1v1h-1zM38 49h1v1h-1zM46 50h1v1h-1zM6 51h1v1h-1zM66 51h1v1h-1zM63 52h1v1h-1zM32 53h1v1h-1zM59 53h2v1h-2zM5 54h1v1h-1zM21 54h1v1h-1zM5 55h1v1h-1zM22 55h1v1h-1zM1 56h2v1h-2zM4 56h1v1h-1zM8 56h2v1h-2zM17 56h1v1h-1zM21 56h1v1h-1zM25 56h1v1h-1zM66 56h1v1h-1zM90 56h1v1h-1zM4 57h1v1h-1zM7 57h1v1h-1zM9 57h2v1h-2zM26 57h1v1h-1zM71 57h1v1h-1zM96 57h1v1h-1zM8 58h2v1h-2zM12 58h1v1h-1zM23 58h1v1h-1zM32 58h1v1h-1zM73 58h1v1h-1zM78 58h1v1h-1zM96 58h1v1h-1zM2 59h1v1h-1zM12 59h1v1h-1zM18 59h1v1h-1zM20 59h1v1h-1zM29 59h1v1h-1zM2 60h1v1h-1zM11 60h3v1h-3zM18 60h1v1h-1zM20 60h1v1h-1zM26 60h1v1h-1zM5 61h1v1h-1zM7 61h1v1h-1zM11 61h1v1h-1zM17 61h3v1h-3zM24 61h2v1h-2zM27 61h1v1h-1zM35 61h2v1h-2zM70 61h1v1h-1zM0 62h1v1h-1zM3 62h1v1h-1zM5 62h2v1h-2zM16 62h1v1h-1zM18 62h2v1h-2zM24 62h1v1h-1zM26 62h1v1h-1zM39 62h1v1h-1zM90 62h1v1h-1zM6 63h1v1h-1zM24 63h2v1h-2zM27 63h1v1h-1zM40 63h1v1h-1zM43 63h1v1h-1zM82 63h1v1h-1zM99 63h2v1h-2zM8 64h1v1h-1zM12 64h3v1h-3zM18 64h1v1h-1zM22 64h2v1h-2zM26 64h1v1h-1zM42 64h2v1h-2zM3 65h1v1h-1zM8 65h4v1h-4zM13 65h1v1h-1zM21 65h3v1h-3zM26 65h1v1h-1zM43 65h1v1h-1zM73 65h1v1h-1zM4 66h1v1h-1zM13 66h3v1h-3zM19 66h1v1h-1zM21 66h1v1h-1zM23 66h6v1h-6zM35 66h1v1h-1zM39 66h1v1h-1zM43 66h1v1h-1zM58 66h1v1h-1zM73 66h2v1h-2zM2 67h1v1h-1zM4 67h1v1h-1zM7 67h1v1h-1zM15 67h1v1h-1zM23 67h1v1h-1zM39 67h1v1h-1zM58 67h1v1h-1zM78 67h1v1h-1zM0 68h1v1h-1zM4 68h3v1h-3zM8 68h1v1h-1zM24 68h1v1h-1zM26 68h3v1h-3zM34 68h1v1h-1zM45 68h1v1h-1zM51 68h1v1h-1zM58 68h1v1h-1zM75 68h1v1h-1zM0 69h2v1h-2zM6 69h3v1h-3zM13 69h1v1h-1zM17 69h3v1h-3zM21 69h1v1h-1zM26 69h2v1h-2zM30 69h2v1h-2zM34 69h2v1h-2zM39 69h1v1h-1zM45 69h1v1h-1zM48 69h1v1h-1zM0 70h1v1h-1zM2 70h1v1h-1zM5 70h1v1h-1zM8 70h1v1h-1zM12 70h2v1h-2zM17 70h2v1h-2zM20 70h1v1h-1zM22 70h1v1h-1zM24 70h1v1h-1zM26 70h1v1h-1zM29 70h3v1h-3zM34 70h2v1h-2zM40 70h2v1h-2zM47 70h1v1h-1zM68 70h1v1h-1zM0 71h1v1h-1zM6 71h1v1h-1zM8 71h1v1h-1zM15 71h1v1h-1zM22 71h1v1h-1zM24 71h2v1h-2zM34 71h2v1h-2zM39 71h1v1h-1zM68 71h1v1h-1zM96 71h1v1h-1zM0 72h2v1h-2zM3 72h2v1h-2zM6 72h3v1h-3zM15 72h2v1h-2zM18 72h2v1h-2zM23 72h3v1h-3zM34 72h1v1h-1zM37 72h1v1h-1zM42 72h2v1h-2zM5 73h1v1h-1zM10 73h3v1h-3zM16 73h2v1h-2zM20 73h1v1h-1zM23 73h1v1h-1zM26 73h1v1h-1zM43 73h1v1h-1zM48 73h1v1h-1zM96 73h1v1h-1zM2 74h2v1h-2zM28 74h1v1h-1zM43 74h3v1h-3zM48 74h1v1h-1zM54 74h1v1h-1zM58 74h1v1h-1zM2 75h1v1h-1zM21 75h1v1h-1zM42 75h1v1h-1zM44 75h1v1h-1zM48 75h1v1h-1zM55 75h1v1h-1zM57 75h1v1h-1zM18 76h1v1h-1zM47 76h2v1h-2zM58 76h1v1h-1zM61 76h1v1h-1zM65 76h1v1h-1zM99 76h1v1h-1zM57 77h2v1h-2zM59 78h3v1h-3zM59 79h1v1h-1zM60 80h1v1h-1zM68 80h2v1h-2zM1 82h1v1h-1zM1 83h1v1h-1zM74 83h1v1h-1zM0 84h1v1h-1zM64 84h1v1h-1zM98 85h1v1h-1zM100 85h1v1h-1zM98 86h1v1h-1zM100 87h1v1h-1zM13 91h1v1h-1z"/>
<path fill="#dadad0" d="M63 44h1v1h-1zM91 44h1v1h-1zM27 45h1v1h-1zM11 46h1v1h-1zM16 47h1v1h-1zM35 47h1v1h-1zM54 47h1v1h-1zM76 47h2v1h-2zM85 47h1v1h-1zM99 47h1v1h-1zM27 48h1v1h-1zM45 48h1v1h-1zM56 48h1v1h-1zM63 48h1v1h-1zM74 48h1v1h-1zM76 48h1v1h-1zM83 48h1v1h-1zM86 48h1v1h-1zM97 48h1v1h-1zM2 49h1v1h-1zM61 49h1v1h-1zM73 49h1v1h-1zM16 50h1v1h-1zM18 50h3v1h-3zM23 50h1v1h-1zM26 50h1v1h-1zM48 50h1v1h-1zM53 50h3v1h-3zM62 50h1v1h-1zM80 50h1v1h-1zM82 50h1v1h-1zM91 50h1v1h-1zM25 51h1v1h-1zM29 51h1v1h-1zM53 51h1v1h-1zM88 51h1v1h-1zM92 51h1v1h-1zM97 51h1v1h-1zM23 52h1v1h-1zM25 52h1v1h-1zM58 52h1v1h-1zM95 52h1v1h-1zM8 53h1v1h-1zM25 53h1v1h-1zM53 53h1v1h-1zM55 53h1v1h-1zM67 53h2v1h-2zM78 53h1v1h-1zM96 53h1v1h-1zM26 54h1v1h-1zM32 54h2v1h-2zM51 54h1v1h-1zM54 54h1v1h-1zM63 54h1v1h-1zM75 54h1v1h-1zM79 54h1v1h-1zM18 55h1v1h-1zM26 55h1v1h-1zM47 55h1v1h-1zM51 55h1v1h-1zM60 55h2v1h-2zM76 55h1v1h-1zM39 56h1v1h-1zM41 56h1v1h-1zM60 56h1v1h-1zM83 56h2v1h-2zM94 56h1v1h-1zM97 56h1v1h-1zM38 57h1v1h-1zM44 57h1v1h-1zM76 57h1v1h-1zM80 57h1v1h-1zM85 57h1v1h-1zM3 58h1v1h-1zM46 58h1v1h-1zM52 58h1v1h-1zM66 58h1v1h-1zM81 58h1v1h-1zM84 58h2v1h-2zM100 58h1v1h-1zM51 59h1v1h-1zM61 59h1v1h-1zM75 59h1v1h-1zM38 60h1v1h-1zM42 60h1v1h-1zM58 60h1v1h-1zM63 60h1v1h-1zM41 61h1v1h-1zM43 61h1v1h-1zM47 61h1v1h-1zM50 61h1v1h-1zM54 61h2v1h-2zM81 61h1v1h-1zM84 61h1v1h-1zM33 62h1v1h-1zM42 62h1v1h-1zM50 62h2v1h-2zM81 62h2v1h-2zM32 63h1v1h-1zM54 63h1v1h-1zM58 63h1v1h-1zM61 63h1v1h-1zM65 63h1v1h-1zM69 63h1v1h-1zM65 64h1v1h-1zM36 65h1v1h-1zM56 65h1v1h-1zM61 65h1v1h-1zM41 66h1v1h-1zM62 66h1v1h-1zM64 66h1v1h-1zM61 67h1v1h-1zM59 68h1v1h-1zM81 69h1v1h-1zM62 71h1v1h-1zM61 72h2v1h-2zM56 73h1v1h-1zM62 74h1v1h-1zM4 76h1v1h-1zM6 76h2v1h-2zM20 76h1v1h-1zM37 76h2v1h-2zM31 77h1v1h-1zM63 77h1v1h-1zM2 79h1v1h-1zM4 79h1v1h-1zM3 80h1v1h-1zM66 83h1v1h-1zM11 93h1v1h-1zM15 93h2v1h-2zM16 94h1v1h-1z"/>
<path fill="#babcb8" d="M3 44h1v1h-1zM92 44h1v1h-1zM65 45h1v1h-1zM25 46h1v1h-1zM44 46h2v1h-2zM51 46h1v1h-1zM93 46h1v1h-1zM1 47h1v1h-1zM14 47h1v1h-1zM59 47h1v1h-1zM50 48h1v1h-1zM59 48h1v1h-1zM69 48h1v1h-1zM37 49h1v1h-1zM45 49h1v1h-1zM67 49h1v1h-1zM85 49h1v1h-1zM92 49h1v1h-1zM6 50h1v1h-1zM11 50h1v1h-1zM32 50h1v1h-1zM38 50h1v1h-1zM42 50h1v1h-1zM44 50h1v1h-1zM47 50h1v1h-1zM67 50h1v1h-1zM84 50h1v1h-1zM4 51h1v1h-1zM8 51h1v1h-1zM17 51h1v1h-1zM34 51h2v1h-2zM43 51h2v1h-2zM46 51h1v1h-1zM56 51h1v1h-1zM60 51h1v1h-1zM64 51h1v1h-1zM67 51h2v1h-2zM78 51h3v1h-3zM89 51h1v1h-1zM14 52h1v1h-1zM28 52h1v1h-1zM31 52h3v1h-3zM56 52h1v1h-1zM77 52h1v1h-1zM81 52h2v1h-2zM91 52h1v1h-1zM0 53h1v1h-1zM3 53h1v1h-1zM5 53h2v1h-2zM10 53h1v1h-1zM30 53h1v1h-1zM40 53h1v1h-1zM61 53h1v1h-1zM73 53h1v1h-1zM76 53h1v1h-1zM4 54h1v1h-1zM23 54h1v1h-1zM56 54h1v1h-1zM64 54h2v1h-2zM67 54h1v1h-1zM85 54h1v1h-1zM90 54h2v1h-2zM6 55h1v1h-1zM8 55h3v1h-3zM14 55h1v1h-1zM20 55h1v1h-1zM23 55h1v1h-1zM25 55h1v1h-1zM31 55h1v1h-1zM38 55h1v1h-1zM58 55h1v1h-1zM66 55h2v1h-2zM81 55h1v1h-1zM86 55h1v1h-1zM90 55h1v1h-1zM93 55h1v1h-1zM7 56h1v1h-1zM10 56h1v1h-1zM16 56h1v1h-1zM22 56h1v1h-1zM30 56h1v1h-1zM36 56h1v1h-1zM51 56h1v1h-1zM64 56h1v1h-1zM67 56h1v1h-1zM70 56h1v1h-1zM72 56h1v1h-1zM89 56h1v1h-1zM91 56h2v1h-2zM96 56h1v1h-1zM100 56h1v1h-1zM2 57h2v1h-2zM6 57h1v1h-1zM19 57h1v1h-1zM23 57h3v1h-3zM28 57h1v1h-1zM30 57h1v1h-1zM37 57h1v1h-1zM48 57h2v1h-2zM64 57h1v1h-1zM73 57h1v1h-1zM78 57h1v1h-1zM90 57h1v1h-1zM14 58h1v1h-1zM16 58h1v1h-1zM20 58h1v1h-1zM22 58h1v1h-1zM25 58h1v1h-1zM27 58h1v1h-1zM30 58h1v1h-1zM33 58h1v1h-1zM48 58h1v1h-1zM64 58h1v1h-1zM71 58h1v1h-1zM97 58h1v1h-1zM7 59h1v1h-1zM10 59h1v1h-1zM21 59h1v1h-1zM28 59h1v1h-1zM41 59h1v1h-1zM59 59h1v1h-1zM70 59h2v1h-2zM81 59h3v1h-3zM96 59h2v1h-2zM4 60h1v1h-1zM6 60h1v1h-1zM9 60h2v1h-2zM16 60h1v1h-1zM28 60h1v1h-1zM30 60h1v1h-1zM41 60h1v1h-1zM65 60h1v1h-1zM70 60h2v1h-2zM73 60h1v1h-1zM80 60h1v1h-1zM83 60h1v1h-1zM90 60h1v1h-1zM94 60h1v1h-1zM100 60h1v1h-1zM0 61h2v1h-2zM13 61h1v1h-1zM16 61h1v1h-1zM20 61h1v1h-1zM22 61h2v1h-2zM29 61h1v1h-1zM32 61h1v1h-1zM39 61h1v1h-1zM45 61h1v1h-1zM56 61h1v1h-1zM59 61h1v1h-1zM64 61h1v1h-1zM66 61h1v1h-1zM73 61h3v1h-3zM78 61h1v1h-1zM7 62h5v1h-5zM15 62h1v1h-1zM20 62h2v1h-2zM31 62h1v1h-1zM35 62h1v1h-1zM37 62h1v1h-1zM40 62h1v1h-1zM58 62h1v1h-1zM66 62h1v1h-1zM75 62h1v1h-1zM85 62h1v1h-1zM1 63h1v1h-1zM3 63h1v1h-1zM5 63h1v1h-1zM22 63h1v1h-1zM26 63h1v1h-1zM42 63h1v1h-1zM53 63h1v1h-1zM59 63h1v1h-1zM67 63h2v1h-2zM78 63h1v1h-1zM85 63h1v1h-1zM88 63h1v1h-1zM97 63h2v1h-2zM4 64h1v1h-1zM9 64h2v1h-2zM25 64h1v1h-1zM33 64h3v1h-3zM44 64h2v1h-2zM47 64h1v1h-1zM49 64h1v1h-1zM52 64h2v1h-2zM70 64h1v1h-1zM73 64h1v1h-1zM0 65h2v1h-2zM4 65h1v1h-1zM25 65h1v1h-1zM27 65h1v1h-1zM42 65h1v1h-1zM45 65h1v1h-1zM51 65h1v1h-1zM57 65h2v1h-2zM60 65h1v1h-1zM72 65h1v1h-1zM74 65h1v1h-1zM0 66h2v1h-2zM11 66h1v1h-1zM30 66h1v1h-1zM37 66h1v1h-1zM40 66h1v1h-1zM44 66h1v1h-1zM48 66h1v1h-1zM50 66h1v1h-1zM54 66h1v1h-1zM57 66h1v1h-1zM71 66h1v1h-1zM76 66h1v1h-1zM78 66h1v1h-1zM85 66h1v1h-1zM11 67h1v1h-1zM20 67h1v1h-1zM22 67h1v1h-1zM24 67h1v1h-1zM28 67h3v1h-3zM37 67h2v1h-2zM42 67h1v1h-1zM45 67h1v1h-1zM47 67h1v1h-1zM49 67h1v1h-1zM52 67h2v1h-2zM55 67h1v1h-1zM63 67h1v1h-1zM77 67h1v1h-1zM81 67h1v1h-1zM84 67h1v1h-1zM14 68h1v1h-1zM20 68h1v1h-1zM33 68h1v1h-1zM54 68h1v1h-1zM61 68h2v1h-2zM67 68h1v1h-1zM78 68h1v1h-1zM99 68h2v1h-2zM3 69h2v1h-2zM20 69h1v1h-1zM28 69h1v1h-1zM36 69h1v1h-1zM41 69h1v1h-1zM47 69h1v1h-1zM52 69h1v1h-1zM67 69h1v1h-1zM77 69h1v1h-1zM79 69h1v1h-1zM3 70h2v1h-2zM14 70h2v1h-2zM28 70h1v1h-1zM59 70h1v1h-1zM65 70h2v1h-2zM1 71h1v1h-1zM13 71h1v1h-1zM36 71h1v1h-1zM38 71h1v1h-1zM44 71h1v1h-1zM56 71h2v1h-2zM61 71h1v1h-1zM66 71h1v1h-1zM97 71h1v1h-1zM12 72h2v1h-2zM17 72h1v1h-1zM36 72h1v1h-1zM38 72h1v1h-1zM41 72h1v1h-1zM46 72h1v1h-1zM3 73h1v1h-1zM6 73h1v1h-1zM8 73h1v1h-1zM13 73h1v1h-1zM28 73h1v1h-1zM38 73h1v1h-1zM44 73h1v1h-1zM47 73h1v1h-1zM54 73h1v1h-1zM58 73h1v1h-1zM1 74h1v1h-1zM4 74h4v1h-4zM10 74h1v1h-1zM19 74h1v1h-1zM23 74h1v1h-1zM27 74h1v1h-1zM29 74h1v1h-1zM35 74h1v1h-1zM49 74h1v1h-1zM1 75h1v1h-1zM3 75h1v1h-1zM7 75h1v1h-1zM9 75h1v1h-1zM17 75h1v1h-1zM22 75h1v1h-1zM26 75h1v1h-1zM28 75h1v1h-1zM30 75h1v1h-1zM41 75h1v1h-1zM52 75h2v1h-2zM56 75h1v1h-1zM58 75h1v1h-1zM0 76h1v1h-1zM21 76h1v1h-1zM28 76h1v1h-1zM40 76h1v1h-1zM43 76h1v1h-1zM51 76h1v1h-1zM53 76h1v1h-1zM55 76h1v1h-1zM57 76h1v1h-1zM62 76h1v1h-1zM100 76h1v1h-1zM50 77h2v1h-2zM59 77h1v1h-1zM61 77h1v1h-1zM66 77h1v1h-1zM97 77h1v1h-1zM99 77h1v1h-1zM63 78h1v1h-1zM67 78h1v1h-1zM80 78h1v1h-1zM82 78h1v1h-1zM52 79h1v1h-1zM62 79h1v1h-1zM66 79h2v1h-2zM99 79h2v1h-2zM1 80h1v1h-1zM67 80h1v1h-1zM99 80h2v1h-2zM1 81h1v1h-1zM4 81h1v1h-1zM99 81h1v1h-1zM97 82h3v1h-3zM2 83h1v1h-1zM63 83h1v1h-1zM100 83h1v1h-1zM68 84h1v1h-1zM72 84h1v1h-1zM98 84h3v1h-3zM14 92h1v1h-1zM1 93h2v1h-2zM12 93h2v1h-2zM4 94h1v1h-1zM10 94h2v1h-2zM15 94h1v1h-1zM4 95h1v1h-1zM10 95h1v1h-1zM15 95h1v1h-1z"/>
<path fill="#a1c9a9" d="M91 64h2v1h-2zM94 64h1v1h-1zM94 65h1v1h-1zM94 66h1v1h-1zM88 67h2v1h-2zM94 68h1v1h-1zM72 69h1v1h-1zM94 70h1v1h-1zM73 71h1v1h-1zM85 71h1v1h-1zM75 72h3v1h-3zM84 72h1v1h-1zM81 73h2v1h-2zM89 73h1v1h-1zM70 74h1v1h-1zM74 74h1v1h-1zM70 75h3v1h-3zM77 75h1v1h-1zM79 75h1v1h-1zM94 75h1v1h-1zM71 76h3v1h-3zM75 78h1v1h-1zM85 78h1v1h-1zM95 78h1v1h-1zM88 79h1v1h-1zM94 79h1v1h-1zM95 80h1v1h-1zM22 81h2v1h-2zM41 81h1v1h-1zM46 81h3v1h-3zM54 81h2v1h-2zM79 81h1v1h-1zM81 81h1v1h-1zM93 81h1v1h-1zM17 82h1v1h-1zM19 82h2v1h-2zM22 82h2v1h-2zM26 82h5v1h-5zM32 82h4v1h-4zM37 82h2v1h-2zM40 82h2v1h-2zM56 82h1v1h-1zM79 82h2v1h-2zM83 82h1v1h-1zM5 83h1v1h-1zM14 83h1v1h-1zM17 83h3v1h-3zM22 83h3v1h-3zM27 83h1v1h-1zM50 83h1v1h-1zM56 83h1v1h-1zM78 83h1v1h-1zM91 83h1v1h-1zM6 84h2v1h-2zM9 84h1v1h-1zM15 84h1v1h-1zM17 84h1v1h-1zM23 84h2v1h-2zM31 84h1v1h-1zM39 84h1v1h-1zM93 84h1v1h-1zM4 85h2v1h-2zM7 85h1v1h-1zM9 85h2v1h-2zM13 85h2v1h-2zM17 85h1v1h-1zM23 85h1v1h-1zM31 85h1v1h-1zM34 85h1v1h-1zM93 85h2v1h-2zM4 86h2v1h-2zM11 86h4v1h-4zM28 86h2v1h-2zM36 86h1v1h-1zM41 86h2v1h-2zM50 86h2v1h-2zM66 86h4v1h-4zM73 86h1v1h-1zM84 86h1v1h-1zM89 86h2v1h-2zM92 86h1v1h-1zM3 87h1v1h-1zM15 87h1v1h-1zM30 87h1v1h-1zM46 87h1v1h-1zM51 87h1v1h-1zM88 87h1v1h-1zM94 87h1v1h-1zM0 88h1v1h-1zM2 88h2v1h-2zM6 88h2v1h-2zM24 88h1v1h-1zM34 88h3v1h-3zM39 88h2v1h-2zM46 88h1v1h-1zM68 88h1v1h-1zM78 88h1v1h-1zM88 88h1v1h-1zM93 88h1v1h-1zM3 89h1v1h-1zM8 89h1v1h-1zM12 89h1v1h-1zM36 89h1v1h-1zM39 89h3v1h-3zM51 89h1v1h-1zM66 89h2v1h-2zM72 89h2v1h-2zM76 89h1v1h-1zM91 89h2v1h-2zM4 90h2v1h-2zM8 90h3v1h-3zM36 90h1v1h-1zM39 90h2v1h-2zM51 90h1v1h-1zM64 90h1v1h-1zM71 90h1v1h-1zM73 90h1v1h-1zM91 90h1v1h-1zM7 91h1v1h-1zM23 91h1v1h-1zM27 91h4v1h-4zM34 91h1v1h-1zM38 91h6v1h-6zM50 91h1v1h-1zM64 91h1v1h-1zM76 91h1v1h-1zM83 91h3v1h-3zM91 91h1v1h-1zM98 91h1v1h-1zM21 92h1v1h-1zM26 92h1v1h-1zM28 92h4v1h-4zM37 92h1v1h-1zM41 92h5v1h-5zM63 92h1v1h-1zM83 92h3v1h-3zM88 92h1v1h-1zM91 92h1v1h-1zM97 92h1v1h-1zM99 92h1v1h-1zM20 93h1v1h-1zM26 93h2v1h-2zM29 93h4v1h-4zM37 93h1v1h-1zM39 93h1v1h-1zM45 93h2v1h-2zM71 93h2v1h-2zM83 93h5v1h-5zM94 93h1v1h-1zM100 93h1v1h-1zM20 94h1v1h-1zM22 94h1v1h-1zM35 94h3v1h-3zM46 94h2v1h-2zM53 94h1v1h-1zM83 94h1v1h-1zM87 94h1v1h-1zM94 94h2v1h-2zM97 94h1v1h-1zM99 94h1v1h-1zM23 95h2v1h-2zM35 95h3v1h-3zM41 95h1v1h-1zM43 95h1v1h-1zM46 95h1v1h-1zM48 95h1v1h-1zM53 95h2v1h-2zM71 95h1v1h-1zM83 95h1v1h-1zM88 95h1v1h-1zM93 95h3v1h-3z"/>
<path fill="#eaede5" d="M81 46h1v1h-1zM85 46h1v1h-1zM26 47h1v1h-1zM3 48h1v1h-1zM72 48h1v1h-1zM80 48h1v1h-1zM21 51h2v1h-2zM26 52h1v1h-1zM98 52h1v1h-1zM100 54h1v1h-1zM48 56h1v1h-1zM98 56h1v1h-1zM62 59h1v1h-1zM82 61h1v1h-1zM63 63h1v1h-1zM63 75h1v1h-1zM16 77h1v1h-1zM23 77h1v1h-1zM32 77h2v1h-2zM38 77h1v1h-1zM2 78h1v1h-1zM6 78h2v1h-2zM9 78h4v1h-4zM16 78h3v1h-3zM21 78h3v1h-3zM30 78h1v1h-1zM32 78h2v1h-2zM37 78h2v1h-2zM6 79h2v1h-2zM9 79h2v1h-2zM13 79h3v1h-3zM17 79h2v1h-2zM23 79h2v1h-2zM30 79h3v1h-3zM35 79h1v1h-1zM14 80h1v1h-1zM18 80h1v1h-1zM30 80h1v1h-1z"/>
<path fill="#91c09d" d="M92 65h1v1h-1zM91 66h1v1h-1zM91 67h1v1h-1zM90 68h1v1h-1zM89 69h2v1h-2zM90 70h1v1h-1zM87 71h2v1h-2zM90 71h1v1h-1zM72 72h2v1h-2zM86 72h4v1h-4zM92 72h1v1h-1zM72 73h1v1h-1zM76 73h2v1h-2zM79 73h1v1h-1zM90 73h2v1h-2zM72 74h1v1h-1zM75 74h2v1h-2zM80 74h1v1h-1zM84 74h1v1h-1zM86 74h1v1h-1zM73 75h1v1h-1zM75 75h2v1h-2zM85 75h2v1h-2zM86 76h3v1h-3zM93 76h1v1h-1zM72 77h2v1h-2zM87 77h1v1h-1zM91 77h3v1h-3zM88 78h1v1h-1zM90 78h3v1h-3zM94 78h1v1h-1zM89 79h5v1h-5zM87 80h4v1h-4zM92 80h2v1h-2zM88 81h2v1h-2zM31 82h1v1h-1zM39 82h1v1h-1zM42 82h1v1h-1zM44 82h3v1h-3zM51 82h1v1h-1zM55 82h1v1h-1zM81 82h1v1h-1zM91 82h1v1h-1zM93 82h1v1h-1zM13 83h1v1h-1zM16 83h1v1h-1zM20 83h1v1h-1zM32 83h1v1h-1zM36 83h1v1h-1zM40 83h1v1h-1zM45 83h1v1h-1zM49 83h1v1h-1zM59 83h1v1h-1zM77 83h1v1h-1zM79 83h2v1h-2zM82 83h1v1h-1zM89 83h2v1h-2zM10 84h4v1h-4zM19 84h2v1h-2zM22 84h1v1h-1zM25 84h1v1h-1zM28 84h1v1h-1zM34 84h1v1h-1zM40 84h2v1h-2zM46 84h1v1h-1zM57 84h3v1h-3zM76 84h1v1h-1zM79 84h2v1h-2zM19 85h2v1h-2zM22 85h1v1h-1zM24 85h1v1h-1zM29 85h2v1h-2zM35 85h1v1h-1zM38 85h4v1h-4zM46 85h2v1h-2zM59 85h2v1h-2zM85 85h1v1h-1zM88 85h1v1h-1zM90 85h1v1h-1zM6 86h1v1h-1zM8 86h1v1h-1zM15 86h1v1h-1zM19 86h2v1h-2zM24 86h1v1h-1zM30 86h1v1h-1zM32 86h2v1h-2zM43 86h1v1h-1zM46 86h2v1h-2zM49 86h1v1h-1zM52 86h1v1h-1zM60 86h1v1h-1zM74 86h1v1h-1zM83 86h1v1h-1zM85 86h4v1h-4zM91 86h1v1h-1zM4 87h4v1h-4zM12 87h1v1h-1zM14 87h1v1h-1zM16 87h2v1h-2zM24 87h1v1h-1zM29 87h1v1h-1zM35 87h4v1h-4zM41 87h3v1h-3zM45 87h1v1h-1zM47 87h1v1h-1zM49 87h1v1h-1zM53 87h1v1h-1zM60 87h1v1h-1zM65 87h2v1h-2zM69 87h1v1h-1zM73 87h1v1h-1zM76 87h2v1h-2zM83 87h1v1h-1zM85 87h1v1h-1zM89 87h2v1h-2zM92 87h1v1h-1zM8 88h3v1h-3zM12 88h4v1h-4zM25 88h2v1h-2zM29 88h2v1h-2zM33 88h1v1h-1zM47 88h1v1h-1zM51 88h1v1h-1zM56 88h1v1h-1zM60 88h1v1h-1zM71 88h2v1h-2zM76 88h2v1h-2zM79 88h2v1h-2zM83 88h2v1h-2zM89 88h1v1h-1zM91 88h2v1h-2zM5 89h1v1h-1zM7 89h1v1h-1zM9 89h3v1h-3zM34 89h2v1h-2zM37 89h2v1h-2zM42 89h2v1h-2zM52 89h2v1h-2zM56 89h1v1h-1zM62 89h4v1h-4zM69 89h3v1h-3zM74 89h2v1h-2zM79 89h3v1h-3zM93 89h1v1h-1zM7 90h1v1h-1zM20 90h1v1h-1zM34 90h2v1h-2zM37 90h2v1h-2zM41 90h5v1h-5zM52 90h2v1h-2zM62 90h2v1h-2zM65 90h2v1h-2zM69 90h2v1h-2zM72 90h1v1h-1zM74 90h3v1h-3zM79 90h3v1h-3zM83 90h1v1h-1zM92 90h2v1h-2zM24 91h3v1h-3zM35 91h1v1h-1zM44 91h2v1h-2zM49 91h1v1h-1zM52 91h2v1h-2zM70 91h1v1h-1zM81 91h2v1h-2zM88 91h3v1h-3zM92 91h3v1h-3zM22 92h4v1h-4zM27 92h1v1h-1zM34 92h1v1h-1zM39 92h2v1h-2zM46 92h1v1h-1zM50 92h1v1h-1zM62 92h1v1h-1zM71 92h1v1h-1zM76 92h1v1h-1zM82 92h1v1h-1zM86 92h2v1h-2zM89 92h1v1h-1zM94 92h2v1h-2zM24 93h1v1h-1zM28 93h1v1h-1zM33 93h1v1h-1zM36 93h1v1h-1zM40 93h1v1h-1zM42 93h1v1h-1zM44 93h1v1h-1zM47 93h1v1h-1zM53 93h1v1h-1zM58 93h1v1h-1zM62 93h3v1h-3zM73 93h1v1h-1zM76 93h1v1h-1zM91 93h1v1h-1zM96 93h2v1h-2zM24 94h1v1h-1zM29 94h3v1h-3zM34 94h1v1h-1zM38 94h1v1h-1zM40 94h2v1h-2zM43 94h1v1h-1zM45 94h1v1h-1zM48 94h1v1h-1zM52 94h1v1h-1zM54 94h2v1h-2zM62 94h1v1h-1zM65 94h2v1h-2zM69 94h5v1h-5zM76 94h1v1h-1zM86 94h1v1h-1zM88 94h4v1h-4zM93 94h1v1h-1zM96 94h1v1h-1zM25 95h1v1h-1zM29 95h2v1h-2zM32 95h1v1h-1zM34 95h1v1h-1zM38 95h3v1h-3zM47 95h1v1h-1zM49 95h1v1h-1zM52 95h1v1h-1zM55 95h1v1h-1zM61 95h1v1h-1zM65 95h3v1h-3zM69 95h2v1h-2zM72 95h2v1h-2zM76 95h1v1h-1zM79 95h1v1h-1zM86 95h2v1h-2zM89 95h1v1h-1zM91 95h1v1h-1zM97 95h1v1h-1zM99 95h2v1h-2z"/>
<path fill="#b6d1ba" d="M93 61h1v1h-1zM91 62h1v1h-1zM90 63h3v1h-3zM96 64h2v1h-2zM88 65h3v1h-3zM95 65h2v1h-2zM96 66h1v1h-1zM71 67h1v1h-1zM95 67h1v1h-1zM73 68h1v1h-1zM95 68h1v1h-1zM69 69h2v1h-2zM73 69h1v1h-1zM70 70h6v1h-6zM95 70h1v1h-1zM71 71h2v1h-2zM77 71h2v1h-2zM81 71h2v1h-2zM95 71h1v1h-1zM69 73h1v1h-1zM74 73h2v1h-2zM69 75h1v1h-1zM95 75h1v1h-1zM69 76h1v1h-1zM78 76h1v1h-1zM94 76h2v1h-2zM83 77h1v1h-1zM94 77h2v1h-2zM58 79h1v1h-1zM20 80h1v1h-1zM22 80h1v1h-1zM27 80h2v1h-2zM36 80h1v1h-1zM38 80h3v1h-3zM42 80h2v1h-2zM50 80h3v1h-3zM57 80h1v1h-1zM75 80h2v1h-2zM96 80h1v1h-1zM5 81h3v1h-3zM16 81h1v1h-1zM19 81h1v1h-1zM24 81h1v1h-1zM27 81h2v1h-2zM31 81h1v1h-1zM33 81h7v1h-7zM53 81h1v1h-1zM74 81h2v1h-2zM80 81h1v1h-1zM14 82h3v1h-3zM18 82h1v1h-1zM24 82h2v1h-2zM36 82h1v1h-1zM96 82h1v1h-1zM3 83h2v1h-2zM15 83h1v1h-1zM25 83h1v1h-1zM2 84h1v1h-1zM14 84h1v1h-1zM16 84h1v1h-1zM3 85h1v1h-1zM6 85h1v1h-1zM15 85h2v1h-2zM69 85h2v1h-2zM1 87h2v1h-2zM95 87h1v1h-1zM1 88h1v1h-1zM16 88h1v1h-1zM94 88h2v1h-2zM2 89h1v1h-1zM0 90h2v1h-2zM12 90h1v1h-1zM0 91h1v1h-1zM2 91h2v1h-2zM16 91h1v1h-1zM51 91h1v1h-1zM95 93h1v1h-1zM98 93h2v1h-2zM21 94h1v1h-1zM23 94h1v1h-1zM98 94h1v1h-1zM21 95h2v1h-2zM98 95h1v1h-1z"/>
<path fill="#c5c6bf" d="M7 45h1v1h-1zM22 45h2v1h-2zM44 45h1v1h-1zM12 46h1v1h-1zM24 46h1v1h-1zM36 46h1v1h-1zM41 46h1v1h-1zM76 46h1v1h-1zM25 47h1v1h-1zM41 47h1v1h-1zM78 47h1v1h-1zM2 48h1v1h-1zM14 48h1v1h-1zM20 48h1v1h-1zM25 48h1v1h-1zM57 48h1v1h-1zM60 48h1v1h-1zM67 48h1v1h-1zM0 49h1v1h-1zM4 49h2v1h-2zM14 49h1v1h-1zM32 49h1v1h-1zM40 49h1v1h-1zM42 49h1v1h-1zM88 49h2v1h-2zM94 49h1v1h-1zM3 50h2v1h-2zM9 50h2v1h-2zM14 50h1v1h-1zM30 50h1v1h-1zM33 50h1v1h-1zM36 50h1v1h-1zM65 50h2v1h-2zM75 50h1v1h-1zM77 50h1v1h-1zM81 50h1v1h-1zM87 50h1v1h-1zM0 51h2v1h-2zM10 51h1v1h-1zM19 51h1v1h-1zM36 51h1v1h-1zM49 51h1v1h-1zM51 51h1v1h-1zM76 51h1v1h-1zM84 51h1v1h-1zM90 51h1v1h-1zM5 52h1v1h-1zM9 52h1v1h-1zM12 52h1v1h-1zM15 52h1v1h-1zM20 52h1v1h-1zM34 52h3v1h-3zM45 52h1v1h-1zM59 52h1v1h-1zM65 52h1v1h-1zM67 52h2v1h-2zM70 52h1v1h-1zM83 52h1v1h-1zM90 52h1v1h-1zM96 52h1v1h-1zM14 53h1v1h-1zM18 53h1v1h-1zM21 53h1v1h-1zM36 53h1v1h-1zM39 53h1v1h-1zM45 53h1v1h-1zM56 53h2v1h-2zM63 53h1v1h-1zM65 53h1v1h-1zM75 53h1v1h-1zM81 53h1v1h-1zM83 53h1v1h-1zM86 53h1v1h-1zM0 54h1v1h-1zM10 54h3v1h-3zM14 54h1v1h-1zM17 54h1v1h-1zM24 54h1v1h-1zM30 54h1v1h-1zM36 54h1v1h-1zM47 54h2v1h-2zM59 54h1v1h-1zM70 54h1v1h-1zM81 54h1v1h-1zM89 54h1v1h-1zM0 55h2v1h-2zM35 55h1v1h-1zM41 55h2v1h-2zM52 55h1v1h-1zM57 55h1v1h-1zM59 55h1v1h-1zM69 55h3v1h-3zM82 55h1v1h-1zM92 55h1v1h-1zM14 56h2v1h-2zM18 56h1v1h-1zM23 56h1v1h-1zM26 56h1v1h-1zM50 56h1v1h-1zM54 56h2v1h-2zM62 56h1v1h-1zM71 56h1v1h-1zM73 56h1v1h-1zM82 56h1v1h-1zM35 57h2v1h-2zM39 57h1v1h-1zM43 57h1v1h-1zM57 57h1v1h-1zM65 57h3v1h-3zM69 57h1v1h-1zM81 57h1v1h-1zM88 57h2v1h-2zM29 58h1v1h-1zM35 58h1v1h-1zM40 58h1v1h-1zM62 58h2v1h-2zM70 58h1v1h-1zM74 58h2v1h-2zM77 58h1v1h-1zM89 58h1v1h-1zM33 59h1v1h-1zM44 59h1v1h-1zM54 59h1v1h-1zM65 59h1v1h-1zM69 59h1v1h-1zM72 59h1v1h-1zM86 59h1v1h-1zM89 59h1v1h-1zM92 59h1v1h-1zM94 59h1v1h-1zM35 60h1v1h-1zM39 60h1v1h-1zM45 60h1v1h-1zM47 60h1v1h-1zM60 60h1v1h-1zM64 60h1v1h-1zM66 60h1v1h-1zM69 60h1v1h-1zM76 60h1v1h-1zM78 60h1v1h-1zM82 60h1v1h-1zM89 60h1v1h-1zM93 60h1v1h-1zM95 60h1v1h-1zM97 60h1v1h-1zM33 61h1v1h-1zM53 61h1v1h-1zM63 61h1v1h-1zM76 61h1v1h-1zM79 61h1v1h-1zM34 62h1v1h-1zM41 62h1v1h-1zM46 62h1v1h-1zM59 62h2v1h-2zM62 62h1v1h-1zM65 62h1v1h-1zM69 62h2v1h-2zM78 62h2v1h-2zM100 62h1v1h-1zM34 63h1v1h-1zM46 63h1v1h-1zM48 63h1v1h-1zM52 63h1v1h-1zM75 63h1v1h-1zM80 63h2v1h-2zM83 63h2v1h-2zM32 64h1v1h-1zM50 64h2v1h-2zM58 64h1v1h-1zM67 64h1v1h-1zM69 64h1v1h-1zM85 64h1v1h-1zM46 65h1v1h-1zM50 65h1v1h-1zM53 65h3v1h-3zM68 65h1v1h-1zM70 65h1v1h-1zM76 65h1v1h-1zM80 65h1v1h-1zM99 65h1v1h-1zM46 66h1v1h-1zM53 66h1v1h-1zM56 66h1v1h-1zM66 66h1v1h-1zM81 66h1v1h-1zM50 67h1v1h-1zM62 67h1v1h-1zM99 67h1v1h-1zM57 68h1v1h-1zM64 68h1v1h-1zM81 68h1v1h-1zM83 68h1v1h-1zM53 69h1v1h-1zM60 69h1v1h-1zM42 70h2v1h-2zM50 70h1v1h-1zM54 70h1v1h-1zM62 70h3v1h-3zM98 70h1v1h-1zM41 71h1v1h-1zM55 71h1v1h-1zM67 71h1v1h-1zM52 72h1v1h-1zM55 72h1v1h-1zM57 72h2v1h-2zM63 72h1v1h-1zM98 72h1v1h-1zM52 73h1v1h-1zM59 73h1v1h-1zM68 73h1v1h-1zM97 73h1v1h-1zM51 74h2v1h-2zM46 75h1v1h-1zM66 75h1v1h-1zM49 77h1v1h-1zM54 77h1v1h-1zM65 77h1v1h-1zM47 78h1v1h-1zM52 78h1v1h-1zM62 80h1v1h-1zM0 81h1v1h-1zM67 81h1v1h-1zM65 82h1v1h-1zM70 82h1v1h-1zM68 83h1v1h-1zM71 83h1v1h-1zM67 84h1v1h-1zM70 84h1v1h-1zM3 94h1v1h-1zM9 94h1v1h-1zM8 95h1v1h-1z"/>
<path fill="#d1d2c8" d="M31 44h1v1h-1zM47 45h1v1h-1zM63 45h1v1h-1zM83 45h1v1h-1zM37 46h1v1h-1zM39 46h1v1h-1zM60 46h1v1h-1zM73 46h1v1h-1zM99 46h1v1h-1zM4 47h1v1h-1zM18 47h1v1h-1zM22 47h1v1h-1zM42 47h1v1h-1zM81 47h1v1h-1zM93 47h1v1h-1zM15 48h1v1h-1zM66 48h1v1h-1zM1 49h1v1h-1zM31 49h1v1h-1zM33 49h1v1h-1zM36 49h1v1h-1zM52 49h2v1h-2zM59 49h2v1h-2zM90 49h1v1h-1zM0 50h1v1h-1zM24 50h1v1h-1zM40 50h1v1h-1zM59 50h1v1h-1zM64 50h1v1h-1zM79 50h1v1h-1zM89 50h1v1h-1zM97 50h1v1h-1zM3 51h1v1h-1zM23 51h1v1h-1zM37 51h1v1h-1zM47 51h2v1h-2zM77 51h1v1h-1zM93 51h1v1h-1zM99 51h1v1h-1zM16 52h2v1h-2zM49 52h1v1h-1zM76 52h1v1h-1zM87 52h1v1h-1zM99 52h1v1h-1zM1 53h1v1h-1zM13 53h1v1h-1zM17 53h1v1h-1zM28 53h1v1h-1zM47 53h1v1h-1zM49 53h1v1h-1zM58 53h1v1h-1zM64 53h1v1h-1zM69 53h1v1h-1zM71 53h1v1h-1zM79 53h2v1h-2zM92 53h1v1h-1zM35 54h1v1h-1zM45 54h1v1h-1zM52 54h2v1h-2zM60 54h1v1h-1zM62 54h1v1h-1zM69 54h1v1h-1zM73 54h1v1h-1zM78 54h1v1h-1zM80 54h1v1h-1zM84 54h1v1h-1zM2 55h2v1h-2zM30 55h1v1h-1zM50 55h1v1h-1zM53 55h2v1h-2zM77 55h1v1h-1zM79 55h1v1h-1zM76 56h1v1h-1zM93 56h1v1h-1zM95 56h1v1h-1zM45 57h1v1h-1zM54 57h1v1h-1zM63 57h1v1h-1zM77 57h1v1h-1zM79 57h1v1h-1zM83 57h1v1h-1zM87 57h1v1h-1zM15 58h1v1h-1zM38 58h2v1h-2zM41 58h1v1h-1zM47 58h1v1h-1zM53 58h1v1h-1zM80 58h1v1h-1zM82 58h1v1h-1zM34 59h1v1h-1zM46 59h2v1h-2zM58 59h1v1h-1zM66 59h1v1h-1zM84 59h1v1h-1zM88 59h1v1h-1zM52 60h2v1h-2zM84 60h1v1h-1zM14 61h1v1h-1zM46 61h1v1h-1zM48 61h1v1h-1zM86 61h1v1h-1zM88 61h1v1h-1zM12 62h1v1h-1zM52 62h1v1h-1zM64 62h1v1h-1zM76 62h1v1h-1zM80 62h1v1h-1zM31 64h1v1h-1zM37 64h1v1h-1zM81 64h1v1h-1zM29 65h1v1h-1zM31 65h1v1h-1zM67 65h1v1h-1zM81 65h2v1h-2zM61 66h1v1h-1zM80 66h1v1h-1zM59 67h1v1h-1zM60 68h1v1h-1zM60 71h1v1h-1zM51 73h1v1h-1zM62 73h1v1h-1zM99 73h1v1h-1zM59 74h1v1h-1zM66 74h1v1h-1zM98 74h1v1h-1zM61 75h1v1h-1zM67 75h1v1h-1zM66 76h1v1h-1zM65 81h1v1h-1zM65 83h1v1h-1zM14 93h1v1h-1zM16 95h1v1h-1z"/>
<path fill="#72a584" d="M92 66h2v1h-2zM92 67h1v1h-1zM92 68h2v1h-2zM87 69h1v1h-1zM91 69h3v1h-3zM87 70h1v1h-1zM91 70h3v1h-3zM73 73h1v1h-1zM93 73h1v1h-1zM89 74h5v1h-5zM89 75h4v1h-4zM91 76h2v1h-2zM87 78h1v1h-1zM93 78h1v1h-1zM84 80h2v1h-2zM78 81h1v1h-1zM84 81h3v1h-3zM91 81h1v1h-1zM85 82h3v1h-3zM92 82h1v1h-1zM29 83h3v1h-3zM37 83h2v1h-2zM42 83h2v1h-2zM46 83h3v1h-3zM53 83h3v1h-3zM85 83h2v1h-2zM88 83h1v1h-1zM32 84h2v1h-2zM44 84h2v1h-2zM48 84h1v1h-1zM53 84h2v1h-2zM56 84h1v1h-1zM77 84h1v1h-1zM83 84h1v1h-1zM32 85h1v1h-1zM44 85h1v1h-1zM48 85h1v1h-1zM52 85h2v1h-2zM55 85h3v1h-3zM76 85h3v1h-3zM82 85h2v1h-2zM91 85h1v1h-1zM9 86h1v1h-1zM26 86h1v1h-1zM31 86h1v1h-1zM40 86h1v1h-1zM53 86h1v1h-1zM56 86h3v1h-3zM62 86h1v1h-1zM64 86h1v1h-1zM75 86h2v1h-2zM79 86h2v1h-2zM21 87h3v1h-3zM26 87h1v1h-1zM31 87h1v1h-1zM48 87h1v1h-1zM55 87h4v1h-4zM62 87h1v1h-1zM74 87h1v1h-1zM79 87h1v1h-1zM81 87h1v1h-1zM21 88h3v1h-3zM27 88h1v1h-1zM42 88h1v1h-1zM44 88h1v1h-1zM48 88h1v1h-1zM53 88h3v1h-3zM57 88h2v1h-2zM61 88h1v1h-1zM66 88h1v1h-1zM81 88h1v1h-1zM22 89h1v1h-1zM26 89h1v1h-1zM28 89h2v1h-2zM31 89h1v1h-1zM33 89h1v1h-1zM50 89h1v1h-1zM54 89h1v1h-1zM59 89h3v1h-3zM83 89h4v1h-4zM31 90h2v1h-2zM54 90h2v1h-2zM59 90h3v1h-3zM84 90h1v1h-1zM86 90h2v1h-2zM32 91h1v1h-1zM46 91h1v1h-1zM54 91h2v1h-2zM57 91h2v1h-2zM62 91h1v1h-1zM66 91h3v1h-3zM71 91h1v1h-1zM74 91h2v1h-2zM77 91h3v1h-3zM56 92h1v1h-1zM58 92h1v1h-1zM67 92h3v1h-3zM78 92h1v1h-1zM80 92h2v1h-2zM43 93h1v1h-1zM55 93h1v1h-1zM61 93h1v1h-1zM66 93h4v1h-4zM78 93h4v1h-4zM27 94h1v1h-1zM51 94h1v1h-1zM56 94h1v1h-1zM60 94h1v1h-1zM78 94h1v1h-1zM84 94h1v1h-1zM26 95h2v1h-2zM44 95h1v1h-1zM51 95h1v1h-1zM56 95h2v1h-2zM59 95h2v1h-2zM63 95h2v1h-2zM78 95h1v1h-1zM81 95h1v1h-1zM84 95h1v1h-1z"/>
<path fill="#cfddce" d="M96 61h1v1h-1zM99 61h1v1h-1zM90 64h1v1h-1zM70 67h1v1h-1zM83 69h1v1h-1zM83 70h1v1h-1zM99 70h2v1h-2zM46 78h1v1h-1zM3 79h1v1h-1zM12 79h1v1h-1zM6 80h1v1h-1zM8 80h3v1h-3zM25 80h1v1h-1zM31 80h5v1h-5zM41 80h1v1h-1zM61 80h1v1h-1zM12 81h1v1h-1zM14 81h2v1h-2zM25 81h2v1h-2zM29 81h1v1h-1zM8 93h1v1h-1zM8 94h1v1h-1zM18 95h1v1h-1z"/>
<path fill="#d5d5cd" d="M15 44h1v1h-1zM43 45h1v1h-1zM35 46h1v1h-1zM95 46h1v1h-1zM23 47h1v1h-1zM87 47h1v1h-1zM4 48h1v1h-1zM7 48h1v1h-1zM17 48h1v1h-1zM61 48h1v1h-1zM98 48h1v1h-1zM3 49h1v1h-1zM16 49h1v1h-1zM18 49h2v1h-2zM25 49h1v1h-1zM27 49h2v1h-2zM55 49h1v1h-1zM70 49h1v1h-1zM83 49h1v1h-1zM91 49h1v1h-1zM27 50h1v1h-1zM58 50h1v1h-1zM61 50h1v1h-1zM90 50h1v1h-1zM30 51h1v1h-1zM41 51h1v1h-1zM58 51h1v1h-1zM70 51h1v1h-1zM74 51h1v1h-1zM100 51h1v1h-1zM2 52h1v1h-1zM27 52h1v1h-1zM39 52h1v1h-1zM43 52h1v1h-1zM47 52h2v1h-2zM52 52h1v1h-1zM57 52h1v1h-1zM69 52h1v1h-1zM72 52h2v1h-2zM93 52h1v1h-1zM97 52h1v1h-1zM100 52h1v1h-1zM20 53h1v1h-1zM41 53h3v1h-3zM82 53h1v1h-1zM93 53h1v1h-1zM1 54h2v1h-2zM18 54h1v1h-1zM27 54h1v1h-1zM39 54h1v1h-1zM43 54h1v1h-1zM49 54h1v1h-1zM61 54h1v1h-1zM83 54h1v1h-1zM95 54h1v1h-1zM98 54h1v1h-1zM28 55h2v1h-2zM48 55h2v1h-2zM63 55h1v1h-1zM72 55h2v1h-2zM37 56h2v1h-2zM44 56h2v1h-2zM47 56h1v1h-1zM57 56h1v1h-1zM59 56h1v1h-1zM63 56h1v1h-1zM85 56h1v1h-1zM55 57h1v1h-1zM59 57h1v1h-1zM61 57h1v1h-1zM75 57h1v1h-1zM42 58h1v1h-1zM55 58h1v1h-1zM57 58h2v1h-2zM69 58h1v1h-1zM76 58h1v1h-1zM86 58h1v1h-1zM98 58h1v1h-1zM52 59h1v1h-1zM57 59h1v1h-1zM63 59h1v1h-1zM74 59h1v1h-1zM46 60h1v1h-1zM50 60h1v1h-1zM68 60h1v1h-1zM88 60h1v1h-1zM85 61h1v1h-1zM32 62h1v1h-1zM45 62h1v1h-1zM63 62h1v1h-1zM45 63h1v1h-1zM57 63h1v1h-1zM64 63h1v1h-1zM29 64h2v1h-2zM36 64h1v1h-1zM63 65h1v1h-1zM83 65h1v1h-1zM31 66h1v1h-1zM69 66h1v1h-1zM41 67h1v1h-1zM60 67h1v1h-1zM66 67h1v1h-1zM42 68h2v1h-2zM65 68h1v1h-1zM58 69h1v1h-1zM52 71h1v1h-1zM53 72h1v1h-1zM60 72h1v1h-1zM100 72h1v1h-1zM66 73h1v1h-1zM37 74h1v1h-1zM60 74h2v1h-2zM99 74h2v1h-2zM20 75h1v1h-1zM33 75h1v1h-1zM37 75h1v1h-1zM22 76h2v1h-2zM33 76h1v1h-1zM36 76h1v1h-1zM39 76h1v1h-1zM4 77h2v1h-2zM13 77h1v1h-1zM15 77h1v1h-1zM17 77h1v1h-1zM34 77h1v1h-1zM36 77h1v1h-1zM41 77h1v1h-1zM44 77h1v1h-1zM20 78h1v1h-1zM25 78h1v1h-1zM27 78h1v1h-1zM34 78h3v1h-3zM40 78h1v1h-1zM44 78h1v1h-1zM67 82h2v1h-2zM70 83h1v1h-1zM17 94h1v1h-1zM2 95h1v1h-1zM17 95h1v1h-1z"/>
<path fill="#b2b5b3" d="M51 45h1v1h-1zM64 45h1v1h-1zM43 46h1v1h-1zM68 46h1v1h-1zM91 46h1v1h-1zM48 47h1v1h-1zM91 47h1v1h-1zM10 48h1v1h-1zM28 48h1v1h-1zM37 48h1v1h-1zM49 48h1v1h-1zM51 48h1v1h-1zM93 48h1v1h-1zM41 49h1v1h-1zM46 49h1v1h-1zM86 49h1v1h-1zM93 49h1v1h-1zM5 50h1v1h-1zM56 50h1v1h-1zM68 50h1v1h-1zM78 50h1v1h-1zM5 51h1v1h-1zM7 51h1v1h-1zM12 51h1v1h-1zM28 51h1v1h-1zM62 51h1v1h-1zM65 51h1v1h-1zM71 51h1v1h-1zM62 52h1v1h-1zM86 52h1v1h-1zM31 53h1v1h-1zM33 53h1v1h-1zM62 53h1v1h-1zM66 53h1v1h-1zM72 53h1v1h-1zM91 53h1v1h-1zM66 54h1v1h-1zM4 55h1v1h-1zM7 55h1v1h-1zM16 55h1v1h-1zM21 55h1v1h-1zM24 55h1v1h-1zM37 55h1v1h-1zM56 55h1v1h-1zM65 55h1v1h-1zM85 55h1v1h-1zM91 55h1v1h-1zM0 56h1v1h-1zM3 56h1v1h-1zM5 56h2v1h-2zM11 56h2v1h-2zM24 56h1v1h-1zM27 56h1v1h-1zM31 56h1v1h-1zM43 56h1v1h-1zM65 56h1v1h-1zM81 56h1v1h-1zM86 56h1v1h-1zM88 56h1v1h-1zM0 57h2v1h-2zM5 57h1v1h-1zM11 57h1v1h-1zM15 57h2v1h-2zM18 57h1v1h-1zM21 57h1v1h-1zM27 57h1v1h-1zM32 57h1v1h-1zM72 57h1v1h-1zM91 57h1v1h-1zM2 58h1v1h-1zM4 58h2v1h-2zM7 58h1v1h-1zM10 58h2v1h-2zM13 58h1v1h-1zM19 58h1v1h-1zM26 58h1v1h-1zM28 58h1v1h-1zM36 58h1v1h-1zM49 58h1v1h-1zM56 58h1v1h-1zM68 58h1v1h-1zM88 58h1v1h-1zM92 58h2v1h-2zM8 59h1v1h-1zM11 59h1v1h-1zM26 59h1v1h-1zM30 59h1v1h-1zM36 59h1v1h-1zM73 59h1v1h-1zM80 59h1v1h-1zM3 60h1v1h-1zM7 60h2v1h-2zM17 60h1v1h-1zM27 60h1v1h-1zM29 60h1v1h-1zM79 60h1v1h-1zM4 61h1v1h-1zM6 61h1v1h-1zM12 61h1v1h-1zM21 61h1v1h-1zM34 61h1v1h-1zM58 61h1v1h-1zM71 61h1v1h-1zM89 61h1v1h-1zM2 62h1v1h-1zM4 62h1v1h-1zM28 62h2v1h-2zM36 62h1v1h-1zM38 62h1v1h-1zM57 62h1v1h-1zM71 62h1v1h-1zM74 62h1v1h-1zM86 62h1v1h-1zM0 63h1v1h-1zM2 63h1v1h-1zM4 63h1v1h-1zM17 63h1v1h-1zM19 63h1v1h-1zM23 63h1v1h-1zM38 63h2v1h-2zM72 63h1v1h-1zM86 63h1v1h-1zM0 64h1v1h-1zM2 64h1v1h-1zM5 64h1v1h-1zM21 64h1v1h-1zM24 64h1v1h-1zM27 64h1v1h-1zM41 64h1v1h-1zM46 64h1v1h-1zM48 64h1v1h-1zM59 64h2v1h-2zM79 64h1v1h-1zM5 65h1v1h-1zM34 65h2v1h-2zM41 65h1v1h-1zM44 65h1v1h-1zM48 65h1v1h-1zM52 65h1v1h-1zM59 65h1v1h-1zM2 66h2v1h-2zM20 66h1v1h-1zM22 66h1v1h-1zM33 66h1v1h-1zM42 66h1v1h-1zM51 66h1v1h-1zM55 66h1v1h-1zM63 66h1v1h-1zM75 66h1v1h-1zM97 66h1v1h-1zM99 66h2v1h-2zM0 67h1v1h-1zM3 67h1v1h-1zM13 67h2v1h-2zM19 67h1v1h-1zM25 67h2v1h-2zM33 67h1v1h-1zM35 67h1v1h-1zM40 67h1v1h-1zM44 67h1v1h-1zM46 67h1v1h-1zM2 68h2v1h-2zM7 68h1v1h-1zM15 68h1v1h-1zM19 68h1v1h-1zM21 68h2v1h-2zM25 68h1v1h-1zM29 68h3v1h-3zM36 68h5v1h-5zM44 68h1v1h-1zM53 68h1v1h-1zM68 68h1v1h-1zM77 68h1v1h-1zM2 69h1v1h-1zM5 69h1v1h-1zM15 69h1v1h-1zM29 69h1v1h-1zM32 69h2v1h-2zM40 69h1v1h-1zM44 69h1v1h-1zM46 69h1v1h-1zM65 69h1v1h-1zM68 69h1v1h-1zM1 70h1v1h-1zM19 70h1v1h-1zM27 70h1v1h-1zM32 70h2v1h-2zM39 70h1v1h-1zM44 70h2v1h-2zM60 70h2v1h-2zM67 70h1v1h-1zM2 71h1v1h-1zM16 71h1v1h-1zM23 71h1v1h-1zM26 71h1v1h-1zM28 71h1v1h-1zM40 71h1v1h-1zM47 71h1v1h-1zM5 72h1v1h-1zM11 72h1v1h-1zM14 72h1v1h-1zM26 72h1v1h-1zM31 72h1v1h-1zM33 72h1v1h-1zM40 72h1v1h-1zM48 72h1v1h-1zM54 72h1v1h-1zM0 73h1v1h-1zM2 73h1v1h-1zM4 73h1v1h-1zM15 73h1v1h-1zM18 73h1v1h-1zM29 73h2v1h-2zM34 73h2v1h-2zM37 73h1v1h-1zM42 73h1v1h-1zM0 74h1v1h-1zM9 74h1v1h-1zM11 74h3v1h-3zM16 74h2v1h-2zM24 74h3v1h-3zM30 74h1v1h-1zM41 74h2v1h-2zM47 74h1v1h-1zM55 74h1v1h-1zM57 74h1v1h-1zM0 75h1v1h-1zM6 75h1v1h-1zM18 75h1v1h-1zM43 75h1v1h-1zM45 75h1v1h-1zM47 75h1v1h-1zM54 75h1v1h-1zM65 75h1v1h-1zM10 76h1v1h-1zM41 76h1v1h-1zM52 76h1v1h-1zM64 76h1v1h-1zM98 76h1v1h-1zM60 77h1v1h-1zM49 78h2v1h-2zM56 78h1v1h-1zM58 78h1v1h-1zM66 78h1v1h-1zM79 78h1v1h-1zM53 79h2v1h-2zM68 79h1v1h-1zM97 80h1v1h-1zM97 81h2v1h-2zM72 82h1v1h-1zM97 83h1v1h-1zM65 84h1v1h-1zM97 85h1v1h-1zM99 85h1v1h-1zM100 86h1v1h-1zM13 92h1v1h-1zM0 94h1v1h-1zM0 95h1v1h-1zM11 95h1v1h-1z"/>
<path fill="#dae0d8" d="M97 47h1v1h-1zM97 49h1v1h-1zM98 50h1v1h-1zM98 51h1v1h-1zM94 53h1v1h-1zM98 53h1v1h-1zM97 55h1v1h-1zM99 55h2v1h-2zM38 59h1v1h-1zM98 61h1v1h-1zM88 62h1v1h-1zM70 63h1v1h-1zM82 69h1v1h-1zM99 72h1v1h-1zM39 75h1v1h-1zM15 76h1v1h-1zM32 76h1v1h-1zM2 77h2v1h-2zM7 77h2v1h-2zM10 77h2v1h-2zM14 77h1v1h-1zM24 77h1v1h-1zM26 77h1v1h-1zM28 77h2v1h-2zM35 77h1v1h-1zM37 77h1v1h-1zM39 77h1v1h-1zM43 77h1v1h-1zM3 78h1v1h-1zM5 78h1v1h-1zM13 78h2v1h-2zM19 78h1v1h-1zM24 78h1v1h-1zM26 78h1v1h-1zM28 78h2v1h-2zM31 78h1v1h-1zM39 78h1v1h-1zM41 78h3v1h-3zM16 79h1v1h-1zM19 79h1v1h-1zM22 79h1v1h-1zM25 79h5v1h-5zM33 79h2v1h-2zM37 79h1v1h-1zM41 79h3v1h-3zM7 80h1v1h-1zM13 80h1v1h-1zM15 80h1v1h-1zM17 80h1v1h-1zM23 80h2v1h-2zM29 80h1v1h-1zM3 81h1v1h-1zM18 81h1v1h-1z"/>
</g>
<filter id="inv" color-interpolation-filters="sRGB"><feColorMatrix type="matrix" values="-1.6 0 0 0 1.5  0 -1.6 0 0 1.5  0 0 -1.6 0 1.5  0 0 0 1 0"/></filter>
<mask id="fmask" maskUnits="userSpaceOnUse" x="1657" y="16" width="602" height="573"><use href="#cmos" filter="url(#inv)"/></mask>
<rect x="1657" y="16" width="602" height="573" filter="url(#grain)" opacity="0.25"/>
<rect x="1657" y="16" width="602" height="573" filter="url(#grain2)" mask="url(#fmask)" opacity="0.9"/></g>
<g clip-path="url(#clipA)"><path d="M39 497L120 494L200 495L300 498L380 494L440 484L480 468L520 452L560 437L600 420L645 400" fill="none" stroke="#fbfbe6" stroke-opacity="0.55" stroke-width="9" stroke-linejoin="round" filter="url(#hlb)"/>
<path d="M449 128L477 152L489 178L503 208L514 234L528 260L549 297L565 320L587 346L601 372" fill="none" stroke="#f6f6dc" stroke-opacity="0.4" stroke-width="12" stroke-linejoin="round" filter="url(#hlb)"/></g>
<g clip-path="url(#clipB)"><path d="M846.5 497L927.5 494L1007.5 495L1107.5 498L1187.5 494L1247.5 484L1287.5 468L1327.5 452L1367.5 437L1407.5 420L1452.5 400" fill="none" stroke="#fbfbe6" stroke-opacity="0.55" stroke-width="9" stroke-linejoin="round" filter="url(#hlb)"/>
<path d="M1256.5 128L1284.5 152L1296.5 178L1310.5 208L1321.5 234L1335.5 260L1356.5 297L1372.5 320L1394.5 346L1408.5 372" fill="none" stroke="#f6f6dc" stroke-opacity="0.4" stroke-width="12" stroke-linejoin="round" filter="url(#hlb)"/></g>
<g clip-path="url(#clipA)">
<path d="M47 489.7l5.3 5.3-5.3 5.3-5.3-5.3z" fill="url(#rc0)"/>
<path d="M57 483.7l5.3 5.3-5.3 5.3-5.3-5.3z" fill="url(#rc0)"/>
<path d="M75 484.7l5.3 5.3-5.3 5.3-5.3-5.3z" fill="url(#rc0)"/>
<path d="M204.7 481.7l5.3 5.3-5.3 5.3-5.3-5.3z" fill="url(#rc0)"/>
<path d="M219.7 483.4l5.3 5.3-5.3 5.3-5.3-5.3z" fill="url(#rc0)"/>
<path d="M234.6 483.4l5.3 5.3-5.3 5.3-5.3-5.3z" fill="url(#rc0)"/>
<path d="M249.6 483.4l5.3 5.3-5.3 5.3-5.3-5.3z" fill="url(#rc0)"/>
<path d="M263.7 486.1l5.3 5.3-5.3 5.3-5.3-5.3z" fill="url(#rc1)"/>
<path d="M202.9 443.7l5.3 5.3-5.3 5.3-5.3-5.3z" fill="url(#rc0)"/>
<path d="M392.8 474.7l5.3 5.3-5.3 5.3-5.3-5.3z" fill="url(#rc0)"/>
<path d="M407.8 476.4l5.3 5.3-5.3 5.3-5.3-5.3z" fill="url(#rc1)"/>
<path d="M445.7 472.8l5.3 5.3-5.3 5.3-5.3-5.3z" fill="url(#rc0)"/>
<path d="M546 428.7l5.3 5.3-5.3 5.3-5.3-5.3z" fill="url(#rc0)"/>
<path d="M593.7 388.3l5.3 5.3-5.3 5.3-5.3-5.3z" fill="url(#rc1)"/>
<path d="M362.9 488.7l5.3 5.3-5.3 5.3-5.3-5.3z" fill="url(#rc0)"/>
<path d="M340 493.7l5.3 5.3-5.3 5.3-5.3-5.3z" fill="url(#rc0)"/>
<path d="M494 446.7l5.3 5.3-5.3 5.3-5.3-5.3z" fill="url(#rc1)"/>
<path d="M500 440.7l5.3 5.3-5.3 5.3-5.3-5.3z" fill="url(#rc1)"/>
<path d="M488 452.7l5.3 5.3-5.3 5.3-5.3-5.3z" fill="url(#rc0)"/>
<path d="M482 458.7l5.3 5.3-5.3 5.3-5.3-5.3z" fill="url(#rc0)"/>
</g>
<g clip-path="url(#clipB)">
<path d="M854.5 489.7l5.3 5.3-5.3 5.3-5.3-5.3z" fill="url(#rc0)"/>
<path d="M864.5 483.7l5.3 5.3-5.3 5.3-5.3-5.3z" fill="url(#rc0)"/>
<path d="M882.5 484.7l5.3 5.3-5.3 5.3-5.3-5.3z" fill="url(#rc0)"/>
<path d="M1012.2 481.7l5.3 5.3-5.3 5.3-5.3-5.3z" fill="url(#rc0)"/>
<path d="M1027.2 483.4l5.3 5.3-5.3 5.3-5.3-5.3z" fill="url(#rc0)"/>
<path d="M1042.1 483.4l5.3 5.3-5.3 5.3-5.3-5.3z" fill="url(#rc0)"/>
<path d="M1057.1 483.4l5.3 5.3-5.3 5.3-5.3-5.3z" fill="url(#rc0)"/>
<path d="M1071.2 486.1l5.3 5.3-5.3 5.3-5.3-5.3z" fill="url(#rc1)"/>
<path d="M1010.4 443.7l5.3 5.3-5.3 5.3-5.3-5.3z" fill="url(#rc0)"/>
<path d="M1200.3 474.7l5.3 5.3-5.3 5.3-5.3-5.3z" fill="url(#rc0)"/>
<path d="M1215.3 476.4l5.3 5.3-5.3 5.3-5.3-5.3z" fill="url(#rc1)"/>
<path d="M1253.2 472.8l5.3 5.3-5.3 5.3-5.3-5.3z" fill="url(#rc0)"/>
<path d="M1353.5 428.7l5.3 5.3-5.3 5.3-5.3-5.3z" fill="url(#rc0)"/>
<path d="M1401.2 388.3l5.3 5.3-5.3 5.3-5.3-5.3z" fill="url(#rc1)"/>
<path d="M1170.4 488.7l5.3 5.3-5.3 5.3-5.3-5.3z" fill="url(#rc0)"/>
<path d="M1147.5 493.7l5.3 5.3-5.3 5.3-5.3-5.3z" fill="url(#rc0)"/>
<path d="M1301.5 446.7l5.3 5.3-5.3 5.3-5.3-5.3z" fill="url(#rc1)"/>
<path d="M1307.5 440.7l5.3 5.3-5.3 5.3-5.3-5.3z" fill="url(#rc1)"/>
<path d="M1295.5 452.7l5.3 5.3-5.3 5.3-5.3-5.3z" fill="url(#rc0)"/>
<path d="M1289.5 458.7l5.3 5.3-5.3 5.3-5.3-5.3z" fill="url(#rc0)"/>
</g>
<g clip-path="url(#clipC)" fill="none" stroke="#6aa6f2" stroke-width="2" stroke-linejoin="round">
<path d="M1728 16L1750.8 40.6L1784.1 40.6L1807 56.4L1812.2 68.7L1822.8 93.2L1840.3 102.9L1875.4 103.8L1954.4 96.7L2026.2 82.7L2061.3 59.9L2096.4 37.1L2121 16"/>
<path d="M1656 237.2L1682.3 246L1717.4 258.2L1778.9 260.9L1814 258.2L1849.1 246L1901.7 235.4L1956 224L2008.7 225.8L2043.8 214.4L2078.9 204.7L2122.8 203.8L2140.3 195L2157.9 179.2L2171.9 156.4L2178.9 130.1L2182.4 114.3L2187.7 100.3L2201.7 80.9L2228.1 56.4L2259 32"/>
<path d="M1656 369L1691.2 371.6L1744.1 373.3L1775.8 371.6L1796.9 377.7L1823.3 386.6L1841 387.4L1867.4 379.5L1893.8 369L1920.2 361.9L1956 355.5L2000 344.3L2044 346.9L2096.9 339L2123.3 324.9L2149.8 307.3L2167 302L2193 279.3L2219.3 240.7L2236.9 214.4L2259 189"/>
<path d="M1656 471.1L1677.1 465.8L1700 462.3L1726.5 466.7L1761.7 471.1L1805.7 473.7L1832.1 476.4L1867.4 481.7L1902.6 488.7L1920.2 492.2L1926.4 497.5L1920.2 502.8L1885 504.6L1849.8 501.9L1796.9 500.2L1744.1 501L1717.7 504.6L1691.2 513.4L1656 520.4"/>
<path d="M2052.9 590L2070.5 576.8L2105.7 569.7L2141 553.9L2176.2 532.8L2202.6 518.7L2223.7 512.5L2237.8 515.1L2259 525"/>
</g>
<g font-family="'Liberation Sans', Arial, sans-serif" font-style="italic" font-size="25" fill="#1a1a1a">
<text transform="translate(1901 90) rotate(-4)">4000 m</text>
<text transform="translate(1952 214) rotate(-3)">3800 m</text>
<text transform="translate(1883 359) rotate(-5)">3600 m</text>
<text x="1760" y="523">3400 m</text>
<text transform="translate(2154 579) rotate(-33)">3600 m</text>
</g>
<g clip-path="url(#clipA)">
<path d="M39 482.8L100 470.3L121.2 470.3L135.3 473.9L156.4 476.7L177.6 477.4L189.6 476L198.8 469.6L212.9 458.3L223.5 451.3" fill="none" stroke="#000" stroke-width="4" stroke-linejoin="round" stroke-linecap="round"/>
<path d="M244.3 435.6L263 421.4M284.8 404.7L303.5 390.5M325.3 373.9L344 359.6M365.8 343L384.5 328.8M406.3 312.1L425 297.9M446.8 281.3L465.5 267M487.3 250.4L506 236.1M527.8 219.5L546.5 205.3M568.3 188.7L587 174.4M608.8 157.8L625 145.4" stroke="#000" stroke-width="4"/>
<path d="M391 104L410.2 108.2L454.1 142.4L462.9 156.4L476.9 184.5L491 214.4L501.5 238.9L515.5 265.3L536.6 302L551.4 323.1L572.5 349.6L581.3 360.1L587.5 376L585.7 386.6L574.3 407.7L551.4 421.8L516.2 432.4L498.5 439.4L486.2 446.4L463.3 467.6L454.5 472L387.6 472L361.1 485.2L340 488L327 489L285 484L242.6 477.3L221 475L191.5 473L121 469.3L117.5 451.7L114.9 425.3L115.7 411.2L122.8 381.3L138.6 346L159.5 302L164.8 288.9L176.6 262.4L182.5 252.1L188.4 235.9L194.3 230L220.8 207.9L247.3 184.3L266.5 164.4L365.2 110.6z" fill="none" stroke="#ff0000" stroke-width="3.4" stroke-linejoin="round"/>
<g font-family="'Liberation Sans', Arial, sans-serif" font-style="italic" font-size="24" fill="#111">
<circle cx="363" cy="183.3" r="4" fill="#fff" stroke="#222" stroke-width="1.3"/><circle cx="363" cy="183.3" r="1.6" fill="#2050c0"/>
<text x="371.5" y="190.8">P1</text>
<circle cx="217.2" cy="305.3" r="4" fill="#fff" stroke="#222" stroke-width="1.3"/><circle cx="217.2" cy="305.3" r="1.6" fill="#2050c0"/>
<text x="225.7" y="312.8">P2</text>
<circle cx="419.1" cy="307.2" r="4" fill="#fff" stroke="#222" stroke-width="1.3"/><circle cx="419.1" cy="307.2" r="1.6" fill="#2050c0"/>
<text x="427.6" y="314.7">P3</text>
<circle cx="313.9" cy="418.1" r="4" fill="#fff" stroke="#222" stroke-width="1.3"/><circle cx="313.9" cy="418.1" r="1.6" fill="#2050c0"/>
<text x="322.4" y="425.6">P4</text>
<circle cx="400.3" cy="394.3" r="4" fill="#fff" stroke="#222" stroke-width="1.3"/><circle cx="400.3" cy="394.3" r="1.6" fill="#2050c0"/>
<text x="408.8" y="401.8">P5</text>
</g>
</g>
<g clip-path="url(#clipB)">
<path d="M846.5 482.8L907.5 470.3L928.7 470.3L942.8 473.9L963.9 476.7L985.1 477.4L997.1 476L1006.3 469.6L1020.4 458.3L1031 451.3" fill="none" stroke="#000" stroke-width="4" stroke-linejoin="round" stroke-linecap="round"/>
<path d="M1051.8 435.6L1070.5 421.4M1092.3 404.7L1111 390.5M1132.8 373.9L1151.5 359.6M1173.3 343L1192 328.8M1213.8 312.1L1232.5 297.9M1254.3 281.3L1273 267M1294.8 250.4L1313.5 236.1M1335.3 219.5L1354 205.3M1375.8 188.7L1394.5 174.4M1416.3 157.8L1432.5 145.4" stroke="#000" stroke-width="4"/>
<path d="M1198.5 104L1217.7 108.2L1261.6 142.4L1270.4 156.4L1284.4 184.5L1298.5 214.4L1309 238.9L1323 265.3L1344.1 302L1358.9 323.1L1380 349.6L1388.8 360.1L1395 376L1393.2 386.6L1381.8 407.7L1358.9 421.8L1323.7 432.4L1306 439.4L1293.7 446.4L1270.8 467.6L1262 472L1195.1 472L1168.6 485.2L1147.5 488L1134.5 489L1092.5 484L1050.1 477.3L1028.5 475L999 473L928.5 469.3L925 451.7L922.4 425.3L923.2 411.2L930.3 381.3L946.1 346L967 302L972.3 288.9L984.1 262.4L990 252.1L995.9 235.9L1001.8 230L1028.3 207.9L1054.8 184.3L1074 164.4L1172.7 110.6z" fill="none" stroke="#ff0000" stroke-width="3.4" stroke-linejoin="round"/>
<g font-family="'Liberation Sans', Arial, sans-serif" font-style="italic" font-size="24" fill="#111">
<circle cx="1170.5" cy="183.3" r="4" fill="#fff" stroke="#222" stroke-width="1.3"/><circle cx="1170.5" cy="183.3" r="1.6" fill="#2050c0"/>
<text x="1179" y="190.8">P1</text>
<circle cx="1024.7" cy="305.3" r="4" fill="#fff" stroke="#222" stroke-width="1.3"/><circle cx="1024.7" cy="305.3" r="1.6" fill="#2050c0"/>
<text x="1033.2" y="312.8">P2</text>
<circle cx="1226.6" cy="307.2" r="4" fill="#fff" stroke="#222" stroke-width="1.3"/><circle cx="1226.6" cy="307.2" r="1.6" fill="#2050c0"/>
<text x="1235.1" y="314.7">P3</text>
<circle cx="1121.4" cy="418.1" r="4" fill="#fff" stroke="#222" stroke-width="1.3"/><circle cx="1121.4" cy="418.1" r="1.6" fill="#2050c0"/>
<text x="1129.9" y="425.6">P4</text>
<circle cx="1207.8" cy="394.3" r="4" fill="#fff" stroke="#222" stroke-width="1.3"/><circle cx="1207.8" cy="394.3" r="1.6" fill="#2050c0"/>
<text x="1216.3" y="401.8">P5</text>
</g>
</g>
<g clip-path="url(#clipC)">
<path d="M1655.5 482.8L1716.5 470.3L1737.7 470.3L1751.8 473.9L1772.9 476.7L1794.1 477.4L1806.1 476L1815.3 469.6L1829.4 458.3L1840 451.3" fill="none" stroke="#000" stroke-width="4" stroke-linejoin="round" stroke-linecap="round"/>
<path d="M1860.8 435.6L1879.5 421.4M1901.3 404.7L1920 390.5M1941.8 373.9L1960.5 359.6M1982.3 343L2001 328.8M2022.8 312.1L2041.5 297.9M2063.3 281.3L2082 267M2103.8 250.4L2122.5 236.1M2144.3 219.5L2163 205.3M2184.8 188.7L2203.5 174.4M2225.3 157.8L2241.5 145.4" stroke="#000" stroke-width="4"/>
<path d="M2007.5 104L2026.7 108.2L2070.6 142.4L2079.4 156.4L2093.4 184.5L2107.5 214.4L2118 238.9L2132 265.3L2153.1 302L2167.9 323.1L2189 349.6L2197.8 360.1L2204 376L2202.2 386.6L2190.8 407.7L2167.9 421.8L2132.7 432.4L2115 439.4L2102.7 446.4L2079.8 467.6L2071 472L2004.1 472L1977.6 485.2L1956.5 488L1943.5 489L1901.5 484L1859.1 477.3L1837.5 475L1808 473L1737.5 469.3L1734 451.7L1731.4 425.3L1732.2 411.2L1739.3 381.3L1755.1 346L1776 302L1781.3 288.9L1793.1 262.4L1799 252.1L1804.9 235.9L1810.8 230L1837.3 207.9L1863.8 184.3L1883 164.4L1981.7 110.6z" fill="none" stroke="#ff0000" stroke-width="3.4" stroke-linejoin="round"/>
</g>
<rect x="38" y="14.8" width="603" height="575.6" fill="none" stroke="#000" stroke-width="3.7"/>
<rect x="845.6" y="14.8" width="603" height="575.6" fill="none" stroke="#000" stroke-width="3.7"/>
<rect x="1655.1" y="14.8" width="603.4" height="575.6" fill="none" stroke="#000" stroke-width="3.7"/>
<g font-family="'Liberation Sans', Arial, sans-serif" font-weight="bold" font-size="62.5">
<text x="50.5" y="74.3">(A)</text><text x="858" y="74.3">(B)</text><text x="1670" y="74.3">(C)</text>
</g>
<path d="M573 50.3L599.8 111.6 599.8 80.7z" fill="#000"/>
<path d="M573 50.3L629.6 86.5 599.8 80.7z" fill="none" stroke="#000" stroke-width="1.6" stroke-linejoin="miter"/>
<text transform="translate(562.8 37.6) rotate(-39.5)" font-family="'Liberation Sans', Arial, sans-serif" font-size="26" text-anchor="middle" dominant-baseline="central" fill="#000">N</text>
<text x="84" y="501" font-family="'Liberation Sans', Arial, sans-serif" font-weight="bold" font-style="italic" font-size="29">G318</text>
<path d="M451 551.3V571.5H620.2V551.3" fill="none" stroke="#000" stroke-width="3.9"/>
<text x="509.5" y="540.7" font-family="'Liberation Sans', Arial, sans-serif" font-weight="bold" font-style="italic" font-size="32">500 m</text>
<rect x="654.6" y="88.3" width="61.1" height="502.8" fill="url(#cbar)"/>
<path d="M715.7 88.8h5M715.7 339.7h5M715.7 590.6h5" stroke="#888" stroke-width="1.5"/>
<rect x="1462.2" y="88.1" width="63.4" height="498.8" fill="url(#cbar)"/>
<path d="M1525.6 88.6h5M1525.6 337.5h5M1525.6 586.4h5" stroke="#888" stroke-width="1.5"/>
<g font-family="'Liberation Sans', Arial, sans-serif" font-weight="bold" font-size="42">
<text x="653" y="48">mm/year</text><text x="1461.5" y="47.6">mm/year</text>
</g>
<g font-family="'Liberation Sans', Arial, sans-serif" font-weight="bold" font-size="36.5">
<text x="738" y="102.3">12.8</text><text x="1535.5" y="101.9">17.8</text>
<text x="736.5" y="604.3" font-size="38">−26.2</text><text x="1534.5" y="601" font-size="38">−24.0</text>
</g>
<g id="chart">
<path d="M166 1467.9H2104M166 1369.2H2104M166 1270.5H2104M166 1171.8H2104M166 1073H2104M166 974.4H2104M166 875.6H2104M166 776.9H1818M2084 776.9H2104M243 678.2H2104" stroke="#c4c4c4" stroke-width="1.8" stroke-dasharray="4.2 4.4" fill="none"/>
<path fill="#0505ff" d="M264.7 1514h3.8V1516.2h-3.8zM273.8 1514h3.8V1516.2h-3.8zM286.8 1462.7h3.8V1516.2h-3.8zM332.5 1452.8h3.8V1516.2h-3.8zM346.9 1468h3.8V1516.2h-3.8zM349.5 1462.7h3.8V1516.2h-3.8zM361.2 1514h3.8V1516.2h-3.8zM367.7 1514h3.8V1516.2h-3.8zM369.8 1410.5h3.8V1516.2h-3.8zM375.1 1470h3.8V1516.2h-3.8zM376.9 1491.4h3.8V1516.2h-3.8zM383.9 1406.6h3.8V1516.2h-3.8zM386.5 1417.1h3.8V1516.2h-3.8zM399.8 1410.5h3.8V1516.2h-3.8zM428.5 1361h3.8V1516.2h-3.8zM432.5 1487.5h3.8V1516.2h-3.8zM435.6 1473.2h3.8V1516.2h-3.8zM437.4 1415.8h3.8V1516.2h-3.8zM444.7 1413.2h3.8V1516.2h-3.8zM448.1 1507.1h3.8V1516.2h-3.8zM451.3 1374h3.8V1516.2h-3.8zM454.6 1499.3h3.8V1516.2h-3.8zM468.2 1378.7h3.8V1516.2h-3.8zM476 1354.4h3.8V1516.2h-3.8zM480 1490.1h3.8V1516.2h-3.8zM483.9 1492.7h3.8V1516.2h-3.8zM487.8 1321.8h3.8V1516.2h-3.8zM493 1499.3h3.8V1516.2h-3.8zM496.9 1413.2h3.8V1516.2h-3.8zM499.5 1394.9h3.8V1516.2h-3.8zM506.1 1407.9h3.8V1516.2h-3.8zM509.2 1302.2h3.8V1516.2h-3.8zM513.9 1406.6h3.8V1516.2h-3.8zM517.8 1475.8h3.8V1516.2h-3.8zM520.4 1475.8h3.8V1516.2h-3.8zM532.2 1496.7h3.8V1516.2h-3.8zM534.2 1319.2h3.8V1516.2h-3.8zM542.6 1415.8h3.8V1516.2h-3.8zM545.7 1475.8h3.8V1516.2h-3.8zM549.1 1494.1h3.8V1516.2h-3.8zM553 1495.4h3.8V1516.2h-3.8zM559 1289.2h3.8V1516.2h-3.8zM562.2 1333.6h3.8V1516.2h-3.8zM568.7 1494.1h3.8V1516.2h-3.8zM571.8 1326.5h3.8V1516.2h-3.8zM575.2 1260.5h3.8V1516.2h-3.8zM581.7 1483.6h3.8V1516.2h-3.8zM584.3 1286.6h3.8V1516.2h-3.8zM587.5 1401.4h3.8V1516.2h-3.8zM590.9 1471.9h3.8V1516.2h-3.8zM602.6 1483.6h3.8V1516.2h-3.8zM605.2 1478.4h3.8V1516.2h-3.8zM617 1483.6h3.8V1516.2h-3.8zM627.4 1491.4h3.8V1516.2h-3.8zM630 1393.6h3.8V1516.2h-3.8zM635.8 1402.7h3.8V1516.2h-3.8zM637.8 1466.6h3.8V1516.2h-3.8zM641 1361h3.8V1516.2h-3.8zM644.4 1501.9h3.8V1516.2h-3.8zM647.8 1250.1h3.8V1516.2h-3.8zM651.4 1388.4h3.8V1516.2h-3.8zM660.8 1477.1h3.8V1516.2h-3.8zM665.8 1421h3.8V1516.2h-3.8zM669.7 1452.3h3.8V1516.2h-3.8zM315 1094h3.8V1516.2h-3.8zM501 705.4h3.8V1516.2h-3.8zM524 949.7h3.8V1516.2h-3.8zM538.3 1117.5h3.8V1516.2h-3.8zM556 1198.9h3.8V1516.2h-3.8zM564.5 1033.6h3.8V1516.2h-3.8zM607 1154.5h3.8V1516.2h-3.8zM612.4 1028.6h3.8V1516.2h-3.8zM787.3 1492.7h3.8V1516.2h-3.8zM881.6 1514h3.8V1516.2h-3.8zM911.6 1514h3.8V1516.2h-3.8zM946.5 1509.2h3.8V1516.2h-3.8zM955.9 1401.4h3.8V1516.2h-3.8zM974.7 1504.5h3.8V1516.2h-3.8zM983.9 1452.8h3.8V1516.2h-3.8zM998.7 1394.1h3.8V1516.2h-3.8zM1021.2 1351.8h3.8V1516.2h-3.8zM1024.3 1423.6h3.8V1516.2h-3.8zM1034.7 1509.7h3.8V1516.2h-3.8zM1037.3 1353.9h3.8V1516.2h-3.8zM1040.5 1413.2h3.8V1516.2h-3.8zM1043.9 1428.3h3.8V1516.2h-3.8zM1060.8 1512.3h3.8V1516.2h-3.8zM1064 1482.3h3.8V1516.2h-3.8zM1073.9 1462.7h3.8V1516.2h-3.8zM1077.8 1364.1h3.8V1516.2h-3.8zM1083 1470.6h3.8V1516.2h-3.8zM1086.9 1450.5h3.8V1516.2h-3.8zM1097.4 1465.3h3.8V1516.2h-3.8zM1102.6 1495.4h3.8V1516.2h-3.8zM1120.3 1383.1h3.8V1516.2h-3.8zM1124 1470.6h3.8V1516.2h-3.8zM1130 1424.9h3.8V1516.2h-3.8zM1133.9 1306.9h3.8V1516.2h-3.8zM1137.8 1477.1h3.8V1516.2h-3.8zM1141.2 1265.2h3.8V1516.2h-3.8zM1144.3 1314h3.8V1516.2h-3.8zM1147 1282.7h3.8V1516.2h-3.8zM1150.3 1198.1h3.8V1516.2h-3.8zM1153.5 1332.3h3.8V1516.2h-3.8zM1156.1 1482.3h3.8V1516.2h-3.8zM1162.6 1512.3h3.8V1516.2h-3.8zM1167.8 1319.2h3.8V1516.2h-3.8zM1169.9 1170.5h3.8V1516.2h-3.8zM1175.7 1437.9h3.8V1516.2h-3.8zM1180.4 1312.7h3.8V1516.2h-3.8zM1184 1161.3h3.8V1516.2h-3.8zM1187.4 1265.2h3.8V1516.2h-3.8zM1192.6 1277.5h3.8V1516.2h-3.8zM1195.2 1374h3.8V1516.2h-3.8zM1197.8 1428.8h3.8V1516.2h-3.8zM1200.4 1435.3h3.8V1516.2h-3.8zM1217.4 1509.7h3.8V1516.2h-3.8zM1235.7 1407.9h3.8V1516.2h-3.8zM1237.8 1205.7h3.8V1516.2h-3.8zM1248.7 1205.7h3.8V1516.2h-3.8zM1256.6 1460.1h3.8V1516.2h-3.8zM1172 1090.3h3.8V1516.2h-3.8zM1219.6 974.4h3.8V1516.2h-3.8zM1223.1 984.2h3.8V1516.2h-3.8zM1242.4 1065.6h3.8V1516.2h-3.8zM1246.1 1122.4h3.8V1516.2h-3.8zM1252.8 1161.9h3.8V1516.2h-3.8zM1281.2 873.2h3.8V1516.2h-3.8zM1331.1 1243.3h3.8V1516.2h-3.8zM1333.3 1492.7h3.8V1516.2h-3.8zM1380.3 1462.7h3.8V1516.2h-3.8zM1541.6 1514h3.8V1516.2h-3.8zM1612.5 1490.7h3.8V1516.2h-3.8zM1630.3 1401.4h3.8V1516.2h-3.8zM1638.1 1462.7h3.8V1516.2h-3.8zM1647.8 1492.7h3.8V1516.2h-3.8zM1657.4 1297h3.8V1516.2h-3.8zM1661.6 1287.4h3.8V1516.2h-3.8zM1668.7 1351.8h3.8V1516.2h-3.8zM1671.3 1462.7h3.8V1516.2h-3.8zM1693.4 1366.2h3.8V1516.2h-3.8zM1696.1 1486.2h3.8V1516.2h-3.8zM1699.2 1334.3h3.8V1516.2h-3.8zM1707.8 1256.1h3.8V1516.2h-3.8zM1711.7 1225.3h3.8V1516.2h-3.8zM1718.2 1454.9h3.8V1516.2h-3.8zM1724.2 1490.1h3.8V1516.2h-3.8zM1731.3 1435.3h3.8V1516.2h-3.8zM1732.6 1479.7h3.8V1516.2h-3.8zM1737.8 1514h3.8V1516.2h-3.8zM1756.1 1462.7h3.8V1516.2h-3.8zM1764.4 1506.3h3.8V1516.2h-3.8zM1771.7 1443.2h3.8V1516.2h-3.8zM1776.4 1333.6h3.8V1516.2h-3.8zM1779 1269.6h3.8V1516.2h-3.8zM1782.7 1267h3.8V1516.2h-3.8zM1785.3 1381.8h3.8V1516.2h-3.8zM1792.1 1319.2h3.8V1516.2h-3.8zM1793.9 1169.2h3.8V1516.2h-3.8zM1803 1427.5h3.8V1516.2h-3.8zM1807 1423.6h3.8V1516.2h-3.8zM1812.2 1226.6h3.8V1516.2h-3.8zM1814.8 1434h3.8V1516.2h-3.8zM1821.3 1368.8h3.8V1516.2h-3.8zM1827.8 1344h3.8V1516.2h-3.8zM1831.8 1342.7h3.8V1516.2h-3.8zM1834.4 1165.2h3.8V1516.2h-3.8zM1843.5 1499.3h3.8V1516.2h-3.8zM1852.6 1443.2h3.8V1516.2h-3.8zM1856.5 1477.1h3.8V1516.2h-3.8zM1860.5 1184.8h3.8V1516.2h-3.8zM1863.1 1218.7h3.8V1516.2h-3.8zM1873.5 1474.5h3.8V1516.2h-3.8zM1878.7 1501.9h3.8V1516.2h-3.8zM1885.3 1190h3.8V1516.2h-3.8zM1714.9 932.4h3.8V1516.2h-3.8zM1799.9 727.6h3.8V1516.2h-3.8zM1830.7 1343.9h3.8V1516.2h-3.8zM1843.8 1499.2h3.8V1516.2h-3.8zM1852.9 1443.1h3.8V1516.2h-3.8zM1856.3 1477h3.8V1516.2h-3.8zM1859.9 1184.8h3.8V1516.2h-3.8zM1862.8 1218.7h3.8V1516.2h-3.8zM1873.8 1474.4h3.8V1516.2h-3.8zM1879.8 1501.8h3.8V1516.2h-3.8zM1885 1190h3.8V1516.2h-3.8zM1888.1 1460h3.8V1516.2h-3.8zM1893.3 1119.6h3.8V1516.2h-3.8zM1896.5 1244.8h3.8V1516.2h-3.8zM1906.4 1366.1h3.8V1516.2h-3.8zM1910.3 1400h3.8V1516.2h-3.8zM1912.1 1285.2h3.8V1516.2h-3.8zM1915.5 1247.4h3.8V1516.2h-3.8zM1925.2 1400h3.8V1516.2h-3.8zM1927.2 1257.8h3.8V1516.2h-3.8zM1930.4 1235.7h3.8V1516.2h-3.8zM1933.8 1441.8h3.8V1516.2h-3.8zM1950.7 1321.8h3.8V1516.2h-3.8zM1953.9 1413.1h3.8V1516.2h-3.8zM1975.5 1514h3.8V1516.2h-3.8zM1902.6 1090.3h3.8V1516.2h-3.8z"/>
<path fill="#2ea32a" d="M170.7 770.2h12.8v12.6h-12.8zM213.2 767.2h12.8v12.6h-12.8zM234.4 767.2h12.8v12.6h-12.8zM255.6 767.7h12.8v12.6h-12.8zM276.9 768.4h12.8v12.6h-12.8zM298.1 769.7h12.8v12.6h-12.8zM319.4 771h12.8v12.6h-12.8zM340.6 772.3h12.8v12.6h-12.8zM361.8 773.5h12.8v12.6h-12.8zM383.1 774.3h12.8v12.6h-12.8zM404.3 773.5h12.8v12.6h-12.8zM425.5 773.5h12.8v12.6h-12.8zM446.8 774.8h12.8v12.6h-12.8zM468 776.1h12.8v12.6h-12.8zM489.2 777.4h12.8v12.6h-12.8zM510.5 783.8h12.8v12.6h-12.8zM531.7 790.2h12.8v12.6h-12.8zM552.9 797.8h12.8v12.6h-12.8zM595.4 810.1h12.8v12.6h-12.8zM616.7 811.1h12.8v12.6h-12.8zM637.9 810.6h12.8v12.6h-12.8zM659.1 806.8h12.8v12.6h-12.8zM680.4 803.2h12.8v12.6h-12.8zM701.6 798h12.8v12.6h-12.8zM722.8 794h12.8v12.6h-12.8zM744.1 790.9h12.8v12.6h-12.8zM786.5 786.3h12.8v12.6h-12.8zM807.8 785h12.8v12.6h-12.8zM829 783.7h12.8v12.6h-12.8zM850.3 782.7h12.8v12.6h-12.8zM871.5 780.7h12.8v12.6h-12.8zM892.7 778.6h12.8v12.6h-12.8zM914 776.3h12.8v12.6h-12.8zM935.2 776.1h12.8v12.6h-12.8zM956.4 777.6h12.8v12.6h-12.8zM977.7 779.6h12.8v12.6h-12.8zM998.9 783.7h12.8v12.6h-12.8zM1020.1 788.3h12.8v12.6h-12.8zM1041.4 792.2h12.8v12.6h-12.8zM1062.6 796h12.8v12.6h-12.8zM1083.8 799.3h12.8v12.6h-12.8zM1105.1 802.4h12.8v12.6h-12.8zM1126.3 805h12.8v12.6h-12.8zM1147.6 806.7h12.8v12.6h-12.8zM1168.8 808.8h12.8v12.6h-12.8zM1190 810.6h12.8v12.6h-12.8zM1211.3 812.1h12.8v12.6h-12.8zM1253.7 821h12.8v12.6h-12.8zM1275 826.6h12.8v12.6h-12.8zM1296.2 832.5h12.8v12.6h-12.8zM1317.4 837.6h12.8v12.6h-12.8zM1338.7 842.8h12.8v12.6h-12.8zM1359.9 845.3h12.8v12.6h-12.8zM1381.2 847.4h12.8v12.6h-12.8zM1402.4 848.6h12.8v12.6h-12.8zM1423.6 849.9h12.8v12.6h-12.8zM1444.9 851.7h12.8v12.6h-12.8zM1466.1 853h12.8v12.6h-12.8zM1487.3 855.5h12.8v12.6h-12.8zM1508.6 856.3h12.8v12.6h-12.8zM1529.8 857.6h12.8v12.6h-12.8zM1551 857.6h12.8v12.6h-12.8zM1572.3 855.5h12.8v12.6h-12.8zM1593.5 853.5h12.8v12.6h-12.8zM1614.7 850.4h12.8v12.6h-12.8zM1636 848.6h12.8v12.6h-12.8zM1657.2 848.6h12.8v12.6h-12.8zM1678.5 850.9h12.8v12.6h-12.8zM1699.7 856.4h12.8v12.6h-12.8zM1720.9 863.5h12.8v12.6h-12.8zM1742.2 871.4h12.8v12.6h-12.8zM1763.4 879.6h12.8v12.6h-12.8zM1784.6 886h12.8v12.6h-12.8zM1805.9 890.2h12.8v12.6h-12.8zM1827.1 894.9h12.8v12.6h-12.8zM1848.3 897.4h12.8v12.6h-12.8zM1869.6 899.1h12.8v12.6h-12.8zM1890.8 899.1h12.8v12.6h-12.8zM1912.1 897.4h12.8v12.6h-12.8zM1933.3 900.9h12.8v12.6h-12.8zM1954.5 893.8h12.8v12.6h-12.8zM1975.8 892h12.8v12.6h-12.8zM1997 889.2h12.8v12.6h-12.8zM2018.2 886.7h12.8v12.6h-12.8zM2039.5 892h12.8v12.6h-12.8zM2060.7 892h12.8v12.6h-12.8zM2081.9 885.6h12.8v12.6h-12.8z"/>
<path fill="#f81a1a" d="M177.1 768.4L179.2 774.1L185.3 774.4L180.5 778.1L182.2 784L177.1 780.6L172 784L173.7 778.1L168.9 774.4L175 774.1zM219.6 770.5L221.7 776.1L227.8 776.4L223 780.2L224.6 786L219.6 782.7L214.5 786L216.1 780.2L211.4 776.4L217.4 776.1zM240.8 772.5L242.9 778.2L249 778.5L244.2 782.2L245.9 788.1L240.8 784.7L235.8 788.1L237.4 782.2L232.6 778.5L238.7 778.2zM262 774.6L264.2 780.2L270.2 780.5L265.5 784.3L267.1 790.1L262 786.8L257 790.1L258.6 784.3L253.9 780.5L259.9 780.2zM283.3 776.9L285.4 782.5L291.5 782.8L286.7 786.6L288.3 792.4L283.3 789.1L278.2 792.4L279.8 786.6L275.1 782.8L281.2 782.5zM304.5 779.4L306.6 785.1L312.7 785.4L308 789.1L309.6 795L304.5 791.6L299.5 795L301.1 789.1L296.3 785.4L302.4 785.1zM325.8 781.7L327.9 787.4L333.9 787.7L329.2 791.4L330.8 797.3L325.8 793.9L320.7 797.3L322.3 791.4L317.6 787.7L323.6 787.4zM347 784L349.1 789.7L355.2 790L350.4 793.7L352 799.6L347 796.2L341.9 799.6L343.6 793.7L338.8 790L344.9 789.7zM368.2 786.3L370.3 792L376.4 792.3L371.7 796L373.3 801.9L368.2 798.5L363.2 801.9L364.8 796L360 792.3L366.1 792zM389.5 788.6L391.6 794.3L397.6 794.6L392.9 798.3L394.5 804.2L389.5 800.8L384.4 804.2L386 798.3L381.3 794.6L387.3 794.3zM410.7 790.9L412.8 796.6L418.9 796.9L414.1 800.6L415.8 806.5L410.7 803.1L405.6 806.5L407.3 800.6L402.5 796.9L408.6 796.6zM431.9 794L434.1 799.7L440.1 799.9L435.4 803.7L437 809.6L431.9 806.2L426.9 809.6L428.5 803.7L423.8 799.9L429.8 799.7zM453.2 800.6L455.3 806.3L461.3 806.6L456.6 810.4L458.2 816.2L453.2 812.9L448.1 816.2L449.7 810.4L445 806.6L451 806.3zM474.4 808.8L476.5 814.5L482.6 814.8L477.8 818.5L479.5 824.4L474.4 821L469.3 824.4L471 818.5L466.2 814.8L472.3 814.5zM495.6 820.3L497.8 826L503.8 826.3L499.1 830.1L500.7 835.9L495.6 832.6L490.6 835.9L492.2 830.1L487.5 826.3L493.5 826zM516.9 833.9L519 839.6L525.1 839.8L520.3 843.6L521.9 849.5L516.9 846.1L511.8 849.5L513.4 843.6L508.7 839.8L514.8 839.6zM538.1 849.8L540.2 855.4L546.3 855.7L541.5 859.5L543.2 865.3L538.1 862L533.1 865.3L534.7 859.5L529.9 855.7L536 855.4zM559.3 866.4L561.5 872.1L567.5 872.3L562.8 876.1L564.4 881.9L559.3 878.6L554.3 881.9L555.9 876.1L551.2 872.3L557.2 872.1zM601.8 895.3L603.9 901L610 901.2L605.3 905L606.9 910.8L601.8 907.5L596.8 910.8L598.4 905L593.6 901.2L599.7 901zM623.1 904.7L625.2 910.4L631.2 910.7L626.5 914.5L628.1 920.3L623.1 917L618 920.3L619.6 914.5L614.9 910.7L620.9 910.4zM644.3 911.1L646.4 916.8L652.5 917.1L647.7 920.8L649.3 926.7L644.3 923.3L639.2 926.7L640.9 920.8L636.1 917.1L642.2 916.8zM665.5 913.2L667.7 918.9L673.7 919.1L669 922.9L670.6 928.7L665.5 925.4L660.5 928.7L662.1 922.9L657.3 919.1L663.4 918.9zM686.8 914.4L688.9 920.1L694.9 920.3L690.2 924.1L691.8 930L686.8 926.6L681.7 930L683.3 924.1L678.6 920.3L684.6 920.1zM708 914.9L710.1 920.6L716.2 920.9L711.4 924.6L713.1 930.5L708 927.1L702.9 930.5L704.6 924.6L699.8 920.9L705.9 920.6zM729.2 914.9L731.4 920.6L737.4 920.9L732.7 924.6L734.3 930.5L729.2 927.1L724.2 930.5L725.8 924.6L721.1 920.9L727.1 920.6zM750.5 914.9L752.6 920.6L758.7 920.9L753.9 924.6L755.5 930.5L750.5 927.1L745.4 930.5L747 924.6L742.3 920.9L748.3 920.6zM792.9 916.5L795.1 922.1L801.1 922.4L796.4 926.2L798 932L792.9 928.7L787.9 932L789.5 926.2L784.8 922.4L790.8 922.1zM814.2 917.5L816.3 923.2L822.4 923.4L817.6 927.2L819.2 933L814.2 929.7L809.1 933L810.7 927.2L806 923.4L812.1 923.2zM835.4 919L837.5 924.7L843.6 925L838.9 928.7L840.5 934.6L835.4 931.2L830.4 934.6L832 928.7L827.2 925L833.3 924.7zM856.7 920L858.8 925.7L864.8 926L860.1 929.7L861.7 935.6L856.7 932.2L851.6 935.6L853.2 929.7L848.5 926L854.5 925.7zM877.9 920.3L880 926L886.1 926.2L881.3 930L882.9 935.8L877.9 932.5L872.8 935.8L874.5 930L869.7 926.2L875.8 926zM899.1 920.3L901.2 926L907.3 926.2L902.6 930L904.2 935.8L899.1 932.5L894.1 935.8L895.7 930L890.9 926.2L897 926zM920.4 921.3L922.5 927L928.5 927.3L923.8 931L925.4 936.9L920.4 933.5L915.3 936.9L916.9 931L912.2 927.3L918.2 927zM941.6 923.4L943.7 929L949.8 929.3L945 933.1L946.7 938.9L941.6 935.6L936.5 938.9L938.2 933.1L933.4 929.3L939.5 929zM962.8 926.7L965 932.4L971 932.6L966.3 936.4L967.9 942.2L962.8 938.9L957.8 942.2L959.4 936.4L954.7 932.6L960.7 932.4zM984.1 932.3L986.2 938L992.2 938.3L987.5 942L989.1 947.9L984.1 944.5L979 947.9L980.6 942L975.9 938.3L981.9 938zM1005.3 939.5L1007.4 945.1L1013.5 945.4L1008.7 949.2L1010.4 955L1005.3 951.7L1000.2 955L1001.9 949.2L997.1 945.4L1003.2 945.1zM1026.5 947.7L1028.7 953.3L1034.7 953.6L1030 957.4L1031.6 963.2L1026.5 959.9L1021.5 963.2L1023.1 957.4L1018.4 953.6L1024.4 953.3zM1047.8 954.8L1049.9 960.5L1056 960.8L1051.2 964.5L1052.8 970.4L1047.8 967L1042.7 970.4L1044.3 964.5L1039.6 960.8L1045.7 960.5zM1069 961.2L1071.1 966.9L1077.2 967.2L1072.4 970.9L1074.1 976.8L1069 973.4L1064 976.8L1065.6 970.9L1060.8 967.2L1066.9 966.9zM1090.2 968.1L1092.4 973.8L1098.4 974.1L1093.7 977.8L1095.3 983.7L1090.2 980.3L1085.2 983.7L1086.8 977.8L1082.1 974.1L1088.1 973.8zM1111.5 974.5L1113.6 980.2L1119.7 980.5L1114.9 984.2L1116.5 990.1L1111.5 986.7L1106.4 990.1L1108 984.2L1103.3 980.5L1109.4 980.2zM1132.7 980.4L1134.8 986.1L1140.9 986.3L1136.2 990.1L1137.8 995.9L1132.7 992.6L1127.7 995.9L1129.3 990.1L1124.5 986.3L1130.6 986.1zM1154 986.5L1156.1 992.2L1162.1 992.5L1157.4 996.2L1159 1002.1L1154 998.7L1148.9 1002.1L1150.5 996.2L1145.8 992.5L1151.8 992.2zM1175.2 991.1L1177.3 996.8L1183.4 997.1L1178.6 1000.8L1180.2 1006.7L1175.2 1003.3L1170.1 1006.7L1171.8 1000.8L1167 997.1L1173.1 996.8zM1196.4 996.8L1198.6 1002.4L1204.6 1002.7L1199.9 1006.5L1201.5 1012.3L1196.4 1009L1191.4 1012.3L1193 1006.5L1188.2 1002.7L1194.3 1002.4zM1217.7 1002.6L1219.8 1008.3L1225.8 1008.6L1221.1 1012.4L1222.7 1018.2L1217.7 1014.9L1212.6 1018.2L1214.2 1012.4L1209.5 1008.6L1215.5 1008.3zM1260.1 1014.4L1262.3 1020L1268.3 1020.3L1263.6 1024.1L1265.2 1029.9L1260.1 1026.6L1255.1 1029.9L1256.7 1024.1L1252 1020.3L1258 1020zM1281.4 1019.5L1283.5 1025.1L1289.6 1025.4L1284.8 1029.2L1286.4 1035L1281.4 1031.7L1276.3 1035L1277.9 1029.2L1273.2 1025.4L1279.2 1025.1zM1302.6 1024.6L1304.7 1030.3L1310.8 1030.5L1306 1034.3L1307.7 1040.1L1302.6 1036.8L1297.6 1040.1L1299.2 1034.3L1294.4 1030.5L1300.5 1030.3zM1323.8 1028.2L1326 1033.8L1332 1034.1L1327.3 1037.9L1328.9 1043.7L1323.8 1040.4L1318.8 1043.7L1320.4 1037.9L1315.7 1034.1L1321.7 1033.8zM1345.1 1030.7L1347.2 1036.4L1353.3 1036.7L1348.5 1040.4L1350.1 1046.3L1345.1 1042.9L1340 1046.3L1341.6 1040.4L1336.9 1036.7L1343 1036.4zM1366.3 1030.7L1368.4 1036.4L1374.5 1036.7L1369.8 1040.4L1371.4 1046.3L1366.3 1042.9L1361.3 1046.3L1362.9 1040.4L1358.1 1036.7L1364.2 1036.4zM1387.6 1030.2L1389.7 1035.9L1395.7 1036.2L1391 1039.9L1392.6 1045.8L1387.6 1042.4L1382.5 1045.8L1384.1 1039.9L1379.4 1036.2L1385.4 1035.9zM1408.8 1027.7L1410.9 1033.3L1417 1033.6L1412.2 1037.4L1413.8 1043.2L1408.8 1039.9L1403.7 1043.2L1405.4 1037.4L1400.6 1033.6L1406.7 1033.3zM1430 1027.1L1432.1 1032.8L1438.2 1033.1L1433.5 1036.9L1435.1 1042.7L1430 1039.4L1425 1042.7L1426.6 1036.9L1421.8 1033.1L1427.9 1032.8zM1451.3 1028.2L1453.4 1033.8L1459.4 1034.1L1454.7 1037.9L1456.3 1043.7L1451.3 1040.4L1446.2 1043.7L1447.8 1037.9L1443.1 1034.1L1449.1 1033.8zM1472.5 1030.7L1474.6 1036.4L1480.7 1036.7L1475.9 1040.4L1477.6 1046.3L1472.5 1042.9L1467.4 1046.3L1469.1 1040.4L1464.3 1036.7L1470.4 1036.4zM1493.7 1034L1495.9 1039.7L1501.9 1040L1497.2 1043.8L1498.8 1049.6L1493.7 1046.3L1488.7 1049.6L1490.3 1043.8L1485.6 1040L1491.6 1039.7zM1515 1037.9L1517.1 1043.6L1523.1 1043.8L1518.4 1047.6L1520 1053.4L1515 1050.1L1509.9 1053.4L1511.5 1047.6L1506.8 1043.8L1512.8 1043.6zM1536.2 1041.7L1538.3 1047.4L1544.4 1047.7L1539.6 1051.4L1541.3 1057.3L1536.2 1053.9L1531.1 1057.3L1532.8 1051.4L1528 1047.7L1534.1 1047.4zM1557.4 1045L1559.6 1050.7L1565.6 1051L1560.9 1054.8L1562.5 1060.6L1557.4 1057.3L1552.4 1060.6L1554 1054.8L1549.3 1051L1555.3 1050.7zM1578.7 1047.6L1580.8 1053.3L1586.9 1053.5L1582.1 1057.3L1583.7 1063.2L1578.7 1059.8L1573.6 1063.2L1575.2 1057.3L1570.5 1053.5L1576.6 1053.3zM1599.9 1049.4L1602 1055.1L1608.1 1055.3L1603.3 1059.1L1605 1065L1599.9 1061.6L1594.9 1065L1596.5 1059.1L1591.7 1055.3L1597.8 1055.1zM1621.1 1054.5L1623.3 1060.2L1629.3 1060.5L1624.6 1064.2L1626.2 1070.1L1621.1 1066.7L1616.1 1070.1L1617.7 1064.2L1613 1060.5L1619 1060.2zM1642.4 1059.6L1644.5 1065.3L1650.6 1065.6L1645.8 1069.3L1647.4 1075.2L1642.4 1071.8L1637.3 1075.2L1638.9 1069.3L1634.2 1065.6L1640.3 1065.3zM1663.6 1064.7L1665.7 1070.4L1671.8 1070.7L1667.1 1074.5L1668.7 1080.3L1663.6 1077L1658.6 1080.3L1660.2 1074.5L1655.4 1070.7L1661.5 1070.4zM1684.9 1074.2L1687 1079.9L1693 1080.1L1688.3 1083.9L1689.9 1089.8L1684.9 1086.4L1679.8 1089.8L1681.4 1083.9L1676.7 1080.1L1682.7 1079.9zM1706.1 1087.8L1708.2 1093.5L1714.3 1093.7L1709.5 1097.5L1711.1 1103.4L1706.1 1100L1701 1103.4L1702.7 1097.5L1697.9 1093.7L1704 1093.5zM1727.3 1106.7L1729.5 1112.3L1735.5 1112.6L1730.8 1116.4L1732.4 1122.2L1727.3 1118.9L1722.3 1122.2L1723.9 1116.4L1719.1 1112.6L1725.2 1112.3zM1748.6 1129.5L1750.7 1135.1L1756.7 1135.4L1752 1139.2L1753.6 1145L1748.6 1141.7L1743.5 1145L1745.1 1139.2L1740.4 1135.4L1746.4 1135.1zM1769.8 1155.4L1771.9 1161.1L1778 1161.4L1773.2 1165.2L1774.9 1171L1769.8 1167.7L1764.7 1171L1766.4 1165.2L1761.6 1161.4L1767.7 1161.1zM1791 1183.9L1793.2 1189.6L1799.2 1189.9L1794.5 1193.6L1796.1 1199.5L1791 1196.1L1786 1199.5L1787.6 1193.6L1782.9 1189.9L1788.9 1189.6zM1812.3 1213.5L1814.4 1219.1L1820.5 1219.4L1815.7 1223.2L1817.3 1229L1812.3 1225.7L1807.2 1229L1808.8 1223.2L1804.1 1219.4L1810.1 1219.1zM1833.5 1242.7L1835.6 1248.3L1841.7 1248.6L1836.9 1252.4L1838.6 1258.2L1833.5 1254.9L1828.5 1258.2L1830.1 1252.4L1825.3 1248.6L1831.4 1248.3zM1854.7 1270.1L1856.9 1275.7L1862.9 1276L1858.2 1279.8L1859.8 1285.6L1854.7 1282.3L1849.7 1285.6L1851.3 1279.8L1846.6 1276L1852.6 1275.7zM1876 1294.3L1878.1 1300L1884.2 1300.2L1879.4 1304L1881 1309.8L1876 1306.5L1870.9 1309.8L1872.5 1304L1867.8 1300.2L1873.9 1300zM1897.2 1313.9L1899.3 1319.5L1905.4 1319.8L1900.7 1323.6L1902.3 1329.4L1897.2 1326.1L1892.2 1329.4L1893.8 1323.6L1889 1319.8L1895.1 1319.5zM1918.5 1328.1L1920.6 1333.8L1926.6 1334L1921.9 1337.8L1923.5 1343.7L1918.5 1340.3L1913.4 1343.7L1915 1337.8L1910.3 1334L1916.3 1333.8zM1939.7 1338.1L1941.8 1343.7L1947.9 1344L1943.1 1347.8L1944.7 1353.6L1939.7 1350.3L1934.6 1353.6L1936.3 1347.8L1931.5 1344L1937.6 1343.7zM1960.9 1341.6L1963 1347.3L1969.1 1347.6L1964.4 1351.3L1966 1357.2L1960.9 1353.8L1955.9 1357.2L1957.5 1351.3L1952.7 1347.6L1958.8 1347.3zM1982.2 1340.6L1984.3 1346.2L1990.3 1346.5L1985.6 1350.3L1987.2 1356.1L1982.2 1352.8L1977.1 1356.1L1978.7 1350.3L1974 1346.5L1980 1346.2zM2003.4 1337L2005.5 1342.7L2011.6 1342.9L2006.8 1346.7L2008.5 1352.6L2003.4 1349.2L1998.3 1352.6L2000 1346.7L1995.2 1342.9L2001.3 1342.7zM2024.6 1333.4L2026.8 1339.1L2032.8 1339.4L2028.1 1343.2L2029.7 1349L2024.6 1345.6L2019.6 1349L2021.2 1343.2L2016.5 1339.4L2022.5 1339.1zM2045.9 1329.9L2048 1335.6L2054 1335.8L2049.3 1339.6L2050.9 1345.4L2045.9 1342.1L2040.8 1345.4L2042.4 1339.6L2037.7 1335.8L2043.7 1335.6zM2067.1 1327.4L2069.2 1333.1L2075.3 1333.3L2070.5 1337.1L2072.2 1342.9L2067.1 1339.6L2062 1342.9L2063.7 1337.1L2058.9 1333.3L2065 1333.1zM2088.3 1326.3L2090.5 1332L2096.5 1332.3L2091.8 1336L2093.4 1341.9L2088.3 1338.5L2083.3 1341.9L2084.9 1336L2080.2 1332.3L2086.2 1332z"/>
<g fill="#9c7ccc"><circle cx="177.1" cy="776.5" r="7"/><circle cx="219.6" cy="778.6" r="7"/><circle cx="240.8" cy="780.1" r="7"/><circle cx="262" cy="781.9" r="7"/><circle cx="283.3" cy="783.9" r="7"/><circle cx="304.5" cy="786.2" r="7"/><circle cx="325.8" cy="788.8" r="7"/><circle cx="347" cy="791.4" r="7"/><circle cx="368.2" cy="793.9" r="7"/><circle cx="389.5" cy="795.2" r="7"/><circle cx="410.7" cy="796.5" r="7"/><circle cx="431.9" cy="799" r="7"/><circle cx="453.2" cy="801.6" r="7"/><circle cx="474.4" cy="808.7" r="7"/><circle cx="495.6" cy="817.4" r="7"/><circle cx="516.9" cy="829.7" r="7"/><circle cx="538.1" cy="842.5" r="7"/><circle cx="559.3" cy="855.3" r="7"/><circle cx="601.8" cy="876.3" r="7"/><circle cx="623.1" cy="880.9" r="7"/><circle cx="644.3" cy="882.9" r="7"/><circle cx="665.5" cy="880.9" r="7"/><circle cx="686.8" cy="876" r="7"/><circle cx="708" cy="875.2" r="7"/><circle cx="729.2" cy="873.4" r="7"/><circle cx="750.5" cy="873.4" r="7"/><circle cx="792.9" cy="876" r="7"/><circle cx="814.2" cy="878.5" r="7"/><circle cx="835.4" cy="880.3" r="7"/><circle cx="856.7" cy="882.1" r="7"/><circle cx="877.9" cy="882.9" r="7"/><circle cx="899.1" cy="882.9" r="7"/><circle cx="920.4" cy="882.9" r="7"/><circle cx="941.6" cy="884.1" r="7"/><circle cx="962.8" cy="888" r="7"/><circle cx="984.1" cy="893.1" r="7"/><circle cx="1005.3" cy="899.5" r="7"/><circle cx="1026.5" cy="907.2" r="7"/><circle cx="1047.8" cy="914.8" r="7"/><circle cx="1069" cy="922" r="7"/><circle cx="1090.2" cy="929.7" r="7"/><circle cx="1111.5" cy="936.6" r="7"/><circle cx="1132.7" cy="943.5" r="7"/><circle cx="1154" cy="950.1" r="7"/><circle cx="1175.2" cy="955.8" r="7"/><circle cx="1196.4" cy="960.4" r="7"/><circle cx="1217.7" cy="964.7" r="7"/><circle cx="1260.1" cy="972.3" r="7"/><circle cx="1281.4" cy="975.7" r="7"/><circle cx="1302.6" cy="978.7" r="7"/><circle cx="1323.8" cy="981.5" r="7"/><circle cx="1345.1" cy="983.8" r="7"/><circle cx="1366.3" cy="984.6" r="7"/><circle cx="1387.6" cy="985.9" r="7"/><circle cx="1408.8" cy="987.9" r="7"/><circle cx="1430" cy="991" r="7"/><circle cx="1451.3" cy="994.3" r="7"/><circle cx="1472.5" cy="998.7" r="7"/><circle cx="1493.7" cy="1003" r="7"/><circle cx="1515" cy="1006.3" r="7"/><circle cx="1536.2" cy="1009.7" r="7"/><circle cx="1557.4" cy="1010.7" r="7"/><circle cx="1578.7" cy="1010.2" r="7"/><circle cx="1599.9" cy="1008.9" r="7"/><circle cx="1621.1" cy="1006.9" r="7"/><circle cx="1642.4" cy="1006.3" r="7"/><circle cx="1663.6" cy="1007.6" r="7"/><circle cx="1684.9" cy="1012.7" r="7"/><circle cx="1706.1" cy="1023.6" r="7"/><circle cx="1727.3" cy="1037.2" r="7"/><circle cx="1748.6" cy="1055" r="7"/><circle cx="1769.8" cy="1076.3" r="7"/><circle cx="1791" cy="1099.5" r="7"/><circle cx="1812.3" cy="1124.4" r="7"/><circle cx="1833.5" cy="1150.4" r="7"/><circle cx="1854.7" cy="1174.2" r="7"/><circle cx="1876" cy="1198.1" r="7"/><circle cx="1897.2" cy="1216.9" r="7"/><circle cx="1918.5" cy="1231.2" r="7"/><circle cx="1939.7" cy="1239.4" r="7"/><circle cx="1960.9" cy="1242.9" r="7"/><circle cx="1982.2" cy="1242.9" r="7"/><circle cx="2003.4" cy="1241.1" r="7"/><circle cx="2024.6" cy="1239" r="7"/><circle cx="2045.9" cy="1237.6" r="7"/><circle cx="2067.1" cy="1237.6" r="7"/><circle cx="2088.3" cy="1239" r="7"/></g>
<path fill="#82fcfc" d="M177.1 767.5l9 9-9 9-9-9zM219.6 773.4l9 9-9 9-9-9zM240.8 776l9 9-9 9-9-9zM262 778.5l9 9-9 9-9-9zM283.3 779.8l9 9-9 9-9-9zM304.5 782.4l9 9-9 9-9-9zM325.8 783.6l9 9-9 9-9-9zM347 784.9l9 9-9 9-9-9zM368.2 784.9l9 9-9 9-9-9zM389.5 784.9l9 9-9 9-9-9zM410.7 783.6l9 9-9 9-9-9zM431.9 779.8l9 9-9 9-9-9zM453.2 777.2l9 9-9 9-9-9zM474.4 778.5l9 9-9 9-9-9zM495.6 779.8l9 9-9 9-9-9zM516.9 787.5l9 9-9 9-9-9zM538.1 797.7l9 9-9 9-9-9zM559.3 807.9l9 9-9 9-9-9zM601.8 825.3l9 9-9 9-9-9zM623.1 828.4l9 9-9 9-9-9zM644.3 827.1l9 9-9 9-9-9zM665.5 822.8l9 9-9 9-9-9zM686.8 816.3l9 9-9 9-9-9zM708 809.9l9 9-9 9-9-9zM729.2 803.5l9 9-9 9-9-9zM750.5 798.9l9 9-9 9-9-9zM792.9 796.4l9 9-9 9-9-9zM814.2 797.6l9 9-9 9-9-9zM835.4 798.9l9 9-9 9-9-9zM856.7 800.2l9 9-9 9-9-9zM877.9 801l9 9-9 9-9-9zM899.1 801.5l9 9-9 9-9-9zM920.4 802.8l9 9-9 9-9-9zM941.6 805.3l9 9-9 9-9-9zM962.8 810.4l9 9-9 9-9-9zM984.1 818.1l9 9-9 9-9-9zM1005.3 828.3l9 9-9 9-9-9zM1026.5 839.3l9 9-9 9-9-9zM1047.8 850.8l9 9-9 9-9-9zM1069 863.6l9 9-9 9-9-9zM1090.2 877.7l9 9-9 9-9-9zM1111.5 891.8l9 9-9 9-9-9zM1132.7 908.4l9 9-9 9-9-9zM1154 923.7l9 9-9 9-9-9zM1175.2 939.6l9 9-9 9-9-9zM1196.4 953.9l9 9-9 9-9-9zM1217.7 966.4l9 9-9 9-9-9zM1260.1 987.1l9 9-9 9-9-9zM1281.4 995.6l9 9-9 9-9-9zM1302.6 1003.7l9 9-9 9-9-9zM1323.8 1011.4l9 9-9 9-9-9zM1345.1 1017.8l9 9-9 9-9-9zM1366.3 1022.9l9 9-9 9-9-9zM1387.6 1027.3l9 9-9 9-9-9zM1408.8 1030.6l9 9-9 9-9-9zM1430 1034.4l9 9-9 9-9-9zM1451.3 1038.3l9 9-9 9-9-9zM1472.5 1042.1l9 9-9 9-9-9zM1493.7 1045.2l9 9-9 9-9-9zM1515 1048.5l9 9-9 9-9-9zM1536.2 1051.1l9 9-9 9-9-9zM1557.4 1052.3l9 9-9 9-9-9zM1578.7 1052.3l9 9-9 9-9-9zM1599.9 1051.6l9 9-9 9-9-9zM1621.1 1049.8l9 9-9 9-9-9zM1642.4 1048.5l9 9-9 9-9-9zM1663.6 1049.3l9 9-9 9-9-9zM1684.9 1052.3l9 9-9 9-9-9zM1706.1 1057.7l9 9-9 9-9-9zM1727.3 1066.6l9 9-9 9-9-9zM1748.6 1078l9 9-9 9-9-9zM1769.8 1092.2l9 9-9 9-9-9zM1791 1108.3l9 9-9 9-9-9zM1812.3 1127.8l9 9-9 9-9-9zM1833.5 1149.2l9 9-9 9-9-9zM1854.7 1173.4l9 9-9 9-9-9zM1876 1195.5l9 9-9 9-9-9zM1897.2 1217.6l9 9-9 9-9-9zM1918.5 1236.4l9 9-9 9-9-9zM1939.7 1251.7l9 9-9 9-9-9zM1960.9 1261.3l9 9-9 9-9-9zM1982.2 1268.5l9 9-9 9-9-9zM2003.4 1273.1l9 9-9 9-9-9zM2024.6 1277.4l9 9-9 9-9-9zM2045.9 1282l9 9-9 9-9-9zM2067.1 1285.5l9 9-9 9-9-9zM2088.3 1289.8l9 9-9 9-9-9z"/>
<path fill="#ff00ff" d="M177.1 768.2l8.3 15.5h-16.6zM219.6 767.7l8.3 15.5h-16.6zM240.8 767.7l8.3 15.5h-16.6zM262 769l8.3 15.5h-16.6zM283.3 770.3l8.3 15.5h-16.6zM304.5 771.5l8.3 15.5h-16.6zM325.8 772.8l8.3 15.5h-16.6zM347 773.3l8.3 15.5h-16.6zM368.2 774.1l8.3 15.5h-16.6zM389.5 774.1l8.3 15.5h-16.6zM410.7 774.1l8.3 15.5h-16.6zM431.9 775.4l8.3 15.5h-16.6zM453.2 779.2l8.3 15.5h-16.6zM474.4 783.1l8.3 15.5h-16.6zM495.6 790.7l8.3 15.5h-16.6zM516.9 802.2l8.3 15.5h-16.6zM538.1 813.7l8.3 15.5h-16.6zM559.3 827.8l8.3 15.5h-16.6zM601.8 852.1l8.3 15.5h-16.6zM623.1 860.3l8.3 15.5h-16.6zM644.3 866.2l8.3 15.5h-16.6zM665.5 868.7l8.3 15.5h-16.6zM686.8 870.7l8.3 15.5h-16.6zM708 873.3l8.3 15.5h-16.6zM729.2 877.1l8.3 15.5h-16.6zM750.5 880.4l8.3 15.5h-16.6zM792.9 888.6l8.3 15.5h-16.6zM814.2 891.2l8.3 15.5h-16.6zM835.4 892.5l8.3 15.5h-16.6zM856.7 893.2l8.3 15.5h-16.6zM877.9 892.5l8.3 15.5h-16.6zM899.1 891.7l8.3 15.5h-16.6zM920.4 890.7l8.3 15.5h-16.6zM941.6 890.7l8.3 15.5h-16.6zM962.8 892.5l8.3 15.5h-16.6zM984.1 896.3l8.3 15.5h-16.6zM1005.3 901.4l8.3 15.5h-16.6zM1026.5 908.6l8.3 15.5h-16.6zM1047.8 916.3l8.3 15.5h-16.6zM1069 926.5l8.3 15.5h-16.6zM1090.2 938.5l8.3 15.5h-16.6zM1111.5 951.3l8.3 15.5h-16.6zM1132.7 966.6l8.3 15.5h-16.6zM1154 983.3l8.3 15.5h-16.6zM1175.2 997.3l8.3 15.5h-16.6zM1196.4 1012.7l8.3 15.5h-16.6zM1217.7 1025.5l8.3 15.5h-16.6zM1260.1 1044.8l8.3 15.5h-16.6zM1281.4 1053l8.3 15.5h-16.6zM1302.6 1060.2l8.3 15.5h-16.6zM1323.8 1067.1l8.3 15.5h-16.6zM1345.1 1073.5l8.3 15.5h-16.6zM1366.3 1078.6l8.3 15.5h-16.6zM1387.6 1083.2l8.3 15.5h-16.6zM1408.8 1087.6l8.3 15.5h-16.6zM1430 1091.4l8.3 15.5h-16.6zM1451.3 1096l8.3 15.5h-16.6zM1472.5 1100.3l8.3 15.5h-16.6zM1493.7 1104.2l8.3 15.5h-16.6zM1515 1106.7l8.3 15.5h-16.6zM1536.2 1108.8l8.3 15.5h-16.6zM1557.4 1108.8l8.3 15.5h-16.6zM1578.7 1107.2l8.3 15.5h-16.6zM1599.9 1104.9l8.3 15.5h-16.6zM1621.1 1102.9l8.3 15.5h-16.6zM1642.4 1101.1l8.3 15.5h-16.6zM1663.6 1102.1l8.3 15.5h-16.6zM1684.9 1106.2l8.3 15.5h-16.6zM1706.1 1113.6l8.3 15.5h-16.6zM1727.3 1124.3l8.3 15.5h-16.6zM1748.6 1136.4l8.3 15.5h-16.6zM1769.8 1152.7l8.3 15.5h-16.6zM1791 1169.5l8.3 15.5h-16.6zM1812.3 1190.1l8.3 15.5h-16.6zM1833.5 1213.3l8.3 15.5h-16.6zM1854.7 1236.1l8.3 15.5h-16.6zM1876 1261l8.3 15.5h-16.6zM1897.2 1283.4l8.3 15.5h-16.6zM1918.5 1302.3l8.3 15.5h-16.6zM1939.7 1315.4l8.3 15.5h-16.6zM1960.9 1324.3l8.3 15.5h-16.6zM1982.2 1331.5l8.3 15.5h-16.6zM2003.4 1335l8.3 15.5h-16.6zM2024.6 1335.7l8.3 15.5h-16.6zM2045.9 1336.8l8.3 15.5h-16.6zM2067.1 1336.8l8.3 15.5h-16.6zM2088.3 1336.8l8.3 15.5h-16.6z"/>
<defs><linearGradient id="band" x1="0" y1="0" x2="0" y2="1"><stop offset="0" stop-color="#0000b2" stop-opacity="0.016"/><stop offset="0.35" stop-color="#0000b2" stop-opacity="0.075"/><stop offset="0.7" stop-color="#0000b2" stop-opacity="0.176"/><stop offset="1" stop-color="#0000b2" stop-opacity="0.196"/></linearGradient></defs>
<rect x="362.5" y="630.4" width="314.5" height="884.8" fill="url(#band)"/>
<rect x="1019" y="630.4" width="314" height="884.8" fill="url(#band)"/>
<rect x="1644" y="630.4" width="313.5" height="884.8" fill="url(#band)"/>
<path d="M146.7 628.9H2125.4" stroke="#000" stroke-width="3.2"/>
<path d="M146.7 1517.2H2125.4" stroke="#000" stroke-width="4.5"/>
<path d="M2123.6 627.3V1519.4" stroke="#000" stroke-width="3.7"/>
<path d="M146.7 627.3V1519.4" stroke="#0000ff" stroke-width="3.2"/>
<path d="M146.7 1517.2h20M146.7 1467.9h10M146.7 1418.5h20M146.7 1369.2h10M146.7 1319.8h20M146.7 1270.5h10M146.7 1221.1h20M146.7 1171.8h10M146.7 1122.4h20M146.7 1073h10M146.7 1023.7h20M146.7 974.4h10M146.7 925h20M146.7 875.6h10M146.7 826.3h20M146.7 776.9h10M146.7 727.6h20M146.7 678.2h10M146.7 628.9h20" stroke="#0000ff" stroke-width="3.6"/>
<path d="M2122.1 628.9h-20M2122.1 678.2h-10M2122.1 727.6h-20M2122.1 777h-10M2122.1 826.3h-20M2122.1 875.6h-10M2122.1 925h-20M2122.1 974.4h-10M2122.1 1023.7h-20M2122.1 1073h-10M2122.1 1122.4h-20M2122.1 1171.8h-10M2122.1 1221.1h-20M2122.1 1270.5h-10M2122.1 1319.8h-20M2122.1 1369.2h-10M2122.1 1418.5h-20M2122.1 1467.8h-10M2122.1 1517.2h-20" stroke="#000" stroke-width="3.6"/>
<g font-family="'Liberation Sans', Arial, sans-serif" font-style="italic" font-size="35" fill="#0000ff" text-anchor="end">
<text x="124" y="1529.7">0</text>
<text x="124" y="1431">4</text>
<text x="124" y="1332.3">8</text>
<text x="124" y="1233.6">12</text>
<text x="124" y="1134.9">16</text>
<text x="124" y="1036.2">20</text>
<text x="124" y="937.5">24</text>
<text x="124" y="838.8">28</text>
<text x="124" y="740.1">32</text>
<text x="124" y="641.4">36</text>
</g>
<g font-family="'Liberation Sans', Arial, sans-serif" font-style="italic" font-size="35" fill="#000">
<text x="2148" y="641.4">18</text>
<text x="2148" y="740.1">6</text>
<text x="2148" y="838.8">-6</text>
<text x="2148" y="937.5">-18</text>
<text x="2148" y="1036.2">-30</text>
<text x="2148" y="1134.9">-42</text>
<text x="2148" y="1233.6">-54</text>
<text x="2148" y="1332.3">-66</text>
<text x="2148" y="1431">-78</text>
<text x="2148" y="1529.7">-90</text>
</g>
<g font-family="'Liberation Sans', Arial, sans-serif" font-style="italic" font-size="35" fill="#000" text-anchor="middle">
<text x="168.4" y="1568.5">201801</text>
<text x="328.9" y="1568.5">201804</text>
<text x="490.3" y="1568.5">201807</text>
<text x="653" y="1568.5">201810</text>
<text x="814.7" y="1568.5">201901</text>
<text x="974.9" y="1568.5">201904</text>
<text x="1135" y="1568.5">201907</text>
<text x="1298" y="1568.5">201910</text>
<text x="1460.6" y="1568.5">202001</text>
<text x="1622" y="1568.5">202004</text>
<text x="1783.3" y="1568.5">202007</text>
<text x="1945.8" y="1568.5">202010</text>
<text x="2108" y="1568.5">202101</text>
</g>
<text x="1148" y="1625" font-family="'Liberation Sans', Arial, sans-serif" font-style="italic" font-size="50.5" text-anchor="middle">Date</text>
<text transform="translate(62 1072) rotate(-90)" font-family="'Liberation Sans', Arial, sans-serif" font-style="italic" font-size="50.5" fill="#0000ff" text-anchor="middle">Daily rainfall (mm)</text>
<text transform="translate(2255 1063.6) rotate(-90)" font-family="'Liberation Sans', Arial, sans-serif" font-style="italic" font-size="50" fill="#000" text-anchor="middle">LOS accumulated displacement (mm)</text>
<rect x="160" y="636" width="82" height="56" fill="#fff"/>
<text x="159" y="681" font-family="'Liberation Sans', Arial, sans-serif" font-size="59">(D)</text>
<g font-family="'Liberation Sans', Arial, sans-serif" font-size="35.5" text-anchor="middle">
<text x="519.8" y="678">Rainy season</text>
<text x="1176" y="678">Rainy season</text>
<text x="1800.8" y="678">Rainy season</text>
</g>
<path fill="#2ea32a" d="M1853.8 706.9h12.8v12.6h-12.8z"/>
<path fill="#f41a1a" d="M1992.2 704.5L1994.3 710.1L2000.3 710.4L1995.6 714.1L1997.2 719.9L1992.2 716.6L1987.2 719.9L1988.8 714.1L1984.1 710.4L1990.1 710.1z"/>
<circle cx="1860.6" cy="753.2" r="7.2" fill="#9b78cc"/>
<path fill="#86fbfc" d="M1992.2 744.7l9 9-9 9-9-9z"/>
<path fill="#fb0afb" d="M1860.6 783.7l8.3 15.5h-16.6z"/>
<g font-family="'Liberation Sans', Arial, sans-serif" font-style="italic" font-size="34">
<text x="1906" y="724">P1</text><text x="2038" y="724">P2</text>
<text x="1906" y="764.2">P3</text><text x="2038" y="764.2">P4</text>
<text x="1906" y="804.3">P5</text>
</g>
</g>
</svg></body></html>
